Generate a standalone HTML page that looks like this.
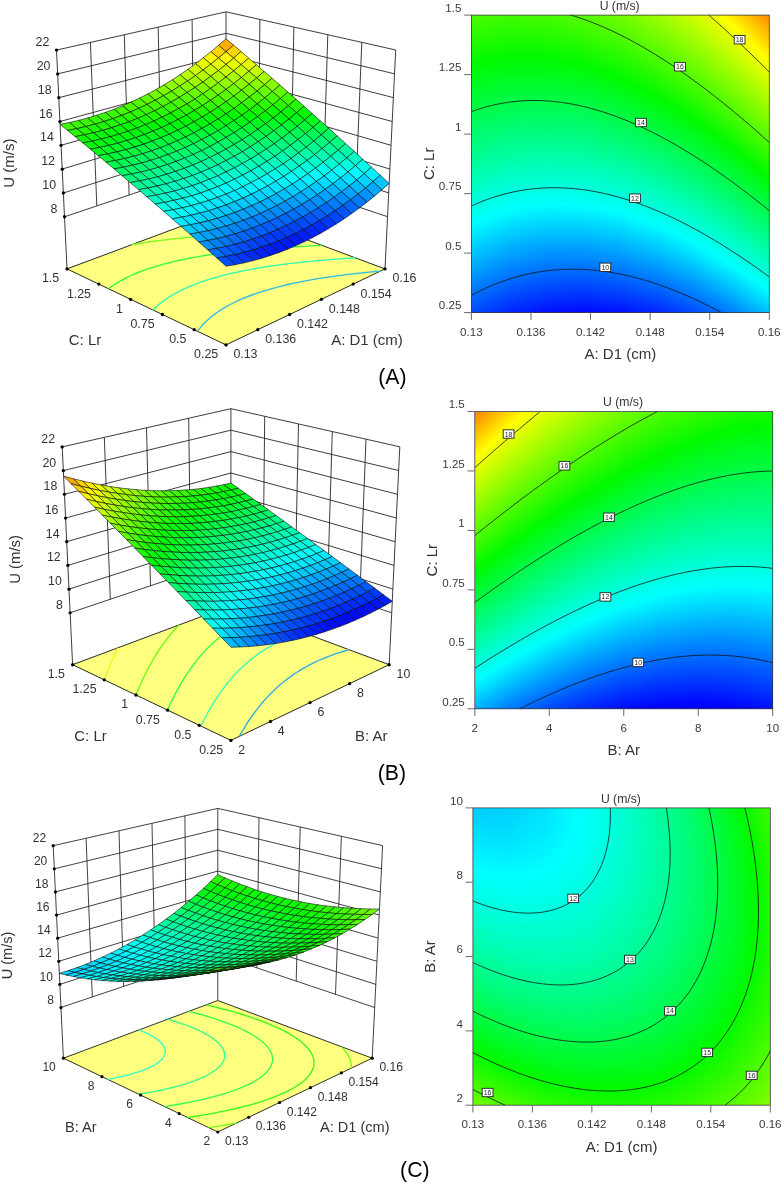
<!DOCTYPE html>
<html><head><meta charset="utf-8"><title>Figure</title>
<style>html,body{margin:0;padding:0;background:#fff}svg{display:block;will-change:transform}text{font-family:"Liberation Sans",Arial,sans-serif}</style>
</head><body>
<svg width="783" height="1183" viewBox="0 0 783 1183">
<defs><linearGradient id="a0"><stop offset="0" stop-color="#48fb00"/><stop offset="0.125" stop-color="#40fb00"/><stop offset="0.25" stop-color="#44fb00"/><stop offset="0.375" stop-color="#54fc00"/><stop offset="0.5" stop-color="#71fc00"/><stop offset="0.625" stop-color="#99fd00"/><stop offset="0.75" stop-color="#cefe00"/><stop offset="0.846" stop-color="#ffff00"/><stop offset="0.875" stop-color="#ffeb00"/><stop offset="1" stop-color="#ff8b00"/></linearGradient>
<linearGradient id="a1"><stop offset="0" stop-color="#44fb00"/><stop offset="0.125" stop-color="#3bfb00"/><stop offset="0.25" stop-color="#3ffb00"/><stop offset="0.375" stop-color="#4ffc00"/><stop offset="0.5" stop-color="#6bfc00"/><stop offset="0.625" stop-color="#94fd00"/><stop offset="0.75" stop-color="#c8fe00"/><stop offset="0.857" stop-color="#ffff00"/><stop offset="0.875" stop-color="#fff200"/><stop offset="1" stop-color="#ff9300"/></linearGradient>
<linearGradient id="a2"><stop offset="0" stop-color="#3ffb00"/><stop offset="0.125" stop-color="#37fb00"/><stop offset="0.25" stop-color="#3afb00"/><stop offset="0.375" stop-color="#4afb00"/><stop offset="0.5" stop-color="#66fc00"/><stop offset="0.625" stop-color="#8efd00"/><stop offset="0.75" stop-color="#c3fe00"/><stop offset="0.867" stop-color="#ffff00"/><stop offset="0.875" stop-color="#fffa00"/><stop offset="1" stop-color="#ff9a00"/></linearGradient>
<linearGradient id="a3"><stop offset="0" stop-color="#3bfb00"/><stop offset="0.125" stop-color="#32fb00"/><stop offset="0.25" stop-color="#35fb00"/><stop offset="0.375" stop-color="#45fb00"/><stop offset="0.5" stop-color="#61fc00"/><stop offset="0.625" stop-color="#89fd00"/><stop offset="0.75" stop-color="#bdfe00"/><stop offset="0.875" stop-color="#fdff00"/><stop offset="0.878" stop-color="#ffff00"/><stop offset="1" stop-color="#ffa200"/></linearGradient>
<linearGradient id="a4"><stop offset="0" stop-color="#36fb00"/><stop offset="0.125" stop-color="#2dfb00"/><stop offset="0.25" stop-color="#30fb00"/><stop offset="0.375" stop-color="#40fb00"/><stop offset="0.5" stop-color="#5bfc00"/><stop offset="0.625" stop-color="#83fd00"/><stop offset="0.75" stop-color="#b7fe00"/><stop offset="0.875" stop-color="#f7ff00"/><stop offset="0.889" stop-color="#ffff00"/><stop offset="1" stop-color="#ffaa00"/></linearGradient>
<linearGradient id="a5"><stop offset="0" stop-color="#32fb00"/><stop offset="0.125" stop-color="#29fb00"/><stop offset="0.25" stop-color="#2bfb00"/><stop offset="0.375" stop-color="#3bfb00"/><stop offset="0.5" stop-color="#56fc00"/><stop offset="0.625" stop-color="#7dfc00"/><stop offset="0.75" stop-color="#b1fd00"/><stop offset="0.875" stop-color="#f1ff00"/><stop offset="0.899" stop-color="#ffff00"/><stop offset="1" stop-color="#ffb200"/></linearGradient>
<linearGradient id="a6"><stop offset="0" stop-color="#2dfb00"/><stop offset="0.125" stop-color="#24fb00"/><stop offset="0.25" stop-color="#26fb00"/><stop offset="0.375" stop-color="#35fb00"/><stop offset="0.5" stop-color="#50fc00"/><stop offset="0.625" stop-color="#78fc00"/><stop offset="0.75" stop-color="#abfd00"/><stop offset="0.875" stop-color="#ebff00"/><stop offset="0.91" stop-color="#ffff00"/><stop offset="1" stop-color="#ffb900"/></linearGradient>
<linearGradient id="a7"><stop offset="0" stop-color="#29fb00"/><stop offset="0.125" stop-color="#1ffb00"/><stop offset="0.25" stop-color="#22fb00"/><stop offset="0.375" stop-color="#30fb00"/><stop offset="0.5" stop-color="#4bfb00"/><stop offset="0.625" stop-color="#72fc00"/><stop offset="0.75" stop-color="#a5fd00"/><stop offset="0.875" stop-color="#e5fe00"/><stop offset="0.92" stop-color="#ffff00"/><stop offset="1" stop-color="#ffc100"/></linearGradient>
<linearGradient id="a8"><stop offset="0" stop-color="#24fb00"/><stop offset="0.125" stop-color="#1afb00"/><stop offset="0.25" stop-color="#1dfb00"/><stop offset="0.375" stop-color="#2bfb00"/><stop offset="0.5" stop-color="#46fb00"/><stop offset="0.625" stop-color="#6dfc00"/><stop offset="0.75" stop-color="#a0fd00"/><stop offset="0.875" stop-color="#dffe00"/><stop offset="0.931" stop-color="#ffff00"/><stop offset="1" stop-color="#ffc900"/></linearGradient>
<linearGradient id="a9"><stop offset="0" stop-color="#20fb00"/><stop offset="0.125" stop-color="#16fa00"/><stop offset="0.25" stop-color="#18fa00"/><stop offset="0.375" stop-color="#26fb00"/><stop offset="0.5" stop-color="#40fb00"/><stop offset="0.625" stop-color="#67fc00"/><stop offset="0.75" stop-color="#9afd00"/><stop offset="0.875" stop-color="#d9fe00"/><stop offset="0.941" stop-color="#ffff00"/><stop offset="1" stop-color="#ffd100"/></linearGradient>
<linearGradient id="a10"><stop offset="0" stop-color="#1bfb00"/><stop offset="0.125" stop-color="#11fa00"/><stop offset="0.25" stop-color="#13fa00"/><stop offset="0.375" stop-color="#21fb00"/><stop offset="0.5" stop-color="#3bfb00"/><stop offset="0.625" stop-color="#61fc00"/><stop offset="0.75" stop-color="#94fd00"/><stop offset="0.875" stop-color="#d3fe00"/><stop offset="0.951" stop-color="#ffff00"/><stop offset="1" stop-color="#ffd900"/></linearGradient>
<linearGradient id="a11"><stop offset="0" stop-color="#17fa00"/><stop offset="0.125" stop-color="#0cfa00"/><stop offset="0.25" stop-color="#0efa00"/><stop offset="0.375" stop-color="#1bfb00"/><stop offset="0.5" stop-color="#35fb00"/><stop offset="0.625" stop-color="#5cfc00"/><stop offset="0.75" stop-color="#8efd00"/><stop offset="0.875" stop-color="#cdfe00"/><stop offset="0.961" stop-color="#ffff00"/><stop offset="1" stop-color="#ffe100"/></linearGradient>
<linearGradient id="a12"><stop offset="0" stop-color="#12fa00"/><stop offset="0.125" stop-color="#07fa00"/><stop offset="0.25" stop-color="#09fa00"/><stop offset="0.375" stop-color="#16fa00"/><stop offset="0.5" stop-color="#30fb00"/><stop offset="0.625" stop-color="#56fc00"/><stop offset="0.75" stop-color="#88fd00"/><stop offset="0.875" stop-color="#c7fe00"/><stop offset="0.971" stop-color="#ffff00"/><stop offset="1" stop-color="#ffe800"/></linearGradient>
<linearGradient id="a13"><stop offset="0" stop-color="#0efa00"/><stop offset="0.125" stop-color="#03fa00"/><stop offset="0.25" stop-color="#04fa00"/><stop offset="0.375" stop-color="#11fa00"/><stop offset="0.5" stop-color="#2bfb00"/><stop offset="0.625" stop-color="#50fc00"/><stop offset="0.75" stop-color="#82fd00"/><stop offset="0.875" stop-color="#c0fe00"/><stop offset="0.981" stop-color="#ffff00"/><stop offset="1" stop-color="#fff000"/></linearGradient>
<linearGradient id="a14"><stop offset="0" stop-color="#09fa00"/><stop offset="0.088" stop-color="#00fa00"/><stop offset="0.125" stop-color="#00fa02"/><stop offset="0.25" stop-color="#00fa01"/><stop offset="0.27" stop-color="#00fa00"/><stop offset="0.375" stop-color="#0cfa00"/><stop offset="0.5" stop-color="#25fb00"/><stop offset="0.625" stop-color="#4bfb00"/><stop offset="0.75" stop-color="#7cfc00"/><stop offset="0.875" stop-color="#bafe00"/><stop offset="0.991" stop-color="#ffff00"/><stop offset="1" stop-color="#fff800"/></linearGradient>
<linearGradient id="a15"><stop offset="0" stop-color="#05fa00"/><stop offset="0.037" stop-color="#00fa00"/><stop offset="0.125" stop-color="#00fa07"/><stop offset="0.25" stop-color="#00fa06"/><stop offset="0.325" stop-color="#00fa00"/><stop offset="0.375" stop-color="#07fa00"/><stop offset="0.5" stop-color="#20fb00"/><stop offset="0.625" stop-color="#45fb00"/><stop offset="0.75" stop-color="#76fc00"/><stop offset="0.875" stop-color="#b4fe00"/><stop offset="1" stop-color="#feff00"/></linearGradient>
<linearGradient id="a16"><stop offset="0" stop-color="#00fa00"/><stop offset="0.001" stop-color="#00fa00"/><stop offset="0.125" stop-color="#00fa0c"/><stop offset="0.25" stop-color="#00fa0b"/><stop offset="0.366" stop-color="#00fa00"/><stop offset="0.375" stop-color="#01fa00"/><stop offset="0.5" stop-color="#1afb00"/><stop offset="0.625" stop-color="#3ffb00"/><stop offset="0.75" stop-color="#71fc00"/><stop offset="0.875" stop-color="#aefd00"/><stop offset="1" stop-color="#f8ff00"/></linearGradient>
<linearGradient id="a17"><stop offset="0" stop-color="#00fa04"/><stop offset="0.125" stop-color="#00fa10"/><stop offset="0.25" stop-color="#00fa10"/><stop offset="0.375" stop-color="#00fa04"/><stop offset="0.4" stop-color="#00fa00"/><stop offset="0.5" stop-color="#15fa00"/><stop offset="0.625" stop-color="#3afb00"/><stop offset="0.75" stop-color="#6bfc00"/><stop offset="0.875" stop-color="#a8fd00"/><stop offset="1" stop-color="#f1ff00"/></linearGradient>
<linearGradient id="a18"><stop offset="0" stop-color="#00fa09"/><stop offset="0.125" stop-color="#00fa15"/><stop offset="0.25" stop-color="#00fa15"/><stop offset="0.375" stop-color="#00fa09"/><stop offset="0.429" stop-color="#00fa00"/><stop offset="0.5" stop-color="#0ffa00"/><stop offset="0.625" stop-color="#34fb00"/><stop offset="0.75" stop-color="#65fc00"/><stop offset="0.875" stop-color="#a2fd00"/><stop offset="1" stop-color="#ebff00"/></linearGradient>
<linearGradient id="a19"><stop offset="0" stop-color="#00fa0e"/><stop offset="0.125" stop-color="#00fb1a"/><stop offset="0.25" stop-color="#00fb1a"/><stop offset="0.375" stop-color="#00fa0e"/><stop offset="0.457" stop-color="#00fa00"/><stop offset="0.5" stop-color="#0afa00"/><stop offset="0.625" stop-color="#2efb00"/><stop offset="0.75" stop-color="#5ffc00"/><stop offset="0.875" stop-color="#9cfd00"/><stop offset="1" stop-color="#e5fe00"/></linearGradient>
<linearGradient id="a20"><stop offset="0" stop-color="#00fa12"/><stop offset="0.125" stop-color="#00fb1f"/><stop offset="0.25" stop-color="#00fb1f"/><stop offset="0.375" stop-color="#00fa14"/><stop offset="0.482" stop-color="#00fa00"/><stop offset="0.5" stop-color="#04fa00"/><stop offset="0.625" stop-color="#28fb00"/><stop offset="0.75" stop-color="#59fc00"/><stop offset="0.875" stop-color="#95fd00"/><stop offset="1" stop-color="#defe00"/></linearGradient>
<linearGradient id="a21"><stop offset="0" stop-color="#00fa17"/><stop offset="0.125" stop-color="#00fb24"/><stop offset="0.25" stop-color="#00fb24"/><stop offset="0.375" stop-color="#00fa19"/><stop offset="0.5" stop-color="#00fa01"/><stop offset="0.505" stop-color="#00fa00"/><stop offset="0.625" stop-color="#23fb00"/><stop offset="0.75" stop-color="#53fc00"/><stop offset="0.875" stop-color="#8ffd00"/><stop offset="1" stop-color="#d8fe00"/></linearGradient>
<linearGradient id="a22"><stop offset="0" stop-color="#00fb1b"/><stop offset="0.125" stop-color="#00fb29"/><stop offset="0.25" stop-color="#00fb2a"/><stop offset="0.375" stop-color="#00fb1e"/><stop offset="0.5" stop-color="#00fa07"/><stop offset="0.527" stop-color="#00fa00"/><stop offset="0.625" stop-color="#1dfb00"/><stop offset="0.75" stop-color="#4dfc00"/><stop offset="0.875" stop-color="#89fd00"/><stop offset="1" stop-color="#d1fe00"/></linearGradient>
<linearGradient id="a23"><stop offset="0" stop-color="#00fb20"/><stop offset="0.125" stop-color="#00fb2d"/><stop offset="0.25" stop-color="#00fb2f"/><stop offset="0.375" stop-color="#00fb24"/><stop offset="0.5" stop-color="#00fa0c"/><stop offset="0.548" stop-color="#00fa00"/><stop offset="0.625" stop-color="#17fa00"/><stop offset="0.75" stop-color="#47fb00"/><stop offset="0.875" stop-color="#83fd00"/><stop offset="1" stop-color="#cbfe00"/></linearGradient>
<linearGradient id="a24"><stop offset="0" stop-color="#00fb25"/><stop offset="0.125" stop-color="#00fb32"/><stop offset="0.25" stop-color="#00fb34"/><stop offset="0.375" stop-color="#00fb29"/><stop offset="0.5" stop-color="#00fa12"/><stop offset="0.569" stop-color="#00fa00"/><stop offset="0.625" stop-color="#11fa00"/><stop offset="0.75" stop-color="#41fb00"/><stop offset="0.875" stop-color="#7dfc00"/><stop offset="1" stop-color="#c5fe00"/></linearGradient>
<linearGradient id="a25"><stop offset="0" stop-color="#00fb29"/><stop offset="0.125" stop-color="#00fb37"/><stop offset="0.25" stop-color="#00fb39"/><stop offset="0.375" stop-color="#00fb2e"/><stop offset="0.5" stop-color="#00fa17"/><stop offset="0.588" stop-color="#00fa00"/><stop offset="0.625" stop-color="#0cfa00"/><stop offset="0.75" stop-color="#3bfb00"/><stop offset="0.875" stop-color="#76fc00"/><stop offset="1" stop-color="#befe00"/></linearGradient>
<linearGradient id="a26"><stop offset="0" stop-color="#00fb2e"/><stop offset="0.125" stop-color="#00fb3c"/><stop offset="0.25" stop-color="#00fb3e"/><stop offset="0.375" stop-color="#00fb34"/><stop offset="0.5" stop-color="#00fb1d"/><stop offset="0.607" stop-color="#00fa00"/><stop offset="0.625" stop-color="#06fa00"/><stop offset="0.75" stop-color="#35fb00"/><stop offset="0.875" stop-color="#70fc00"/><stop offset="1" stop-color="#b8fe00"/></linearGradient>
<linearGradient id="a27"><stop offset="0" stop-color="#00fb33"/><stop offset="0.125" stop-color="#00fb41"/><stop offset="0.25" stop-color="#00fb43"/><stop offset="0.375" stop-color="#00fb39"/><stop offset="0.5" stop-color="#00fb22"/><stop offset="0.625" stop-color="#00fa00"/><stop offset="0.625" stop-color="#00fa00"/><stop offset="0.75" stop-color="#2ffb00"/><stop offset="0.875" stop-color="#6afc00"/><stop offset="1" stop-color="#b1fd00"/></linearGradient>
<linearGradient id="a28"><stop offset="0" stop-color="#00fb37"/><stop offset="0.125" stop-color="#00fb46"/><stop offset="0.25" stop-color="#00fb48"/><stop offset="0.375" stop-color="#00fb3e"/><stop offset="0.5" stop-color="#00fb28"/><stop offset="0.625" stop-color="#00fa06"/><stop offset="0.642" stop-color="#00fa00"/><stop offset="0.75" stop-color="#29fb00"/><stop offset="0.875" stop-color="#64fc00"/><stop offset="1" stop-color="#abfd00"/></linearGradient>
<linearGradient id="a29"><stop offset="0" stop-color="#00fb3c"/><stop offset="0.125" stop-color="#00fb4b"/><stop offset="0.25" stop-color="#00fc4d"/><stop offset="0.375" stop-color="#00fb44"/><stop offset="0.5" stop-color="#00fb2e"/><stop offset="0.625" stop-color="#00fa0b"/><stop offset="0.659" stop-color="#00fa00"/><stop offset="0.75" stop-color="#23fb00"/><stop offset="0.875" stop-color="#5dfc00"/><stop offset="1" stop-color="#a4fd00"/></linearGradient>
<linearGradient id="a30"><stop offset="0" stop-color="#00fb41"/><stop offset="0.125" stop-color="#00fc50"/><stop offset="0.25" stop-color="#00fc52"/><stop offset="0.375" stop-color="#00fb49"/><stop offset="0.5" stop-color="#00fb33"/><stop offset="0.625" stop-color="#00fa11"/><stop offset="0.676" stop-color="#00fa00"/><stop offset="0.75" stop-color="#1dfb00"/><stop offset="0.875" stop-color="#57fc00"/><stop offset="1" stop-color="#9efd00"/></linearGradient>
<linearGradient id="a31"><stop offset="0" stop-color="#00fb45"/><stop offset="0.125" stop-color="#00fc55"/><stop offset="0.25" stop-color="#00fc58"/><stop offset="0.375" stop-color="#00fc4e"/><stop offset="0.5" stop-color="#00fb39"/><stop offset="0.625" stop-color="#00fa17"/><stop offset="0.692" stop-color="#00fa00"/><stop offset="0.75" stop-color="#17fa00"/><stop offset="0.875" stop-color="#51fc00"/><stop offset="1" stop-color="#97fd00"/></linearGradient>
<linearGradient id="a32"><stop offset="0" stop-color="#00fb4a"/><stop offset="0.125" stop-color="#00fc5a"/><stop offset="0.25" stop-color="#00fc5d"/><stop offset="0.375" stop-color="#00fc54"/><stop offset="0.5" stop-color="#00fb3e"/><stop offset="0.625" stop-color="#00fb1d"/><stop offset="0.708" stop-color="#00fa00"/><stop offset="0.75" stop-color="#11fa00"/><stop offset="0.875" stop-color="#4bfb00"/><stop offset="1" stop-color="#91fd00"/></linearGradient>
<linearGradient id="a33"><stop offset="0" stop-color="#00fc4f"/><stop offset="0.125" stop-color="#00fc5e"/><stop offset="0.25" stop-color="#00fc62"/><stop offset="0.375" stop-color="#00fc59"/><stop offset="0.5" stop-color="#00fb44"/><stop offset="0.625" stop-color="#00fb23"/><stop offset="0.724" stop-color="#00fa00"/><stop offset="0.75" stop-color="#0bfa00"/><stop offset="0.875" stop-color="#44fb00"/><stop offset="1" stop-color="#8afd00"/></linearGradient>
<linearGradient id="a34"><stop offset="0" stop-color="#00fc54"/><stop offset="0.125" stop-color="#00fc63"/><stop offset="0.25" stop-color="#00fc67"/><stop offset="0.375" stop-color="#00fc5e"/><stop offset="0.5" stop-color="#00fb4a"/><stop offset="0.625" stop-color="#00fb29"/><stop offset="0.739" stop-color="#00fa00"/><stop offset="0.75" stop-color="#05fa00"/><stop offset="0.875" stop-color="#3efb00"/><stop offset="1" stop-color="#84fd00"/></linearGradient>
<linearGradient id="a35"><stop offset="0" stop-color="#00fc58"/><stop offset="0.125" stop-color="#00fc68"/><stop offset="0.25" stop-color="#00fc6c"/><stop offset="0.375" stop-color="#00fc64"/><stop offset="0.5" stop-color="#00fc4f"/><stop offset="0.625" stop-color="#00fb2f"/><stop offset="0.75" stop-color="#00fa02"/><stop offset="0.754" stop-color="#00fa00"/><stop offset="0.875" stop-color="#38fb00"/><stop offset="1" stop-color="#7dfc00"/></linearGradient>
<linearGradient id="a36"><stop offset="0" stop-color="#00fc5d"/><stop offset="0.125" stop-color="#00fc6d"/><stop offset="0.25" stop-color="#00fc71"/><stop offset="0.375" stop-color="#00fc69"/><stop offset="0.5" stop-color="#00fc55"/><stop offset="0.625" stop-color="#00fb34"/><stop offset="0.75" stop-color="#00fa08"/><stop offset="0.768" stop-color="#00fa00"/><stop offset="0.875" stop-color="#31fb00"/><stop offset="1" stop-color="#77fc00"/></linearGradient>
<linearGradient id="a37"><stop offset="0" stop-color="#00fc62"/><stop offset="0.125" stop-color="#00fc72"/><stop offset="0.25" stop-color="#00fc77"/><stop offset="0.375" stop-color="#00fc6f"/><stop offset="0.5" stop-color="#00fc5b"/><stop offset="0.625" stop-color="#00fb3a"/><stop offset="0.75" stop-color="#00fa0e"/><stop offset="0.783" stop-color="#00fa00"/><stop offset="0.875" stop-color="#2bfb00"/><stop offset="1" stop-color="#70fc00"/></linearGradient>
<linearGradient id="a38"><stop offset="0" stop-color="#00fc67"/><stop offset="0.125" stop-color="#00fc77"/><stop offset="0.25" stop-color="#00fc7c"/><stop offset="0.375" stop-color="#00fc74"/><stop offset="0.5" stop-color="#00fc60"/><stop offset="0.625" stop-color="#00fb40"/><stop offset="0.75" stop-color="#00fa14"/><stop offset="0.797" stop-color="#00fa00"/><stop offset="0.875" stop-color="#25fb00"/><stop offset="1" stop-color="#69fc00"/></linearGradient>
<linearGradient id="a39"><stop offset="0" stop-color="#00fc6b"/><stop offset="0.125" stop-color="#00fc7c"/><stop offset="0.25" stop-color="#00fd81"/><stop offset="0.375" stop-color="#00fc7a"/><stop offset="0.5" stop-color="#00fc66"/><stop offset="0.625" stop-color="#00fb46"/><stop offset="0.75" stop-color="#00fb1a"/><stop offset="0.811" stop-color="#00fa00"/><stop offset="0.875" stop-color="#1efb00"/><stop offset="1" stop-color="#63fc00"/></linearGradient>
<linearGradient id="a40"><stop offset="0" stop-color="#00fc70"/><stop offset="0.125" stop-color="#00fd81"/><stop offset="0.25" stop-color="#00fd86"/><stop offset="0.375" stop-color="#00fc7f"/><stop offset="0.5" stop-color="#00fc6c"/><stop offset="0.625" stop-color="#00fb4c"/><stop offset="0.75" stop-color="#00fb20"/><stop offset="0.825" stop-color="#00fa00"/><stop offset="0.875" stop-color="#18fa00"/><stop offset="1" stop-color="#5cfc00"/></linearGradient>
<linearGradient id="a41"><stop offset="0" stop-color="#00fc75"/><stop offset="0.125" stop-color="#00fd86"/><stop offset="0.25" stop-color="#00fd8c"/><stop offset="0.375" stop-color="#00fd85"/><stop offset="0.5" stop-color="#00fc71"/><stop offset="0.625" stop-color="#00fc52"/><stop offset="0.75" stop-color="#00fb26"/><stop offset="0.838" stop-color="#00fa00"/><stop offset="0.875" stop-color="#12fa00"/><stop offset="1" stop-color="#56fc00"/></linearGradient>
<linearGradient id="a42"><stop offset="0" stop-color="#00fc7a"/><stop offset="0.125" stop-color="#00fd8b"/><stop offset="0.25" stop-color="#00fd91"/><stop offset="0.375" stop-color="#00fd8a"/><stop offset="0.5" stop-color="#00fc77"/><stop offset="0.625" stop-color="#00fc58"/><stop offset="0.75" stop-color="#00fb2c"/><stop offset="0.852" stop-color="#00fa00"/><stop offset="0.875" stop-color="#0bfa00"/><stop offset="1" stop-color="#4ffc00"/></linearGradient>
<linearGradient id="a43"><stop offset="0" stop-color="#00fc7e"/><stop offset="0.125" stop-color="#00fd90"/><stop offset="0.25" stop-color="#00fd96"/><stop offset="0.375" stop-color="#00fd8f"/><stop offset="0.5" stop-color="#00fc7d"/><stop offset="0.625" stop-color="#00fc5e"/><stop offset="0.75" stop-color="#00fb33"/><stop offset="0.865" stop-color="#00fa00"/><stop offset="0.875" stop-color="#05fa00"/><stop offset="1" stop-color="#48fb00"/></linearGradient>
<linearGradient id="a44"><stop offset="0" stop-color="#00fd83"/><stop offset="0.125" stop-color="#00fd95"/><stop offset="0.25" stop-color="#00fd9b"/><stop offset="0.375" stop-color="#00fd95"/><stop offset="0.5" stop-color="#00fd82"/><stop offset="0.625" stop-color="#00fc64"/><stop offset="0.75" stop-color="#00fb39"/><stop offset="0.875" stop-color="#00fa02"/><stop offset="0.878" stop-color="#00fa00"/><stop offset="1" stop-color="#42fb00"/></linearGradient>
<linearGradient id="a45"><stop offset="0" stop-color="#00fd88"/><stop offset="0.125" stop-color="#00fd9a"/><stop offset="0.25" stop-color="#00fda1"/><stop offset="0.375" stop-color="#00fd9a"/><stop offset="0.5" stop-color="#00fd88"/><stop offset="0.625" stop-color="#00fc6a"/><stop offset="0.75" stop-color="#00fb3f"/><stop offset="0.875" stop-color="#00fa08"/><stop offset="0.891" stop-color="#00fa00"/><stop offset="1" stop-color="#3bfb00"/></linearGradient>
<linearGradient id="a46"><stop offset="0" stop-color="#00fd8d"/><stop offset="0.125" stop-color="#00fda0"/><stop offset="0.25" stop-color="#00fda6"/><stop offset="0.375" stop-color="#00fda0"/><stop offset="0.5" stop-color="#00fd8e"/><stop offset="0.625" stop-color="#00fc70"/><stop offset="0.75" stop-color="#00fb45"/><stop offset="0.875" stop-color="#00fa0e"/><stop offset="0.904" stop-color="#00fa00"/><stop offset="1" stop-color="#35fb00"/></linearGradient>
<linearGradient id="a47"><stop offset="0" stop-color="#00fd92"/><stop offset="0.125" stop-color="#00fda5"/><stop offset="0.25" stop-color="#00fdab"/><stop offset="0.375" stop-color="#00fda6"/><stop offset="0.5" stop-color="#00fd94"/><stop offset="0.625" stop-color="#00fc76"/><stop offset="0.75" stop-color="#00fb4b"/><stop offset="0.875" stop-color="#00fa15"/><stop offset="0.916" stop-color="#00fa00"/><stop offset="1" stop-color="#2efb00"/></linearGradient>
<linearGradient id="a48"><stop offset="0" stop-color="#00fd97"/><stop offset="0.125" stop-color="#00fdaa"/><stop offset="0.25" stop-color="#00fdb0"/><stop offset="0.375" stop-color="#00fdab"/><stop offset="0.5" stop-color="#00fd99"/><stop offset="0.625" stop-color="#00fc7c"/><stop offset="0.75" stop-color="#00fc51"/><stop offset="0.875" stop-color="#00fb1b"/><stop offset="0.929" stop-color="#00fa00"/><stop offset="1" stop-color="#27fb00"/></linearGradient>
<linearGradient id="a49"><stop offset="0" stop-color="#00fd9c"/><stop offset="0.125" stop-color="#00fdaf"/><stop offset="0.25" stop-color="#00feb6"/><stop offset="0.375" stop-color="#00fdb1"/><stop offset="0.5" stop-color="#00fd9f"/><stop offset="0.625" stop-color="#00fd82"/><stop offset="0.75" stop-color="#00fc58"/><stop offset="0.875" stop-color="#00fb22"/><stop offset="0.941" stop-color="#00fa00"/><stop offset="1" stop-color="#21fb00"/></linearGradient>
<linearGradient id="a50"><stop offset="0" stop-color="#00fda0"/><stop offset="0.125" stop-color="#00feb4"/><stop offset="0.25" stop-color="#00febb"/><stop offset="0.375" stop-color="#00feb6"/><stop offset="0.5" stop-color="#00fda5"/><stop offset="0.625" stop-color="#00fd88"/><stop offset="0.75" stop-color="#00fc5e"/><stop offset="0.875" stop-color="#00fb28"/><stop offset="0.954" stop-color="#00fa00"/><stop offset="1" stop-color="#1afb00"/></linearGradient>
<linearGradient id="a51"><stop offset="0" stop-color="#00fda5"/><stop offset="0.125" stop-color="#00feb9"/><stop offset="0.25" stop-color="#00fec0"/><stop offset="0.375" stop-color="#00febc"/><stop offset="0.5" stop-color="#00fdab"/><stop offset="0.625" stop-color="#00fd8e"/><stop offset="0.75" stop-color="#00fc64"/><stop offset="0.875" stop-color="#00fb2f"/><stop offset="0.966" stop-color="#00fa00"/><stop offset="1" stop-color="#13fa00"/></linearGradient>
<linearGradient id="a52"><stop offset="0" stop-color="#00fdaa"/><stop offset="0.125" stop-color="#00febe"/><stop offset="0.25" stop-color="#00fec6"/><stop offset="0.375" stop-color="#00fec1"/><stop offset="0.5" stop-color="#00fdb0"/><stop offset="0.625" stop-color="#00fd94"/><stop offset="0.75" stop-color="#00fc6a"/><stop offset="0.875" stop-color="#00fb35"/><stop offset="0.978" stop-color="#00fa00"/><stop offset="1" stop-color="#0dfa00"/></linearGradient>
<linearGradient id="a53"><stop offset="0" stop-color="#00fdaf"/><stop offset="0.125" stop-color="#00fec3"/><stop offset="0.25" stop-color="#00fecb"/><stop offset="0.375" stop-color="#00fec7"/><stop offset="0.5" stop-color="#00feb6"/><stop offset="0.625" stop-color="#00fd9a"/><stop offset="0.75" stop-color="#00fc71"/><stop offset="0.875" stop-color="#00fb3b"/><stop offset="0.99" stop-color="#00fa00"/><stop offset="1" stop-color="#06fa00"/></linearGradient>
<linearGradient id="a54"><stop offset="0" stop-color="#00feb4"/><stop offset="0.125" stop-color="#00fec8"/><stop offset="0.25" stop-color="#00fed0"/><stop offset="0.375" stop-color="#00fecc"/><stop offset="0.5" stop-color="#00febc"/><stop offset="0.625" stop-color="#00fda0"/><stop offset="0.75" stop-color="#00fc77"/><stop offset="0.875" stop-color="#00fb42"/><stop offset="1" stop-color="#00fa01"/></linearGradient>
<linearGradient id="a55"><stop offset="0" stop-color="#00feb9"/><stop offset="0.125" stop-color="#00fecd"/><stop offset="0.25" stop-color="#00fed6"/><stop offset="0.375" stop-color="#00fed2"/><stop offset="0.5" stop-color="#00fec2"/><stop offset="0.625" stop-color="#00fda6"/><stop offset="0.75" stop-color="#00fc7d"/><stop offset="0.875" stop-color="#00fb48"/><stop offset="1" stop-color="#00fa08"/></linearGradient>
<linearGradient id="a56"><stop offset="0" stop-color="#00febe"/><stop offset="0.125" stop-color="#00fed3"/><stop offset="0.25" stop-color="#00fedb"/><stop offset="0.375" stop-color="#00fed8"/><stop offset="0.5" stop-color="#00fec8"/><stop offset="0.625" stop-color="#00fdac"/><stop offset="0.75" stop-color="#00fd83"/><stop offset="0.875" stop-color="#00fc4f"/><stop offset="1" stop-color="#00fa0e"/></linearGradient>
<linearGradient id="a57"><stop offset="0" stop-color="#00fec3"/><stop offset="0.125" stop-color="#00fed8"/><stop offset="0.25" stop-color="#00fee1"/><stop offset="0.375" stop-color="#00fedd"/><stop offset="0.5" stop-color="#00fece"/><stop offset="0.625" stop-color="#00fdb2"/><stop offset="0.75" stop-color="#00fd8a"/><stop offset="0.875" stop-color="#00fc55"/><stop offset="1" stop-color="#00fa15"/></linearGradient>
<linearGradient id="a58"><stop offset="0" stop-color="#00fec8"/><stop offset="0.125" stop-color="#00fedd"/><stop offset="0.25" stop-color="#00ffe6"/><stop offset="0.375" stop-color="#00fee3"/><stop offset="0.5" stop-color="#00fed3"/><stop offset="0.625" stop-color="#00feb8"/><stop offset="0.75" stop-color="#00fd90"/><stop offset="0.875" stop-color="#00fc5c"/><stop offset="1" stop-color="#00fb1c"/></linearGradient>
<linearGradient id="a59"><stop offset="0" stop-color="#00fecd"/><stop offset="0.125" stop-color="#00fee2"/><stop offset="0.25" stop-color="#00ffeb"/><stop offset="0.375" stop-color="#00ffe8"/><stop offset="0.5" stop-color="#00fed9"/><stop offset="0.625" stop-color="#00febe"/><stop offset="0.75" stop-color="#00fd96"/><stop offset="0.875" stop-color="#00fc62"/><stop offset="1" stop-color="#00fb22"/></linearGradient>
<linearGradient id="a60"><stop offset="0" stop-color="#00fed2"/><stop offset="0.125" stop-color="#00ffe7"/><stop offset="0.25" stop-color="#00fff1"/><stop offset="0.375" stop-color="#00ffee"/><stop offset="0.5" stop-color="#00fedf"/><stop offset="0.625" stop-color="#00fec4"/><stop offset="0.75" stop-color="#00fd9d"/><stop offset="0.875" stop-color="#00fc69"/><stop offset="1" stop-color="#00fb29"/></linearGradient>
<linearGradient id="a61"><stop offset="0" stop-color="#00fed7"/><stop offset="0.125" stop-color="#00ffec"/><stop offset="0.25" stop-color="#00fff6"/><stop offset="0.375" stop-color="#00fff4"/><stop offset="0.5" stop-color="#00fee5"/><stop offset="0.625" stop-color="#00feca"/><stop offset="0.75" stop-color="#00fda3"/><stop offset="0.875" stop-color="#00fc70"/><stop offset="1" stop-color="#00fb30"/></linearGradient>
<linearGradient id="a62"><stop offset="0" stop-color="#00fedb"/><stop offset="0.125" stop-color="#00fff2"/><stop offset="0.25" stop-color="#00fffc"/><stop offset="0.375" stop-color="#00fff9"/><stop offset="0.5" stop-color="#00ffeb"/><stop offset="0.625" stop-color="#00fed0"/><stop offset="0.75" stop-color="#00fda9"/><stop offset="0.875" stop-color="#00fc76"/><stop offset="1" stop-color="#00fb37"/></linearGradient>
<linearGradient id="a63"><stop offset="0" stop-color="#00fee0"/><stop offset="0.125" stop-color="#00fff7"/><stop offset="0.208" stop-color="#00ffff"/><stop offset="0.25" stop-color="#00fdff"/><stop offset="0.375" stop-color="#00ffff"/><stop offset="0.5" stop-color="#00fff1"/><stop offset="0.625" stop-color="#00fed6"/><stop offset="0.75" stop-color="#00fdb0"/><stop offset="0.875" stop-color="#00fc7d"/><stop offset="1" stop-color="#00fb3e"/></linearGradient>
<linearGradient id="a64"><stop offset="0" stop-color="#00fee5"/><stop offset="0.125" stop-color="#00fffc"/><stop offset="0.149" stop-color="#00ffff"/><stop offset="0.25" stop-color="#00f6ff"/><stop offset="0.375" stop-color="#00f8ff"/><stop offset="0.439" stop-color="#00ffff"/><stop offset="0.5" stop-color="#00fff7"/><stop offset="0.625" stop-color="#00fedc"/><stop offset="0.75" stop-color="#00feb6"/><stop offset="0.875" stop-color="#00fd83"/><stop offset="1" stop-color="#00fb44"/></linearGradient>
<linearGradient id="a65"><stop offset="0" stop-color="#00ffea"/><stop offset="0.108" stop-color="#00ffff"/><stop offset="0.125" stop-color="#00fcff"/><stop offset="0.25" stop-color="#00f0ff"/><stop offset="0.375" stop-color="#00f1ff"/><stop offset="0.484" stop-color="#00ffff"/><stop offset="0.5" stop-color="#00fffd"/><stop offset="0.625" stop-color="#00fee3"/><stop offset="0.75" stop-color="#00febc"/><stop offset="0.875" stop-color="#00fd8a"/><stop offset="1" stop-color="#00fb4b"/></linearGradient>
<linearGradient id="a66"><stop offset="0" stop-color="#00ffef"/><stop offset="0.076" stop-color="#00ffff"/><stop offset="0.125" stop-color="#00f6ff"/><stop offset="0.25" stop-color="#00e9ff"/><stop offset="0.375" stop-color="#00ebff"/><stop offset="0.5" stop-color="#00fbff"/><stop offset="0.521" stop-color="#00ffff"/><stop offset="0.625" stop-color="#00ffe9"/><stop offset="0.75" stop-color="#00fec3"/><stop offset="0.875" stop-color="#00fd90"/><stop offset="1" stop-color="#00fc52"/></linearGradient>
<linearGradient id="a67"><stop offset="0" stop-color="#00fff5"/><stop offset="0.049" stop-color="#00ffff"/><stop offset="0.125" stop-color="#00f0ff"/><stop offset="0.25" stop-color="#00e2ff"/><stop offset="0.375" stop-color="#00e4ff"/><stop offset="0.5" stop-color="#00f4ff"/><stop offset="0.553" stop-color="#00ffff"/><stop offset="0.625" stop-color="#00ffef"/><stop offset="0.75" stop-color="#00fec9"/><stop offset="0.875" stop-color="#00fd97"/><stop offset="1" stop-color="#00fc59"/></linearGradient>
<linearGradient id="a68"><stop offset="0" stop-color="#00fffa"/><stop offset="0.024" stop-color="#00ffff"/><stop offset="0.125" stop-color="#00e9ff"/><stop offset="0.25" stop-color="#00dcff"/><stop offset="0.375" stop-color="#00ddff"/><stop offset="0.5" stop-color="#00edff"/><stop offset="0.582" stop-color="#00ffff"/><stop offset="0.625" stop-color="#00fff5"/><stop offset="0.75" stop-color="#00fecf"/><stop offset="0.875" stop-color="#00fd9e"/><stop offset="1" stop-color="#00fc60"/></linearGradient>
<linearGradient id="a69"><stop offset="0" stop-color="#00ffff"/><stop offset="0.002" stop-color="#00ffff"/><stop offset="0.125" stop-color="#00e3ff"/><stop offset="0.25" stop-color="#00d5ff"/><stop offset="0.375" stop-color="#00d6ff"/><stop offset="0.5" stop-color="#00e6ff"/><stop offset="0.609" stop-color="#00ffff"/><stop offset="0.625" stop-color="#00fffb"/><stop offset="0.75" stop-color="#00fed6"/><stop offset="0.875" stop-color="#00fda4"/><stop offset="1" stop-color="#00fc66"/></linearGradient>
<linearGradient id="a70"><stop offset="0" stop-color="#00f9ff"/><stop offset="0.125" stop-color="#00ddff"/><stop offset="0.25" stop-color="#00cfff"/><stop offset="0.375" stop-color="#00cfff"/><stop offset="0.5" stop-color="#00deff"/><stop offset="0.625" stop-color="#00fcff"/><stop offset="0.634" stop-color="#00ffff"/><stop offset="0.75" stop-color="#00fedc"/><stop offset="0.875" stop-color="#00fdab"/><stop offset="1" stop-color="#00fc6d"/></linearGradient>
<linearGradient id="a71"><stop offset="0" stop-color="#00f3ff"/><stop offset="0.125" stop-color="#00d6ff"/><stop offset="0.25" stop-color="#00c8ff"/><stop offset="0.375" stop-color="#00c8ff"/><stop offset="0.5" stop-color="#00d7ff"/><stop offset="0.625" stop-color="#00f5ff"/><stop offset="0.658" stop-color="#00ffff"/><stop offset="0.75" stop-color="#00fee3"/><stop offset="0.875" stop-color="#00fdb1"/><stop offset="1" stop-color="#00fc74"/></linearGradient>
<linearGradient id="a72"><stop offset="0" stop-color="#00edff"/><stop offset="0.125" stop-color="#00d0ff"/><stop offset="0.25" stop-color="#00c2ff"/><stop offset="0.375" stop-color="#00c2ff"/><stop offset="0.5" stop-color="#00d0ff"/><stop offset="0.625" stop-color="#00edff"/><stop offset="0.68" stop-color="#00ffff"/><stop offset="0.75" stop-color="#00ffe9"/><stop offset="0.875" stop-color="#00feb8"/><stop offset="1" stop-color="#00fc7b"/></linearGradient>
<linearGradient id="a73"><stop offset="0" stop-color="#00e7ff"/><stop offset="0.125" stop-color="#00caff"/><stop offset="0.25" stop-color="#00bbff"/><stop offset="0.375" stop-color="#00bbff"/><stop offset="0.5" stop-color="#00c9ff"/><stop offset="0.625" stop-color="#00e6ff"/><stop offset="0.702" stop-color="#00ffff"/><stop offset="0.75" stop-color="#00ffef"/><stop offset="0.875" stop-color="#00febf"/><stop offset="1" stop-color="#00fd82"/></linearGradient>
<linearGradient id="a74"><stop offset="0" stop-color="#00e1ff"/><stop offset="0.125" stop-color="#00c3ff"/><stop offset="0.25" stop-color="#00b4ff"/><stop offset="0.375" stop-color="#00b4ff"/><stop offset="0.5" stop-color="#00c2ff"/><stop offset="0.625" stop-color="#00dfff"/><stop offset="0.722" stop-color="#00ffff"/><stop offset="0.75" stop-color="#00fff6"/><stop offset="0.875" stop-color="#00fec5"/><stop offset="1" stop-color="#00fd89"/></linearGradient>
<linearGradient id="a75"><stop offset="0" stop-color="#00dbff"/><stop offset="0.125" stop-color="#00bdff"/><stop offset="0.25" stop-color="#00aeff"/><stop offset="0.375" stop-color="#00adff"/><stop offset="0.5" stop-color="#00bbff"/><stop offset="0.625" stop-color="#00d7ff"/><stop offset="0.742" stop-color="#00ffff"/><stop offset="0.75" stop-color="#00fffc"/><stop offset="0.875" stop-color="#00fecc"/><stop offset="1" stop-color="#00fd90"/></linearGradient>
<linearGradient id="a76"><stop offset="0" stop-color="#00d5ff"/><stop offset="0.125" stop-color="#00b7ff"/><stop offset="0.25" stop-color="#00a7ff"/><stop offset="0.375" stop-color="#00a6ff"/><stop offset="0.5" stop-color="#00b4ff"/><stop offset="0.625" stop-color="#00d0ff"/><stop offset="0.75" stop-color="#00faff"/><stop offset="0.761" stop-color="#00ffff"/><stop offset="0.875" stop-color="#00fed3"/><stop offset="1" stop-color="#00fd97"/></linearGradient>
<linearGradient id="a77"><stop offset="0" stop-color="#00cfff"/><stop offset="0.125" stop-color="#00b0ff"/><stop offset="0.25" stop-color="#00a0ff"/><stop offset="0.375" stop-color="#009fff"/><stop offset="0.5" stop-color="#00acff"/><stop offset="0.625" stop-color="#00c8ff"/><stop offset="0.75" stop-color="#00f3ff"/><stop offset="0.78" stop-color="#00ffff"/><stop offset="0.875" stop-color="#00fed9"/><stop offset="1" stop-color="#00fd9e"/></linearGradient>
<linearGradient id="a78"><stop offset="0" stop-color="#00c9ff"/><stop offset="0.125" stop-color="#00aaff"/><stop offset="0.25" stop-color="#009aff"/><stop offset="0.375" stop-color="#0098ff"/><stop offset="0.5" stop-color="#00a5ff"/><stop offset="0.625" stop-color="#00c1ff"/><stop offset="0.75" stop-color="#00ebff"/><stop offset="0.798" stop-color="#00ffff"/><stop offset="0.875" stop-color="#00fee0"/><stop offset="1" stop-color="#00fda4"/></linearGradient>
<linearGradient id="a79"><stop offset="0" stop-color="#00c3ff"/><stop offset="0.125" stop-color="#00a4ff"/><stop offset="0.25" stop-color="#0093ff"/><stop offset="0.375" stop-color="#0091ff"/><stop offset="0.5" stop-color="#009eff"/><stop offset="0.625" stop-color="#00b9ff"/><stop offset="0.75" stop-color="#00e3ff"/><stop offset="0.815" stop-color="#00ffff"/><stop offset="0.875" stop-color="#00ffe7"/><stop offset="1" stop-color="#00fdab"/></linearGradient>
<linearGradient id="a80"><stop offset="0" stop-color="#00bcff"/><stop offset="0.125" stop-color="#009dff"/><stop offset="0.25" stop-color="#008cff"/><stop offset="0.375" stop-color="#008aff"/><stop offset="0.5" stop-color="#0097ff"/><stop offset="0.625" stop-color="#00b2ff"/><stop offset="0.75" stop-color="#00dbff"/><stop offset="0.832" stop-color="#00ffff"/><stop offset="0.875" stop-color="#00ffee"/><stop offset="1" stop-color="#00fdb2"/></linearGradient>
<linearGradient id="a81"><stop offset="0" stop-color="#00b6ff"/><stop offset="0.125" stop-color="#0097ff"/><stop offset="0.25" stop-color="#0086ff"/><stop offset="0.375" stop-color="#0083ff"/><stop offset="0.5" stop-color="#008fff"/><stop offset="0.625" stop-color="#00aaff"/><stop offset="0.75" stop-color="#00d4ff"/><stop offset="0.849" stop-color="#00ffff"/><stop offset="0.875" stop-color="#00fff4"/><stop offset="1" stop-color="#00feb9"/></linearGradient>
<linearGradient id="a82"><stop offset="0" stop-color="#00b0ff"/><stop offset="0.125" stop-color="#0090ff"/><stop offset="0.25" stop-color="#007fff"/><stop offset="0.375" stop-color="#007cff"/><stop offset="0.5" stop-color="#0088ff"/><stop offset="0.625" stop-color="#00a3ff"/><stop offset="0.75" stop-color="#00ccff"/><stop offset="0.866" stop-color="#00ffff"/><stop offset="0.875" stop-color="#00fffb"/><stop offset="1" stop-color="#00fec0"/></linearGradient>
<linearGradient id="a83"><stop offset="0" stop-color="#00aaff"/><stop offset="0.125" stop-color="#008aff"/><stop offset="0.25" stop-color="#0078ff"/><stop offset="0.375" stop-color="#0075ff"/><stop offset="0.5" stop-color="#0081ff"/><stop offset="0.625" stop-color="#009bff"/><stop offset="0.75" stop-color="#00c4ff"/><stop offset="0.875" stop-color="#00fcff"/><stop offset="0.882" stop-color="#00ffff"/><stop offset="1" stop-color="#00fec7"/></linearGradient>
<linearGradient id="a84"><stop offset="0" stop-color="#00a4ff"/><stop offset="0.125" stop-color="#0083ff"/><stop offset="0.25" stop-color="#0072ff"/><stop offset="0.375" stop-color="#006eff"/><stop offset="0.5" stop-color="#007aff"/><stop offset="0.625" stop-color="#0094ff"/><stop offset="0.75" stop-color="#00bcff"/><stop offset="0.875" stop-color="#00f4ff"/><stop offset="0.897" stop-color="#00ffff"/><stop offset="1" stop-color="#00fece"/></linearGradient>
<linearGradient id="a85"><stop offset="0" stop-color="#009eff"/><stop offset="0.125" stop-color="#007dff"/><stop offset="0.25" stop-color="#006bff"/><stop offset="0.375" stop-color="#0067ff"/><stop offset="0.5" stop-color="#0072ff"/><stop offset="0.625" stop-color="#008cff"/><stop offset="0.75" stop-color="#00b5ff"/><stop offset="0.875" stop-color="#00ebff"/><stop offset="0.913" stop-color="#00ffff"/><stop offset="1" stop-color="#00fed5"/></linearGradient>
<linearGradient id="a86"><stop offset="0" stop-color="#0097ff"/><stop offset="0.125" stop-color="#0076ff"/><stop offset="0.25" stop-color="#0064ff"/><stop offset="0.375" stop-color="#0060ff"/><stop offset="0.5" stop-color="#006bff"/><stop offset="0.625" stop-color="#0085ff"/><stop offset="0.75" stop-color="#00adff"/><stop offset="0.875" stop-color="#00e3ff"/><stop offset="0.928" stop-color="#00ffff"/><stop offset="1" stop-color="#00fedc"/></linearGradient>
<linearGradient id="a87"><stop offset="0" stop-color="#0091ff"/><stop offset="0.125" stop-color="#0070ff"/><stop offset="0.25" stop-color="#005dff"/><stop offset="0.375" stop-color="#0059ff"/><stop offset="0.5" stop-color="#0064ff"/><stop offset="0.625" stop-color="#007dff"/><stop offset="0.75" stop-color="#00a5ff"/><stop offset="0.875" stop-color="#00dbff"/><stop offset="0.943" stop-color="#00ffff"/><stop offset="1" stop-color="#00fee3"/></linearGradient>
<linearGradient id="a88"><stop offset="0" stop-color="#008bff"/><stop offset="0.125" stop-color="#0069ff"/><stop offset="0.25" stop-color="#0057ff"/><stop offset="0.375" stop-color="#0052ff"/><stop offset="0.5" stop-color="#005dff"/><stop offset="0.625" stop-color="#0075ff"/><stop offset="0.75" stop-color="#009dff"/><stop offset="0.875" stop-color="#00d3ff"/><stop offset="0.958" stop-color="#00ffff"/><stop offset="1" stop-color="#00ffea"/></linearGradient>
<linearGradient id="a89"><stop offset="0" stop-color="#0085ff"/><stop offset="0.125" stop-color="#0063ff"/><stop offset="0.25" stop-color="#0050ff"/><stop offset="0.375" stop-color="#004bff"/><stop offset="0.5" stop-color="#0055ff"/><stop offset="0.625" stop-color="#006eff"/><stop offset="0.75" stop-color="#0095ff"/><stop offset="0.875" stop-color="#00cbff"/><stop offset="0.972" stop-color="#00ffff"/><stop offset="1" stop-color="#00fff1"/></linearGradient>
<linearGradient id="a90"><stop offset="0" stop-color="#007eff"/><stop offset="0.125" stop-color="#005cff"/><stop offset="0.25" stop-color="#0049ff"/><stop offset="0.375" stop-color="#0044ff"/><stop offset="0.5" stop-color="#004eff"/><stop offset="0.625" stop-color="#0066ff"/><stop offset="0.75" stop-color="#008dff"/><stop offset="0.875" stop-color="#00c3ff"/><stop offset="0.986" stop-color="#00ffff"/><stop offset="1" stop-color="#00fff8"/></linearGradient>
<linearGradient id="a91"><stop offset="0" stop-color="#0078ff"/><stop offset="0.125" stop-color="#0056ff"/><stop offset="0.25" stop-color="#0042ff"/><stop offset="0.375" stop-color="#003dff"/><stop offset="0.5" stop-color="#0047ff"/><stop offset="0.625" stop-color="#005fff"/><stop offset="0.75" stop-color="#0085ff"/><stop offset="0.875" stop-color="#00bbff"/><stop offset="1" stop-color="#00ffff"/></linearGradient>
<linearGradient id="a92"><stop offset="0" stop-color="#0072ff"/><stop offset="0.125" stop-color="#004fff"/><stop offset="0.25" stop-color="#003bff"/><stop offset="0.375" stop-color="#0036ff"/><stop offset="0.5" stop-color="#003fff"/><stop offset="0.625" stop-color="#0057ff"/><stop offset="0.75" stop-color="#007dff"/><stop offset="0.875" stop-color="#00b3ff"/><stop offset="1" stop-color="#00f6ff"/></linearGradient>
<linearGradient id="a93"><stop offset="0" stop-color="#006cff"/><stop offset="0.125" stop-color="#0049ff"/><stop offset="0.25" stop-color="#0034ff"/><stop offset="0.375" stop-color="#002fff"/><stop offset="0.5" stop-color="#0038ff"/><stop offset="0.625" stop-color="#004fff"/><stop offset="0.75" stop-color="#0076ff"/><stop offset="0.875" stop-color="#00aaff"/><stop offset="1" stop-color="#00eeff"/></linearGradient>
<linearGradient id="a94"><stop offset="0" stop-color="#0065ff"/><stop offset="0.125" stop-color="#0042ff"/><stop offset="0.25" stop-color="#002eff"/><stop offset="0.375" stop-color="#0028ff"/><stop offset="0.5" stop-color="#0030ff"/><stop offset="0.625" stop-color="#0048ff"/><stop offset="0.75" stop-color="#006eff"/><stop offset="0.875" stop-color="#00a2ff"/><stop offset="1" stop-color="#00e5ff"/></linearGradient>
<linearGradient id="a95"><stop offset="0" stop-color="#005fff"/><stop offset="0.125" stop-color="#003cff"/><stop offset="0.25" stop-color="#0027ff"/><stop offset="0.375" stop-color="#0021ff"/><stop offset="0.5" stop-color="#0029ff"/><stop offset="0.625" stop-color="#0040ff"/><stop offset="0.75" stop-color="#0066ff"/><stop offset="0.875" stop-color="#009aff"/><stop offset="1" stop-color="#00ddff"/></linearGradient>
<linearGradient id="a96"><stop offset="0" stop-color="#0059ff"/><stop offset="0.125" stop-color="#0035ff"/><stop offset="0.25" stop-color="#0020ff"/><stop offset="0.375" stop-color="#0019ff"/><stop offset="0.5" stop-color="#0022ff"/><stop offset="0.625" stop-color="#0038ff"/><stop offset="0.75" stop-color="#005eff"/><stop offset="0.875" stop-color="#0092ff"/><stop offset="1" stop-color="#00d4ff"/></linearGradient>
<linearGradient id="a97"><stop offset="0" stop-color="#0052ff"/><stop offset="0.125" stop-color="#002eff"/><stop offset="0.25" stop-color="#0019ff"/><stop offset="0.375" stop-color="#0012ff"/><stop offset="0.5" stop-color="#001aff"/><stop offset="0.625" stop-color="#0031ff"/><stop offset="0.75" stop-color="#0056ff"/><stop offset="0.875" stop-color="#008aff"/><stop offset="1" stop-color="#00ccff"/></linearGradient>
<linearGradient id="a98"><stop offset="0" stop-color="#004cff"/><stop offset="0.125" stop-color="#0028ff"/><stop offset="0.25" stop-color="#0012ff"/><stop offset="0.375" stop-color="#000bff"/><stop offset="0.5" stop-color="#0013ff"/><stop offset="0.625" stop-color="#0029ff"/><stop offset="0.75" stop-color="#004eff"/><stop offset="0.875" stop-color="#0081ff"/><stop offset="1" stop-color="#00c3ff"/></linearGradient>
<linearGradient id="b0"><stop offset="0" stop-color="#ff8500"/><stop offset="0.125" stop-color="#ffe100"/><stop offset="0.169" stop-color="#ffff00"/><stop offset="0.25" stop-color="#d6fe00"/><stop offset="0.375" stop-color="#9efd00"/><stop offset="0.5" stop-color="#70fc00"/><stop offset="0.625" stop-color="#4afb00"/><stop offset="0.75" stop-color="#2efb00"/><stop offset="0.875" stop-color="#1afb00"/><stop offset="1" stop-color="#10fa00"/></linearGradient>
<linearGradient id="b1"><stop offset="0" stop-color="#ff8d00"/><stop offset="0.125" stop-color="#ffe900"/><stop offset="0.158" stop-color="#ffff00"/><stop offset="0.25" stop-color="#d0fe00"/><stop offset="0.375" stop-color="#99fd00"/><stop offset="0.5" stop-color="#6afc00"/><stop offset="0.625" stop-color="#45fb00"/><stop offset="0.75" stop-color="#29fb00"/><stop offset="0.875" stop-color="#16fa00"/><stop offset="1" stop-color="#0cfa00"/></linearGradient>
<linearGradient id="b2"><stop offset="0" stop-color="#ff9600"/><stop offset="0.125" stop-color="#fff100"/><stop offset="0.146" stop-color="#ffff00"/><stop offset="0.25" stop-color="#cafe00"/><stop offset="0.375" stop-color="#93fd00"/><stop offset="0.5" stop-color="#65fc00"/><stop offset="0.625" stop-color="#40fb00"/><stop offset="0.75" stop-color="#24fb00"/><stop offset="0.875" stop-color="#11fa00"/><stop offset="1" stop-color="#07fa00"/></linearGradient>
<linearGradient id="b3"><stop offset="0" stop-color="#ff9e00"/><stop offset="0.125" stop-color="#fff900"/><stop offset="0.134" stop-color="#ffff00"/><stop offset="0.25" stop-color="#c4fe00"/><stop offset="0.375" stop-color="#8dfd00"/><stop offset="0.5" stop-color="#5ffc00"/><stop offset="0.625" stop-color="#3afb00"/><stop offset="0.75" stop-color="#1ffb00"/><stop offset="0.875" stop-color="#0cfa00"/><stop offset="1" stop-color="#03fa00"/></linearGradient>
<linearGradient id="b4"><stop offset="0" stop-color="#ffa600"/><stop offset="0.123" stop-color="#ffff00"/><stop offset="0.125" stop-color="#feff00"/><stop offset="0.25" stop-color="#befe00"/><stop offset="0.375" stop-color="#87fd00"/><stop offset="0.5" stop-color="#59fc00"/><stop offset="0.625" stop-color="#35fb00"/><stop offset="0.75" stop-color="#1afb00"/><stop offset="0.875" stop-color="#07fa00"/><stop offset="0.959" stop-color="#00fa00"/><stop offset="1" stop-color="#00fa02"/></linearGradient>
<linearGradient id="b5"><stop offset="0" stop-color="#ffae00"/><stop offset="0.111" stop-color="#ffff00"/><stop offset="0.125" stop-color="#f7ff00"/><stop offset="0.25" stop-color="#b8fe00"/><stop offset="0.375" stop-color="#81fd00"/><stop offset="0.5" stop-color="#54fc00"/><stop offset="0.625" stop-color="#30fb00"/><stop offset="0.75" stop-color="#14fa00"/><stop offset="0.875" stop-color="#02fa00"/><stop offset="0.899" stop-color="#00fa00"/><stop offset="1" stop-color="#00fa07"/></linearGradient>
<linearGradient id="b6"><stop offset="0" stop-color="#ffb700"/><stop offset="0.099" stop-color="#ffff00"/><stop offset="0.125" stop-color="#f1ff00"/><stop offset="0.25" stop-color="#b2fd00"/><stop offset="0.375" stop-color="#7bfc00"/><stop offset="0.5" stop-color="#4efc00"/><stop offset="0.625" stop-color="#2afb00"/><stop offset="0.75" stop-color="#0ffa00"/><stop offset="0.853" stop-color="#00fa00"/><stop offset="0.875" stop-color="#00fa02"/><stop offset="1" stop-color="#00fa0b"/></linearGradient>
<linearGradient id="b7"><stop offset="0" stop-color="#ffbf00"/><stop offset="0.088" stop-color="#ffff00"/><stop offset="0.125" stop-color="#ebff00"/><stop offset="0.25" stop-color="#acfd00"/><stop offset="0.375" stop-color="#76fc00"/><stop offset="0.5" stop-color="#49fb00"/><stop offset="0.625" stop-color="#25fb00"/><stop offset="0.75" stop-color="#0afa00"/><stop offset="0.815" stop-color="#00fa00"/><stop offset="0.875" stop-color="#00fa07"/><stop offset="1" stop-color="#00fa10"/></linearGradient>
<linearGradient id="b8"><stop offset="0" stop-color="#ffc700"/><stop offset="0.077" stop-color="#ffff00"/><stop offset="0.125" stop-color="#e4fe00"/><stop offset="0.25" stop-color="#a5fd00"/><stop offset="0.375" stop-color="#70fc00"/><stop offset="0.5" stop-color="#43fb00"/><stop offset="0.625" stop-color="#20fb00"/><stop offset="0.75" stop-color="#05fa00"/><stop offset="0.781" stop-color="#00fa00"/><stop offset="0.875" stop-color="#00fa0c"/><stop offset="1" stop-color="#00fa14"/></linearGradient>
<linearGradient id="b9"><stop offset="0" stop-color="#ffcf00"/><stop offset="0.065" stop-color="#ffff00"/><stop offset="0.125" stop-color="#defe00"/><stop offset="0.25" stop-color="#9ffd00"/><stop offset="0.375" stop-color="#6afc00"/><stop offset="0.5" stop-color="#3dfb00"/><stop offset="0.625" stop-color="#1afb00"/><stop offset="0.75" stop-color="#00fa00"/><stop offset="0.751" stop-color="#00fa00"/><stop offset="0.875" stop-color="#00fa11"/><stop offset="1" stop-color="#00fa19"/></linearGradient>
<linearGradient id="b10"><stop offset="0" stop-color="#ffd700"/><stop offset="0.054" stop-color="#ffff00"/><stop offset="0.125" stop-color="#d7fe00"/><stop offset="0.25" stop-color="#99fd00"/><stop offset="0.375" stop-color="#64fc00"/><stop offset="0.5" stop-color="#38fb00"/><stop offset="0.625" stop-color="#15fa00"/><stop offset="0.722" stop-color="#00fa00"/><stop offset="0.75" stop-color="#00fa05"/><stop offset="0.875" stop-color="#00fa16"/><stop offset="1" stop-color="#00fb1d"/></linearGradient>
<linearGradient id="b11"><stop offset="0" stop-color="#ffe000"/><stop offset="0.042" stop-color="#ffff00"/><stop offset="0.125" stop-color="#d1fe00"/><stop offset="0.25" stop-color="#93fd00"/><stop offset="0.375" stop-color="#5efc00"/><stop offset="0.5" stop-color="#32fb00"/><stop offset="0.625" stop-color="#10fa00"/><stop offset="0.695" stop-color="#00fa00"/><stop offset="0.75" stop-color="#00fa0a"/><stop offset="0.875" stop-color="#00fb1b"/><stop offset="1" stop-color="#00fb22"/></linearGradient>
<linearGradient id="b12"><stop offset="0" stop-color="#ffe800"/><stop offset="0.031" stop-color="#ffff00"/><stop offset="0.125" stop-color="#cbfe00"/><stop offset="0.25" stop-color="#8dfd00"/><stop offset="0.375" stop-color="#58fc00"/><stop offset="0.5" stop-color="#2dfb00"/><stop offset="0.625" stop-color="#0afa00"/><stop offset="0.67" stop-color="#00fa00"/><stop offset="0.75" stop-color="#00fa0f"/><stop offset="0.875" stop-color="#00fb1f"/><stop offset="1" stop-color="#00fb27"/></linearGradient>
<linearGradient id="b13"><stop offset="0" stop-color="#fff000"/><stop offset="0.02" stop-color="#ffff00"/><stop offset="0.125" stop-color="#c4fe00"/><stop offset="0.25" stop-color="#87fd00"/><stop offset="0.375" stop-color="#52fc00"/><stop offset="0.5" stop-color="#27fb00"/><stop offset="0.625" stop-color="#05fa00"/><stop offset="0.646" stop-color="#00fa00"/><stop offset="0.75" stop-color="#00fa14"/><stop offset="0.875" stop-color="#00fb24"/><stop offset="1" stop-color="#00fb2b"/></linearGradient>
<linearGradient id="b14"><stop offset="0" stop-color="#fff900"/><stop offset="0.009" stop-color="#ffff00"/><stop offset="0.125" stop-color="#befe00"/><stop offset="0.25" stop-color="#81fd00"/><stop offset="0.375" stop-color="#4cfb00"/><stop offset="0.5" stop-color="#21fb00"/><stop offset="0.623" stop-color="#00fa00"/><stop offset="0.625" stop-color="#00fa01"/><stop offset="0.75" stop-color="#00fa19"/><stop offset="0.875" stop-color="#00fb29"/><stop offset="1" stop-color="#00fb30"/></linearGradient>
<linearGradient id="b15"><stop offset="0" stop-color="#feff00"/><stop offset="0.125" stop-color="#b7fe00"/><stop offset="0.25" stop-color="#7afc00"/><stop offset="0.375" stop-color="#47fb00"/><stop offset="0.5" stop-color="#1cfb00"/><stop offset="0.6" stop-color="#00fa00"/><stop offset="0.625" stop-color="#00fa06"/><stop offset="0.75" stop-color="#00fb1f"/><stop offset="0.875" stop-color="#00fb2e"/><stop offset="1" stop-color="#00fb34"/></linearGradient>
<linearGradient id="b16"><stop offset="0" stop-color="#f7ff00"/><stop offset="0.125" stop-color="#b1fd00"/><stop offset="0.25" stop-color="#74fc00"/><stop offset="0.375" stop-color="#41fb00"/><stop offset="0.5" stop-color="#16fa00"/><stop offset="0.579" stop-color="#00fa00"/><stop offset="0.625" stop-color="#00fa0b"/><stop offset="0.75" stop-color="#00fb24"/><stop offset="0.875" stop-color="#00fb33"/><stop offset="1" stop-color="#00fb39"/></linearGradient>
<linearGradient id="b17"><stop offset="0" stop-color="#f0ff00"/><stop offset="0.125" stop-color="#abfd00"/><stop offset="0.25" stop-color="#6efc00"/><stop offset="0.375" stop-color="#3bfb00"/><stop offset="0.5" stop-color="#10fa00"/><stop offset="0.558" stop-color="#00fa00"/><stop offset="0.625" stop-color="#00fa11"/><stop offset="0.75" stop-color="#00fb29"/><stop offset="0.875" stop-color="#00fb38"/><stop offset="1" stop-color="#00fb3e"/></linearGradient>
<linearGradient id="b18"><stop offset="0" stop-color="#eaff00"/><stop offset="0.125" stop-color="#a4fd00"/><stop offset="0.25" stop-color="#68fc00"/><stop offset="0.375" stop-color="#35fb00"/><stop offset="0.5" stop-color="#0bfa00"/><stop offset="0.537" stop-color="#00fa00"/><stop offset="0.625" stop-color="#00fa16"/><stop offset="0.75" stop-color="#00fb2e"/><stop offset="0.875" stop-color="#00fb3d"/><stop offset="1" stop-color="#00fb42"/></linearGradient>
<linearGradient id="b19"><stop offset="0" stop-color="#e3fe00"/><stop offset="0.125" stop-color="#9efd00"/><stop offset="0.25" stop-color="#62fc00"/><stop offset="0.375" stop-color="#2ffb00"/><stop offset="0.5" stop-color="#05fa00"/><stop offset="0.518" stop-color="#00fa00"/><stop offset="0.625" stop-color="#00fb1b"/><stop offset="0.75" stop-color="#00fb33"/><stop offset="0.875" stop-color="#00fb41"/><stop offset="1" stop-color="#00fb47"/></linearGradient>
<linearGradient id="b20"><stop offset="0" stop-color="#dcfe00"/><stop offset="0.125" stop-color="#97fd00"/><stop offset="0.25" stop-color="#5cfc00"/><stop offset="0.375" stop-color="#29fb00"/><stop offset="0.498" stop-color="#00fa00"/><stop offset="0.5" stop-color="#00fa00"/><stop offset="0.625" stop-color="#00fb21"/><stop offset="0.75" stop-color="#00fb38"/><stop offset="0.875" stop-color="#00fb46"/><stop offset="1" stop-color="#00fb4b"/></linearGradient>
<linearGradient id="b21"><stop offset="0" stop-color="#d5fe00"/><stop offset="0.125" stop-color="#91fd00"/><stop offset="0.25" stop-color="#55fc00"/><stop offset="0.375" stop-color="#23fb00"/><stop offset="0.479" stop-color="#00fa00"/><stop offset="0.5" stop-color="#00fa06"/><stop offset="0.625" stop-color="#00fb26"/><stop offset="0.75" stop-color="#00fb3d"/><stop offset="0.875" stop-color="#00fb4b"/><stop offset="1" stop-color="#00fc50"/></linearGradient>
<linearGradient id="b22"><stop offset="0" stop-color="#cffe00"/><stop offset="0.125" stop-color="#8afd00"/><stop offset="0.25" stop-color="#4ffc00"/><stop offset="0.375" stop-color="#1dfb00"/><stop offset="0.461" stop-color="#00fa00"/><stop offset="0.5" stop-color="#00fa0c"/><stop offset="0.625" stop-color="#00fb2c"/><stop offset="0.75" stop-color="#00fb42"/><stop offset="0.875" stop-color="#00fc50"/><stop offset="1" stop-color="#00fc55"/></linearGradient>
<linearGradient id="b23"><stop offset="0" stop-color="#c8fe00"/><stop offset="0.125" stop-color="#84fd00"/><stop offset="0.25" stop-color="#49fb00"/><stop offset="0.375" stop-color="#17fa00"/><stop offset="0.443" stop-color="#00fa00"/><stop offset="0.5" stop-color="#00fa11"/><stop offset="0.625" stop-color="#00fb31"/><stop offset="0.75" stop-color="#00fb48"/><stop offset="0.875" stop-color="#00fc55"/><stop offset="1" stop-color="#00fc59"/></linearGradient>
<linearGradient id="b24"><stop offset="0" stop-color="#c1fe00"/><stop offset="0.125" stop-color="#7efc00"/><stop offset="0.25" stop-color="#43fb00"/><stop offset="0.375" stop-color="#11fa00"/><stop offset="0.425" stop-color="#00fa00"/><stop offset="0.5" stop-color="#00fa17"/><stop offset="0.625" stop-color="#00fb37"/><stop offset="0.75" stop-color="#00fc4d"/><stop offset="0.875" stop-color="#00fc5a"/><stop offset="1" stop-color="#00fc5e"/></linearGradient>
<linearGradient id="b25"><stop offset="0" stop-color="#bbfe00"/><stop offset="0.125" stop-color="#77fc00"/><stop offset="0.25" stop-color="#3dfb00"/><stop offset="0.375" stop-color="#0bfa00"/><stop offset="0.408" stop-color="#00fa00"/><stop offset="0.5" stop-color="#00fb1d"/><stop offset="0.625" stop-color="#00fb3c"/><stop offset="0.75" stop-color="#00fc52"/><stop offset="0.875" stop-color="#00fc5f"/><stop offset="1" stop-color="#00fc63"/></linearGradient>
<linearGradient id="b26"><stop offset="0" stop-color="#b4fe00"/><stop offset="0.125" stop-color="#71fc00"/><stop offset="0.25" stop-color="#36fb00"/><stop offset="0.375" stop-color="#05fa00"/><stop offset="0.39" stop-color="#00fa00"/><stop offset="0.5" stop-color="#00fb23"/><stop offset="0.625" stop-color="#00fb41"/><stop offset="0.75" stop-color="#00fc57"/><stop offset="0.875" stop-color="#00fc64"/><stop offset="1" stop-color="#00fc67"/></linearGradient>
<linearGradient id="b27"><stop offset="0" stop-color="#adfd00"/><stop offset="0.125" stop-color="#6afc00"/><stop offset="0.25" stop-color="#30fb00"/><stop offset="0.373" stop-color="#00fa00"/><stop offset="0.375" stop-color="#00fa01"/><stop offset="0.5" stop-color="#00fb28"/><stop offset="0.625" stop-color="#00fb47"/><stop offset="0.75" stop-color="#00fc5c"/><stop offset="0.875" stop-color="#00fc69"/><stop offset="1" stop-color="#00fc6c"/></linearGradient>
<linearGradient id="b28"><stop offset="0" stop-color="#a6fd00"/><stop offset="0.125" stop-color="#64fc00"/><stop offset="0.25" stop-color="#2afb00"/><stop offset="0.357" stop-color="#00fa00"/><stop offset="0.375" stop-color="#00fa06"/><stop offset="0.5" stop-color="#00fb2e"/><stop offset="0.625" stop-color="#00fb4c"/><stop offset="0.75" stop-color="#00fc61"/><stop offset="0.875" stop-color="#00fc6e"/><stop offset="1" stop-color="#00fc71"/></linearGradient>
<linearGradient id="b29"><stop offset="0" stop-color="#a0fd00"/><stop offset="0.125" stop-color="#5dfc00"/><stop offset="0.25" stop-color="#24fb00"/><stop offset="0.34" stop-color="#00fa00"/><stop offset="0.375" stop-color="#00fa0c"/><stop offset="0.5" stop-color="#00fb34"/><stop offset="0.625" stop-color="#00fc52"/><stop offset="0.75" stop-color="#00fc67"/><stop offset="0.875" stop-color="#00fc73"/><stop offset="1" stop-color="#00fc75"/></linearGradient>
<linearGradient id="b30"><stop offset="0" stop-color="#99fd00"/><stop offset="0.125" stop-color="#57fc00"/><stop offset="0.25" stop-color="#1efb00"/><stop offset="0.324" stop-color="#00fa00"/><stop offset="0.375" stop-color="#00fa12"/><stop offset="0.5" stop-color="#00fb39"/><stop offset="0.625" stop-color="#00fc57"/><stop offset="0.75" stop-color="#00fc6c"/><stop offset="0.875" stop-color="#00fc77"/><stop offset="1" stop-color="#00fc7a"/></linearGradient>
<linearGradient id="b31"><stop offset="0" stop-color="#92fd00"/><stop offset="0.125" stop-color="#50fc00"/><stop offset="0.25" stop-color="#17fa00"/><stop offset="0.308" stop-color="#00fa00"/><stop offset="0.375" stop-color="#00fa18"/><stop offset="0.5" stop-color="#00fb3f"/><stop offset="0.625" stop-color="#00fc5d"/><stop offset="0.75" stop-color="#00fc71"/><stop offset="0.875" stop-color="#00fc7c"/><stop offset="1" stop-color="#00fc7f"/></linearGradient>
<linearGradient id="b32"><stop offset="0" stop-color="#8cfd00"/><stop offset="0.125" stop-color="#4afb00"/><stop offset="0.25" stop-color="#11fa00"/><stop offset="0.292" stop-color="#00fa00"/><stop offset="0.375" stop-color="#00fb1e"/><stop offset="0.5" stop-color="#00fb45"/><stop offset="0.625" stop-color="#00fc62"/><stop offset="0.75" stop-color="#00fc76"/><stop offset="0.875" stop-color="#00fd81"/><stop offset="1" stop-color="#00fd83"/></linearGradient>
<linearGradient id="b33"><stop offset="0" stop-color="#85fd00"/><stop offset="0.125" stop-color="#43fb00"/><stop offset="0.25" stop-color="#0bfa00"/><stop offset="0.277" stop-color="#00fa00"/><stop offset="0.375" stop-color="#00fb24"/><stop offset="0.5" stop-color="#00fb4a"/><stop offset="0.625" stop-color="#00fc67"/><stop offset="0.75" stop-color="#00fc7b"/><stop offset="0.875" stop-color="#00fd86"/><stop offset="1" stop-color="#00fd88"/></linearGradient>
<linearGradient id="b34"><stop offset="0" stop-color="#7efc00"/><stop offset="0.125" stop-color="#3dfb00"/><stop offset="0.25" stop-color="#05fa00"/><stop offset="0.262" stop-color="#00fa00"/><stop offset="0.375" stop-color="#00fb2a"/><stop offset="0.5" stop-color="#00fc50"/><stop offset="0.625" stop-color="#00fc6d"/><stop offset="0.75" stop-color="#00fd81"/><stop offset="0.875" stop-color="#00fd8b"/><stop offset="1" stop-color="#00fd8d"/></linearGradient>
<linearGradient id="b35"><stop offset="0" stop-color="#77fc00"/><stop offset="0.125" stop-color="#36fb00"/><stop offset="0.246" stop-color="#00fa00"/><stop offset="0.25" stop-color="#00fa02"/><stop offset="0.375" stop-color="#00fb30"/><stop offset="0.5" stop-color="#00fc56"/><stop offset="0.625" stop-color="#00fc72"/><stop offset="0.75" stop-color="#00fd86"/><stop offset="0.875" stop-color="#00fd90"/><stop offset="1" stop-color="#00fd91"/></linearGradient>
<linearGradient id="b36"><stop offset="0" stop-color="#70fc00"/><stop offset="0.125" stop-color="#30fb00"/><stop offset="0.231" stop-color="#00fa00"/><stop offset="0.25" stop-color="#00fa08"/><stop offset="0.375" stop-color="#00fb36"/><stop offset="0.5" stop-color="#00fc5c"/><stop offset="0.625" stop-color="#00fc78"/><stop offset="0.75" stop-color="#00fd8b"/><stop offset="0.875" stop-color="#00fd95"/><stop offset="1" stop-color="#00fd96"/></linearGradient>
<linearGradient id="b37"><stop offset="0" stop-color="#6afc00"/><stop offset="0.125" stop-color="#29fb00"/><stop offset="0.216" stop-color="#00fa00"/><stop offset="0.25" stop-color="#00fa0e"/><stop offset="0.375" stop-color="#00fb3c"/><stop offset="0.5" stop-color="#00fc61"/><stop offset="0.625" stop-color="#00fc7d"/><stop offset="0.75" stop-color="#00fd90"/><stop offset="0.875" stop-color="#00fd9a"/><stop offset="1" stop-color="#00fd9b"/></linearGradient>
<linearGradient id="b38"><stop offset="0" stop-color="#63fc00"/><stop offset="0.125" stop-color="#23fb00"/><stop offset="0.201" stop-color="#00fa00"/><stop offset="0.25" stop-color="#00fa14"/><stop offset="0.375" stop-color="#00fb42"/><stop offset="0.5" stop-color="#00fc67"/><stop offset="0.625" stop-color="#00fd83"/><stop offset="0.75" stop-color="#00fd95"/><stop offset="0.875" stop-color="#00fd9f"/><stop offset="1" stop-color="#00fd9f"/></linearGradient>
<linearGradient id="b39"><stop offset="0" stop-color="#5cfc00"/><stop offset="0.125" stop-color="#1cfb00"/><stop offset="0.187" stop-color="#00fa00"/><stop offset="0.25" stop-color="#00fb1b"/><stop offset="0.375" stop-color="#00fb48"/><stop offset="0.5" stop-color="#00fc6d"/><stop offset="0.625" stop-color="#00fd88"/><stop offset="0.75" stop-color="#00fd9b"/><stop offset="0.875" stop-color="#00fda4"/><stop offset="1" stop-color="#00fda4"/></linearGradient>
<linearGradient id="b40"><stop offset="0" stop-color="#55fc00"/><stop offset="0.125" stop-color="#16fa00"/><stop offset="0.172" stop-color="#00fa00"/><stop offset="0.25" stop-color="#00fb21"/><stop offset="0.375" stop-color="#00fc4e"/><stop offset="0.5" stop-color="#00fc73"/><stop offset="0.625" stop-color="#00fd8e"/><stop offset="0.75" stop-color="#00fda0"/><stop offset="0.875" stop-color="#00fda9"/><stop offset="1" stop-color="#00fda9"/></linearGradient>
<linearGradient id="b41"><stop offset="0" stop-color="#4ffc00"/><stop offset="0.125" stop-color="#0ffa00"/><stop offset="0.158" stop-color="#00fa00"/><stop offset="0.25" stop-color="#00fb27"/><stop offset="0.375" stop-color="#00fc54"/><stop offset="0.5" stop-color="#00fc78"/><stop offset="0.625" stop-color="#00fd93"/><stop offset="0.75" stop-color="#00fda5"/><stop offset="0.875" stop-color="#00fdae"/><stop offset="1" stop-color="#00fdae"/></linearGradient>
<linearGradient id="b42"><stop offset="0" stop-color="#48fb00"/><stop offset="0.125" stop-color="#09fa00"/><stop offset="0.144" stop-color="#00fa00"/><stop offset="0.25" stop-color="#00fb2d"/><stop offset="0.375" stop-color="#00fc5a"/><stop offset="0.5" stop-color="#00fc7e"/><stop offset="0.625" stop-color="#00fd99"/><stop offset="0.75" stop-color="#00fdaa"/><stop offset="0.875" stop-color="#00feb3"/><stop offset="1" stop-color="#00fdb2"/></linearGradient>
<linearGradient id="b43"><stop offset="0" stop-color="#41fb00"/><stop offset="0.125" stop-color="#02fa00"/><stop offset="0.13" stop-color="#00fa00"/><stop offset="0.25" stop-color="#00fb34"/><stop offset="0.375" stop-color="#00fc60"/><stop offset="0.5" stop-color="#00fd84"/><stop offset="0.625" stop-color="#00fd9e"/><stop offset="0.75" stop-color="#00fdb0"/><stop offset="0.875" stop-color="#00feb8"/><stop offset="1" stop-color="#00feb7"/></linearGradient>
<linearGradient id="b44"><stop offset="0" stop-color="#3afb00"/><stop offset="0.116" stop-color="#00fa00"/><stop offset="0.125" stop-color="#00fa04"/><stop offset="0.25" stop-color="#00fb3a"/><stop offset="0.375" stop-color="#00fc66"/><stop offset="0.5" stop-color="#00fd8a"/><stop offset="0.625" stop-color="#00fda4"/><stop offset="0.75" stop-color="#00feb5"/><stop offset="0.875" stop-color="#00febd"/><stop offset="1" stop-color="#00febc"/></linearGradient>
<linearGradient id="b45"><stop offset="0" stop-color="#33fb00"/><stop offset="0.102" stop-color="#00fa00"/><stop offset="0.125" stop-color="#00fa0b"/><stop offset="0.25" stop-color="#00fb40"/><stop offset="0.375" stop-color="#00fc6c"/><stop offset="0.5" stop-color="#00fd8f"/><stop offset="0.625" stop-color="#00fda9"/><stop offset="0.75" stop-color="#00feba"/><stop offset="0.875" stop-color="#00fec2"/><stop offset="1" stop-color="#00fec1"/></linearGradient>
<linearGradient id="b46"><stop offset="0" stop-color="#2dfb00"/><stop offset="0.088" stop-color="#00fa00"/><stop offset="0.125" stop-color="#00fa12"/><stop offset="0.25" stop-color="#00fb47"/><stop offset="0.375" stop-color="#00fc72"/><stop offset="0.5" stop-color="#00fd95"/><stop offset="0.625" stop-color="#00fdaf"/><stop offset="0.75" stop-color="#00febf"/><stop offset="0.875" stop-color="#00fec7"/><stop offset="1" stop-color="#00fec5"/></linearGradient>
<linearGradient id="b47"><stop offset="0" stop-color="#26fb00"/><stop offset="0.074" stop-color="#00fa00"/><stop offset="0.125" stop-color="#00fa18"/><stop offset="0.25" stop-color="#00fc4d"/><stop offset="0.375" stop-color="#00fc78"/><stop offset="0.5" stop-color="#00fd9b"/><stop offset="0.625" stop-color="#00feb4"/><stop offset="0.75" stop-color="#00fec5"/><stop offset="0.875" stop-color="#00fecc"/><stop offset="1" stop-color="#00feca"/></linearGradient>
<linearGradient id="b48"><stop offset="0" stop-color="#1ffb00"/><stop offset="0.061" stop-color="#00fa00"/><stop offset="0.125" stop-color="#00fb1f"/><stop offset="0.25" stop-color="#00fc53"/><stop offset="0.375" stop-color="#00fc7e"/><stop offset="0.5" stop-color="#00fda1"/><stop offset="0.625" stop-color="#00feba"/><stop offset="0.75" stop-color="#00feca"/><stop offset="0.875" stop-color="#00fed1"/><stop offset="1" stop-color="#00fecf"/></linearGradient>
<linearGradient id="b49"><stop offset="0" stop-color="#18fa00"/><stop offset="0.047" stop-color="#00fa00"/><stop offset="0.125" stop-color="#00fb25"/><stop offset="0.25" stop-color="#00fc59"/><stop offset="0.375" stop-color="#00fd85"/><stop offset="0.5" stop-color="#00fda7"/><stop offset="0.625" stop-color="#00febf"/><stop offset="0.75" stop-color="#00fecf"/><stop offset="0.875" stop-color="#00fed6"/><stop offset="1" stop-color="#00fed4"/></linearGradient>
<linearGradient id="b50"><stop offset="0" stop-color="#11fa00"/><stop offset="0.034" stop-color="#00fa00"/><stop offset="0.125" stop-color="#00fb2c"/><stop offset="0.25" stop-color="#00fc60"/><stop offset="0.375" stop-color="#00fd8b"/><stop offset="0.5" stop-color="#00fdac"/><stop offset="0.625" stop-color="#00fec5"/><stop offset="0.75" stop-color="#00fed5"/><stop offset="0.875" stop-color="#00fedb"/><stop offset="1" stop-color="#00fed8"/></linearGradient>
<linearGradient id="b51"><stop offset="0" stop-color="#0afa00"/><stop offset="0.02" stop-color="#00fa00"/><stop offset="0.125" stop-color="#00fb32"/><stop offset="0.25" stop-color="#00fc66"/><stop offset="0.375" stop-color="#00fd91"/><stop offset="0.5" stop-color="#00fdb2"/><stop offset="0.625" stop-color="#00fecb"/><stop offset="0.75" stop-color="#00feda"/><stop offset="0.875" stop-color="#00fee0"/><stop offset="1" stop-color="#00fedd"/></linearGradient>
<linearGradient id="b52"><stop offset="0" stop-color="#04fa00"/><stop offset="0.007" stop-color="#00fa00"/><stop offset="0.125" stop-color="#00fb39"/><stop offset="0.25" stop-color="#00fc6c"/><stop offset="0.375" stop-color="#00fd97"/><stop offset="0.5" stop-color="#00feb8"/><stop offset="0.625" stop-color="#00fed0"/><stop offset="0.75" stop-color="#00fedf"/><stop offset="0.875" stop-color="#00fee5"/><stop offset="1" stop-color="#00fee2"/></linearGradient>
<linearGradient id="b53"><stop offset="0" stop-color="#00fa03"/><stop offset="0.125" stop-color="#00fb40"/><stop offset="0.25" stop-color="#00fc73"/><stop offset="0.375" stop-color="#00fd9d"/><stop offset="0.5" stop-color="#00febe"/><stop offset="0.625" stop-color="#00fed6"/><stop offset="0.75" stop-color="#00fee4"/><stop offset="0.875" stop-color="#00ffea"/><stop offset="1" stop-color="#00ffe7"/></linearGradient>
<linearGradient id="b54"><stop offset="0" stop-color="#00fa0a"/><stop offset="0.125" stop-color="#00fb46"/><stop offset="0.25" stop-color="#00fc79"/><stop offset="0.375" stop-color="#00fda3"/><stop offset="0.5" stop-color="#00fec4"/><stop offset="0.625" stop-color="#00fedb"/><stop offset="0.75" stop-color="#00ffea"/><stop offset="0.875" stop-color="#00ffef"/><stop offset="1" stop-color="#00ffeb"/></linearGradient>
<linearGradient id="b55"><stop offset="0" stop-color="#00fa11"/><stop offset="0.125" stop-color="#00fc4d"/><stop offset="0.25" stop-color="#00fc7f"/><stop offset="0.375" stop-color="#00fda9"/><stop offset="0.5" stop-color="#00fec9"/><stop offset="0.625" stop-color="#00fee1"/><stop offset="0.75" stop-color="#00ffef"/><stop offset="0.875" stop-color="#00fff4"/><stop offset="1" stop-color="#00fff0"/></linearGradient>
<linearGradient id="b56"><stop offset="0" stop-color="#00fa18"/><stop offset="0.125" stop-color="#00fc53"/><stop offset="0.25" stop-color="#00fd86"/><stop offset="0.375" stop-color="#00fdaf"/><stop offset="0.5" stop-color="#00fecf"/><stop offset="0.625" stop-color="#00ffe6"/><stop offset="0.75" stop-color="#00fff4"/><stop offset="0.875" stop-color="#00fff9"/><stop offset="1" stop-color="#00fff5"/></linearGradient>
<linearGradient id="b57"><stop offset="0" stop-color="#00fb1f"/><stop offset="0.125" stop-color="#00fc5a"/><stop offset="0.25" stop-color="#00fd8c"/><stop offset="0.375" stop-color="#00feb5"/><stop offset="0.5" stop-color="#00fed5"/><stop offset="0.625" stop-color="#00ffec"/><stop offset="0.75" stop-color="#00fffa"/><stop offset="0.875" stop-color="#00fffe"/><stop offset="1" stop-color="#00fffa"/></linearGradient>
<linearGradient id="b58"><stop offset="0" stop-color="#00fb25"/><stop offset="0.125" stop-color="#00fc60"/><stop offset="0.25" stop-color="#00fd92"/><stop offset="0.375" stop-color="#00febb"/><stop offset="0.5" stop-color="#00fedb"/><stop offset="0.625" stop-color="#00fff1"/><stop offset="0.75" stop-color="#00ffff"/><stop offset="0.751" stop-color="#00ffff"/><stop offset="0.875" stop-color="#00faff"/><stop offset="0.994" stop-color="#00ffff"/><stop offset="1" stop-color="#00ffff"/></linearGradient>
<linearGradient id="b59"><stop offset="0" stop-color="#00fb2c"/><stop offset="0.125" stop-color="#00fc67"/><stop offset="0.25" stop-color="#00fd99"/><stop offset="0.375" stop-color="#00fec1"/><stop offset="0.5" stop-color="#00fee1"/><stop offset="0.625" stop-color="#00fff7"/><stop offset="0.69" stop-color="#00ffff"/><stop offset="0.75" stop-color="#00f9ff"/><stop offset="0.875" stop-color="#00f4ff"/><stop offset="1" stop-color="#00faff"/></linearGradient>
<linearGradient id="b60"><stop offset="0" stop-color="#00fb33"/><stop offset="0.125" stop-color="#00fc6e"/><stop offset="0.25" stop-color="#00fd9f"/><stop offset="0.375" stop-color="#00fec7"/><stop offset="0.5" stop-color="#00ffe7"/><stop offset="0.625" stop-color="#00fffd"/><stop offset="0.643" stop-color="#00ffff"/><stop offset="0.75" stop-color="#00f2ff"/><stop offset="0.875" stop-color="#00eeff"/><stop offset="1" stop-color="#00f4ff"/></linearGradient>
<linearGradient id="b61"><stop offset="0" stop-color="#00fb3a"/><stop offset="0.125" stop-color="#00fc74"/><stop offset="0.25" stop-color="#00fda5"/><stop offset="0.375" stop-color="#00fecd"/><stop offset="0.5" stop-color="#00ffec"/><stop offset="0.603" stop-color="#00ffff"/><stop offset="0.625" stop-color="#00fbff"/><stop offset="0.75" stop-color="#00ecff"/><stop offset="0.875" stop-color="#00e8ff"/><stop offset="1" stop-color="#00eeff"/></linearGradient>
<linearGradient id="b62"><stop offset="0" stop-color="#00fb41"/><stop offset="0.125" stop-color="#00fc7b"/><stop offset="0.25" stop-color="#00fdac"/><stop offset="0.375" stop-color="#00fed4"/><stop offset="0.5" stop-color="#00fff2"/><stop offset="0.568" stop-color="#00ffff"/><stop offset="0.625" stop-color="#00f4ff"/><stop offset="0.75" stop-color="#00e6ff"/><stop offset="0.875" stop-color="#00e2ff"/><stop offset="1" stop-color="#00e9ff"/></linearGradient>
<linearGradient id="b63"><stop offset="0" stop-color="#00fb48"/><stop offset="0.125" stop-color="#00fd82"/><stop offset="0.25" stop-color="#00fdb2"/><stop offset="0.375" stop-color="#00feda"/><stop offset="0.5" stop-color="#00fff8"/><stop offset="0.535" stop-color="#00ffff"/><stop offset="0.625" stop-color="#00eeff"/><stop offset="0.75" stop-color="#00dfff"/><stop offset="0.875" stop-color="#00dcff"/><stop offset="1" stop-color="#00e3ff"/></linearGradient>
<linearGradient id="b64"><stop offset="0" stop-color="#00fc4f"/><stop offset="0.125" stop-color="#00fd88"/><stop offset="0.25" stop-color="#00feb9"/><stop offset="0.375" stop-color="#00fee0"/><stop offset="0.5" stop-color="#00fffe"/><stop offset="0.505" stop-color="#00ffff"/><stop offset="0.625" stop-color="#00e7ff"/><stop offset="0.75" stop-color="#00d9ff"/><stop offset="0.875" stop-color="#00d5ff"/><stop offset="1" stop-color="#00ddff"/></linearGradient>
<linearGradient id="b65"><stop offset="0" stop-color="#00fc56"/><stop offset="0.125" stop-color="#00fd8f"/><stop offset="0.25" stop-color="#00febf"/><stop offset="0.375" stop-color="#00ffe6"/><stop offset="0.477" stop-color="#00ffff"/><stop offset="0.5" stop-color="#00f9ff"/><stop offset="0.625" stop-color="#00e0ff"/><stop offset="0.75" stop-color="#00d2ff"/><stop offset="0.875" stop-color="#00cfff"/><stop offset="1" stop-color="#00d7ff"/></linearGradient>
<linearGradient id="b66"><stop offset="0" stop-color="#00fc5d"/><stop offset="0.125" stop-color="#00fd96"/><stop offset="0.25" stop-color="#00fec5"/><stop offset="0.375" stop-color="#00ffec"/><stop offset="0.45" stop-color="#00ffff"/><stop offset="0.5" stop-color="#00f2ff"/><stop offset="0.625" stop-color="#00daff"/><stop offset="0.75" stop-color="#00ccff"/><stop offset="0.875" stop-color="#00c9ff"/><stop offset="1" stop-color="#00d1ff"/></linearGradient>
<linearGradient id="b67"><stop offset="0" stop-color="#00fc63"/><stop offset="0.125" stop-color="#00fd9c"/><stop offset="0.25" stop-color="#00fecc"/><stop offset="0.375" stop-color="#00fff2"/><stop offset="0.425" stop-color="#00ffff"/><stop offset="0.5" stop-color="#00ebff"/><stop offset="0.625" stop-color="#00d3ff"/><stop offset="0.75" stop-color="#00c6ff"/><stop offset="0.875" stop-color="#00c3ff"/><stop offset="1" stop-color="#00ccff"/></linearGradient>
<linearGradient id="b68"><stop offset="0" stop-color="#00fc6a"/><stop offset="0.125" stop-color="#00fda3"/><stop offset="0.25" stop-color="#00fed2"/><stop offset="0.375" stop-color="#00fff8"/><stop offset="0.4" stop-color="#00ffff"/><stop offset="0.5" stop-color="#00e4ff"/><stop offset="0.625" stop-color="#00ccff"/><stop offset="0.75" stop-color="#00bfff"/><stop offset="0.875" stop-color="#00bdff"/><stop offset="1" stop-color="#00c6ff"/></linearGradient>
<linearGradient id="b69"><stop offset="0" stop-color="#00fc71"/><stop offset="0.125" stop-color="#00fda9"/><stop offset="0.25" stop-color="#00fed9"/><stop offset="0.375" stop-color="#00fffe"/><stop offset="0.377" stop-color="#00ffff"/><stop offset="0.5" stop-color="#00ddff"/><stop offset="0.625" stop-color="#00c6ff"/><stop offset="0.75" stop-color="#00b9ff"/><stop offset="0.875" stop-color="#00b7ff"/><stop offset="1" stop-color="#00c0ff"/></linearGradient>
<linearGradient id="b70"><stop offset="0" stop-color="#00fc78"/><stop offset="0.125" stop-color="#00fdb0"/><stop offset="0.25" stop-color="#00fedf"/><stop offset="0.354" stop-color="#00ffff"/><stop offset="0.375" stop-color="#00f8ff"/><stop offset="0.5" stop-color="#00d6ff"/><stop offset="0.625" stop-color="#00bfff"/><stop offset="0.75" stop-color="#00b2ff"/><stop offset="0.875" stop-color="#00b1ff"/><stop offset="1" stop-color="#00baff"/></linearGradient>
<linearGradient id="b71"><stop offset="0" stop-color="#00fc7f"/><stop offset="0.125" stop-color="#00feb7"/><stop offset="0.25" stop-color="#00fee5"/><stop offset="0.332" stop-color="#00ffff"/><stop offset="0.375" stop-color="#00f1ff"/><stop offset="0.5" stop-color="#00cfff"/><stop offset="0.625" stop-color="#00b8ff"/><stop offset="0.75" stop-color="#00acff"/><stop offset="0.875" stop-color="#00abff"/><stop offset="1" stop-color="#00b4ff"/></linearGradient>
<linearGradient id="b72"><stop offset="0" stop-color="#00fd86"/><stop offset="0.125" stop-color="#00febd"/><stop offset="0.25" stop-color="#00ffec"/><stop offset="0.311" stop-color="#00ffff"/><stop offset="0.375" stop-color="#00eaff"/><stop offset="0.5" stop-color="#00c8ff"/><stop offset="0.625" stop-color="#00b1ff"/><stop offset="0.75" stop-color="#00a6ff"/><stop offset="0.875" stop-color="#00a5ff"/><stop offset="1" stop-color="#00afff"/></linearGradient>
<linearGradient id="b73"><stop offset="0" stop-color="#00fd8d"/><stop offset="0.125" stop-color="#00fec4"/><stop offset="0.25" stop-color="#00fff2"/><stop offset="0.29" stop-color="#00ffff"/><stop offset="0.375" stop-color="#00e2ff"/><stop offset="0.5" stop-color="#00c1ff"/><stop offset="0.625" stop-color="#00abff"/><stop offset="0.75" stop-color="#009fff"/><stop offset="0.875" stop-color="#009eff"/><stop offset="1" stop-color="#00a9ff"/></linearGradient>
<linearGradient id="b74"><stop offset="0" stop-color="#00fd94"/><stop offset="0.125" stop-color="#00fecb"/><stop offset="0.25" stop-color="#00fff9"/><stop offset="0.27" stop-color="#00ffff"/><stop offset="0.375" stop-color="#00dbff"/><stop offset="0.5" stop-color="#00baff"/><stop offset="0.625" stop-color="#00a4ff"/><stop offset="0.75" stop-color="#0099ff"/><stop offset="0.875" stop-color="#0098ff"/><stop offset="1" stop-color="#00a3ff"/></linearGradient>
<linearGradient id="b75"><stop offset="0" stop-color="#00fd9b"/><stop offset="0.125" stop-color="#00fed1"/><stop offset="0.25" stop-color="#00ffff"/><stop offset="0.375" stop-color="#00d3ff"/><stop offset="0.5" stop-color="#00b3ff"/><stop offset="0.625" stop-color="#009dff"/><stop offset="0.75" stop-color="#0092ff"/><stop offset="0.875" stop-color="#0092ff"/><stop offset="1" stop-color="#009dff"/></linearGradient>
<linearGradient id="b76"><stop offset="0" stop-color="#00fda2"/><stop offset="0.125" stop-color="#00fed8"/><stop offset="0.231" stop-color="#00ffff"/><stop offset="0.25" stop-color="#00f7ff"/><stop offset="0.375" stop-color="#00ccff"/><stop offset="0.5" stop-color="#00acff"/><stop offset="0.625" stop-color="#0096ff"/><stop offset="0.75" stop-color="#008cff"/><stop offset="0.875" stop-color="#008cff"/><stop offset="1" stop-color="#0097ff"/></linearGradient>
<linearGradient id="b77"><stop offset="0" stop-color="#00fda9"/><stop offset="0.125" stop-color="#00fedf"/><stop offset="0.212" stop-color="#00ffff"/><stop offset="0.25" stop-color="#00f0ff"/><stop offset="0.375" stop-color="#00c5ff"/><stop offset="0.5" stop-color="#00a5ff"/><stop offset="0.625" stop-color="#008fff"/><stop offset="0.75" stop-color="#0085ff"/><stop offset="0.875" stop-color="#0086ff"/><stop offset="1" stop-color="#0091ff"/></linearGradient>
<linearGradient id="b78"><stop offset="0" stop-color="#00fdb0"/><stop offset="0.125" stop-color="#00ffe6"/><stop offset="0.193" stop-color="#00ffff"/><stop offset="0.25" stop-color="#00e8ff"/><stop offset="0.375" stop-color="#00bdff"/><stop offset="0.5" stop-color="#009eff"/><stop offset="0.625" stop-color="#0089ff"/><stop offset="0.75" stop-color="#007fff"/><stop offset="0.875" stop-color="#0080ff"/><stop offset="1" stop-color="#008cff"/></linearGradient>
<linearGradient id="b79"><stop offset="0" stop-color="#00feb7"/><stop offset="0.125" stop-color="#00ffec"/><stop offset="0.175" stop-color="#00ffff"/><stop offset="0.25" stop-color="#00e0ff"/><stop offset="0.375" stop-color="#00b6ff"/><stop offset="0.5" stop-color="#0096ff"/><stop offset="0.625" stop-color="#0082ff"/><stop offset="0.75" stop-color="#0078ff"/><stop offset="0.875" stop-color="#007aff"/><stop offset="1" stop-color="#0086ff"/></linearGradient>
<linearGradient id="b80"><stop offset="0" stop-color="#00febe"/><stop offset="0.125" stop-color="#00fff3"/><stop offset="0.157" stop-color="#00ffff"/><stop offset="0.25" stop-color="#00d8ff"/><stop offset="0.375" stop-color="#00aeff"/><stop offset="0.5" stop-color="#008fff"/><stop offset="0.625" stop-color="#007bff"/><stop offset="0.75" stop-color="#0072ff"/><stop offset="0.875" stop-color="#0073ff"/><stop offset="1" stop-color="#0080ff"/></linearGradient>
<linearGradient id="b81"><stop offset="0" stop-color="#00fec5"/><stop offset="0.125" stop-color="#00fffa"/><stop offset="0.139" stop-color="#00ffff"/><stop offset="0.25" stop-color="#00d1ff"/><stop offset="0.375" stop-color="#00a7ff"/><stop offset="0.5" stop-color="#0088ff"/><stop offset="0.625" stop-color="#0074ff"/><stop offset="0.75" stop-color="#006bff"/><stop offset="0.875" stop-color="#006dff"/><stop offset="1" stop-color="#007aff"/></linearGradient>
<linearGradient id="b82"><stop offset="0" stop-color="#00fecc"/><stop offset="0.121" stop-color="#00ffff"/><stop offset="0.125" stop-color="#00fdff"/><stop offset="0.25" stop-color="#00c9ff"/><stop offset="0.375" stop-color="#00a0ff"/><stop offset="0.5" stop-color="#0081ff"/><stop offset="0.625" stop-color="#006eff"/><stop offset="0.75" stop-color="#0065ff"/><stop offset="0.875" stop-color="#0067ff"/><stop offset="1" stop-color="#0074ff"/></linearGradient>
<linearGradient id="b83"><stop offset="0" stop-color="#00fed3"/><stop offset="0.104" stop-color="#00ffff"/><stop offset="0.125" stop-color="#00f5ff"/><stop offset="0.25" stop-color="#00c1ff"/><stop offset="0.375" stop-color="#0098ff"/><stop offset="0.5" stop-color="#007aff"/><stop offset="0.625" stop-color="#0067ff"/><stop offset="0.75" stop-color="#005eff"/><stop offset="0.875" stop-color="#0061ff"/><stop offset="1" stop-color="#006eff"/></linearGradient>
<linearGradient id="b84"><stop offset="0" stop-color="#00feda"/><stop offset="0.087" stop-color="#00ffff"/><stop offset="0.125" stop-color="#00edff"/><stop offset="0.25" stop-color="#00baff"/><stop offset="0.375" stop-color="#0091ff"/><stop offset="0.5" stop-color="#0073ff"/><stop offset="0.625" stop-color="#0060ff"/><stop offset="0.75" stop-color="#0058ff"/><stop offset="0.875" stop-color="#005bff"/><stop offset="1" stop-color="#0068ff"/></linearGradient>
<linearGradient id="b85"><stop offset="0" stop-color="#00fee1"/><stop offset="0.07" stop-color="#00ffff"/><stop offset="0.125" stop-color="#00e5ff"/><stop offset="0.25" stop-color="#00b2ff"/><stop offset="0.375" stop-color="#0089ff"/><stop offset="0.5" stop-color="#006cff"/><stop offset="0.625" stop-color="#0059ff"/><stop offset="0.75" stop-color="#0051ff"/><stop offset="0.875" stop-color="#0054ff"/><stop offset="1" stop-color="#0062ff"/></linearGradient>
<linearGradient id="b86"><stop offset="0" stop-color="#00ffe8"/><stop offset="0.054" stop-color="#00ffff"/><stop offset="0.125" stop-color="#00ddff"/><stop offset="0.25" stop-color="#00aaff"/><stop offset="0.375" stop-color="#0082ff"/><stop offset="0.5" stop-color="#0065ff"/><stop offset="0.625" stop-color="#0052ff"/><stop offset="0.75" stop-color="#004bff"/><stop offset="0.875" stop-color="#004eff"/><stop offset="1" stop-color="#005dff"/></linearGradient>
<linearGradient id="b87"><stop offset="0" stop-color="#00ffef"/><stop offset="0.038" stop-color="#00ffff"/><stop offset="0.125" stop-color="#00d5ff"/><stop offset="0.25" stop-color="#00a2ff"/><stop offset="0.375" stop-color="#007aff"/><stop offset="0.5" stop-color="#005eff"/><stop offset="0.625" stop-color="#004bff"/><stop offset="0.75" stop-color="#0044ff"/><stop offset="0.875" stop-color="#0048ff"/><stop offset="1" stop-color="#0057ff"/></linearGradient>
<linearGradient id="b88"><stop offset="0" stop-color="#00fff6"/><stop offset="0.021" stop-color="#00ffff"/><stop offset="0.125" stop-color="#00cdff"/><stop offset="0.25" stop-color="#009bff"/><stop offset="0.375" stop-color="#0073ff"/><stop offset="0.5" stop-color="#0056ff"/><stop offset="0.625" stop-color="#0045ff"/><stop offset="0.75" stop-color="#003eff"/><stop offset="0.875" stop-color="#0042ff"/><stop offset="1" stop-color="#0051ff"/></linearGradient>
<linearGradient id="b89"><stop offset="0" stop-color="#00fffd"/><stop offset="0.006" stop-color="#00ffff"/><stop offset="0.125" stop-color="#00c5ff"/><stop offset="0.25" stop-color="#0093ff"/><stop offset="0.375" stop-color="#006cff"/><stop offset="0.5" stop-color="#004fff"/><stop offset="0.625" stop-color="#003eff"/><stop offset="0.75" stop-color="#0037ff"/><stop offset="0.875" stop-color="#003cff"/><stop offset="1" stop-color="#004bff"/></linearGradient>
<linearGradient id="b90"><stop offset="0" stop-color="#00faff"/><stop offset="0.125" stop-color="#00bdff"/><stop offset="0.25" stop-color="#008bff"/><stop offset="0.375" stop-color="#0064ff"/><stop offset="0.5" stop-color="#0048ff"/><stop offset="0.625" stop-color="#0037ff"/><stop offset="0.75" stop-color="#0031ff"/><stop offset="0.875" stop-color="#0035ff"/><stop offset="1" stop-color="#0045ff"/></linearGradient>
<linearGradient id="b91"><stop offset="0" stop-color="#00f1ff"/><stop offset="0.125" stop-color="#00b5ff"/><stop offset="0.25" stop-color="#0083ff"/><stop offset="0.375" stop-color="#005dff"/><stop offset="0.5" stop-color="#0041ff"/><stop offset="0.625" stop-color="#0030ff"/><stop offset="0.75" stop-color="#002aff"/><stop offset="0.875" stop-color="#002fff"/><stop offset="1" stop-color="#003fff"/></linearGradient>
<linearGradient id="b92"><stop offset="0" stop-color="#00e9ff"/><stop offset="0.125" stop-color="#00adff"/><stop offset="0.25" stop-color="#007bff"/><stop offset="0.375" stop-color="#0055ff"/><stop offset="0.5" stop-color="#003aff"/><stop offset="0.625" stop-color="#0029ff"/><stop offset="0.75" stop-color="#0024ff"/><stop offset="0.875" stop-color="#0029ff"/><stop offset="1" stop-color="#0039ff"/></linearGradient>
<linearGradient id="b93"><stop offset="0" stop-color="#00e0ff"/><stop offset="0.125" stop-color="#00a5ff"/><stop offset="0.25" stop-color="#0074ff"/><stop offset="0.375" stop-color="#004eff"/><stop offset="0.5" stop-color="#0033ff"/><stop offset="0.625" stop-color="#0022ff"/><stop offset="0.75" stop-color="#001dff"/><stop offset="0.875" stop-color="#0023ff"/><stop offset="1" stop-color="#0033ff"/></linearGradient>
<linearGradient id="b94"><stop offset="0" stop-color="#00d8ff"/><stop offset="0.125" stop-color="#009cff"/><stop offset="0.25" stop-color="#006cff"/><stop offset="0.375" stop-color="#0046ff"/><stop offset="0.5" stop-color="#002bff"/><stop offset="0.625" stop-color="#001cff"/><stop offset="0.75" stop-color="#0017ff"/><stop offset="0.875" stop-color="#001cff"/><stop offset="1" stop-color="#002dff"/></linearGradient>
<linearGradient id="b95"><stop offset="0" stop-color="#00d0ff"/><stop offset="0.125" stop-color="#0094ff"/><stop offset="0.25" stop-color="#0064ff"/><stop offset="0.375" stop-color="#003fff"/><stop offset="0.5" stop-color="#0024ff"/><stop offset="0.625" stop-color="#0015ff"/><stop offset="0.75" stop-color="#0010ff"/><stop offset="0.875" stop-color="#0016ff"/><stop offset="1" stop-color="#0027ff"/></linearGradient>
<linearGradient id="b96"><stop offset="0" stop-color="#00c7ff"/><stop offset="0.125" stop-color="#008cff"/><stop offset="0.25" stop-color="#005cff"/><stop offset="0.375" stop-color="#0037ff"/><stop offset="0.5" stop-color="#001dff"/><stop offset="0.625" stop-color="#000eff"/><stop offset="0.75" stop-color="#0009ff"/><stop offset="0.875" stop-color="#0010ff"/><stop offset="1" stop-color="#0021ff"/></linearGradient>
<linearGradient id="b97"><stop offset="0" stop-color="#00bfff"/><stop offset="0.125" stop-color="#0084ff"/><stop offset="0.25" stop-color="#0054ff"/><stop offset="0.375" stop-color="#0030ff"/><stop offset="0.5" stop-color="#0016ff"/><stop offset="0.625" stop-color="#0007ff"/><stop offset="0.75" stop-color="#0003ff"/><stop offset="0.875" stop-color="#000aff"/><stop offset="1" stop-color="#001bff"/></linearGradient>
<linearGradient id="b98"><stop offset="0" stop-color="#00b6ff"/><stop offset="0.125" stop-color="#007cff"/><stop offset="0.25" stop-color="#004dff"/><stop offset="0.375" stop-color="#0028ff"/><stop offset="0.5" stop-color="#000fff"/><stop offset="0.625" stop-color="#0000ff"/><stop offset="0.625" stop-color="#0000ff"/><stop offset="0.75" stop-color="#0000ff"/><stop offset="0.836" stop-color="#0000ff"/><stop offset="0.875" stop-color="#0003ff"/><stop offset="1" stop-color="#0015ff"/></linearGradient>
<linearGradient id="c0"><stop offset="0" stop-color="#00ceff"/><stop offset="0.125" stop-color="#00d2ff"/><stop offset="0.25" stop-color="#00e4ff"/><stop offset="0.357" stop-color="#00ffff"/><stop offset="0.375" stop-color="#00fffa"/><stop offset="0.5" stop-color="#00fed3"/><stop offset="0.625" stop-color="#00fda1"/><stop offset="0.75" stop-color="#00fc62"/><stop offset="0.875" stop-color="#00fa17"/><stop offset="0.91" stop-color="#00fa00"/><stop offset="1" stop-color="#40fb00"/></linearGradient>
<linearGradient id="c1"><stop offset="0" stop-color="#00d0ff"/><stop offset="0.125" stop-color="#00d3ff"/><stop offset="0.25" stop-color="#00e5ff"/><stop offset="0.356" stop-color="#00ffff"/><stop offset="0.375" stop-color="#00fffa"/><stop offset="0.5" stop-color="#00fed4"/><stop offset="0.625" stop-color="#00fda1"/><stop offset="0.75" stop-color="#00fc63"/><stop offset="0.875" stop-color="#00fa19"/><stop offset="0.912" stop-color="#00fa00"/><stop offset="1" stop-color="#3efb00"/></linearGradient>
<linearGradient id="c2"><stop offset="0" stop-color="#00d2ff"/><stop offset="0.125" stop-color="#00d5ff"/><stop offset="0.25" stop-color="#00e6ff"/><stop offset="0.355" stop-color="#00ffff"/><stop offset="0.375" stop-color="#00fffa"/><stop offset="0.5" stop-color="#00fed4"/><stop offset="0.625" stop-color="#00fda2"/><stop offset="0.75" stop-color="#00fc64"/><stop offset="0.875" stop-color="#00fb1a"/><stop offset="0.915" stop-color="#00fa00"/><stop offset="1" stop-color="#3cfb00"/></linearGradient>
<linearGradient id="c3"><stop offset="0" stop-color="#00d4ff"/><stop offset="0.125" stop-color="#00d6ff"/><stop offset="0.25" stop-color="#00e7ff"/><stop offset="0.353" stop-color="#00ffff"/><stop offset="0.375" stop-color="#00fffa"/><stop offset="0.5" stop-color="#00fed4"/><stop offset="0.625" stop-color="#00fda2"/><stop offset="0.75" stop-color="#00fc65"/><stop offset="0.875" stop-color="#00fb1b"/><stop offset="0.917" stop-color="#00fa00"/><stop offset="1" stop-color="#3afb00"/></linearGradient>
<linearGradient id="c4"><stop offset="0" stop-color="#00d6ff"/><stop offset="0.125" stop-color="#00d8ff"/><stop offset="0.25" stop-color="#00e8ff"/><stop offset="0.351" stop-color="#00ffff"/><stop offset="0.375" stop-color="#00fff9"/><stop offset="0.5" stop-color="#00fed4"/><stop offset="0.625" stop-color="#00fda3"/><stop offset="0.75" stop-color="#00fc66"/><stop offset="0.875" stop-color="#00fb1d"/><stop offset="0.919" stop-color="#00fa00"/><stop offset="1" stop-color="#38fb00"/></linearGradient>
<linearGradient id="c5"><stop offset="0" stop-color="#00d8ff"/><stop offset="0.125" stop-color="#00d9ff"/><stop offset="0.25" stop-color="#00e9ff"/><stop offset="0.348" stop-color="#00ffff"/><stop offset="0.375" stop-color="#00fff9"/><stop offset="0.5" stop-color="#00fed4"/><stop offset="0.625" stop-color="#00fda3"/><stop offset="0.75" stop-color="#00fc67"/><stop offset="0.875" stop-color="#00fb1e"/><stop offset="0.921" stop-color="#00fa00"/><stop offset="1" stop-color="#36fb00"/></linearGradient>
<linearGradient id="c6"><stop offset="0" stop-color="#00daff"/><stop offset="0.125" stop-color="#00dbff"/><stop offset="0.25" stop-color="#00eaff"/><stop offset="0.346" stop-color="#00ffff"/><stop offset="0.375" stop-color="#00fff8"/><stop offset="0.5" stop-color="#00fed4"/><stop offset="0.625" stop-color="#00fda4"/><stop offset="0.75" stop-color="#00fc67"/><stop offset="0.875" stop-color="#00fb1f"/><stop offset="0.924" stop-color="#00fa00"/><stop offset="1" stop-color="#35fb00"/></linearGradient>
<linearGradient id="c7"><stop offset="0" stop-color="#00ddff"/><stop offset="0.125" stop-color="#00ddff"/><stop offset="0.25" stop-color="#00ebff"/><stop offset="0.343" stop-color="#00ffff"/><stop offset="0.375" stop-color="#00fff8"/><stop offset="0.5" stop-color="#00fed4"/><stop offset="0.625" stop-color="#00fda4"/><stop offset="0.75" stop-color="#00fc68"/><stop offset="0.875" stop-color="#00fb20"/><stop offset="0.926" stop-color="#00fa00"/><stop offset="1" stop-color="#33fb00"/></linearGradient>
<linearGradient id="c8"><stop offset="0" stop-color="#00dfff"/><stop offset="0.125" stop-color="#00deff"/><stop offset="0.25" stop-color="#00ecff"/><stop offset="0.339" stop-color="#00ffff"/><stop offset="0.375" stop-color="#00fff7"/><stop offset="0.5" stop-color="#00fed4"/><stop offset="0.625" stop-color="#00fda4"/><stop offset="0.75" stop-color="#00fc69"/><stop offset="0.875" stop-color="#00fb22"/><stop offset="0.928" stop-color="#00fa00"/><stop offset="1" stop-color="#32fb00"/></linearGradient>
<linearGradient id="c9"><stop offset="0" stop-color="#00e1ff"/><stop offset="0.125" stop-color="#00e0ff"/><stop offset="0.25" stop-color="#00eeff"/><stop offset="0.335" stop-color="#00ffff"/><stop offset="0.375" stop-color="#00fff6"/><stop offset="0.5" stop-color="#00fed3"/><stop offset="0.625" stop-color="#00fda4"/><stop offset="0.75" stop-color="#00fc69"/><stop offset="0.875" stop-color="#00fb23"/><stop offset="0.93" stop-color="#00fa00"/><stop offset="1" stop-color="#30fb00"/></linearGradient>
<linearGradient id="c10"><stop offset="0" stop-color="#00e4ff"/><stop offset="0.125" stop-color="#00e2ff"/><stop offset="0.25" stop-color="#00efff"/><stop offset="0.331" stop-color="#00ffff"/><stop offset="0.375" stop-color="#00fff6"/><stop offset="0.5" stop-color="#00fed3"/><stop offset="0.625" stop-color="#00fda5"/><stop offset="0.75" stop-color="#00fc6a"/><stop offset="0.875" stop-color="#00fb24"/><stop offset="0.931" stop-color="#00fa00"/><stop offset="1" stop-color="#2ffb00"/></linearGradient>
<linearGradient id="c11"><stop offset="0" stop-color="#00e6ff"/><stop offset="0.125" stop-color="#00e4ff"/><stop offset="0.25" stop-color="#00f1ff"/><stop offset="0.326" stop-color="#00ffff"/><stop offset="0.375" stop-color="#00fff5"/><stop offset="0.5" stop-color="#00fed3"/><stop offset="0.625" stop-color="#00fda5"/><stop offset="0.75" stop-color="#00fc6b"/><stop offset="0.875" stop-color="#00fb25"/><stop offset="0.933" stop-color="#00fa00"/><stop offset="1" stop-color="#2dfb00"/></linearGradient>
<linearGradient id="c12"><stop offset="0" stop-color="#00e9ff"/><stop offset="0.125" stop-color="#00e6ff"/><stop offset="0.25" stop-color="#00f2ff"/><stop offset="0.321" stop-color="#00ffff"/><stop offset="0.375" stop-color="#00fff4"/><stop offset="0.5" stop-color="#00fed2"/><stop offset="0.625" stop-color="#00fda5"/><stop offset="0.75" stop-color="#00fc6b"/><stop offset="0.875" stop-color="#00fb26"/><stop offset="0.935" stop-color="#00fa00"/><stop offset="1" stop-color="#2cfb00"/></linearGradient>
<linearGradient id="c13"><stop offset="0" stop-color="#00ebff"/><stop offset="0.125" stop-color="#00e8ff"/><stop offset="0.25" stop-color="#00f4ff"/><stop offset="0.314" stop-color="#00ffff"/><stop offset="0.375" stop-color="#00fff3"/><stop offset="0.5" stop-color="#00fed2"/><stop offset="0.625" stop-color="#00fda5"/><stop offset="0.75" stop-color="#00fc6b"/><stop offset="0.875" stop-color="#00fb26"/><stop offset="0.936" stop-color="#00fa00"/><stop offset="1" stop-color="#2bfb00"/></linearGradient>
<linearGradient id="c14"><stop offset="0" stop-color="#00eeff"/><stop offset="0.125" stop-color="#00eaff"/><stop offset="0.25" stop-color="#00f5ff"/><stop offset="0.307" stop-color="#00ffff"/><stop offset="0.375" stop-color="#00fff2"/><stop offset="0.5" stop-color="#00fed1"/><stop offset="0.625" stop-color="#00fda5"/><stop offset="0.75" stop-color="#00fc6c"/><stop offset="0.875" stop-color="#00fb27"/><stop offset="0.938" stop-color="#00fa00"/><stop offset="1" stop-color="#29fb00"/></linearGradient>
<linearGradient id="c15"><stop offset="0" stop-color="#00f1ff"/><stop offset="0.125" stop-color="#00edff"/><stop offset="0.25" stop-color="#00f7ff"/><stop offset="0.3" stop-color="#00ffff"/><stop offset="0.375" stop-color="#00fff1"/><stop offset="0.5" stop-color="#00fed1"/><stop offset="0.625" stop-color="#00fda4"/><stop offset="0.75" stop-color="#00fc6c"/><stop offset="0.875" stop-color="#00fb28"/><stop offset="0.94" stop-color="#00fa00"/><stop offset="1" stop-color="#28fb00"/></linearGradient>
<linearGradient id="c16"><stop offset="0" stop-color="#00f4ff"/><stop offset="0.125" stop-color="#00efff"/><stop offset="0.25" stop-color="#00f9ff"/><stop offset="0.291" stop-color="#00ffff"/><stop offset="0.375" stop-color="#00fff0"/><stop offset="0.5" stop-color="#00fed0"/><stop offset="0.625" stop-color="#00fda4"/><stop offset="0.75" stop-color="#00fc6c"/><stop offset="0.875" stop-color="#00fb29"/><stop offset="0.941" stop-color="#00fa00"/><stop offset="1" stop-color="#27fb00"/></linearGradient>
<linearGradient id="c17"><stop offset="0" stop-color="#00f6ff"/><stop offset="0.125" stop-color="#00f1ff"/><stop offset="0.25" stop-color="#00fbff"/><stop offset="0.281" stop-color="#00ffff"/><stop offset="0.375" stop-color="#00ffef"/><stop offset="0.5" stop-color="#00fed0"/><stop offset="0.625" stop-color="#00fda4"/><stop offset="0.75" stop-color="#00fc6d"/><stop offset="0.875" stop-color="#00fb29"/><stop offset="0.942" stop-color="#00fa00"/><stop offset="1" stop-color="#26fb00"/></linearGradient>
<linearGradient id="c18"><stop offset="0" stop-color="#00f9ff"/><stop offset="0.125" stop-color="#00f4ff"/><stop offset="0.25" stop-color="#00fcff"/><stop offset="0.269" stop-color="#00ffff"/><stop offset="0.375" stop-color="#00ffee"/><stop offset="0.5" stop-color="#00fecf"/><stop offset="0.625" stop-color="#00fda4"/><stop offset="0.75" stop-color="#00fc6d"/><stop offset="0.875" stop-color="#00fb2a"/><stop offset="0.944" stop-color="#00fa00"/><stop offset="1" stop-color="#25fb00"/></linearGradient>
<linearGradient id="c19"><stop offset="0" stop-color="#00fcff"/><stop offset="0.125" stop-color="#00f6ff"/><stop offset="0.25" stop-color="#00feff"/><stop offset="0.255" stop-color="#00ffff"/><stop offset="0.375" stop-color="#00ffed"/><stop offset="0.5" stop-color="#00fece"/><stop offset="0.625" stop-color="#00fda3"/><stop offset="0.75" stop-color="#00fc6d"/><stop offset="0.875" stop-color="#00fb2a"/><stop offset="0.945" stop-color="#00fa00"/><stop offset="1" stop-color="#24fb00"/></linearGradient>
<linearGradient id="c20"><stop offset="0" stop-color="#00ffff"/><stop offset="0.004" stop-color="#00ffff"/><stop offset="0.125" stop-color="#00f9ff"/><stop offset="0.237" stop-color="#00ffff"/><stop offset="0.25" stop-color="#00fffe"/><stop offset="0.375" stop-color="#00ffeb"/><stop offset="0.5" stop-color="#00fecd"/><stop offset="0.625" stop-color="#00fda3"/><stop offset="0.75" stop-color="#00fc6d"/><stop offset="0.875" stop-color="#00fb2b"/><stop offset="0.946" stop-color="#00fa00"/><stop offset="1" stop-color="#23fb00"/></linearGradient>
<linearGradient id="c21"><stop offset="0" stop-color="#00fffc"/><stop offset="0.036" stop-color="#00ffff"/><stop offset="0.125" stop-color="#00fbff"/><stop offset="0.214" stop-color="#00ffff"/><stop offset="0.25" stop-color="#00fffc"/><stop offset="0.375" stop-color="#00ffea"/><stop offset="0.5" stop-color="#00fecc"/><stop offset="0.625" stop-color="#00fda3"/><stop offset="0.75" stop-color="#00fc6d"/><stop offset="0.875" stop-color="#00fb2b"/><stop offset="0.947" stop-color="#00fa00"/><stop offset="1" stop-color="#22fb00"/></linearGradient>
<linearGradient id="c22"><stop offset="0" stop-color="#00fff9"/><stop offset="0.085" stop-color="#00ffff"/><stop offset="0.125" stop-color="#00feff"/><stop offset="0.175" stop-color="#00ffff"/><stop offset="0.25" stop-color="#00fffa"/><stop offset="0.375" stop-color="#00ffe9"/><stop offset="0.5" stop-color="#00fecb"/><stop offset="0.625" stop-color="#00fda2"/><stop offset="0.75" stop-color="#00fc6d"/><stop offset="0.875" stop-color="#00fb2c"/><stop offset="0.948" stop-color="#00fa00"/><stop offset="1" stop-color="#21fb00"/></linearGradient>
<linearGradient id="c23"><stop offset="0" stop-color="#00fff7"/><stop offset="0.125" stop-color="#00fffd"/><stop offset="0.25" stop-color="#00fff8"/><stop offset="0.375" stop-color="#00ffe7"/><stop offset="0.5" stop-color="#00feca"/><stop offset="0.625" stop-color="#00fda2"/><stop offset="0.75" stop-color="#00fc6d"/><stop offset="0.875" stop-color="#00fb2c"/><stop offset="0.949" stop-color="#00fa00"/><stop offset="1" stop-color="#21fb00"/></linearGradient>
<linearGradient id="c24"><stop offset="0" stop-color="#00fff4"/><stop offset="0.125" stop-color="#00fffb"/><stop offset="0.25" stop-color="#00fff6"/><stop offset="0.375" stop-color="#00ffe6"/><stop offset="0.5" stop-color="#00fec9"/><stop offset="0.625" stop-color="#00fda1"/><stop offset="0.75" stop-color="#00fc6d"/><stop offset="0.875" stop-color="#00fb2c"/><stop offset="0.95" stop-color="#00fa00"/><stop offset="1" stop-color="#20fb00"/></linearGradient>
<linearGradient id="c25"><stop offset="0" stop-color="#00fff1"/><stop offset="0.125" stop-color="#00fff9"/><stop offset="0.25" stop-color="#00fff5"/><stop offset="0.375" stop-color="#00fee4"/><stop offset="0.5" stop-color="#00fec8"/><stop offset="0.625" stop-color="#00fda0"/><stop offset="0.75" stop-color="#00fc6c"/><stop offset="0.875" stop-color="#00fb2c"/><stop offset="0.951" stop-color="#00fa00"/><stop offset="1" stop-color="#1ffb00"/></linearGradient>
<linearGradient id="c26"><stop offset="0" stop-color="#00ffee"/><stop offset="0.125" stop-color="#00fff6"/><stop offset="0.25" stop-color="#00fff2"/><stop offset="0.375" stop-color="#00fee3"/><stop offset="0.5" stop-color="#00fec7"/><stop offset="0.625" stop-color="#00fda0"/><stop offset="0.75" stop-color="#00fc6c"/><stop offset="0.875" stop-color="#00fb2d"/><stop offset="0.951" stop-color="#00fa00"/><stop offset="1" stop-color="#1ffb00"/></linearGradient>
<linearGradient id="c27"><stop offset="0" stop-color="#00ffeb"/><stop offset="0.125" stop-color="#00fff4"/><stop offset="0.25" stop-color="#00fff0"/><stop offset="0.375" stop-color="#00fee1"/><stop offset="0.5" stop-color="#00fec6"/><stop offset="0.625" stop-color="#00fd9f"/><stop offset="0.75" stop-color="#00fc6c"/><stop offset="0.875" stop-color="#00fb2d"/><stop offset="0.952" stop-color="#00fa00"/><stop offset="1" stop-color="#1efb00"/></linearGradient>
<linearGradient id="c28"><stop offset="0" stop-color="#00ffe8"/><stop offset="0.125" stop-color="#00fff1"/><stop offset="0.25" stop-color="#00ffee"/><stop offset="0.375" stop-color="#00fedf"/><stop offset="0.5" stop-color="#00fec5"/><stop offset="0.625" stop-color="#00fd9e"/><stop offset="0.75" stop-color="#00fc6b"/><stop offset="0.875" stop-color="#00fb2d"/><stop offset="0.952" stop-color="#00fa00"/><stop offset="1" stop-color="#1efb00"/></linearGradient>
<linearGradient id="c29"><stop offset="0" stop-color="#00fee5"/><stop offset="0.125" stop-color="#00ffef"/><stop offset="0.25" stop-color="#00ffec"/><stop offset="0.375" stop-color="#00fede"/><stop offset="0.5" stop-color="#00fec3"/><stop offset="0.625" stop-color="#00fd9d"/><stop offset="0.75" stop-color="#00fc6b"/><stop offset="0.875" stop-color="#00fb2d"/><stop offset="0.953" stop-color="#00fa00"/><stop offset="1" stop-color="#1dfb00"/></linearGradient>
<linearGradient id="c30"><stop offset="0" stop-color="#00fee2"/><stop offset="0.125" stop-color="#00ffec"/><stop offset="0.25" stop-color="#00ffea"/><stop offset="0.375" stop-color="#00fedc"/><stop offset="0.5" stop-color="#00fec2"/><stop offset="0.625" stop-color="#00fd9c"/><stop offset="0.75" stop-color="#00fc6a"/><stop offset="0.875" stop-color="#00fb2d"/><stop offset="0.953" stop-color="#00fa00"/><stop offset="1" stop-color="#1dfb00"/></linearGradient>
<linearGradient id="c31"><stop offset="0" stop-color="#00fedf"/><stop offset="0.125" stop-color="#00ffe9"/><stop offset="0.25" stop-color="#00ffe8"/><stop offset="0.375" stop-color="#00feda"/><stop offset="0.5" stop-color="#00fec1"/><stop offset="0.625" stop-color="#00fd9b"/><stop offset="0.75" stop-color="#00fc6a"/><stop offset="0.875" stop-color="#00fb2d"/><stop offset="0.954" stop-color="#00fa00"/><stop offset="1" stop-color="#1dfb00"/></linearGradient>
<linearGradient id="c32"><stop offset="0" stop-color="#00fedc"/><stop offset="0.125" stop-color="#00ffe6"/><stop offset="0.25" stop-color="#00fee5"/><stop offset="0.375" stop-color="#00fed8"/><stop offset="0.5" stop-color="#00febf"/><stop offset="0.625" stop-color="#00fd9a"/><stop offset="0.75" stop-color="#00fc69"/><stop offset="0.875" stop-color="#00fb2c"/><stop offset="0.954" stop-color="#00fa00"/><stop offset="1" stop-color="#1cfb00"/></linearGradient>
<linearGradient id="c33"><stop offset="0" stop-color="#00fed8"/><stop offset="0.125" stop-color="#00fee4"/><stop offset="0.25" stop-color="#00fee3"/><stop offset="0.375" stop-color="#00fed6"/><stop offset="0.5" stop-color="#00febe"/><stop offset="0.625" stop-color="#00fd99"/><stop offset="0.75" stop-color="#00fc69"/><stop offset="0.875" stop-color="#00fb2c"/><stop offset="0.954" stop-color="#00fa00"/><stop offset="1" stop-color="#1cfb00"/></linearGradient>
<linearGradient id="c34"><stop offset="0" stop-color="#00fed5"/><stop offset="0.125" stop-color="#00fee1"/><stop offset="0.25" stop-color="#00fee0"/><stop offset="0.375" stop-color="#00fed4"/><stop offset="0.5" stop-color="#00febc"/><stop offset="0.625" stop-color="#00fd98"/><stop offset="0.75" stop-color="#00fc68"/><stop offset="0.875" stop-color="#00fb2c"/><stop offset="0.954" stop-color="#00fa00"/><stop offset="1" stop-color="#1cfb00"/></linearGradient>
<linearGradient id="c35"><stop offset="0" stop-color="#00fed2"/><stop offset="0.125" stop-color="#00fede"/><stop offset="0.25" stop-color="#00fede"/><stop offset="0.375" stop-color="#00fed2"/><stop offset="0.5" stop-color="#00feba"/><stop offset="0.625" stop-color="#00fd97"/><stop offset="0.75" stop-color="#00fc67"/><stop offset="0.875" stop-color="#00fb2c"/><stop offset="0.954" stop-color="#00fa00"/><stop offset="1" stop-color="#1cfb00"/></linearGradient>
<linearGradient id="c36"><stop offset="0" stop-color="#00fece"/><stop offset="0.125" stop-color="#00fedb"/><stop offset="0.25" stop-color="#00fedb"/><stop offset="0.375" stop-color="#00fed0"/><stop offset="0.5" stop-color="#00feb9"/><stop offset="0.625" stop-color="#00fd95"/><stop offset="0.75" stop-color="#00fc66"/><stop offset="0.875" stop-color="#00fb2b"/><stop offset="0.953" stop-color="#00fa00"/><stop offset="1" stop-color="#1cfb00"/></linearGradient>
<linearGradient id="c37"><stop offset="0" stop-color="#00fecb"/><stop offset="0.125" stop-color="#00fed8"/><stop offset="0.25" stop-color="#00fed9"/><stop offset="0.375" stop-color="#00fece"/><stop offset="0.5" stop-color="#00feb7"/><stop offset="0.625" stop-color="#00fd94"/><stop offset="0.75" stop-color="#00fc65"/><stop offset="0.875" stop-color="#00fb2b"/><stop offset="0.953" stop-color="#00fa00"/><stop offset="1" stop-color="#1cfb00"/></linearGradient>
<linearGradient id="c38"><stop offset="0" stop-color="#00fec7"/><stop offset="0.125" stop-color="#00fed5"/><stop offset="0.25" stop-color="#00fed6"/><stop offset="0.375" stop-color="#00fecc"/><stop offset="0.5" stop-color="#00feb5"/><stop offset="0.625" stop-color="#00fd93"/><stop offset="0.75" stop-color="#00fc64"/><stop offset="0.875" stop-color="#00fb2a"/><stop offset="0.953" stop-color="#00fa00"/><stop offset="1" stop-color="#1cfb00"/></linearGradient>
<linearGradient id="c39"><stop offset="0" stop-color="#00fec4"/><stop offset="0.125" stop-color="#00fed1"/><stop offset="0.25" stop-color="#00fed3"/><stop offset="0.375" stop-color="#00fec9"/><stop offset="0.5" stop-color="#00feb3"/><stop offset="0.625" stop-color="#00fd91"/><stop offset="0.75" stop-color="#00fc63"/><stop offset="0.875" stop-color="#00fb2a"/><stop offset="0.952" stop-color="#00fa00"/><stop offset="1" stop-color="#1cfb00"/></linearGradient>
<linearGradient id="c40"><stop offset="0" stop-color="#00fec0"/><stop offset="0.125" stop-color="#00fece"/><stop offset="0.25" stop-color="#00fed1"/><stop offset="0.375" stop-color="#00fec7"/><stop offset="0.5" stop-color="#00fdb1"/><stop offset="0.625" stop-color="#00fd90"/><stop offset="0.75" stop-color="#00fc62"/><stop offset="0.875" stop-color="#00fb29"/><stop offset="0.952" stop-color="#00fa00"/><stop offset="1" stop-color="#1cfb00"/></linearGradient>
<linearGradient id="c41"><stop offset="0" stop-color="#00febc"/><stop offset="0.125" stop-color="#00fecb"/><stop offset="0.25" stop-color="#00fece"/><stop offset="0.375" stop-color="#00fec5"/><stop offset="0.5" stop-color="#00fdaf"/><stop offset="0.625" stop-color="#00fd8e"/><stop offset="0.75" stop-color="#00fc61"/><stop offset="0.875" stop-color="#00fb28"/><stop offset="0.951" stop-color="#00fa00"/><stop offset="1" stop-color="#1cfb00"/></linearGradient>
<linearGradient id="c42"><stop offset="0" stop-color="#00feb9"/><stop offset="0.125" stop-color="#00fec8"/><stop offset="0.25" stop-color="#00fecb"/><stop offset="0.375" stop-color="#00fec2"/><stop offset="0.5" stop-color="#00fdad"/><stop offset="0.625" stop-color="#00fd8d"/><stop offset="0.75" stop-color="#00fc60"/><stop offset="0.875" stop-color="#00fb28"/><stop offset="0.95" stop-color="#00fa00"/><stop offset="1" stop-color="#1dfb00"/></linearGradient>
<linearGradient id="c43"><stop offset="0" stop-color="#00feb5"/><stop offset="0.125" stop-color="#00fec4"/><stop offset="0.25" stop-color="#00fec8"/><stop offset="0.375" stop-color="#00fec0"/><stop offset="0.5" stop-color="#00fdab"/><stop offset="0.625" stop-color="#00fd8b"/><stop offset="0.75" stop-color="#00fc5f"/><stop offset="0.875" stop-color="#00fb27"/><stop offset="0.949" stop-color="#00fa00"/><stop offset="1" stop-color="#1dfb00"/></linearGradient>
<linearGradient id="c44"><stop offset="0" stop-color="#00fdb1"/><stop offset="0.125" stop-color="#00fec1"/><stop offset="0.25" stop-color="#00fec5"/><stop offset="0.375" stop-color="#00febd"/><stop offset="0.5" stop-color="#00fda9"/><stop offset="0.625" stop-color="#00fd89"/><stop offset="0.75" stop-color="#00fc5e"/><stop offset="0.875" stop-color="#00fb26"/><stop offset="0.948" stop-color="#00fa00"/><stop offset="1" stop-color="#1dfb00"/></linearGradient>
<linearGradient id="c45"><stop offset="0" stop-color="#00fdad"/><stop offset="0.125" stop-color="#00febd"/><stop offset="0.25" stop-color="#00fec2"/><stop offset="0.375" stop-color="#00feba"/><stop offset="0.5" stop-color="#00fda7"/><stop offset="0.625" stop-color="#00fd88"/><stop offset="0.75" stop-color="#00fc5c"/><stop offset="0.875" stop-color="#00fb25"/><stop offset="0.947" stop-color="#00fa00"/><stop offset="1" stop-color="#1efb00"/></linearGradient>
<linearGradient id="c46"><stop offset="0" stop-color="#00fda9"/><stop offset="0.125" stop-color="#00feba"/><stop offset="0.25" stop-color="#00febf"/><stop offset="0.375" stop-color="#00feb8"/><stop offset="0.5" stop-color="#00fda5"/><stop offset="0.625" stop-color="#00fd86"/><stop offset="0.75" stop-color="#00fc5b"/><stop offset="0.875" stop-color="#00fb24"/><stop offset="0.946" stop-color="#00fa00"/><stop offset="1" stop-color="#1efb00"/></linearGradient>
<linearGradient id="c47"><stop offset="0" stop-color="#00fda5"/><stop offset="0.125" stop-color="#00feb6"/><stop offset="0.25" stop-color="#00febc"/><stop offset="0.375" stop-color="#00feb5"/><stop offset="0.5" stop-color="#00fda3"/><stop offset="0.625" stop-color="#00fd84"/><stop offset="0.75" stop-color="#00fc5a"/><stop offset="0.875" stop-color="#00fb23"/><stop offset="0.945" stop-color="#00fa00"/><stop offset="1" stop-color="#1ffb00"/></linearGradient>
<linearGradient id="c48"><stop offset="0" stop-color="#00fda1"/><stop offset="0.125" stop-color="#00feb3"/><stop offset="0.25" stop-color="#00feb8"/><stop offset="0.375" stop-color="#00fdb2"/><stop offset="0.5" stop-color="#00fda0"/><stop offset="0.625" stop-color="#00fd82"/><stop offset="0.75" stop-color="#00fc58"/><stop offset="0.875" stop-color="#00fb22"/><stop offset="0.943" stop-color="#00fa00"/><stop offset="1" stop-color="#1ffb00"/></linearGradient>
<linearGradient id="c49"><stop offset="0" stop-color="#00fd9d"/><stop offset="0.125" stop-color="#00fdaf"/><stop offset="0.25" stop-color="#00feb5"/><stop offset="0.375" stop-color="#00fdaf"/><stop offset="0.5" stop-color="#00fd9e"/><stop offset="0.625" stop-color="#00fd80"/><stop offset="0.75" stop-color="#00fc57"/><stop offset="0.875" stop-color="#00fb21"/><stop offset="0.942" stop-color="#00fa00"/><stop offset="1" stop-color="#20fb00"/></linearGradient>
<linearGradient id="c50"><stop offset="0" stop-color="#00fd99"/><stop offset="0.125" stop-color="#00fdab"/><stop offset="0.25" stop-color="#00fdb2"/><stop offset="0.375" stop-color="#00fdad"/><stop offset="0.5" stop-color="#00fd9b"/><stop offset="0.625" stop-color="#00fc7e"/><stop offset="0.75" stop-color="#00fc55"/><stop offset="0.875" stop-color="#00fb20"/><stop offset="0.94" stop-color="#00fa00"/><stop offset="1" stop-color="#21fb00"/></linearGradient>
<linearGradient id="c51"><stop offset="0" stop-color="#00fd94"/><stop offset="0.125" stop-color="#00fda7"/><stop offset="0.25" stop-color="#00fdae"/><stop offset="0.375" stop-color="#00fdaa"/><stop offset="0.5" stop-color="#00fd99"/><stop offset="0.625" stop-color="#00fc7c"/><stop offset="0.75" stop-color="#00fc54"/><stop offset="0.875" stop-color="#00fb1f"/><stop offset="0.938" stop-color="#00fa00"/><stop offset="1" stop-color="#22fb00"/></linearGradient>
<linearGradient id="c52"><stop offset="0" stop-color="#00fd90"/><stop offset="0.125" stop-color="#00fda4"/><stop offset="0.25" stop-color="#00fdab"/><stop offset="0.375" stop-color="#00fda7"/><stop offset="0.5" stop-color="#00fd96"/><stop offset="0.625" stop-color="#00fc7a"/><stop offset="0.75" stop-color="#00fc52"/><stop offset="0.875" stop-color="#00fb1e"/><stop offset="0.936" stop-color="#00fa00"/><stop offset="1" stop-color="#22fb00"/></linearGradient>
<linearGradient id="c53"><stop offset="0" stop-color="#00fd8c"/><stop offset="0.125" stop-color="#00fda0"/><stop offset="0.25" stop-color="#00fda8"/><stop offset="0.375" stop-color="#00fda4"/><stop offset="0.5" stop-color="#00fd94"/><stop offset="0.625" stop-color="#00fc78"/><stop offset="0.75" stop-color="#00fc50"/><stop offset="0.875" stop-color="#00fb1c"/><stop offset="0.934" stop-color="#00fa00"/><stop offset="1" stop-color="#23fb00"/></linearGradient>
<linearGradient id="c54"><stop offset="0" stop-color="#00fd87"/><stop offset="0.125" stop-color="#00fd9c"/><stop offset="0.25" stop-color="#00fda4"/><stop offset="0.375" stop-color="#00fda1"/><stop offset="0.5" stop-color="#00fd91"/><stop offset="0.625" stop-color="#00fc76"/><stop offset="0.75" stop-color="#00fc4e"/><stop offset="0.875" stop-color="#00fb1b"/><stop offset="0.931" stop-color="#00fa00"/><stop offset="1" stop-color="#24fb00"/></linearGradient>
<linearGradient id="c55"><stop offset="0" stop-color="#00fd83"/><stop offset="0.125" stop-color="#00fd98"/><stop offset="0.25" stop-color="#00fda0"/><stop offset="0.375" stop-color="#00fd9d"/><stop offset="0.5" stop-color="#00fd8e"/><stop offset="0.625" stop-color="#00fc73"/><stop offset="0.75" stop-color="#00fb4c"/><stop offset="0.875" stop-color="#00fb1a"/><stop offset="0.929" stop-color="#00fa00"/><stop offset="1" stop-color="#25fb00"/></linearGradient>
<linearGradient id="c56"><stop offset="0" stop-color="#00fc7e"/><stop offset="0.125" stop-color="#00fd94"/><stop offset="0.25" stop-color="#00fd9d"/><stop offset="0.375" stop-color="#00fd9a"/><stop offset="0.5" stop-color="#00fd8c"/><stop offset="0.625" stop-color="#00fc71"/><stop offset="0.75" stop-color="#00fb4b"/><stop offset="0.875" stop-color="#00fa18"/><stop offset="0.926" stop-color="#00fa00"/><stop offset="1" stop-color="#26fb00"/></linearGradient>
<linearGradient id="c57"><stop offset="0" stop-color="#00fc7a"/><stop offset="0.125" stop-color="#00fd8f"/><stop offset="0.25" stop-color="#00fd99"/><stop offset="0.375" stop-color="#00fd97"/><stop offset="0.5" stop-color="#00fd89"/><stop offset="0.625" stop-color="#00fc6f"/><stop offset="0.75" stop-color="#00fb49"/><stop offset="0.875" stop-color="#00fa17"/><stop offset="0.924" stop-color="#00fa00"/><stop offset="1" stop-color="#27fb00"/></linearGradient>
<linearGradient id="c58"><stop offset="0" stop-color="#00fc75"/><stop offset="0.125" stop-color="#00fd8b"/><stop offset="0.25" stop-color="#00fd95"/><stop offset="0.375" stop-color="#00fd94"/><stop offset="0.5" stop-color="#00fd86"/><stop offset="0.625" stop-color="#00fc6c"/><stop offset="0.75" stop-color="#00fb47"/><stop offset="0.875" stop-color="#00fa15"/><stop offset="0.921" stop-color="#00fa00"/><stop offset="1" stop-color="#28fb00"/></linearGradient>
<linearGradient id="c59"><stop offset="0" stop-color="#00fc71"/><stop offset="0.125" stop-color="#00fd87"/><stop offset="0.25" stop-color="#00fd92"/><stop offset="0.375" stop-color="#00fd90"/><stop offset="0.5" stop-color="#00fd83"/><stop offset="0.625" stop-color="#00fc6a"/><stop offset="0.75" stop-color="#00fb45"/><stop offset="0.875" stop-color="#00fa13"/><stop offset="0.918" stop-color="#00fa00"/><stop offset="1" stop-color="#2afb00"/></linearGradient>
<linearGradient id="c60"><stop offset="0" stop-color="#00fc6c"/><stop offset="0.125" stop-color="#00fd83"/><stop offset="0.25" stop-color="#00fd8e"/><stop offset="0.375" stop-color="#00fd8d"/><stop offset="0.5" stop-color="#00fd80"/><stop offset="0.625" stop-color="#00fc67"/><stop offset="0.75" stop-color="#00fb42"/><stop offset="0.875" stop-color="#00fa12"/><stop offset="0.914" stop-color="#00fa00"/><stop offset="1" stop-color="#2bfb00"/></linearGradient>
<linearGradient id="c61"><stop offset="0" stop-color="#00fc67"/><stop offset="0.125" stop-color="#00fc7e"/><stop offset="0.25" stop-color="#00fd8a"/><stop offset="0.375" stop-color="#00fd89"/><stop offset="0.5" stop-color="#00fc7d"/><stop offset="0.625" stop-color="#00fc65"/><stop offset="0.75" stop-color="#00fb40"/><stop offset="0.875" stop-color="#00fa10"/><stop offset="0.911" stop-color="#00fa00"/><stop offset="1" stop-color="#2cfb00"/></linearGradient>
<linearGradient id="c62"><stop offset="0" stop-color="#00fc62"/><stop offset="0.125" stop-color="#00fc7a"/><stop offset="0.25" stop-color="#00fd86"/><stop offset="0.375" stop-color="#00fd86"/><stop offset="0.5" stop-color="#00fc7a"/><stop offset="0.625" stop-color="#00fc62"/><stop offset="0.75" stop-color="#00fb3e"/><stop offset="0.875" stop-color="#00fa0e"/><stop offset="0.907" stop-color="#00fa00"/><stop offset="1" stop-color="#2dfb00"/></linearGradient>
<linearGradient id="c63"><stop offset="0" stop-color="#00fc5d"/><stop offset="0.125" stop-color="#00fc76"/><stop offset="0.25" stop-color="#00fd82"/><stop offset="0.375" stop-color="#00fd82"/><stop offset="0.5" stop-color="#00fc77"/><stop offset="0.625" stop-color="#00fc5f"/><stop offset="0.75" stop-color="#00fb3c"/><stop offset="0.875" stop-color="#00fa0c"/><stop offset="0.903" stop-color="#00fa00"/><stop offset="1" stop-color="#2ffb00"/></linearGradient>
<linearGradient id="c64"><stop offset="0" stop-color="#00fc58"/><stop offset="0.125" stop-color="#00fc71"/><stop offset="0.25" stop-color="#00fc7e"/><stop offset="0.375" stop-color="#00fc7f"/><stop offset="0.5" stop-color="#00fc73"/><stop offset="0.625" stop-color="#00fc5c"/><stop offset="0.75" stop-color="#00fb39"/><stop offset="0.875" stop-color="#00fa0b"/><stop offset="0.899" stop-color="#00fa00"/><stop offset="1" stop-color="#30fb00"/></linearGradient>
<linearGradient id="c65"><stop offset="0" stop-color="#00fc53"/><stop offset="0.125" stop-color="#00fc6d"/><stop offset="0.25" stop-color="#00fc7a"/><stop offset="0.375" stop-color="#00fc7b"/><stop offset="0.5" stop-color="#00fc70"/><stop offset="0.625" stop-color="#00fc5a"/><stop offset="0.75" stop-color="#00fb37"/><stop offset="0.875" stop-color="#00fa09"/><stop offset="0.895" stop-color="#00fa00"/><stop offset="1" stop-color="#32fb00"/></linearGradient>
<linearGradient id="c66"><stop offset="0" stop-color="#00fc4e"/><stop offset="0.125" stop-color="#00fc68"/><stop offset="0.25" stop-color="#00fc75"/><stop offset="0.375" stop-color="#00fc77"/><stop offset="0.5" stop-color="#00fc6d"/><stop offset="0.625" stop-color="#00fc57"/><stop offset="0.75" stop-color="#00fb35"/><stop offset="0.875" stop-color="#00fa07"/><stop offset="0.891" stop-color="#00fa00"/><stop offset="1" stop-color="#33fb00"/></linearGradient>
<linearGradient id="c67"><stop offset="0" stop-color="#00fb49"/><stop offset="0.125" stop-color="#00fc63"/><stop offset="0.25" stop-color="#00fc71"/><stop offset="0.375" stop-color="#00fc73"/><stop offset="0.5" stop-color="#00fc6a"/><stop offset="0.625" stop-color="#00fc54"/><stop offset="0.75" stop-color="#00fb32"/><stop offset="0.875" stop-color="#00fa05"/><stop offset="0.886" stop-color="#00fa00"/><stop offset="1" stop-color="#35fb00"/></linearGradient>
<linearGradient id="c68"><stop offset="0" stop-color="#00fb44"/><stop offset="0.125" stop-color="#00fc5f"/><stop offset="0.25" stop-color="#00fc6d"/><stop offset="0.375" stop-color="#00fc70"/><stop offset="0.5" stop-color="#00fc66"/><stop offset="0.625" stop-color="#00fc51"/><stop offset="0.75" stop-color="#00fb30"/><stop offset="0.875" stop-color="#00fa02"/><stop offset="0.881" stop-color="#00fa00"/><stop offset="1" stop-color="#37fb00"/></linearGradient>
<linearGradient id="c69"><stop offset="0" stop-color="#00fb3f"/><stop offset="0.125" stop-color="#00fc5a"/><stop offset="0.25" stop-color="#00fc69"/><stop offset="0.375" stop-color="#00fc6c"/><stop offset="0.5" stop-color="#00fc63"/><stop offset="0.625" stop-color="#00fc4e"/><stop offset="0.75" stop-color="#00fb2d"/><stop offset="0.875" stop-color="#00fa00"/><stop offset="0.876" stop-color="#00fa00"/><stop offset="1" stop-color="#38fb00"/></linearGradient>
<linearGradient id="c70"><stop offset="0" stop-color="#00fb3a"/><stop offset="0.125" stop-color="#00fc55"/><stop offset="0.25" stop-color="#00fc64"/><stop offset="0.375" stop-color="#00fc68"/><stop offset="0.5" stop-color="#00fc5f"/><stop offset="0.625" stop-color="#00fb4b"/><stop offset="0.75" stop-color="#00fb2a"/><stop offset="0.87" stop-color="#00fa00"/><stop offset="0.875" stop-color="#02fa00"/><stop offset="1" stop-color="#3afb00"/></linearGradient>
<linearGradient id="c71"><stop offset="0" stop-color="#00fb34"/><stop offset="0.125" stop-color="#00fc50"/><stop offset="0.25" stop-color="#00fc60"/><stop offset="0.375" stop-color="#00fc64"/><stop offset="0.5" stop-color="#00fc5c"/><stop offset="0.625" stop-color="#00fb48"/><stop offset="0.75" stop-color="#00fb28"/><stop offset="0.864" stop-color="#00fa00"/><stop offset="0.875" stop-color="#04fa00"/><stop offset="1" stop-color="#3cfb00"/></linearGradient>
<linearGradient id="c72"><stop offset="0" stop-color="#00fb2f"/><stop offset="0.125" stop-color="#00fb4b"/><stop offset="0.25" stop-color="#00fc5b"/><stop offset="0.375" stop-color="#00fc60"/><stop offset="0.5" stop-color="#00fc58"/><stop offset="0.625" stop-color="#00fb44"/><stop offset="0.75" stop-color="#00fb25"/><stop offset="0.858" stop-color="#00fa00"/><stop offset="0.875" stop-color="#07fa00"/><stop offset="1" stop-color="#3efb00"/></linearGradient>
<linearGradient id="c73"><stop offset="0" stop-color="#00fb2a"/><stop offset="0.125" stop-color="#00fb46"/><stop offset="0.25" stop-color="#00fc57"/><stop offset="0.375" stop-color="#00fc5b"/><stop offset="0.5" stop-color="#00fc54"/><stop offset="0.625" stop-color="#00fb41"/><stop offset="0.75" stop-color="#00fb22"/><stop offset="0.852" stop-color="#00fa00"/><stop offset="0.875" stop-color="#09fa00"/><stop offset="1" stop-color="#40fb00"/></linearGradient>
<linearGradient id="c74"><stop offset="0" stop-color="#00fb24"/><stop offset="0.125" stop-color="#00fb41"/><stop offset="0.25" stop-color="#00fc52"/><stop offset="0.375" stop-color="#00fc57"/><stop offset="0.5" stop-color="#00fc51"/><stop offset="0.625" stop-color="#00fb3e"/><stop offset="0.75" stop-color="#00fb1f"/><stop offset="0.845" stop-color="#00fa00"/><stop offset="0.875" stop-color="#0bfa00"/><stop offset="1" stop-color="#42fb00"/></linearGradient>
<linearGradient id="c75"><stop offset="0" stop-color="#00fb1f"/><stop offset="0.125" stop-color="#00fb3c"/><stop offset="0.25" stop-color="#00fc4d"/><stop offset="0.375" stop-color="#00fc53"/><stop offset="0.5" stop-color="#00fc4d"/><stop offset="0.625" stop-color="#00fb3a"/><stop offset="0.75" stop-color="#00fb1c"/><stop offset="0.838" stop-color="#00fa00"/><stop offset="0.875" stop-color="#0efa00"/><stop offset="1" stop-color="#44fb00"/></linearGradient>
<linearGradient id="c76"><stop offset="0" stop-color="#00fa19"/><stop offset="0.125" stop-color="#00fb37"/><stop offset="0.25" stop-color="#00fb49"/><stop offset="0.375" stop-color="#00fc4f"/><stop offset="0.5" stop-color="#00fb49"/><stop offset="0.625" stop-color="#00fb37"/><stop offset="0.75" stop-color="#00fa19"/><stop offset="0.83" stop-color="#00fa00"/><stop offset="0.875" stop-color="#10fa00"/><stop offset="1" stop-color="#46fb00"/></linearGradient>
<linearGradient id="c77"><stop offset="0" stop-color="#00fa13"/><stop offset="0.125" stop-color="#00fb32"/><stop offset="0.25" stop-color="#00fb44"/><stop offset="0.375" stop-color="#00fb4a"/><stop offset="0.5" stop-color="#00fb45"/><stop offset="0.625" stop-color="#00fb34"/><stop offset="0.75" stop-color="#00fa16"/><stop offset="0.822" stop-color="#00fa00"/><stop offset="0.875" stop-color="#13fa00"/><stop offset="1" stop-color="#48fb00"/></linearGradient>
<linearGradient id="c78"><stop offset="0" stop-color="#00fa0e"/><stop offset="0.125" stop-color="#00fb2c"/><stop offset="0.25" stop-color="#00fb3f"/><stop offset="0.375" stop-color="#00fb46"/><stop offset="0.5" stop-color="#00fb41"/><stop offset="0.625" stop-color="#00fb30"/><stop offset="0.75" stop-color="#00fa13"/><stop offset="0.813" stop-color="#00fa00"/><stop offset="0.875" stop-color="#16fa00"/><stop offset="1" stop-color="#4afb00"/></linearGradient>
<linearGradient id="c79"><stop offset="0" stop-color="#00fa08"/><stop offset="0.125" stop-color="#00fb27"/><stop offset="0.25" stop-color="#00fb3a"/><stop offset="0.375" stop-color="#00fb42"/><stop offset="0.5" stop-color="#00fb3d"/><stop offset="0.625" stop-color="#00fb2c"/><stop offset="0.75" stop-color="#00fa10"/><stop offset="0.804" stop-color="#00fa00"/><stop offset="0.875" stop-color="#18fa00"/><stop offset="1" stop-color="#4dfc00"/></linearGradient>
<linearGradient id="c80"><stop offset="0" stop-color="#00fa02"/><stop offset="0.125" stop-color="#00fb22"/><stop offset="0.25" stop-color="#00fb35"/><stop offset="0.375" stop-color="#00fb3d"/><stop offset="0.5" stop-color="#00fb39"/><stop offset="0.625" stop-color="#00fb29"/><stop offset="0.75" stop-color="#00fa0d"/><stop offset="0.794" stop-color="#00fa00"/><stop offset="0.875" stop-color="#1bfb00"/><stop offset="1" stop-color="#4ffc00"/></linearGradient>
<linearGradient id="c81"><stop offset="0" stop-color="#04fa00"/><stop offset="0.013" stop-color="#00fa00"/><stop offset="0.125" stop-color="#00fb1c"/><stop offset="0.25" stop-color="#00fb30"/><stop offset="0.375" stop-color="#00fb39"/><stop offset="0.5" stop-color="#00fb35"/><stop offset="0.625" stop-color="#00fb25"/><stop offset="0.75" stop-color="#00fa0a"/><stop offset="0.784" stop-color="#00fa00"/><stop offset="0.875" stop-color="#1efb00"/><stop offset="1" stop-color="#51fc00"/></linearGradient>
<linearGradient id="c82"><stop offset="0" stop-color="#0afa00"/><stop offset="0.033" stop-color="#00fa00"/><stop offset="0.125" stop-color="#00fa17"/><stop offset="0.25" stop-color="#00fb2b"/><stop offset="0.375" stop-color="#00fb34"/><stop offset="0.5" stop-color="#00fb31"/><stop offset="0.625" stop-color="#00fb21"/><stop offset="0.75" stop-color="#00fa06"/><stop offset="0.773" stop-color="#00fa00"/><stop offset="0.875" stop-color="#21fb00"/><stop offset="1" stop-color="#54fc00"/></linearGradient>
<linearGradient id="c83"><stop offset="0" stop-color="#10fa00"/><stop offset="0.054" stop-color="#00fa00"/><stop offset="0.125" stop-color="#00fa11"/><stop offset="0.25" stop-color="#00fb26"/><stop offset="0.375" stop-color="#00fb2f"/><stop offset="0.5" stop-color="#00fb2c"/><stop offset="0.625" stop-color="#00fb1e"/><stop offset="0.75" stop-color="#00fa03"/><stop offset="0.761" stop-color="#00fa00"/><stop offset="0.875" stop-color="#24fb00"/><stop offset="1" stop-color="#56fc00"/></linearGradient>
<linearGradient id="c84"><stop offset="0" stop-color="#16fa00"/><stop offset="0.076" stop-color="#00fa00"/><stop offset="0.125" stop-color="#00fa0c"/><stop offset="0.25" stop-color="#00fb21"/><stop offset="0.375" stop-color="#00fb2b"/><stop offset="0.5" stop-color="#00fb28"/><stop offset="0.625" stop-color="#00fb1a"/><stop offset="0.748" stop-color="#00fa00"/><stop offset="0.75" stop-color="#00fa00"/><stop offset="0.875" stop-color="#27fb00"/><stop offset="1" stop-color="#59fc00"/></linearGradient>
<linearGradient id="c85"><stop offset="0" stop-color="#1cfb00"/><stop offset="0.099" stop-color="#00fa00"/><stop offset="0.125" stop-color="#00fa06"/><stop offset="0.25" stop-color="#00fb1c"/><stop offset="0.375" stop-color="#00fb26"/><stop offset="0.5" stop-color="#00fb24"/><stop offset="0.625" stop-color="#00fa16"/><stop offset="0.734" stop-color="#00fa00"/><stop offset="0.75" stop-color="#04fa00"/><stop offset="0.875" stop-color="#2afb00"/><stop offset="1" stop-color="#5bfc00"/></linearGradient>
<linearGradient id="c86"><stop offset="0" stop-color="#22fb00"/><stop offset="0.123" stop-color="#00fa00"/><stop offset="0.125" stop-color="#00fa00"/><stop offset="0.25" stop-color="#00fa17"/><stop offset="0.375" stop-color="#00fb21"/><stop offset="0.5" stop-color="#00fb1f"/><stop offset="0.625" stop-color="#00fa12"/><stop offset="0.719" stop-color="#00fa00"/><stop offset="0.75" stop-color="#07fa00"/><stop offset="0.875" stop-color="#2dfb00"/><stop offset="1" stop-color="#5efc00"/></linearGradient>
<linearGradient id="c87"><stop offset="0" stop-color="#28fb00"/><stop offset="0.125" stop-color="#05fa00"/><stop offset="0.15" stop-color="#00fa00"/><stop offset="0.25" stop-color="#00fa11"/><stop offset="0.375" stop-color="#00fb1c"/><stop offset="0.5" stop-color="#00fb1b"/><stop offset="0.625" stop-color="#00fa0e"/><stop offset="0.702" stop-color="#00fa00"/><stop offset="0.75" stop-color="#0bfa00"/><stop offset="0.875" stop-color="#30fb00"/><stop offset="1" stop-color="#61fc00"/></linearGradient>
<linearGradient id="c88"><stop offset="0" stop-color="#2efb00"/><stop offset="0.125" stop-color="#0bfa00"/><stop offset="0.178" stop-color="#00fa00"/><stop offset="0.25" stop-color="#00fa0c"/><stop offset="0.375" stop-color="#00fa17"/><stop offset="0.5" stop-color="#00fa17"/><stop offset="0.625" stop-color="#00fa0a"/><stop offset="0.683" stop-color="#00fa00"/><stop offset="0.75" stop-color="#0ffa00"/><stop offset="0.875" stop-color="#33fb00"/><stop offset="1" stop-color="#64fc00"/></linearGradient>
<linearGradient id="c89"><stop offset="0" stop-color="#35fb00"/><stop offset="0.125" stop-color="#11fa00"/><stop offset="0.208" stop-color="#00fa00"/><stop offset="0.25" stop-color="#00fa07"/><stop offset="0.375" stop-color="#00fa12"/><stop offset="0.5" stop-color="#00fa12"/><stop offset="0.625" stop-color="#00fa06"/><stop offset="0.661" stop-color="#00fa00"/><stop offset="0.75" stop-color="#12fa00"/><stop offset="0.875" stop-color="#36fb00"/><stop offset="1" stop-color="#66fc00"/></linearGradient>
<linearGradient id="c90"><stop offset="0" stop-color="#3bfb00"/><stop offset="0.125" stop-color="#17fa00"/><stop offset="0.243" stop-color="#00fa00"/><stop offset="0.25" stop-color="#00fa01"/><stop offset="0.375" stop-color="#00fa0d"/><stop offset="0.5" stop-color="#00fa0d"/><stop offset="0.625" stop-color="#00fa02"/><stop offset="0.636" stop-color="#00fa00"/><stop offset="0.75" stop-color="#16fa00"/><stop offset="0.875" stop-color="#3afb00"/><stop offset="1" stop-color="#69fc00"/></linearGradient>
<linearGradient id="c91"><stop offset="0" stop-color="#41fb00"/><stop offset="0.125" stop-color="#1dfb00"/><stop offset="0.25" stop-color="#04fa00"/><stop offset="0.283" stop-color="#00fa00"/><stop offset="0.375" stop-color="#00fa08"/><stop offset="0.5" stop-color="#00fa09"/><stop offset="0.605" stop-color="#00fa00"/><stop offset="0.625" stop-color="#03fa00"/><stop offset="0.75" stop-color="#1afb00"/><stop offset="0.875" stop-color="#3dfb00"/><stop offset="1" stop-color="#6cfc00"/></linearGradient>
<linearGradient id="c92"><stop offset="0" stop-color="#48fb00"/><stop offset="0.125" stop-color="#23fb00"/><stop offset="0.25" stop-color="#0afa00"/><stop offset="0.334" stop-color="#00fa00"/><stop offset="0.375" stop-color="#00fa03"/><stop offset="0.5" stop-color="#00fa04"/><stop offset="0.563" stop-color="#00fa00"/><stop offset="0.625" stop-color="#07fa00"/><stop offset="0.75" stop-color="#1efb00"/><stop offset="0.875" stop-color="#40fb00"/><stop offset="1" stop-color="#6ffc00"/></linearGradient>
<linearGradient id="c93"><stop offset="0" stop-color="#4efc00"/><stop offset="0.125" stop-color="#29fb00"/><stop offset="0.25" stop-color="#10fa00"/><stop offset="0.375" stop-color="#02fa00"/><stop offset="0.439" stop-color="#00fa00"/><stop offset="0.467" stop-color="#00fa00"/><stop offset="0.5" stop-color="#01fa00"/><stop offset="0.625" stop-color="#0bfa00"/><stop offset="0.75" stop-color="#22fb00"/><stop offset="0.875" stop-color="#44fb00"/><stop offset="1" stop-color="#72fc00"/></linearGradient>
<linearGradient id="c94"><stop offset="0" stop-color="#55fc00"/><stop offset="0.125" stop-color="#2ffb00"/><stop offset="0.25" stop-color="#15fa00"/><stop offset="0.375" stop-color="#08fa00"/><stop offset="0.5" stop-color="#06fa00"/><stop offset="0.625" stop-color="#10fa00"/><stop offset="0.75" stop-color="#26fb00"/><stop offset="0.875" stop-color="#47fb00"/><stop offset="1" stop-color="#75fc00"/></linearGradient>
<linearGradient id="c95"><stop offset="0" stop-color="#5bfc00"/><stop offset="0.125" stop-color="#35fb00"/><stop offset="0.25" stop-color="#1bfb00"/><stop offset="0.375" stop-color="#0dfa00"/><stop offset="0.5" stop-color="#0afa00"/><stop offset="0.625" stop-color="#14fa00"/><stop offset="0.75" stop-color="#2afb00"/><stop offset="0.875" stop-color="#4bfb00"/><stop offset="1" stop-color="#78fc00"/></linearGradient>
<linearGradient id="c96"><stop offset="0" stop-color="#62fc00"/><stop offset="0.125" stop-color="#3cfb00"/><stop offset="0.25" stop-color="#21fb00"/><stop offset="0.375" stop-color="#12fa00"/><stop offset="0.5" stop-color="#0ffa00"/><stop offset="0.625" stop-color="#19fa00"/><stop offset="0.75" stop-color="#2efb00"/><stop offset="0.875" stop-color="#4ffc00"/><stop offset="1" stop-color="#7cfc00"/></linearGradient>
<linearGradient id="c97"><stop offset="0" stop-color="#69fc00"/><stop offset="0.125" stop-color="#42fb00"/><stop offset="0.25" stop-color="#27fb00"/><stop offset="0.375" stop-color="#18fa00"/><stop offset="0.5" stop-color="#14fa00"/><stop offset="0.625" stop-color="#1dfb00"/><stop offset="0.75" stop-color="#32fb00"/><stop offset="0.875" stop-color="#52fc00"/><stop offset="1" stop-color="#7ffc00"/></linearGradient>
<linearGradient id="c98"><stop offset="0" stop-color="#70fc00"/><stop offset="0.125" stop-color="#48fb00"/><stop offset="0.25" stop-color="#2dfb00"/><stop offset="0.375" stop-color="#1dfb00"/><stop offset="0.5" stop-color="#19fa00"/><stop offset="0.625" stop-color="#22fb00"/><stop offset="0.75" stop-color="#36fb00"/><stop offset="0.875" stop-color="#56fc00"/><stop offset="1" stop-color="#82fd00"/></linearGradient></defs>
<rect width="783" height="1183" fill="#fff"/>
<path d="M56.5,50.1 L226,11.8 L395.7,50 L385,268.9 L226,209.5 L67,268.9 Z" fill="#fff" stroke="none"/>
<path d="M64.5,216.8 L226,162.4 L387.5,216.7 M63.4,193 L226,140.9 L388.7,192.9 M62.2,169.1 L226,119.3 L389.9,169.1 M61.1,145.3 L226,97.8 L391,145.3 M59.9,121.5 L226,76.3 L392.2,121.5 M58.8,97.7 L226,54.8 L393.4,97.6 M57.6,73.9 L226,33.3 L394.5,73.8 M56.5,50.1 L226,11.8 L395.7,50 M56.5,50.1 L67,268.9 M90.4,42.4 L96.8,205.9 M124.3,34.8 L129.1,195 M158.2,27.1 L161.4,184.1 M192.1,19.4 L193.7,173.3 M226,11.8 L226,209.5 M395.7,50 L385,268.9 M361.8,42.4 L355.2,205.9 M327.8,34.7 L322.9,195 M293.9,27 L290.6,184.1 M259.9,19.4 L258.3,173.2" fill="none" stroke="#1a1a1a" stroke-width="0.85"/>
<path d="M67,268.9 L226,344.9 L385,268.9 L226,209.5 Z" fill="#ffff80" stroke="#111" stroke-width="0.9" stroke-linejoin="round"/>
<path d="M197.5,331.2 L198.6,329.7 L200.1,327.9 L202.4,325.2 L203.7,323.8 L206.5,321 L208,319.7 L211,317.1 L212.6,315.8 L215.8,313.4 L217.7,312 L221,309.9 L224.6,307.7 L228.3,305.5 L230.2,304.5 L234.2,302.5 L238.2,300.6 L242.4,298.7 L246.7,297 L249.1,296 L253.4,294.5 L258,292.9 L262.7,291.3 L266.1,290.3 L269.9,289.2 L274.9,287.8 L277.4,287.1 L282.5,285.8 L286.1,285 L290.3,284 L294.1,283.2 L298.4,282.3 L301.5,281.7 L306.6,280.7 L309.4,280.2 L315,279.2 L317.9,278.7 L321.3,278.2 L326.6,277.3 L329.5,276.9 L333.3,276.4 L338.4,275.7 L341.5,275.3 L344.5,274.9 L349.9,274.2 L353.7,273.8 L356.8,273.5 L360.5,273.1 L365.6,272.5 L369.4,272.1 L372.6,271.8 L375.8,271.5 L380.5,271.1 L380.5,271.1" fill="none" stroke="#2ebce8" stroke-width="1.35"/>
<path d="M152.9,310 L155.4,307.6 L157.2,305.9 L159.4,304 L161.8,302.1 L164.7,300 L166.8,298.6 L170.2,296.3 L172.8,294.8 L175.7,293.2 L179.6,291.1 L183.5,289.2 L187.6,287.3 L191.8,285.6 L196.1,283.9 L200.6,282.2 L205.1,280.7 L209.8,279.2 L212.2,278.5 L217,277.1 L221.9,275.7 L224.4,275.1 L229.5,273.8 L232.1,273.2 L237.3,272.1 L240,271.5 L245.3,270.4 L248,269.9 L253.5,268.9 L256.3,268.4 L261.1,267.6 L264.8,267 L267.6,266.5 L273.3,265.7 L276.4,265.3 L279.3,264.9 L284.8,264.2 L288.3,263.7 L291.3,263.4 L295.6,262.9 L300.5,262.3 L303.5,262 L306.7,261.7 L311,261.3 L316,260.8 L319.3,260.5 L322.5,260.2 L325.7,260 L330.4,259.6 L335.1,259.2 L338.8,259 L342.1,258.7 L345.4,258.5 L348.9,258.3 L353.4,258 L355.4,257.9" fill="none" stroke="#2efeb3" stroke-width="1.35"/>
<path d="M108.6,288.8 L111.8,286.4 L113.4,285.3 L116.9,283.1 L120.5,280.9 L122.3,279.9 L126.1,277.9 L130.1,276 L134.1,274.2 L138.3,272.5 L142.6,270.8 L147,269.2 L151.6,267.7 L156.2,266.3 L160.2,265.1 L163.4,264.2 L168.3,262.9 L171.7,262.1 L175.9,261.1 L180.8,260 L183.7,259.4 L188.8,258.4 L191.7,257.9 L196,257.1 L199.9,256.4 L202.7,255.9 L208.3,255 L211.1,254.6 L215.2,254 L219.8,253.4 L222.7,253 L226.6,252.5 L231.6,251.9 L234.6,251.6 L237.6,251.2 L242.6,250.7 L246.8,250.3 L249.9,250 L253,249.7 L257.5,249.3 L262.3,248.9 L265.6,248.6 L268.8,248.4 L272,248.2 L276.3,247.8 L280.9,247.5 L285,247.3 L288.3,247.1 L291.6,246.9 L295,246.7 L298.6,246.5 L303,246.3 L307.3,246.1 L311.5,245.9 L315.2,245.7 L318.7,245.6 L322.1,245.4 L322.1,245.4" fill="none" stroke="#2efc44" stroke-width="1.35"/>
<path d="M131.6,244.7 L136,244 L138.8,243.5 L144.3,242.6 L147.1,242.2 L151.4,241.6 L155.6,241 L158.4,240.6 L163,240.1 L167.2,239.6 L170.1,239.2 L173.7,238.8 L178.9,238.3 L182.1,238 L185.2,237.7 L188.8,237.4 L193.7,236.9 L197.6,236.6 L200.7,236.4 L203.9,236.1 L207.6,235.9 L212.2,235.6 L216.6,235.3 L219.9,235.1 L223.1,234.9 L226.4,234.7 L229.7,234.5 L234,234.3 L238.2,234.1 L242.4,233.9 L246.4,233.8 L249.7,233.6 L253.1,233.5 L256.5,233.4 L260,233.3 L263.4,233.2 L266.9,233.1 L270.9,233 L274.9,232.9 L278.8,232.8 L282.7,232.7 L286.6,232.6 L287.8,232.6" fill="none" stroke="#76fc17" stroke-width="1.35"/>
<path d="M194.3,221.3 L198.2,221.2 L202.1,221.1 L205.9,221 L209.5,220.9 L212.9,220.8 L216.4,220.8 L219.9,220.7 L223.4,220.7 L226.9,220.6 L230.4,220.6 L234,220.5 L237.5,220.5 L241.1,220.5 L244.7,220.5 L248.3,220.5 L251.9,220.5 L255.5,220.5 L255.5,220.5" fill="none" stroke="#e6ff17" stroke-width="1.35"/>
<g stroke="#0a0a0a" stroke-width="0.6" stroke-linejoin="round"><path d="M226,51.7 L233.5,45.1 L226,38.8 L218.5,45.3Z" fill="#ffae00"/><path d="M218.5,58 L226,51.7 L218.5,45.3 L211,51.7Z" fill="#ffd500"/><path d="M233.6,58.1 L241.1,51.5 L233.5,45.1 L226,51.7Z" fill="#ffd500"/><path d="M210.8,64.1 L218.5,58 L211,51.7 L203.3,57.8Z" fill="#fffa00"/><path d="M241.2,64.6 L248.7,58.1 L241.1,51.5 L233.6,58.1Z" fill="#fffb00"/><path d="M226,64.4 L233.6,58.1 L226,51.7 L218.5,58Z" fill="#fffb00"/><path d="M203.1,70 L210.8,64.1 L203.3,57.8 L195.6,63.7Z" fill="#e8ff00"/><path d="M218.4,70.5 L226,64.4 L218.5,58 L210.8,64.1Z" fill="#e5fe00"/><path d="M233.6,70.9 L241.2,64.6 L233.6,58.1 L226,64.4Z" fill="#e4fe00"/><path d="M248.9,71.2 L256.4,64.7 L248.7,58.1 L241.2,64.6Z" fill="#e3fe00"/><path d="M226,77 L233.6,70.9 L226,64.4 L218.4,70.5Z" fill="#c7fe00"/><path d="M195.4,75.6 L203.1,70 L195.6,63.7 L187.9,69.3Z" fill="#cffe00"/><path d="M210.7,76.3 L218.4,70.5 L210.8,64.1 L203.1,70Z" fill="#cbfe00"/><path d="M241.3,77.5 L248.9,71.2 L241.2,64.6 L233.6,70.9Z" fill="#c5fe00"/><path d="M256.7,77.9 L264.1,71.4 L256.4,64.7 L248.9,71.2Z" fill="#c3fe00"/><path d="M187.5,81 L195.4,75.6 L187.9,69.3 L180,74.7Z" fill="#b7fe00"/><path d="M218.3,82.8 L226,77 L218.4,70.5 L210.7,76.3Z" fill="#adfd00"/><path d="M233.7,83.6 L241.3,77.5 L233.6,70.9 L226,77Z" fill="#a9fd00"/><path d="M264.5,84.7 L272,78.2 L264.1,71.4 L256.7,77.9Z" fill="#a4fd00"/><path d="M202.9,82 L210.7,76.3 L203.1,70 L195.4,75.6Z" fill="#b2fd00"/><path d="M249.1,84.2 L256.7,77.9 L248.9,71.2 L241.3,77.5Z" fill="#a6fd00"/><path d="M179.6,86.1 L187.5,81 L180,74.7 L172.1,79.9Z" fill="#a2fd00"/><path d="M195.1,87.4 L202.9,82 L195.4,75.6 L187.5,81Z" fill="#9bfd00"/><path d="M210.5,88.4 L218.3,82.8 L210.7,76.3 L202.9,82Z" fill="#94fd00"/><path d="M226,89.4 L233.7,83.6 L226,77 L218.3,82.8Z" fill="#8ffd00"/><path d="M241.5,90.2 L249.1,84.2 L241.3,77.5 L233.7,83.6Z" fill="#8afd00"/><path d="M256.9,91 L264.5,84.7 L256.7,77.9 L249.1,84.2Z" fill="#87fd00"/><path d="M272.4,91.5 L279.9,85 L272,78.2 L264.5,84.7Z" fill="#84fd00"/><path d="M171.6,91.1 L179.6,86.1 L172.1,79.9 L164.1,84.8Z" fill="#8efd00"/><path d="M202.7,93.8 L210.5,88.4 L202.9,82 L195.1,87.4Z" fill="#7efc00"/><path d="M249.3,97 L256.9,91 L249.1,84.2 L241.5,90.2Z" fill="#6cfc00"/><path d="M280.4,98.5 L287.8,92 L279.9,85 L272.4,91.5Z" fill="#64fc00"/><path d="M187.1,92.5 L195.1,87.4 L187.5,81 L179.6,86.1Z" fill="#86fd00"/><path d="M218.2,95 L226,89.4 L218.3,82.8 L210.5,88.4Z" fill="#77fc00"/><path d="M233.8,96.1 L241.5,90.2 L233.7,83.6 L226,89.4Z" fill="#71fc00"/><path d="M264.8,97.8 L272.4,91.5 L264.5,84.7 L256.9,91Z" fill="#67fc00"/><path d="M163.5,95.7 L171.6,91.1 L164.1,84.8 L156,89.5Z" fill="#7dfc00"/><path d="M179.1,97.4 L187.1,92.5 L179.6,86.1 L171.6,91.1Z" fill="#73fc00"/><path d="M194.8,99 L202.7,93.8 L195.1,87.4 L187.1,92.5Z" fill="#69fc00"/><path d="M210.4,100.4 L218.2,95 L210.5,88.4 L202.7,93.8Z" fill="#61fc00"/><path d="M241.6,102.8 L249.3,97 L241.5,90.2 L233.8,96.1Z" fill="#53fc00"/><path d="M257.2,103.9 L264.8,97.8 L256.9,91 L249.3,97Z" fill="#4dfc00"/><path d="M272.8,104.8 L280.4,98.5 L272.4,91.5 L264.8,97.8Z" fill="#48fb00"/><path d="M288.4,105.6 L295.9,99.1 L287.8,92 L280.4,98.5Z" fill="#43fb00"/><path d="M226,101.7 L233.8,96.1 L226,89.4 L218.2,95Z" fill="#59fc00"/><path d="M186.8,103.9 L194.8,99 L187.1,92.5 L179.1,97.4Z" fill="#57fc00"/><path d="M265.2,110.8 L272.8,104.8 L264.8,97.8 L257.2,103.9Z" fill="#2dfb00"/><path d="M155.3,100.2 L163.5,95.7 L156,89.5 L147.8,93.9Z" fill="#6dfc00"/><path d="M171,102.1 L179.1,97.4 L171.6,91.1 L163.5,95.7Z" fill="#61fc00"/><path d="M202.5,105.5 L210.4,100.4 L202.7,93.8 L194.8,99Z" fill="#4dfc00"/><path d="M218.2,107 L226,101.7 L218.2,95 L210.4,100.4Z" fill="#44fb00"/><path d="M233.9,108.4 L241.6,102.8 L233.8,96.1 L226,101.7Z" fill="#3bfb00"/><path d="M249.5,109.7 L257.2,103.9 L249.3,97 L241.6,102.8Z" fill="#34fb00"/><path d="M280.9,111.9 L288.4,105.6 L280.4,98.5 L272.8,104.8Z" fill="#28fb00"/><path d="M296.5,112.7 L304,106.2 L295.9,99.1 L288.4,105.6Z" fill="#23fb00"/><path d="M178.7,108.5 L186.8,103.9 L179.1,97.4 L171,102.1Z" fill="#46fb00"/><path d="M194.5,110.4 L202.5,105.5 L194.8,99 L186.8,103.9Z" fill="#3bfb00"/><path d="M226,113.8 L233.9,108.4 L226,101.7 L218.2,107Z" fill="#26fb00"/><path d="M257.5,116.6 L265.2,110.8 L257.2,103.9 L249.5,109.7Z" fill="#15fa00"/><path d="M273.3,117.9 L280.9,111.9 L272.8,104.8 L265.2,110.8Z" fill="#0efa00"/><path d="M147,104.4 L155.3,100.2 L147.8,93.9 L139.5,98.1Z" fill="#5ffc00"/><path d="M304.7,120 L312.2,113.5 L304,106.2 L296.5,112.7Z" fill="#02fa00"/><path d="M162.8,106.5 L171,102.1 L163.5,95.7 L155.3,100.2Z" fill="#52fc00"/><path d="M210.2,112.2 L218.2,107 L210.4,100.4 L202.5,105.5Z" fill="#30fb00"/><path d="M241.8,115.3 L249.5,109.7 L241.6,102.8 L233.9,108.4Z" fill="#1dfb00"/><path d="M289,119 L296.5,112.7 L288.4,105.6 L280.9,111.9Z" fill="#08fa00"/><path d="M138.6,108.3 L147,104.4 L139.5,98.1 L131.1,102.1Z" fill="#54fc00"/><path d="M170.5,112.9 L178.7,108.5 L171,102.1 L162.8,106.5Z" fill="#37fb00"/><path d="M186.4,115 L194.5,110.4 L186.8,103.9 L178.7,108.5Z" fill="#2afb00"/><path d="M202.2,117 L210.2,112.2 L202.5,105.5 L194.5,110.4Z" fill="#1efb00"/><path d="M218.1,118.9 L226,113.8 L218.2,107 L210.2,112.2Z" fill="#13fa00"/><path d="M233.9,120.6 L241.8,115.3 L233.9,108.4 L226,113.8Z" fill="#09fa00"/><path d="M249.8,122.2 L257.5,116.6 L249.5,109.7 L241.8,115.3Z" fill="#00fa01"/><path d="M265.6,123.7 L273.3,117.9 L265.2,110.8 L257.5,116.6Z" fill="#00fa0a"/><path d="M281.4,125 L289,119 L280.9,111.9 L273.3,117.9Z" fill="#00fa12"/><path d="M313,127.4 L320.4,120.9 L312.2,113.5 L304.7,120Z" fill="#00fb1f"/><path d="M154.5,110.7 L162.8,106.5 L155.3,100.2 L147,104.4Z" fill="#45fb00"/><path d="M297.2,126.3 L304.7,120 L296.5,112.7 L289,119Z" fill="#00fa19"/><path d="M210.1,123.8 L218.1,118.9 L210.2,112.2 L202.2,117Z" fill="#02fa00"/><path d="M241.9,127.6 L249.8,122.2 L241.8,115.3 L233.9,120.6Z" fill="#00fa15"/><path d="M130.1,112 L138.6,108.3 L131.1,102.1 L122.6,105.8Z" fill="#4afb00"/><path d="M162.2,117.1 L170.5,112.9 L162.8,106.5 L154.5,110.7Z" fill="#2bfb00"/><path d="M289.6,132.3 L297.2,126.3 L289,119 L281.4,125Z" fill="#00fb32"/><path d="M321.3,134.8 L328.8,128.3 L320.4,120.9 L313,127.4Z" fill="#00fb40"/><path d="M146.2,114.6 L154.5,110.7 L147,104.4 L138.6,108.3Z" fill="#3afb00"/><path d="M178.2,119.4 L186.4,115 L178.7,108.5 L170.5,112.9Z" fill="#1cfb00"/><path d="M194.1,121.7 L202.2,117 L194.5,110.4 L186.4,115Z" fill="#0efa00"/><path d="M226,125.7 L233.9,120.6 L226,113.8 L218.1,118.9Z" fill="#00fa0a"/><path d="M257.8,129.3 L265.6,123.7 L257.5,116.6 L249.8,122.2Z" fill="#00fb20"/><path d="M273.7,130.8 L281.4,125 L273.3,117.9 L265.6,123.7Z" fill="#00fb29"/><path d="M305.5,133.6 L313,127.4 L304.7,120 L297.2,126.3Z" fill="#00fb39"/><path d="M121.5,115.4 L130.1,112 L122.6,105.8 L114,109.2Z" fill="#42fb00"/><path d="M153.8,121 L162.2,117.1 L154.5,110.7 L146.2,114.6Z" fill="#20fb00"/><path d="M202,128.4 L210.1,123.8 L202.2,117 L194.1,121.7Z" fill="#00fa0e"/><path d="M218,130.6 L226,125.7 L218.1,118.9 L210.1,123.8Z" fill="#00fb1b"/><path d="M234,132.7 L241.9,127.6 L233.9,120.6 L226,125.7Z" fill="#00fb28"/><path d="M250,134.6 L257.8,129.3 L249.8,122.2 L241.9,127.6Z" fill="#00fb33"/><path d="M297.9,139.6 L305.5,133.6 L297.2,126.3 L289.6,132.3Z" fill="#00fc52"/><path d="M329.7,142.4 L337.2,135.9 L328.8,128.3 L321.3,134.8Z" fill="#00fc62"/><path d="M137.7,118.3 L146.2,114.6 L138.6,108.3 L130.1,112Z" fill="#31fb00"/><path d="M169.9,123.6 L178.2,119.4 L170.5,112.9 L162.2,117.1Z" fill="#10fa00"/><path d="M281.9,138.1 L289.6,132.3 L281.4,125 L273.7,130.8Z" fill="#00fb48"/><path d="M313.8,141.1 L321.3,134.8 L313,127.4 L305.5,133.6Z" fill="#00fc5a"/><path d="M186,126.1 L194.1,121.7 L186.4,115 L178.2,119.4Z" fill="#01fa00"/><path d="M266,136.4 L273.7,130.8 L265.6,123.7 L257.8,129.3Z" fill="#00fb3e"/><path d="M226,137.5 L234,132.7 L226,125.7 L218,130.6Z" fill="#00fb38"/><path d="M145.3,124.7 L153.8,121 L146.2,114.6 L137.7,118.3Z" fill="#17fa00"/><path d="M306.2,147.1 L313.8,141.1 L305.5,133.6 L297.9,139.6Z" fill="#00fc72"/><path d="M112.8,118.6 L121.5,115.4 L114,109.2 L105.3,112.4Z" fill="#3cfb00"/><path d="M129.1,121.7 L137.7,118.3 L130.1,112 L121.5,115.4Z" fill="#29fb00"/><path d="M161.5,127.5 L169.9,123.6 L162.2,117.1 L153.8,121Z" fill="#05fa00"/><path d="M193.8,132.8 L202,128.4 L194.1,121.7 L186,126.1Z" fill="#00fb1b"/><path d="M209.9,135.2 L218,130.6 L210.1,123.8 L202,128.4Z" fill="#00fb2a"/><path d="M242.1,139.7 L250,134.6 L241.9,127.6 L234,132.7Z" fill="#00fb45"/><path d="M258.2,141.7 L266,136.4 L257.8,129.3 L250,134.6Z" fill="#00fc52"/><path d="M290.2,145.4 L297.9,139.6 L289.6,132.3 L281.9,138.1Z" fill="#00fc68"/><path d="M322.2,148.6 L329.7,142.4 L321.3,134.8 L313.8,141.1Z" fill="#00fc7b"/><path d="M338.2,150 L345.6,143.5 L337.2,135.9 L329.7,142.4Z" fill="#00fd83"/><path d="M177.7,130.2 L186,126.1 L178.2,119.4 L169.9,123.6Z" fill="#00fa0b"/><path d="M274.2,143.7 L281.9,138.1 L273.7,130.8 L266,136.4Z" fill="#00fc5d"/><path d="M136.7,128.1 L145.3,124.7 L137.7,118.3 L129.1,121.7Z" fill="#10fa00"/><path d="M217.9,142.1 L226,137.5 L218,130.6 L209.9,135.2Z" fill="#00fb47"/><path d="M234.1,144.5 L242.1,139.7 L234,132.7 L226,137.5Z" fill="#00fc55"/><path d="M314.7,154.7 L322.2,148.6 L313.8,141.1 L306.2,147.1Z" fill="#00fd93"/><path d="M104,121.5 L112.8,118.6 L105.3,112.4 L96.5,115.3Z" fill="#39fb00"/><path d="M153,131.1 L161.5,127.5 L153.8,121 L145.3,124.7Z" fill="#00fa03"/><path d="M185.5,136.9 L193.8,132.8 L186,126.1 L177.7,130.2Z" fill="#00fb26"/><path d="M266.4,149 L274.2,143.7 L266,136.4 L258.2,141.7Z" fill="#00fc70"/><path d="M298.6,152.9 L306.2,147.1 L297.9,139.6 L290.2,145.4Z" fill="#00fd88"/><path d="M346.8,157.8 L354.2,151.3 L345.6,143.5 L338.2,150Z" fill="#00fda5"/><path d="M120.4,124.8 L129.1,121.7 L121.5,115.4 L112.8,118.6Z" fill="#24fb00"/><path d="M169.3,134.1 L177.7,130.2 L169.9,123.6 L161.5,127.5Z" fill="#00fa15"/><path d="M201.7,139.6 L209.9,135.2 L202,128.4 L193.8,132.8Z" fill="#00fb37"/><path d="M250.3,146.8 L258.2,141.7 L250,134.6 L242.1,139.7Z" fill="#00fc63"/><path d="M282.5,151 L290.2,145.4 L281.9,138.1 L274.2,143.7Z" fill="#00fc7d"/><path d="M330.7,156.3 L338.2,150 L329.7,142.4 L322.2,148.6Z" fill="#00fd9c"/><path d="M95.1,124.1 L104,121.5 L96.5,115.3 L87.6,118Z" fill="#37fb00"/><path d="M128,131.2 L136.7,128.1 L129.1,121.7 L120.4,124.8Z" fill="#0bfa00"/><path d="M144.4,134.5 L153,131.1 L145.3,124.7 L136.7,128.1Z" fill="#00fa09"/><path d="M177.2,140.8 L185.5,136.9 L177.7,130.2 L169.3,134.1Z" fill="#00fb30"/><path d="M209.8,146.5 L217.9,142.1 L209.9,135.2 L201.7,139.6Z" fill="#00fc53"/><path d="M226,149.1 L234.1,144.5 L226,137.5 L217.9,142.1Z" fill="#00fc63"/><path d="M242.3,151.7 L250.3,146.8 L242.1,139.7 L234.1,144.5Z" fill="#00fc73"/><path d="M274.7,156.3 L282.5,151 L274.2,143.7 L266.4,149Z" fill="#00fd8f"/><path d="M307,160.5 L314.7,154.7 L306.2,147.1 L298.6,152.9Z" fill="#00fda8"/><path d="M323.2,162.3 L330.7,156.3 L322.2,148.6 L314.7,154.7Z" fill="#00feb3"/><path d="M355.4,165.7 L362.8,159.2 L354.2,151.3 L346.8,157.8Z" fill="#00fec7"/><path d="M111.6,127.7 L120.4,124.8 L112.8,118.6 L104,121.5Z" fill="#20fb00"/><path d="M160.8,137.7 L169.3,134.1 L161.5,127.5 L153,131.1Z" fill="#00fb1d"/><path d="M193.5,143.7 L201.7,139.6 L193.8,132.8 L185.5,136.9Z" fill="#00fb42"/><path d="M258.5,154.1 L266.4,149 L258.2,141.7 L250.3,146.8Z" fill="#00fd81"/><path d="M290.9,158.5 L298.6,152.9 L290.2,145.4 L282.5,151Z" fill="#00fd9c"/><path d="M339.3,164.1 L346.8,157.8 L338.2,150 L330.7,156.3Z" fill="#00febe"/><path d="M119.2,134.1 L128,131.2 L120.4,124.8 L111.6,127.7Z" fill="#08fa00"/><path d="M168.7,144.4 L177.2,140.8 L169.3,134.1 L160.8,137.7Z" fill="#00fb37"/><path d="M201.5,150.6 L209.8,146.5 L201.7,139.6 L193.5,143.7Z" fill="#00fc5e"/><path d="M250.5,158.9 L258.5,154.1 L250.3,146.8 L242.3,151.7Z" fill="#00fd90"/><path d="M283.1,163.8 L290.9,158.5 L282.5,151 L274.7,156.3Z" fill="#00fdae"/><path d="M331.7,170.1 L339.3,164.1 L330.7,156.3 L323.2,162.3Z" fill="#00fed4"/><path d="M86,126.5 L95.1,124.1 L87.6,118 L78.5,120.4Z" fill="#37fb00"/><path d="M102.6,130.4 L111.6,127.7 L104,121.5 L95.1,124.1Z" fill="#1ffb00"/><path d="M135.7,137.7 L144.4,134.5 L136.7,128.1 L128,131.2Z" fill="#00fa0e"/><path d="M152.2,141.1 L160.8,137.7 L153,131.1 L144.4,134.5Z" fill="#00fb23"/><path d="M185.1,147.6 L193.5,143.7 L185.5,136.9 L177.2,140.8Z" fill="#00fb4b"/><path d="M217.9,153.5 L226,149.1 L217.9,142.1 L209.8,146.5Z" fill="#00fc6f"/><path d="M234.2,156.3 L242.3,151.7 L234.1,144.5 L226,149.1Z" fill="#00fd80"/><path d="M266.8,161.4 L274.7,156.3 L266.4,149 L258.5,154.1Z" fill="#00fda0"/><path d="M299.3,166 L307,160.5 L298.6,152.9 L290.9,158.5Z" fill="#00febc"/><path d="M315.5,168.1 L323.2,162.3 L314.7,154.7 L307,160.5Z" fill="#00fec8"/><path d="M347.9,171.9 L355.4,165.7 L346.8,157.8 L339.3,164.1Z" fill="#00fedf"/><path d="M364.1,173.6 L371.5,167.2 L362.8,159.2 L355.4,165.7Z" fill="#00ffea"/><path d="M110.3,136.7 L119.2,134.1 L111.6,127.7 L102.6,130.4Z" fill="#07fa00"/><path d="M160.1,147.8 L168.7,144.4 L160.8,137.7 L152.2,141.1Z" fill="#00fb3d"/><path d="M193.1,154.5 L201.5,150.6 L193.5,143.7 L185.1,147.6Z" fill="#00fc66"/><path d="M258.8,166.2 L266.8,161.4 L258.5,154.1 L250.5,158.9Z" fill="#00fdae"/><path d="M291.5,171.3 L299.3,166 L290.9,158.5 L283.1,163.8Z" fill="#00fecd"/><path d="M340.4,178 L347.9,171.9 L339.3,164.1 L331.7,170.1Z" fill="#00fff6"/><path d="M76.8,128.6 L86,126.5 L78.5,120.4 L69.4,122.5Z" fill="#39fb00"/><path d="M126.9,140.5 L135.7,137.7 L128,131.2 L119.2,134.1Z" fill="#00fa10"/><path d="M176.6,151.2 L185.1,147.6 L177.2,140.8 L168.7,144.4Z" fill="#00fc52"/><path d="M209.6,157.6 L217.9,153.5 L209.8,146.5 L201.5,150.6Z" fill="#00fc79"/><path d="M242.4,163.5 L250.5,158.9 L242.3,151.7 L234.2,156.3Z" fill="#00fd9d"/><path d="M275.2,168.8 L283.1,163.8 L274.7,156.3 L266.8,161.4Z" fill="#00febe"/><path d="M324.1,175.9 L331.7,170.1 L323.2,162.3 L315.5,168.1Z" fill="#00ffe9"/><path d="M372.9,181.7 L380.3,175.2 L371.5,167.2 L364.1,173.6Z" fill="#00efff"/><path d="M93.6,132.7 L102.6,130.4 L95.1,124.1 L86,126.5Z" fill="#1ffb00"/><path d="M143.5,144.2 L152.2,141.1 L144.4,134.5 L135.7,137.7Z" fill="#00fb27"/><path d="M226,160.6 L234.2,156.3 L226,149.1 L217.9,153.5Z" fill="#00fd8c"/><path d="M307.8,173.7 L315.5,168.1 L307,160.5 L299.3,166Z" fill="#00fedc"/><path d="M356.7,179.9 L364.1,173.6 L355.4,165.7 L347.9,171.9Z" fill="#00fcff"/><path d="M184.6,158.1 L193.1,154.5 L185.1,147.6 L176.6,151.2Z" fill="#00fc6d"/><path d="M267.2,173.7 L275.2,168.8 L266.8,161.4 L258.8,166.2Z" fill="#00fecc"/><path d="M67.5,130.4 L76.8,128.6 L69.4,122.5 L60,124.3Z" fill="#3dfb00"/><path d="M101.2,139 L110.3,136.7 L102.6,130.4 L93.6,132.7Z" fill="#08fa00"/><path d="M118,143.1 L126.9,140.5 L119.2,134.1 L110.3,136.7Z" fill="#00fa11"/><path d="M151.4,150.9 L160.1,147.8 L152.2,141.1 L143.5,144.2Z" fill="#00fb41"/><path d="M168,154.5 L176.6,151.2 L168.7,144.4 L160.1,147.8Z" fill="#00fc57"/><path d="M201.2,161.5 L209.6,157.6 L201.5,150.6 L193.1,154.5Z" fill="#00fd82"/><path d="M250.8,170.8 L258.8,166.2 L250.5,158.9 L242.4,163.5Z" fill="#00febb"/><path d="M283.7,176.4 L291.5,171.3 L283.1,163.8 L275.2,168.8Z" fill="#00fedd"/><path d="M300.1,179 L307.8,173.7 L299.3,166 L291.5,171.3Z" fill="#00ffed"/><path d="M332.8,183.7 L340.4,178 L331.7,170.1 L324.1,175.9Z" fill="#00f2ff"/><path d="M349.2,185.9 L356.7,179.9 L347.9,171.9 L340.4,178Z" fill="#00e2ff"/><path d="M381.8,189.9 L389.2,183.4 L380.3,175.2 L372.9,181.7Z" fill="#00c6ff"/><path d="M84.4,134.8 L93.6,132.7 L86,126.5 L76.8,128.6Z" fill="#22fb00"/><path d="M134.7,147 L143.5,144.2 L135.7,137.7 L126.9,140.5Z" fill="#00fb29"/><path d="M217.8,164.7 L226,160.6 L217.9,153.5 L209.6,157.6Z" fill="#00fd95"/><path d="M234.3,167.8 L242.4,163.5 L234.2,156.3 L226,160.6Z" fill="#00fda9"/><path d="M316.4,181.4 L324.1,175.9 L315.5,168.1 L307.8,173.7Z" fill="#00fffc"/><path d="M365.5,188 L372.9,181.7 L364.1,173.6 L356.7,179.9Z" fill="#00d4ff"/><path d="M176.1,161.4 L184.6,158.1 L176.6,151.2 L168,154.5Z" fill="#00fc71"/><path d="M275.7,181.2 L283.7,176.4 L275.2,168.8 L267.2,173.7Z" fill="#00ffeb"/><path d="M92,141.1 L101.2,139 L93.6,132.7 L84.4,134.8Z" fill="#0bfa00"/><path d="M142.6,153.7 L151.4,150.9 L143.5,144.2 L134.7,147Z" fill="#00fb42"/><path d="M192.8,165 L201.2,161.5 L193.1,154.5 L184.6,158.1Z" fill="#00fd88"/><path d="M259.2,178.3 L267.2,173.7 L258.8,166.2 L250.8,170.8Z" fill="#00fed9"/><path d="M308.7,186.7 L316.4,181.4 L307.8,173.7 L300.1,179Z" fill="#00efff"/><path d="M358,194 L365.5,188 L356.7,179.9 L349.2,185.9Z" fill="#00baff"/><path d="M75.1,136.6 L84.4,134.8 L76.8,128.6 L67.5,130.4Z" fill="#26fb00"/><path d="M108.9,145.4 L118,143.1 L110.3,136.7 L101.2,139Z" fill="#00fa10"/><path d="M125.8,149.6 L134.7,147 L126.9,140.5 L118,143.1Z" fill="#00fb29"/><path d="M159.3,157.6 L168,154.5 L160.1,147.8 L151.4,150.9Z" fill="#00fc5a"/><path d="M209.4,168.6 L217.8,164.7 L209.6,157.6 L201.2,161.5Z" fill="#00fd9d"/><path d="M226,171.9 L234.3,167.8 L226,160.6 L217.8,164.7Z" fill="#00fdb2"/><path d="M242.6,175.2 L250.8,170.8 L242.4,163.5 L234.3,167.8Z" fill="#00fec6"/><path d="M292.2,184.1 L300.1,179 L291.5,171.3 L283.7,176.4Z" fill="#00fffc"/><path d="M325.1,189.3 L332.8,183.7 L324.1,175.9 L316.4,181.4Z" fill="#00dcff"/><path d="M341.6,191.7 L349.2,185.9 L340.4,178 L332.8,183.7Z" fill="#00cbff"/><path d="M374.4,196.2 L381.8,189.9 L372.9,181.7 L365.5,188Z" fill="#00abff"/><path d="M82.7,142.8 L92,141.1 L84.4,134.8 L75.1,136.6Z" fill="#10fa00"/><path d="M133.6,156.2 L142.6,153.7 L134.7,147 L125.8,149.6Z" fill="#00fb42"/><path d="M167.4,164.5 L176.1,161.4 L168,154.5 L159.3,157.6Z" fill="#00fc74"/><path d="M184.2,168.4 L192.8,165 L184.6,158.1 L176.1,161.4Z" fill="#00fd8c"/><path d="M267.7,185.8 L275.7,181.2 L267.2,173.7 L259.2,178.3Z" fill="#00fff6"/><path d="M284.3,188.9 L292.2,184.1 L283.7,176.4 L275.7,181.2Z" fill="#00f3ff"/><path d="M317.4,194.6 L325.1,189.3 L316.4,181.4 L308.7,186.7Z" fill="#00c9ff"/><path d="M366.9,202.2 L374.4,196.2 L365.5,188 L358,194Z" fill="#0092ff"/><path d="M99.7,147.4 L108.9,145.4 L101.2,139 L92,141.1Z" fill="#00fa0c"/><path d="M150.5,160.4 L159.3,157.6 L151.4,150.9 L142.6,153.7Z" fill="#00fc5b"/><path d="M201,172.1 L209.4,168.6 L201.2,161.5 L192.8,165Z" fill="#00fda3"/><path d="M217.7,175.8 L226,171.9 L217.8,164.7 L209.4,168.6Z" fill="#00feb9"/><path d="M234.4,179.2 L242.6,175.2 L234.3,167.8 L226,171.9Z" fill="#00fece"/><path d="M251,182.6 L259.2,178.3 L250.8,170.8 L242.6,175.2Z" fill="#00fee3"/><path d="M300.8,191.8 L308.7,186.7 L300.1,179 L292.2,184.1Z" fill="#00ddff"/><path d="M350.4,199.8 L358,194 L349.2,185.9 L341.6,191.7Z" fill="#00a3ff"/><path d="M116.7,151.9 L125.8,149.6 L118,143.1 L108.9,145.4Z" fill="#00fb28"/><path d="M333.9,197.3 L341.6,191.7 L332.8,183.7 L325.1,189.3Z" fill="#00b5ff"/><path d="M158.6,167.3 L167.4,164.5 L159.3,157.6 L150.5,160.4Z" fill="#00fc75"/><path d="M292.9,196.6 L300.8,191.8 L292.2,184.1 L284.3,188.9Z" fill="#00ceff"/><path d="M90.4,149.2 L99.7,147.4 L92,141.1 L82.7,142.8Z" fill="#00fa07"/><path d="M124.6,158.5 L133.6,156.2 L125.8,149.6 L116.7,151.9Z" fill="#00fb40"/><path d="M141.6,163 L150.5,160.4 L142.6,153.7 L133.6,156.2Z" fill="#00fc5b"/><path d="M175.5,171.4 L184.2,168.4 L176.1,161.4 L167.4,164.5Z" fill="#00fd8e"/><path d="M192.4,175.5 L201,172.1 L192.8,165 L184.2,168.4Z" fill="#00fda7"/><path d="M209.2,179.3 L217.7,175.8 L209.4,168.6 L201,172.1Z" fill="#00febe"/><path d="M226,183.1 L234.4,179.2 L226,171.9 L217.7,175.8Z" fill="#00fed5"/><path d="M242.8,186.7 L251,182.6 L242.6,175.2 L234.4,179.2Z" fill="#00ffeb"/><path d="M259.5,190.1 L267.7,185.8 L259.2,178.3 L251,182.6Z" fill="#00feff"/><path d="M276.2,193.5 L284.3,188.9 L275.7,181.2 L267.7,185.8Z" fill="#00e5ff"/><path d="M309.6,199.7 L317.4,194.6 L308.7,186.7 L300.8,191.8Z" fill="#00b8ff"/><path d="M326.2,202.6 L333.9,197.3 L325.1,189.3 L317.4,194.6Z" fill="#00a3ff"/><path d="M359.3,208 L366.9,202.2 L358,194 L350.4,199.8Z" fill="#007bff"/><path d="M107.5,153.9 L116.7,151.9 L108.9,145.4 L99.7,147.4Z" fill="#00fb24"/><path d="M342.8,205.4 L350.4,199.8 L341.6,191.7 L333.9,197.3Z" fill="#008eff"/><path d="M149.7,169.8 L158.6,167.3 L150.5,160.4 L141.6,163Z" fill="#00fc74"/><path d="M301.6,204.5 L309.6,199.7 L300.8,191.8 L292.9,196.6Z" fill="#00a9ff"/><path d="M115.4,160.5 L124.6,158.5 L116.7,151.9 L107.5,153.9Z" fill="#00fb3b"/><path d="M166.7,174.2 L175.5,171.4 L167.4,164.5 L158.6,167.3Z" fill="#00fd8e"/><path d="M200.7,182.7 L209.2,179.3 L201,172.1 L192.4,175.5Z" fill="#00fec2"/><path d="M217.6,186.6 L226,183.1 L217.7,175.8 L209.2,179.3Z" fill="#00feda"/><path d="M234.5,190.5 L242.8,186.7 L234.4,179.2 L226,183.1Z" fill="#00fff1"/><path d="M251.3,194.2 L259.5,190.1 L251,182.6 L242.8,186.7Z" fill="#00f4ff"/><path d="M284.9,201.2 L292.9,196.6 L284.3,188.9 L276.2,193.5Z" fill="#00c1ff"/><path d="M335,210.7 L342.8,205.4 L333.9,197.3 L326.2,202.6Z" fill="#007cff"/><path d="M98.2,155.7 L107.5,153.9 L99.7,147.4 L90.4,149.2Z" fill="#00fb1e"/><path d="M132.6,165.2 L141.6,163 L133.6,156.2 L124.6,158.5Z" fill="#00fc58"/><path d="M183.7,178.5 L192.4,175.5 L184.2,168.4 L175.5,171.4Z" fill="#00fda8"/><path d="M268.1,197.8 L276.2,193.5 L267.7,185.8 L259.5,190.1Z" fill="#00daff"/><path d="M318.4,207.7 L326.2,202.6 L317.4,194.6 L309.6,199.7Z" fill="#0092ff"/><path d="M351.7,213.6 L359.3,208 L350.4,199.8 L342.8,205.4Z" fill="#0067ff"/><path d="M106.1,162.2 L115.4,160.5 L107.5,153.9 L98.2,155.7Z" fill="#00fb35"/><path d="M140.6,172.1 L149.7,169.8 L141.6,163 L132.6,165.2Z" fill="#00fc70"/><path d="M157.8,176.8 L166.7,174.2 L158.6,167.3 L149.7,169.8Z" fill="#00fd8d"/><path d="M209,190 L217.6,186.6 L209.2,179.3 L200.7,182.7Z" fill="#00fedd"/><path d="M226,194.1 L234.5,190.5 L226,183.1 L217.6,186.6Z" fill="#00fff6"/><path d="M243,198 L251.3,194.2 L242.8,186.7 L234.5,190.5Z" fill="#00edff"/><path d="M293.6,209.1 L301.6,204.5 L292.9,196.6 L284.9,201.2Z" fill="#009dff"/><path d="M310.5,212.5 L318.4,207.7 L309.6,199.7 L301.6,204.5Z" fill="#0084ff"/><path d="M344,218.9 L351.7,213.6 L342.8,205.4 L335,210.7Z" fill="#0055ff"/><path d="M123.4,167.2 L132.6,165.2 L124.6,158.5 L115.4,160.5Z" fill="#00fc53"/><path d="M174.9,181.3 L183.7,178.5 L175.5,171.4 L166.7,174.2Z" fill="#00fda8"/><path d="M192,185.7 L200.7,182.7 L192.4,175.5 L183.7,178.5Z" fill="#00fec3"/><path d="M259.9,201.9 L268.1,197.8 L259.5,190.1 L251.3,194.2Z" fill="#00d1ff"/><path d="M276.8,205.5 L284.9,201.2 L276.2,193.5 L268.1,197.8Z" fill="#00b6ff"/><path d="M327.2,215.8 L335,210.7 L326.2,202.6 L318.4,207.7Z" fill="#006cff"/><path d="M131.4,174 L140.6,172.1 L132.6,165.2 L123.4,167.2Z" fill="#00fc6b"/><path d="M217.5,197.4 L226,194.1 L217.6,186.6 L209,190Z" fill="#00fff8"/><path d="M234.6,201.6 L243,198 L234.5,190.5 L226,194.1Z" fill="#00e8ff"/><path d="M319.4,220.6 L327.2,215.8 L318.4,207.7 L310.5,212.5Z" fill="#005eff"/><path d="M114.1,168.9 L123.4,167.2 L115.4,160.5 L106.1,162.2Z" fill="#00fc4d"/><path d="M148.7,179 L157.8,176.8 L149.7,169.8 L140.6,172.1Z" fill="#00fd89"/><path d="M166,183.8 L174.9,181.3 L166.7,174.2 L157.8,176.8Z" fill="#00fda6"/><path d="M183.2,188.5 L192,185.7 L183.7,178.5 L174.9,181.3Z" fill="#00fec2"/><path d="M200.4,193 L209,190 L200.7,182.7 L192,185.7Z" fill="#00fede"/><path d="M251.6,205.7 L259.9,201.9 L251.3,194.2 L243,198Z" fill="#00cbff"/><path d="M268.6,209.6 L276.8,205.5 L268.1,197.8 L259.9,201.9Z" fill="#00aeff"/><path d="M285.5,213.4 L293.6,209.1 L284.9,201.2 L276.8,205.5Z" fill="#0092ff"/><path d="M302.5,217.1 L310.5,212.5 L301.6,204.5 L293.6,209.1Z" fill="#0078ff"/><path d="M336.2,224 L344,218.9 L335,210.7 L327.2,215.8Z" fill="#0045ff"/><path d="M122.1,175.7 L131.4,174 L123.4,167.2 L114.1,168.9Z" fill="#00fc64"/><path d="M226,204.9 L234.6,201.6 L226,194.1 L217.5,197.4Z" fill="#00e6ff"/><path d="M328.3,228.8 L336.2,224 L327.2,215.8 L319.4,220.6Z" fill="#0038ff"/><path d="M139.6,180.9 L148.7,179 L140.6,172.1 L131.4,174Z" fill="#00fd84"/><path d="M174.3,191 L183.2,188.5 L174.9,181.3 L166,183.8Z" fill="#00fec0"/><path d="M191.6,195.8 L200.4,193 L192,185.7 L183.2,188.5Z" fill="#00fedd"/><path d="M208.8,200.4 L217.5,197.4 L209,190 L200.4,193Z" fill="#00fff9"/><path d="M243.2,209.2 L251.6,205.7 L243,198 L234.6,201.6Z" fill="#00c7ff"/><path d="M260.3,213.4 L268.6,209.6 L259.9,201.9 L251.6,205.7Z" fill="#00a8ff"/><path d="M277.4,217.5 L285.5,213.4 L276.8,205.5 L268.6,209.6Z" fill="#008bff"/><path d="M311.4,225.2 L319.4,220.6 L310.5,212.5 L302.5,217.1Z" fill="#0053ff"/><path d="M157,186 L166,183.8 L157.8,176.8 L148.7,179Z" fill="#00fda2"/><path d="M294.4,221.4 L302.5,217.1 L293.6,209.1 L285.5,213.4Z" fill="#006eff"/><path d="M130.3,182.6 L139.6,180.9 L131.4,174 L122.1,175.7Z" fill="#00fc7c"/><path d="M182.7,198.2 L191.6,195.8 L183.2,188.5 L174.3,191Z" fill="#00feda"/><path d="M200.1,203.1 L208.8,200.4 L200.4,193 L191.6,195.8Z" fill="#00fff7"/><path d="M217.4,207.9 L226,204.9 L217.5,197.4 L208.8,200.4Z" fill="#00e6ff"/><path d="M234.7,212.5 L243.2,209.2 L234.6,201.6 L226,204.9Z" fill="#00c5ff"/><path d="M251.9,217 L260.3,213.4 L251.6,205.7 L243.2,209.2Z" fill="#00a4ff"/><path d="M269.1,221.3 L277.4,217.5 L268.6,209.6 L260.3,213.4Z" fill="#0085ff"/><path d="M320.4,233.4 L328.3,228.8 L319.4,220.6 L311.4,225.2Z" fill="#002dff"/><path d="M147.8,188 L157,186 L148.7,179 L139.6,180.9Z" fill="#00fd9c"/><path d="M165.3,193.2 L174.3,191 L166,183.8 L157,186Z" fill="#00febb"/><path d="M286.2,225.5 L294.4,221.4 L285.5,213.4 L277.4,217.5Z" fill="#0067ff"/><path d="M303.3,229.5 L311.4,225.2 L302.5,217.1 L294.4,221.4Z" fill="#004aff"/><path d="M191.2,205.6 L200.1,203.1 L191.6,195.8 L182.7,198.2Z" fill="#00fff4"/><path d="M208.6,210.7 L217.4,207.9 L208.8,200.4 L200.1,203.1Z" fill="#00e8ff"/><path d="M243.4,220.3 L251.9,217 L243.2,209.2 L234.7,212.5Z" fill="#00a3ff"/><path d="M260.7,224.8 L269.1,221.3 L260.3,213.4 L251.9,217Z" fill="#0082ff"/><path d="M138.5,189.6 L147.8,188 L139.6,180.9 L130.3,182.6Z" fill="#00fd94"/><path d="M156.1,195.1 L165.3,193.2 L157,186 L147.8,188Z" fill="#00feb5"/><path d="M173.7,200.4 L182.7,198.2 L174.3,191 L165.3,193.2Z" fill="#00fed5"/><path d="M226,215.5 L234.7,212.5 L226,204.9 L217.4,207.9Z" fill="#00c5ff"/><path d="M278,229.3 L286.2,225.5 L277.4,217.5 L269.1,221.3Z" fill="#0062ff"/><path d="M295.2,233.6 L303.3,229.5 L294.4,221.4 L286.2,225.5Z" fill="#0043ff"/><path d="M312.4,237.7 L320.4,233.4 L311.4,225.2 L303.3,229.5Z" fill="#0025ff"/><path d="M199.8,213.1 L208.6,210.7 L200.1,203.1 L191.2,205.6Z" fill="#00edff"/><path d="M252.2,228.1 L260.7,224.8 L251.9,217 L243.4,220.3Z" fill="#0081ff"/><path d="M146.8,196.7 L156.1,195.1 L147.8,188 L138.5,189.6Z" fill="#00fdad"/><path d="M164.5,202.4 L173.7,200.4 L165.3,193.2 L156.1,195.1Z" fill="#00fece"/><path d="M182.2,207.8 L191.2,205.6 L182.7,198.2 L173.7,200.4Z" fill="#00ffee"/><path d="M217.3,218.3 L226,215.5 L217.4,207.9 L208.6,210.7Z" fill="#00c8ff"/><path d="M234.8,223.3 L243.4,220.3 L234.7,212.5 L226,215.5Z" fill="#00a4ff"/><path d="M269.6,232.8 L278,229.3 L269.1,221.3 L260.7,224.8Z" fill="#005fff"/><path d="M286.9,237.4 L295.2,233.6 L286.2,225.5 L278,229.3Z" fill="#003fff"/><path d="M304.2,241.8 L312.4,237.7 L303.3,229.5 L295.2,233.6Z" fill="#001fff"/><path d="M155.2,204 L164.5,202.4 L156.1,195.1 L146.8,196.7Z" fill="#00fec5"/><path d="M173,209.7 L182.2,207.8 L173.7,200.4 L164.5,202.4Z" fill="#00ffe7"/><path d="M190.8,215.3 L199.8,213.1 L191.2,205.6 L182.2,207.8Z" fill="#00f4ff"/><path d="M208.4,220.7 L217.3,218.3 L208.6,210.7 L199.8,213.1Z" fill="#00cdff"/><path d="M226,226 L234.8,223.3 L226,215.5 L217.3,218.3Z" fill="#00a8ff"/><path d="M243.6,231.1 L252.2,228.1 L243.4,220.3 L234.8,223.3Z" fill="#0083ff"/><path d="M261.1,236.1 L269.6,232.8 L260.7,224.8 L252.2,228.1Z" fill="#005fff"/><path d="M278.6,240.9 L286.9,237.4 L278,229.3 L269.6,232.8Z" fill="#003cff"/><path d="M296,245.6 L304.2,241.8 L295.2,233.6 L286.9,237.4Z" fill="#001bff"/><path d="M163.7,211.3 L173,209.7 L164.5,202.4 L155.2,204Z" fill="#00fede"/><path d="M181.6,217.2 L190.8,215.3 L182.2,207.8 L173,209.7Z" fill="#00fdff"/><path d="M217.2,228.5 L226,226 L217.3,218.3 L208.4,220.7Z" fill="#00adff"/><path d="M234.9,233.9 L243.6,231.1 L234.8,223.3 L226,226Z" fill="#0087ff"/><path d="M270.1,244.2 L278.6,240.9 L269.6,232.8 L261.1,236.1Z" fill="#003dff"/><path d="M287.6,249.2 L296,245.6 L286.9,237.4 L278.6,240.9Z" fill="#0019ff"/><path d="M199.4,222.9 L208.4,220.7 L199.8,213.1 L190.8,215.3Z" fill="#00d5ff"/><path d="M252.5,239.1 L261.1,236.1 L252.2,228.1 L243.6,231.1Z" fill="#0061ff"/><path d="M172.3,218.8 L181.6,217.2 L173,209.7 L163.7,211.3Z" fill="#00fff7"/><path d="M190.3,224.8 L199.4,222.9 L190.8,215.3 L181.6,217.2Z" fill="#00dfff"/><path d="M208.2,230.6 L217.2,228.5 L208.4,220.7 L199.4,222.9Z" fill="#00b5ff"/><path d="M226,236.3 L234.9,233.9 L226,226 L217.2,228.5Z" fill="#008dff"/><path d="M243.8,241.9 L252.5,239.1 L243.6,231.1 L234.9,233.9Z" fill="#0066ff"/><path d="M261.5,247.2 L270.1,244.2 L261.1,236.1 L252.5,239.1Z" fill="#003fff"/><path d="M279.2,252.4 L287.6,249.2 L278.6,240.9 L270.1,244.2Z" fill="#001aff"/><path d="M181.1,226.4 L190.3,224.8 L181.6,217.2 L172.3,218.8Z" fill="#00ebff"/><path d="M199.1,232.5 L208.2,230.6 L199.4,222.9 L190.3,224.8Z" fill="#00c0ff"/><path d="M217.1,238.5 L226,236.3 L217.2,228.5 L208.2,230.6Z" fill="#0096ff"/><path d="M235,244.3 L243.8,241.9 L234.9,233.9 L226,236.3Z" fill="#006cff"/><path d="M252.9,250 L261.5,247.2 L252.5,239.1 L243.8,241.9Z" fill="#0044ff"/><path d="M270.7,255.4 L279.2,252.4 L270.1,244.2 L261.5,247.2Z" fill="#001dff"/><path d="M189.9,234.1 L199.1,232.5 L190.3,224.8 L181.1,226.4Z" fill="#00ccff"/><path d="M208,240.4 L217.1,238.5 L208.2,230.6 L199.1,232.5Z" fill="#00a0ff"/><path d="M226.1,246.5 L235,244.3 L226,236.3 L217.1,238.5Z" fill="#0076ff"/><path d="M244.1,252.4 L252.9,250 L243.8,241.9 L235,244.3Z" fill="#004cff"/><path d="M262,258.2 L270.7,255.4 L261.5,247.2 L252.9,250Z" fill="#0023ff"/><path d="M198.8,242 L208,240.4 L199.1,232.5 L189.9,234.1Z" fill="#00aeff"/><path d="M253.2,260.6 L262,258.2 L252.9,250 L244.1,252.4Z" fill="#002bff"/><path d="M217,248.3 L226.1,246.5 L217.1,238.5 L208,240.4Z" fill="#0081ff"/><path d="M235.1,254.6 L244.1,252.4 L235,244.3 L226.1,246.5Z" fill="#0055ff"/><path d="M207.8,249.9 L217,248.3 L208,240.4 L198.8,242Z" fill="#008fff"/><path d="M226.1,256.4 L235.1,254.6 L226.1,246.5 L217,248.3Z" fill="#0061ff"/><path d="M244.3,262.8 L253.2,260.6 L244.1,252.4 L235.1,254.6Z" fill="#0035ff"/><path d="M216.9,258 L226.1,256.4 L217,248.3 L207.8,249.9Z" fill="#0070ff"/><path d="M235.2,264.7 L244.3,262.8 L235.1,254.6 L226.1,256.4Z" fill="#0041ff"/><path d="M226.1,266.2 L235.2,264.7 L226.1,256.4 L216.9,258Z" fill="#0050ff"/></g>
<text x="57.3" y="212.76" text-anchor="end" font-size="12.4" fill="#333">8</text>
<text x="56.16" y="188.95" text-anchor="end" font-size="12.4" fill="#333">10</text>
<text x="55.01" y="165.14" text-anchor="end" font-size="12.4" fill="#333">12</text>
<text x="53.87" y="141.33" text-anchor="end" font-size="12.4" fill="#333">14</text>
<text x="52.73" y="117.53" text-anchor="end" font-size="12.4" fill="#333">16</text>
<text x="51.59" y="93.72" text-anchor="end" font-size="12.4" fill="#333">18</text>
<text x="50.44" y="69.91" text-anchor="end" font-size="12.4" fill="#333">20</text>
<text x="49.3" y="46.1" text-anchor="end" font-size="12.4" fill="#333">22</text>
<text x="218.2" y="358.4" text-anchor="end" font-size="12.4" fill="#333">0.25</text>
<text x="186.4" y="343.2" text-anchor="end" font-size="12.4" fill="#333">0.5</text>
<text x="154.6" y="328" text-anchor="end" font-size="12.4" fill="#333">0.75</text>
<text x="122.8" y="312.8" text-anchor="end" font-size="12.4" fill="#333">1</text>
<text x="91" y="297.6" text-anchor="end" font-size="12.4" fill="#333">1.25</text>
<text x="59.2" y="282.4" text-anchor="end" font-size="12.4" fill="#333">1.5</text>
<text x="233.4" y="358.4" text-anchor="start" font-size="12.4" fill="#333">0.13</text>
<text x="265.2" y="343.2" text-anchor="start" font-size="12.4" fill="#333">0.136</text>
<text x="297" y="328" text-anchor="start" font-size="12.4" fill="#333">0.142</text>
<text x="328.8" y="312.8" text-anchor="start" font-size="12.4" fill="#333">0.148</text>
<text x="360.6" y="297.6" text-anchor="start" font-size="12.4" fill="#333">0.154</text>
<text x="392.4" y="282.4" text-anchor="start" font-size="12.4" fill="#333">0.16</text>
<g fill="#000"><circle cx="64.5" cy="216.76" r="1.65"/><circle cx="63.36" cy="192.95" r="1.65"/><circle cx="62.21" cy="169.14" r="1.65"/><circle cx="61.07" cy="145.33" r="1.65"/><circle cx="59.93" cy="121.53" r="1.65"/><circle cx="58.79" cy="97.72" r="1.65"/><circle cx="57.64" cy="73.91" r="1.65"/><circle cx="56.5" cy="50.1" r="1.65"/><circle cx="226" cy="344.9" r="1.65"/><circle cx="194.2" cy="329.7" r="1.65"/><circle cx="162.4" cy="314.5" r="1.65"/><circle cx="130.6" cy="299.3" r="1.65"/><circle cx="98.8" cy="284.1" r="1.65"/><circle cx="67" cy="268.9" r="1.65"/><circle cx="257.8" cy="329.7" r="1.65"/><circle cx="289.6" cy="314.5" r="1.65"/><circle cx="321.4" cy="299.3" r="1.65"/><circle cx="353.2" cy="284.1" r="1.65"/><circle cx="385" cy="268.9" r="1.65"/></g>
<text x="85" y="345" text-anchor="middle" font-size="15" fill="#333">C: Lr</text>
<text x="367" y="345" text-anchor="middle" font-size="15" fill="#333">A: D1 (cm)</text>
<text transform="translate(13.9,163.1) rotate(-90)" text-anchor="middle" font-size="15" fill="#333">U (m/s)</text>
<path d="M62.2,446.9 L230.9,408.7 L399.8,446.8 L389.2,664.7 L230.9,605.6 L72.6,664.7 Z" fill="#fff" stroke="none"/>
<path d="M70.1,612.8 L230.9,558.7 L391.7,612.8 M69,589.1 L230.9,537.3 L392.9,589.1 M67.8,565.4 L230.9,515.9 L394,565.4 M66.7,541.7 L230.9,494.4 L395.2,541.7 M65.6,518 L230.9,473 L396.4,518 M64.4,494.3 L230.9,451.6 L397.5,494.3 M63.3,470.6 L230.9,430.2 L398.7,470.5 M62.2,446.9 L230.9,408.7 L399.8,446.8 M62.2,446.9 L72.6,664.7 M104.3,437.4 L110.3,599.3 M146.5,427.8 L150.5,585.8 M188.7,418.3 L190.7,572.2 M230.9,408.7 L230.9,605.6 M399.8,446.8 L389.2,664.7 M366,439.2 L359.6,602 M332.3,431.6 L327.4,591.2 M298.5,424 L295.2,580.3 M264.7,416.4 L263.1,569.5" fill="none" stroke="#1a1a1a" stroke-width="0.85"/>
<path d="M72.6,664.7 L230.9,740.4 L389.2,664.7 L230.9,605.6 Z" fill="#ffff80" stroke="#111" stroke-width="0.9" stroke-linejoin="round"/>
<path d="M239.4,736.3 L240.5,734.3 L241.4,732.6 L242.7,730.5 L244.3,727.8 L245.3,726.2 L246.3,724.7 L248.1,721.7 L249.3,720 L250.3,718.5 L252.2,715.8 L253.4,714.1 L254.5,712.6 L256.6,709.8 L257.7,708.3 L259.1,706.6 L261.1,704.2 L262.2,702.8 L264.5,700.2 L265.7,698.9 L267.5,696.9 L269.4,695 L270.8,693.5 L273.1,691.3 L274.4,690 L277,687.6 L278.5,686.3 L281,684.1 L283.2,682.3 L285.1,680.8 L287.9,678.6 L289.4,677.5 L292.3,675.4 L295.4,673.3 L296.9,672.3 L300,670.4 L303.2,668.4 L306.5,666.6 L308.3,665.6 L311.6,663.9 L315.1,662.2 L318.7,660.5 L322.4,658.9 L326.2,657.3 L330.1,655.8 L332,655.1 L336.1,653.7 L340.2,652.3 L344.5,651 L346.7,650.4 L348.9,649.7" fill="none" stroke="#2eade8" stroke-width="1.34"/>
<path d="M201,726 L201.8,724.3 L202.7,722.6 L203.9,720 L205.1,717.7 L206,716.1 L206.8,714.5 L208,712.3 L209.4,709.8 L210.4,708.2 L211.3,706.6 L212.5,704.6 L214,702.1 L215,700.6 L215.9,699.1 L217.4,696.9 L218.8,694.8 L219.8,693.4 L221,691.6 L222.8,689.2 L223.8,687.8 L224.9,686.3 L226.9,683.8 L228,682.5 L229.3,680.9 L231.2,678.6 L232.3,677.3 L234.2,675.3 L235.7,673.6 L236.9,672.4 L239.2,670 L240.4,668.8 L242.9,666.5 L244.1,665.4 L246.5,663.3 L247.9,662 L250.4,659.9 L251.8,658.8 L254.5,656.7 L255.8,655.7 L258.6,653.7 L260.5,652.4 L262.9,650.8 L265.9,648.9 L267.7,647.8 L270.5,646.1 L273.6,644.4 L276.8,642.7 L280.2,641 L281.8,640.2 L285.3,638.6 L288.8,637.1 L292.5,635.6 L296.2,634.2 L298.1,633.5 L302,632.2 L302,632.2" fill="none" stroke="#2efebc" stroke-width="1.34"/>
<path d="M167.5,710.1 L168.3,708.4 L169,706.8 L170,704.6 L171.1,702.4 L172.1,700.2 L172.9,698.6 L173.7,697.1 L174.5,695.5 L175.6,693.3 L176.8,691 L177.7,689.3 L178.6,687.8 L179.4,686.3 L180.6,684.2 L181.9,682 L182.8,680.5 L183.7,679.1 L184.7,677.4 L186.2,675.1 L187.2,673.5 L188.2,672.1 L189.2,670.6 L190.8,668.3 L191.9,666.8 L192.9,665.5 L194.3,663.6 L195.8,661.6 L196.8,660.4 L198,658.9 L199.8,656.7 L200.9,655.5 L202.1,654.1 L204,651.9 L205.1,650.8 L206.6,649.2 L208.4,647.4 L209.6,646.2 L211.8,644 L213,643 L214.8,641.3 L216.6,639.8 L218,638.6 L220.3,636.7 L221.6,635.7 L224.1,633.8 L225.8,632.5 L228.1,630.9 L230.7,629.2 L232.2,628.2 L235,626.4 L236.9,625.3 L239.4,623.8 L242.5,622.2 L245.6,620.6 L247.1,619.8 L250.4,618.2 L253.7,616.8 L257.1,615.3 L257.1,615.3" fill="none" stroke="#2efc4b" stroke-width="1.34"/>
<path d="M135.9,695 L136.6,693.4 L137.3,691.7 L138,689.9 L138.9,687.9 L139.8,685.8 L140.7,683.8 L141.5,682.1 L142.2,680.5 L142.9,679 L143.6,677.5 L144.5,675.7 L145.5,673.7 L146.5,671.7 L147.4,670 L148.1,668.5 L148.9,667.1 L149.7,665.7 L150.8,663.7 L151.9,661.7 L152.8,660 L153.6,658.7 L154.4,657.3 L155.4,655.7 L156.6,653.7 L157.7,652 L158.6,650.7 L159.4,649.4 L160.6,647.7 L162,645.6 L162.9,644.3 L163.8,643 L164.9,641.6 L166.4,639.6 L167.5,638.2 L168.4,637 L169.7,635.5 L171.3,633.5 L172.3,632.4 L173.2,631.3 L175.1,629.2 L176.3,627.9 L177.3,626.9 L179.3,624.8 L179.3,624.8" fill="none" stroke="#68fc17" stroke-width="1.34"/>
<path d="M104.3,679.9 L104.9,678.3 L105.5,676.6 L106.1,674.9 L106.9,673.1 L107.6,671.2 L108.3,669.4 L109.1,667.6 L109.8,665.7 L110.5,664 L111.2,662.5 L111.8,661 L112.5,659.5 L113.1,658 L113.8,656.6 L114.5,654.9 L115.3,653.2 L116.2,651.4 L117,649.6 L117.8,648 L117.9,647.9" fill="none" stroke="#dbfe17" stroke-width="1.34"/>
<g stroke="#0a0a0a" stroke-width="0.6" stroke-linejoin="round"><path d="M230.9,490 L238.3,488.3 L230.9,483 L223.5,484.7Z" fill="#08fa00"/><path d="M223.5,491.6 L230.9,490 L223.5,484.7 L216.1,486.1Z" fill="#0cfa00"/><path d="M238.3,495.5 L245.7,493.6 L238.3,488.3 L230.9,490Z" fill="#00fa0e"/><path d="M215.9,493 L223.5,491.6 L216.1,486.1 L208.5,487.4Z" fill="#11fa00"/><path d="M245.8,501 L253.2,499 L245.7,493.6 L238.3,495.5Z" fill="#00fb25"/><path d="M230.9,497.1 L238.3,495.5 L230.9,490 L223.5,491.6Z" fill="#00fa0b"/><path d="M208.3,494.2 L215.9,493 L208.5,487.4 L200.9,488.5Z" fill="#17fa00"/><path d="M223.4,498.6 L230.9,497.1 L223.5,491.6 L215.9,493Z" fill="#00fa07"/><path d="M238.4,502.7 L245.8,501 L238.3,495.5 L230.9,497.1Z" fill="#00fb23"/><path d="M253.4,506.5 L260.8,504.4 L253.2,499 L245.8,501Z" fill="#00fb3c"/><path d="M230.9,504.4 L238.4,502.7 L230.9,497.1 L223.4,498.6Z" fill="#00fb1f"/><path d="M200.6,495.2 L208.3,494.2 L200.9,488.5 L193.2,489.4Z" fill="#1ffb00"/><path d="M215.8,499.9 L223.4,498.6 L215.9,493 L208.3,494.2Z" fill="#00fa01"/><path d="M246,508.4 L253.4,506.5 L245.8,501 L238.4,502.7Z" fill="#00fb3a"/><path d="M261.1,512.1 L268.4,509.9 L260.8,504.4 L253.4,506.5Z" fill="#00fc53"/><path d="M192.8,496 L200.6,495.2 L193.2,489.4 L185.4,490Z" fill="#29fb00"/><path d="M223.3,505.8 L230.9,504.4 L223.4,498.6 L215.8,499.9Z" fill="#00fa19"/><path d="M238.5,510.1 L246,508.4 L238.4,502.7 L230.9,504.4Z" fill="#00fb37"/><path d="M268.8,517.8 L276.1,515.5 L268.4,509.9 L261.1,512.1Z" fill="#00fc6b"/><path d="M208.1,501 L215.8,499.9 L208.3,494.2 L200.6,495.2Z" fill="#06fa00"/><path d="M253.7,514.2 L261.1,512.1 L253.4,506.5 L246,508.4Z" fill="#00fc52"/><path d="M184.9,496.6 L192.8,496 L185.4,490 L177.4,490.5Z" fill="#33fb00"/><path d="M200.3,502 L208.1,501 L200.6,495.2 L192.8,496Z" fill="#0ffa00"/><path d="M215.6,507 L223.3,505.8 L215.8,499.9 L208.1,501Z" fill="#00fa13"/><path d="M230.9,511.7 L238.5,510.1 L230.9,504.4 L223.3,505.8Z" fill="#00fb32"/><path d="M246.2,516 L253.7,514.2 L246,508.4 L238.5,510.1Z" fill="#00fc4f"/><path d="M261.4,520 L268.8,517.8 L261.1,512.1 L253.7,514.2Z" fill="#00fc6a"/><path d="M276.6,523.6 L283.9,521.1 L276.1,515.5 L268.8,517.8Z" fill="#00fd82"/><path d="M176.8,496.9 L184.9,496.6 L177.4,490.5 L169.4,490.8Z" fill="#40fb00"/><path d="M207.8,508 L215.6,507 L208.1,501 L200.3,502Z" fill="#00fa0a"/><path d="M253.9,521.9 L261.4,520 L253.7,514.2 L246.2,516Z" fill="#00fc67"/><path d="M284.5,529.4 L291.8,526.9 L283.9,521.1 L276.6,523.6Z" fill="#00fd9a"/><path d="M192.4,502.7 L200.3,502 L192.8,496 L184.9,496.6Z" fill="#1afb00"/><path d="M223.2,513 L230.9,511.7 L223.3,505.8 L215.6,507Z" fill="#00fb2c"/><path d="M238.6,517.6 L246.2,516 L238.5,510.1 L230.9,511.7Z" fill="#00fb4b"/><path d="M269.2,525.9 L276.6,523.6 L268.8,517.8 L261.4,520Z" fill="#00fd82"/><path d="M168.7,497.1 L176.8,496.9 L169.4,490.8 L161.3,490.8Z" fill="#4dfc00"/><path d="M184.4,503.2 L192.4,502.7 L184.9,496.6 L176.8,496.9Z" fill="#25fb00"/><path d="M199.9,508.8 L207.8,508 L200.3,502 L192.4,502.7Z" fill="#00fa00"/><path d="M215.4,514.1 L223.2,513 L215.6,507 L207.8,508Z" fill="#00fb24"/><path d="M246.3,523.7 L253.9,521.9 L246.2,516 L238.6,517.6Z" fill="#00fc63"/><path d="M261.7,527.9 L269.2,525.9 L261.4,520 L253.9,521.9Z" fill="#00fd80"/><path d="M277.1,531.8 L284.5,529.4 L276.6,523.6 L269.2,525.9Z" fill="#00fd9a"/><path d="M292.4,535.3 L299.7,532.7 L291.8,526.9 L284.5,529.4Z" fill="#00fdb1"/><path d="M230.9,519.1 L238.6,517.6 L230.9,511.7 L223.2,513Z" fill="#00fb45"/><path d="M191.9,509.4 L199.9,508.8 L192.4,502.7 L184.4,503.2Z" fill="#0bfa00"/><path d="M269.6,534 L277.1,531.8 L269.2,525.9 L261.7,527.9Z" fill="#00fd98"/><path d="M160.5,497.1 L168.7,497.1 L161.3,490.8 L153,490.7Z" fill="#5dfc00"/><path d="M176.2,503.4 L184.4,503.2 L176.8,496.9 L168.7,497.1Z" fill="#33fb00"/><path d="M207.6,515.1 L215.4,514.1 L207.8,508 L199.9,508.8Z" fill="#00fb1b"/><path d="M223.1,520.4 L230.9,519.1 L223.2,513 L215.4,514.1Z" fill="#00fb3d"/><path d="M238.7,525.3 L246.3,523.7 L238.6,517.6 L230.9,519.1Z" fill="#00fc5e"/><path d="M254.2,529.8 L261.7,527.9 L253.9,521.9 L246.3,523.7Z" fill="#00fc7c"/><path d="M285,537.8 L292.4,535.3 L284.5,529.4 L277.1,531.8Z" fill="#00fdb2"/><path d="M300.4,541.3 L307.7,538.5 L299.7,532.7 L292.4,535.3Z" fill="#00fec9"/><path d="M183.8,509.9 L191.9,509.4 L184.4,503.2 L176.2,503.4Z" fill="#18fa00"/><path d="M199.6,515.8 L207.6,515.1 L199.9,508.8 L191.9,509.4Z" fill="#00fa10"/><path d="M230.9,526.6 L238.7,525.3 L230.9,519.1 L223.1,520.4Z" fill="#00fc57"/><path d="M262.1,536 L269.6,534 L261.7,527.9 L254.2,529.8Z" fill="#00fd95"/><path d="M277.6,540.2 L285,537.8 L277.1,531.8 L269.6,534Z" fill="#00fdb1"/><path d="M152.1,496.8 L160.5,497.1 L153,490.7 L144.7,490.3Z" fill="#6dfc00"/><path d="M308.5,547.4 L315.8,544.5 L307.7,538.5 L300.4,541.3Z" fill="#00fee1"/><path d="M168,503.5 L176.2,503.4 L168.7,497.1 L160.5,497.1Z" fill="#41fb00"/><path d="M215.3,521.4 L223.1,520.4 L215.4,514.1 L207.6,515.1Z" fill="#00fb35"/><path d="M246.5,531.5 L254.2,529.8 L246.3,523.7 L238.7,525.3Z" fill="#00fc78"/><path d="M293.1,543.9 L300.4,541.3 L292.4,535.3 L285,537.8Z" fill="#00feca"/><path d="M143.7,496.3 L152.1,496.8 L144.7,490.3 L136.2,489.7Z" fill="#7ffc00"/><path d="M175.6,510 L183.8,509.9 L176.2,503.4 L168,503.5Z" fill="#26fb00"/><path d="M191.5,516.3 L199.6,515.8 L191.9,509.4 L183.8,509.9Z" fill="#00fa04"/><path d="M207.3,522.3 L215.3,521.4 L207.6,515.1 L199.6,515.8Z" fill="#00fb2a"/><path d="M223.1,527.8 L230.9,526.6 L223.1,520.4 L215.3,521.4Z" fill="#00fc4f"/><path d="M238.8,533 L246.5,531.5 L238.7,525.3 L230.9,526.6Z" fill="#00fc71"/><path d="M254.4,537.8 L262.1,536 L254.2,529.8 L246.5,531.5Z" fill="#00fd91"/><path d="M270,542.3 L277.6,540.2 L269.6,534 L262.1,536Z" fill="#00fdae"/><path d="M285.6,546.4 L293.1,543.9 L285,537.8 L277.6,540.2Z" fill="#00feca"/><path d="M316.7,553.5 L324,550.5 L315.8,544.5 L308.5,547.4Z" fill="#00fff9"/><path d="M159.7,503.4 L168,503.5 L160.5,497.1 L152.1,496.8Z" fill="#51fc00"/><path d="M301.2,550.1 L308.5,547.4 L300.4,541.3 L293.1,543.9Z" fill="#00fee2"/><path d="M215.1,528.8 L223.1,527.8 L215.3,521.4 L207.3,522.3Z" fill="#00fb45"/><path d="M246.7,539.5 L254.4,537.8 L246.5,531.5 L238.8,533Z" fill="#00fd8b"/><path d="M135.1,495.6 L143.7,496.3 L136.2,489.7 L127.6,488.8Z" fill="#93fd00"/><path d="M167.3,510 L175.6,510 L168,503.5 L159.7,503.4Z" fill="#35fb00"/><path d="M293.8,552.7 L301.2,550.1 L293.1,543.9 L285.6,546.4Z" fill="#00fee2"/><path d="M325,559.7 L332.2,556.5 L324,550.5 L316.7,553.5Z" fill="#00eaff"/><path d="M151.2,503 L159.7,503.4 L152.1,496.8 L143.7,496.3Z" fill="#63fc00"/><path d="M183.3,516.7 L191.5,516.3 L183.8,509.9 L175.6,510Z" fill="#0afa00"/><path d="M199.2,522.9 L207.3,522.3 L199.6,515.8 L191.5,516.3Z" fill="#00fb1f"/><path d="M230.9,534.3 L238.8,533 L230.9,526.6 L223.1,527.8Z" fill="#00fc69"/><path d="M262.4,544.2 L270,542.3 L262.1,536 L254.4,537.8Z" fill="#00fdab"/><path d="M278.1,548.6 L285.6,546.4 L277.6,540.2 L270,542.3Z" fill="#00fec8"/><path d="M309.4,556.4 L316.7,553.5 L308.5,547.4 L301.2,550.1Z" fill="#00fffb"/><path d="M126.4,494.6 L135.1,495.6 L127.6,488.8 L118.9,487.8Z" fill="#a8fd00"/><path d="M158.9,509.8 L167.3,510 L159.7,503.4 L151.2,503Z" fill="#46fb00"/><path d="M207,529.6 L215.1,528.8 L207.3,522.3 L199.2,522.9Z" fill="#00fb3a"/><path d="M223,535.4 L230.9,534.3 L223.1,527.8 L215.1,528.8Z" fill="#00fc60"/><path d="M238.9,540.9 L246.7,539.5 L238.8,533 L230.9,534.3Z" fill="#00fd84"/><path d="M254.7,546 L262.4,544.2 L254.4,537.8 L246.7,539.5Z" fill="#00fda5"/><path d="M302,559.1 L309.4,556.4 L301.2,550.1 L293.8,552.7Z" fill="#00fffb"/><path d="M333.3,566 L340.6,562.7 L332.2,556.5 L325,559.7Z" fill="#00cdff"/><path d="M142.6,502.4 L151.2,503 L143.7,496.3 L135.1,495.6Z" fill="#76fc00"/><path d="M175,516.8 L183.3,516.7 L175.6,510 L167.3,510Z" fill="#19fa00"/><path d="M286.2,555.1 L293.8,552.7 L285.6,546.4 L278.1,548.6Z" fill="#00fee1"/><path d="M317.6,562.7 L325,559.7 L316.7,553.5 L309.4,556.4Z" fill="#00e7ff"/><path d="M191,523.4 L199.2,522.9 L191.5,516.3 L183.3,516.7Z" fill="#00fa12"/><path d="M270.5,550.7 L278.1,548.6 L270,542.3 L262.4,544.2Z" fill="#00fec4"/><path d="M230.9,542.1 L238.9,540.9 L230.9,534.3 L223,535.4Z" fill="#00fc7b"/><path d="M150.3,509.3 L158.9,509.8 L151.2,503 L142.6,502.4Z" fill="#59fc00"/><path d="M310.2,565.5 L317.6,562.7 L309.4,556.4 L302,559.1Z" fill="#00e5ff"/><path d="M117.5,493.4 L126.4,494.6 L118.9,487.8 L110,486.5Z" fill="#befe00"/><path d="M133.9,501.6 L142.6,502.4 L135.1,495.6 L126.4,494.6Z" fill="#8afd00"/><path d="M166.6,516.6 L175,516.8 L167.3,510 L158.9,509.8Z" fill="#2afb00"/><path d="M198.9,530.1 L207,529.6 L199.2,522.9 L191,523.4Z" fill="#00fb2e"/><path d="M214.9,536.3 L223,535.4 L215.1,528.8 L207,529.6Z" fill="#00fc56"/><path d="M246.9,547.5 L254.7,546 L246.7,539.5 L238.9,540.9Z" fill="#00fd9f"/><path d="M262.8,552.6 L270.5,550.7 L262.4,544.2 L254.7,546Z" fill="#00fec0"/><path d="M294.4,561.6 L302,559.1 L293.8,552.7 L286.2,555.1Z" fill="#00fffb"/><path d="M326,569.1 L333.3,566 L325,559.7 L317.6,562.7Z" fill="#00c9ff"/><path d="M341.7,572.4 L349,568.9 L340.6,562.7 L333.3,566Z" fill="#00b0ff"/><path d="M182.7,523.6 L191,523.4 L183.3,516.7 L175,516.8Z" fill="#00fa03"/><path d="M278.6,557.3 L286.2,555.1 L278.1,548.6 L270.5,550.7Z" fill="#00fede"/><path d="M141.6,508.6 L150.3,509.3 L142.6,502.4 L133.9,501.6Z" fill="#6dfc00"/><path d="M222.9,543.1 L230.9,542.1 L223,535.4 L214.9,536.3Z" fill="#00fc71"/><path d="M238.9,548.9 L246.9,547.5 L238.9,540.9 L230.9,542.1Z" fill="#00fd96"/><path d="M318.6,572.1 L326,569.1 L317.6,562.7 L310.2,565.5Z" fill="#00c7ff"/><path d="M108.5,492 L117.5,493.4 L110,486.5 L101,484.9Z" fill="#d6fe00"/><path d="M158,516.3 L166.6,516.6 L158.9,509.8 L150.3,509.3Z" fill="#3cfb00"/><path d="M190.6,530.5 L198.9,530.1 L191,523.4 L182.7,523.6Z" fill="#00fb1f"/><path d="M270.9,559.3 L278.6,557.3 L270.5,550.7 L262.8,552.6Z" fill="#00feda"/><path d="M302.7,568.2 L310.2,565.5 L302,559.1 L294.4,561.6Z" fill="#00e6ff"/><path d="M350.2,578.8 L357.5,575.3 L349,568.9 L341.7,572.4Z" fill="#0093ff"/><path d="M125.1,500.5 L133.9,501.6 L126.4,494.6 L117.5,493.4Z" fill="#a0fd00"/><path d="M174.3,523.6 L182.7,523.6 L175,516.8 L166.6,516.6Z" fill="#0dfa00"/><path d="M206.8,537 L214.9,536.3 L207,529.6 L198.9,530.1Z" fill="#00fb49"/><path d="M255,554.3 L262.8,552.6 L254.7,546 L246.9,547.5Z" fill="#00feb9"/><path d="M286.9,563.9 L294.4,561.6 L286.2,555.1 L278.6,557.3Z" fill="#00fff8"/><path d="M334.4,575.6 L341.7,572.4 L333.3,566 L326,569.1Z" fill="#00acff"/><path d="M99.4,490.3 L108.5,492 L101,484.9 L91.9,483.1Z" fill="#f0ff00"/><path d="M132.8,507.7 L141.6,508.6 L133.9,501.6 L125.1,500.5Z" fill="#82fd00"/><path d="M149.3,515.7 L158,516.3 L150.3,509.3 L141.6,508.6Z" fill="#4ffc00"/><path d="M182.2,530.6 L190.6,530.5 L182.7,523.6 L174.3,523.6Z" fill="#00fa10"/><path d="M214.7,543.9 L222.9,543.1 L214.9,536.3 L206.8,537Z" fill="#00fc66"/><path d="M230.9,550 L238.9,548.9 L230.9,542.1 L222.9,543.1Z" fill="#00fd8d"/><path d="M247.1,555.7 L255,554.3 L246.9,547.5 L238.9,548.9Z" fill="#00fdb2"/><path d="M279.2,566 L286.9,563.9 L278.6,557.3 L270.9,559.3Z" fill="#00fff5"/><path d="M311.1,574.8 L318.6,572.1 L310.2,565.5 L302.7,568.2Z" fill="#00c7ff"/><path d="M327,578.7 L334.4,575.6 L326,569.1 L318.6,572.1Z" fill="#00a9ff"/><path d="M358.8,585.3 L366,581.7 L357.5,575.3 L350.2,578.8Z" fill="#0076ff"/><path d="M116.1,499.2 L125.1,500.5 L117.5,493.4 L108.5,492Z" fill="#b8fe00"/><path d="M165.8,523.4 L174.3,523.6 L166.6,516.6 L158,516.3Z" fill="#1efb00"/><path d="M198.5,537.5 L206.8,537 L198.9,530.1 L190.6,530.5Z" fill="#00fb3c"/><path d="M263.1,561.1 L270.9,559.3 L262.8,552.6 L255,554.3Z" fill="#00fed4"/><path d="M295.2,570.6 L302.7,568.2 L294.4,561.6 L286.9,563.9Z" fill="#00e8ff"/><path d="M342.9,582.2 L350.2,578.8 L341.7,572.4 L334.4,575.6Z" fill="#008eff"/><path d="M123.8,506.5 L132.8,507.7 L125.1,500.5 L116.1,499.2Z" fill="#99fd00"/><path d="M173.7,530.5 L182.2,530.6 L174.3,523.6 L165.8,523.4Z" fill="#01fa00"/><path d="M206.5,544.5 L214.7,543.9 L206.8,537 L198.5,537.5Z" fill="#00fc59"/><path d="M255.2,562.7 L263.1,561.1 L255,554.3 L247.1,555.7Z" fill="#00fecd"/><path d="M287.5,572.9 L295.2,570.6 L286.9,563.9 L279.2,566Z" fill="#00ecff"/><path d="M335.6,585.4 L342.9,582.2 L334.4,575.6 L327,578.7Z" fill="#008bff"/><path d="M90.1,488.4 L99.4,490.3 L91.9,483.1 L82.6,481Z" fill="#fff100"/><path d="M107,497.6 L116.1,499.2 L108.5,492 L99.4,490.3Z" fill="#d1fe00"/><path d="M140.5,514.9 L149.3,515.7 L141.6,508.6 L132.8,507.7Z" fill="#64fc00"/><path d="M157.1,522.9 L165.8,523.4 L158,516.3 L149.3,515.7Z" fill="#31fb00"/><path d="M190.1,537.7 L198.5,537.5 L190.6,530.5 L182.2,530.6Z" fill="#00fb2d"/><path d="M222.8,551 L230.9,550 L222.9,543.1 L214.7,543.9Z" fill="#00fd82"/><path d="M239,557 L247.1,555.7 L238.9,548.9 L230.9,550Z" fill="#00fda9"/><path d="M271.4,568 L279.2,566 L270.9,559.3 L263.1,561.1Z" fill="#00ffef"/><path d="M303.5,577.4 L311.1,574.8 L302.7,568.2 L295.2,570.6Z" fill="#00c9ff"/><path d="M319.6,581.6 L327,578.7 L318.6,572.1 L311.1,574.8Z" fill="#00a8ff"/><path d="M351.5,588.9 L358.8,585.3 L350.2,578.8 L342.9,582.2Z" fill="#0070ff"/><path d="M367.5,592 L374.7,588.1 L366,581.7 L358.8,585.3Z" fill="#0058ff"/><path d="M114.7,505 L123.8,506.5 L116.1,499.2 L107,497.6Z" fill="#b2fd00"/><path d="M165,530.2 L173.7,530.5 L165.8,523.4 L157.1,522.9Z" fill="#14fa00"/><path d="M198.1,544.9 L206.5,544.5 L198.5,537.5 L190.1,537.7Z" fill="#00fb4a"/><path d="M263.5,569.7 L271.4,568 L263.1,561.1 L255.2,562.7Z" fill="#00ffe9"/><path d="M295.9,579.8 L303.5,577.4 L295.2,570.6 L287.5,572.9Z" fill="#00ccff"/><path d="M344.2,592.2 L351.5,588.9 L342.9,582.2 L335.6,585.4Z" fill="#006cff"/><path d="M80.7,486.2 L90.1,488.4 L82.6,481 L73.1,478.7Z" fill="#ffce00"/><path d="M131.6,513.8 L140.5,514.9 L132.8,507.7 L123.8,506.5Z" fill="#7bfc00"/><path d="M181.6,537.8 L190.1,537.7 L182.2,530.6 L173.7,530.5Z" fill="#00fb1c"/><path d="M214.6,551.7 L222.8,551 L214.7,543.9 L206.5,544.5Z" fill="#00fc75"/><path d="M247.2,564.1 L255.2,562.7 L247.1,555.7 L239,557Z" fill="#00fec5"/><path d="M279.7,574.9 L287.5,572.9 L279.2,566 L271.4,568Z" fill="#00f1ff"/><path d="M328.1,588.4 L335.6,585.4 L327,578.7 L319.6,581.6Z" fill="#0089ff"/><path d="M376.3,598.6 L383.5,594.7 L374.7,588.1 L367.5,592Z" fill="#003bff"/><path d="M97.8,495.8 L107,497.6 L99.4,490.3 L90.1,488.4Z" fill="#ebff00"/><path d="M148.3,522.2 L157.1,522.9 L149.3,515.7 L140.5,514.9Z" fill="#46fb00"/><path d="M230.9,558.1 L239,557 L230.9,550 L222.8,551Z" fill="#00fd9e"/><path d="M312,584.3 L319.6,581.6 L311.1,574.8 L303.5,577.4Z" fill="#00a9ff"/><path d="M360.2,595.6 L367.5,592 L358.8,585.3 L351.5,588.9Z" fill="#0052ff"/><path d="M189.6,545.1 L198.1,544.9 L190.1,537.7 L181.6,537.8Z" fill="#00fb3a"/><path d="M271.8,576.8 L279.7,574.9 L271.4,568 L263.5,569.7Z" fill="#00f9ff"/><path d="M71.1,483.7 L80.7,486.2 L73.1,478.7 L63.5,476.1Z" fill="#ffa900"/><path d="M105.5,503.4 L114.7,505 L107,497.6 L97.8,495.8Z" fill="#cbfe00"/><path d="M122.5,512.5 L131.6,513.8 L123.8,506.5 L114.7,505Z" fill="#92fd00"/><path d="M156.2,529.6 L165,530.2 L157.1,522.9 L148.3,522.2Z" fill="#27fb00"/><path d="M173,537.6 L181.6,537.8 L173.7,530.5 L165,530.2Z" fill="#00fa0a"/><path d="M206.2,552.2 L214.6,551.7 L206.5,544.5 L198.1,544.9Z" fill="#00fc67"/><path d="M255.5,571.2 L263.5,569.7 L255.2,562.7 L247.2,564.1Z" fill="#00fee1"/><path d="M288.1,582 L295.9,579.8 L287.5,572.9 L279.7,574.9Z" fill="#00d1ff"/><path d="M304.4,586.8 L312,584.3 L303.5,577.4 L295.9,579.8Z" fill="#00acff"/><path d="M336.7,595.4 L344.2,592.2 L335.6,585.4 L328.1,588.4Z" fill="#006aff"/><path d="M352.9,599.1 L360.2,595.6 L351.5,588.9 L344.2,592.2Z" fill="#004dff"/><path d="M385.1,605.4 L392.3,601.3 L383.5,594.7 L376.3,598.6Z" fill="#001dff"/><path d="M88.4,493.7 L97.8,495.8 L90.1,488.4 L80.7,486.2Z" fill="#fff500"/><path d="M139.4,521.3 L148.3,522.2 L140.5,514.9 L131.6,513.8Z" fill="#5cfc00"/><path d="M222.7,558.9 L230.9,558.1 L222.8,551 L214.6,551.7Z" fill="#00fd92"/><path d="M239.1,565.3 L247.2,564.1 L239,557 L230.9,558.1Z" fill="#00feba"/><path d="M320.6,591.3 L328.1,588.4 L319.6,581.6 L312,584.3Z" fill="#0089ff"/><path d="M369,602.4 L376.3,598.6 L367.5,592 L360.2,595.6Z" fill="#0034ff"/><path d="M181,545 L189.6,545.1 L181.6,537.8 L173,537.6Z" fill="#00fb29"/><path d="M280.3,584 L288.1,582 L279.7,574.9 L271.8,576.8Z" fill="#00d7ff"/><path d="M96.1,501.4 L105.5,503.4 L97.8,495.8 L88.4,493.7Z" fill="#e7ff00"/><path d="M147.3,528.8 L156.2,529.6 L148.3,522.2 L139.4,521.3Z" fill="#3dfb00"/><path d="M197.7,552.5 L206.2,552.2 L198.1,544.9 L189.6,545.1Z" fill="#00fc58"/><path d="M263.9,578.5 L271.8,576.8 L263.5,569.7 L255.5,571.2Z" fill="#00fffd"/><path d="M312.9,593.9 L320.6,591.3 L312,584.3 L304.4,586.8Z" fill="#008bff"/><path d="M361.7,606 L369,602.4 L360.2,595.6 L352.9,599.1Z" fill="#002fff"/><path d="M78.8,491.4 L88.4,493.7 L80.7,486.2 L71.1,483.7Z" fill="#ffd100"/><path d="M113.3,511 L122.5,512.5 L114.7,505 L105.5,503.4Z" fill="#acfd00"/><path d="M130.4,520.1 L139.4,521.3 L131.6,513.8 L122.5,512.5Z" fill="#73fc00"/><path d="M164.2,537.1 L173,537.6 L165,530.2 L156.2,529.6Z" fill="#09fa00"/><path d="M214.4,559.6 L222.7,558.9 L214.6,551.7 L206.2,552.2Z" fill="#00fd85"/><path d="M230.9,566.3 L239.1,565.3 L230.9,558.1 L222.7,558.9Z" fill="#00fdaf"/><path d="M247.4,572.6 L255.5,571.2 L247.2,564.1 L239.1,565.3Z" fill="#00fed7"/><path d="M296.6,589.2 L304.4,586.8 L295.9,579.8 L288.1,582Z" fill="#00b0ff"/><path d="M329.2,598.3 L336.7,595.4 L328.1,588.4 L320.6,591.3Z" fill="#006aff"/><path d="M345.4,602.4 L352.9,599.1 L344.2,592.2 L336.7,595.4Z" fill="#004bff"/><path d="M377.9,609.3 L385.1,605.4 L376.3,598.6 L369,602.4Z" fill="#0015ff"/><path d="M86.6,499.2 L96.1,501.4 L88.4,493.7 L78.8,491.4Z" fill="#fff900"/><path d="M138.3,527.8 L147.3,528.8 L139.4,521.3 L130.4,520.1Z" fill="#54fc00"/><path d="M172.3,544.7 L181,545 L173,537.6 L164.2,537.1Z" fill="#00fa16"/><path d="M189.1,552.6 L197.7,552.5 L189.6,545.1 L181,545Z" fill="#00fb47"/><path d="M272.3,585.8 L280.3,584 L271.8,576.8 L263.9,578.5Z" fill="#00e0ff"/><path d="M288.8,591.3 L296.6,589.2 L288.1,582 L280.3,584Z" fill="#00b6ff"/><path d="M321.6,601.1 L329.2,598.3 L320.6,591.3 L312.9,593.9Z" fill="#006bff"/><path d="M370.5,613.1 L377.9,609.3 L369,602.4 L361.7,606Z" fill="#0010ff"/><path d="M103.9,509.2 L113.3,511 L105.5,503.4 L96.1,501.4Z" fill="#c7fe00"/><path d="M155.3,536.5 L164.2,537.1 L156.2,529.6 L147.3,528.8Z" fill="#1efb00"/><path d="M205.9,560 L214.4,559.6 L206.2,552.2 L197.7,552.5Z" fill="#00fc76"/><path d="M222.6,567.1 L230.9,566.3 L222.7,558.9 L214.4,559.6Z" fill="#00fda2"/><path d="M239.2,573.7 L247.4,572.6 L239.1,565.3 L230.9,566.3Z" fill="#00fecc"/><path d="M255.8,580 L263.9,578.5 L255.5,571.2 L247.4,572.6Z" fill="#00fff4"/><path d="M305.2,596.4 L312.9,593.9 L304.4,586.8 L296.6,589.2Z" fill="#008fff"/><path d="M354.2,609.5 L361.7,606 L352.9,599.1 L345.4,602.4Z" fill="#002bff"/><path d="M121.2,518.7 L130.4,520.1 L122.5,512.5 L113.3,511Z" fill="#8cfd00"/><path d="M337.9,605.5 L345.4,602.4 L336.7,595.4 L329.2,598.3Z" fill="#004aff"/><path d="M163.4,544.2 L172.3,544.7 L164.2,537.1 L155.3,536.5Z" fill="#00fa01"/><path d="M297.4,598.7 L305.2,596.4 L296.6,589.2 L288.8,591.3Z" fill="#0095ff"/><path d="M94.4,507.1 L103.9,509.2 L96.1,501.4 L86.6,499.2Z" fill="#e3fe00"/><path d="M129.1,526.5 L138.3,527.8 L130.4,520.1 L121.2,518.7Z" fill="#6cfc00"/><path d="M146.3,535.6 L155.3,536.5 L147.3,528.8 L138.3,527.8Z" fill="#34fb00"/><path d="M180.4,552.4 L189.1,552.6 L181,545 L172.3,544.7Z" fill="#00fb34"/><path d="M197.3,560.2 L205.9,560 L197.7,552.5 L189.1,552.6Z" fill="#00fc65"/><path d="M214.2,567.6 L222.6,567.1 L214.4,559.6 L205.9,560Z" fill="#00fd94"/><path d="M230.9,574.6 L239.2,573.7 L230.9,566.3 L222.6,567.1Z" fill="#00fec0"/><path d="M247.6,581.2 L255.8,580 L247.4,572.6 L239.2,573.7Z" fill="#00ffe9"/><path d="M264.3,587.4 L272.3,585.8 L263.9,578.5 L255.8,580Z" fill="#00eaff"/><path d="M280.9,593.2 L288.8,591.3 L280.3,584 L272.3,585.8Z" fill="#00beff"/><path d="M313.9,603.7 L321.6,601.1 L312.9,593.9 L305.2,596.4Z" fill="#006eff"/><path d="M330.3,608.4 L337.9,605.5 L329.2,598.3 L321.6,601.1Z" fill="#004bff"/><path d="M363.1,616.7 L370.5,613.1 L361.7,606 L354.2,609.5Z" fill="#000cff"/><path d="M111.8,517 L121.2,518.7 L113.3,511 L103.9,509.2Z" fill="#a6fd00"/><path d="M346.7,612.7 L354.2,609.5 L345.4,602.4 L337.9,605.5Z" fill="#002aff"/><path d="M154.4,543.4 L163.4,544.2 L155.3,536.5 L146.3,535.6Z" fill="#14fa00"/><path d="M306.1,606.2 L313.9,603.7 L305.2,596.4 L297.4,598.7Z" fill="#0073ff"/><path d="M119.8,525 L129.1,526.5 L121.2,518.7 L111.8,517Z" fill="#86fd00"/><path d="M171.5,552 L180.4,552.4 L172.3,544.7 L163.4,544.2Z" fill="#00fb21"/><path d="M205.6,568 L214.2,567.6 L205.9,560 L197.3,560.2Z" fill="#00fd84"/><path d="M222.5,575.3 L230.9,574.6 L222.6,567.1 L214.2,567.6Z" fill="#00fdb2"/><path d="M239.3,582.3 L247.6,581.2 L239.2,573.7 L230.9,574.6Z" fill="#00fedd"/><path d="M256.1,588.8 L264.3,587.4 L255.8,580 L247.6,581.2Z" fill="#00f6ff"/><path d="M289.5,600.8 L297.4,598.7 L288.8,591.3 L280.9,593.2Z" fill="#009cff"/><path d="M339.2,615.8 L346.7,612.7 L337.9,605.5 L330.3,608.4Z" fill="#002aff"/><path d="M102.3,515.1 L111.8,517 L103.9,509.2 L94.4,507.1Z" fill="#c2fe00"/><path d="M137.1,534.4 L146.3,535.6 L138.3,527.8 L129.1,526.5Z" fill="#4cfb00"/><path d="M188.6,560.2 L197.3,560.2 L189.1,552.6 L180.4,552.4Z" fill="#00fc53"/><path d="M272.8,595 L280.9,593.2 L272.3,585.8 L264.3,587.4Z" fill="#00c8ff"/><path d="M322.6,611.2 L330.3,608.4 L321.6,601.1 L313.9,603.7Z" fill="#004dff"/><path d="M355.6,620 L363.1,616.7 L354.2,609.5 L346.7,612.7Z" fill="#000aff"/><path d="M110.3,523.2 L119.8,525 L111.8,517 L102.3,515.1Z" fill="#a1fd00"/><path d="M145.2,542.4 L154.4,543.4 L146.3,535.6 L137.1,534.4Z" fill="#2cfb00"/><path d="M162.6,551.4 L171.5,552 L163.4,544.2 L154.4,543.4Z" fill="#00fa0b"/><path d="M214,575.8 L222.5,575.3 L214.2,567.6 L205.6,568Z" fill="#00fda2"/><path d="M230.9,583.1 L239.3,582.3 L230.9,574.6 L222.5,575.3Z" fill="#00fed0"/><path d="M247.8,590 L256.1,588.8 L247.6,581.2 L239.3,582.3Z" fill="#00fffb"/><path d="M298.2,608.4 L306.1,606.2 L297.4,598.7 L289.5,600.8Z" fill="#007aff"/><path d="M314.8,613.7 L322.6,611.2 L313.9,603.7 L306.1,606.2Z" fill="#0051ff"/><path d="M348.1,623.3 L355.6,620 L346.7,612.7 L339.2,615.8Z" fill="#0009ff"/><path d="M127.8,533 L137.1,534.4 L129.1,526.5 L119.8,525Z" fill="#65fc00"/><path d="M179.8,559.9 L188.6,560.2 L180.4,552.4 L171.5,552Z" fill="#00fb40"/><path d="M196.9,568.1 L205.6,568 L197.3,560.2 L188.6,560.2Z" fill="#00fc72"/><path d="M264.7,596.5 L272.8,595 L264.3,587.4 L256.1,588.8Z" fill="#00d3ff"/><path d="M281.4,602.6 L289.5,600.8 L280.9,593.2 L272.8,595Z" fill="#00a5ff"/><path d="M331.5,618.7 L339.2,615.8 L330.3,608.4 L322.6,611.2Z" fill="#002cff"/><path d="M135.9,541.1 L145.2,542.4 L137.1,534.4 L127.8,533Z" fill="#44fb00"/><path d="M222.4,583.7 L230.9,583.1 L222.5,575.3 L214,575.8Z" fill="#00fec1"/><path d="M239.4,591 L247.8,590 L239.3,582.3 L230.9,583.1Z" fill="#00ffee"/><path d="M323.7,621.4 L331.5,618.7 L322.6,611.2 L314.8,613.7Z" fill="#0030ff"/><path d="M118.3,531.3 L127.8,533 L119.8,525 L110.3,523.2Z" fill="#80fd00"/><path d="M153.4,550.5 L162.6,551.4 L154.4,543.4 L145.2,542.4Z" fill="#0bfa00"/><path d="M170.8,559.4 L179.8,559.9 L171.5,552 L162.6,551.4Z" fill="#00fb2b"/><path d="M188.1,568 L196.9,568.1 L188.6,560.2 L179.8,559.9Z" fill="#00fc5f"/><path d="M205.3,576.1 L214,575.8 L205.6,568 L196.9,568.1Z" fill="#00fd91"/><path d="M256.4,597.9 L264.7,596.5 L256.1,588.8 L247.8,590Z" fill="#00e0ff"/><path d="M273.3,604.3 L281.4,602.6 L272.8,595 L264.7,596.5Z" fill="#00b0ff"/><path d="M290.2,610.4 L298.2,608.4 L289.5,600.8 L281.4,602.6Z" fill="#0082ff"/><path d="M307,616.1 L314.8,613.7 L306.1,606.2 L298.2,608.4Z" fill="#0057ff"/><path d="M340.4,626.3 L348.1,623.3 L339.2,615.8 L331.5,618.7Z" fill="#000bff"/><path d="M126.5,539.6 L135.9,541.1 L127.8,533 L118.3,531.3Z" fill="#5ffc00"/><path d="M230.9,591.8 L239.4,591 L230.9,583.1 L222.4,583.7Z" fill="#00fee0"/><path d="M332.7,629.1 L340.4,626.3 L331.5,618.7 L323.7,621.4Z" fill="#000eff"/><path d="M144.1,549.4 L153.4,550.5 L145.2,542.4 L135.9,541.1Z" fill="#24fb00"/><path d="M179.1,567.6 L188.1,568 L179.8,559.9 L170.8,559.4Z" fill="#00fb4b"/><path d="M196.5,576.1 L205.3,576.1 L196.9,568.1 L188.1,568Z" fill="#00fc7f"/><path d="M213.8,584.1 L222.4,583.7 L214,575.8 L205.3,576.1Z" fill="#00fdb1"/><path d="M248,599 L256.4,597.9 L247.8,590 L239.4,591Z" fill="#00efff"/><path d="M265.1,605.8 L273.3,604.3 L264.7,596.5 L256.4,597.9Z" fill="#00bcff"/><path d="M282.1,612.2 L290.2,610.4 L281.4,602.6 L273.3,604.3Z" fill="#008cff"/><path d="M315.8,623.9 L323.7,621.4 L314.8,613.7 L307,616.1Z" fill="#0035ff"/><path d="M161.7,558.7 L170.8,559.4 L162.6,551.4 L153.4,550.5Z" fill="#00fa15"/><path d="M299,618.2 L307,616.1 L298.2,608.4 L290.2,610.4Z" fill="#005fff"/><path d="M134.7,548 L144.1,549.4 L135.9,541.1 L126.5,539.6Z" fill="#3dfb00"/><path d="M187.6,575.9 L196.5,576.1 L188.1,568 L179.1,567.6Z" fill="#00fc6b"/><path d="M205,584.3 L213.8,584.1 L205.3,576.1 L196.5,576.1Z" fill="#00fd9f"/><path d="M222.3,592.3 L230.9,591.8 L222.4,583.7 L213.8,584.1Z" fill="#00fed0"/><path d="M239.6,599.9 L248,599 L239.4,591 L230.9,591.8Z" fill="#00ffff"/><path d="M256.7,607.1 L265.1,605.8 L256.4,597.9 L248,599Z" fill="#00caff"/><path d="M273.8,613.8 L282.1,612.2 L273.3,604.3 L265.1,605.8Z" fill="#0098ff"/><path d="M324.8,631.8 L332.7,629.1 L323.7,621.4 L315.8,623.9Z" fill="#0012ff"/><path d="M152.4,557.7 L161.7,558.7 L153.4,550.5 L144.1,549.4Z" fill="#03fa00"/><path d="M170,567 L179.1,567.6 L170.8,559.4 L161.7,558.7Z" fill="#00fb35"/><path d="M290.9,620.2 L299,618.2 L290.2,610.4 L282.1,612.2Z" fill="#0069ff"/><path d="M307.9,626.2 L315.8,623.9 L307,616.1 L299,618.2Z" fill="#003cff"/><path d="M196.1,584.2 L205,584.3 L196.5,576.1 L187.6,575.9Z" fill="#00fd8c"/><path d="M213.5,592.6 L222.3,592.3 L213.8,584.1 L205,584.3Z" fill="#00febf"/><path d="M248.3,608.1 L256.7,607.1 L248,599 L239.6,599.9Z" fill="#00daff"/><path d="M265.5,615.2 L273.8,613.8 L265.1,605.8 L256.7,607.1Z" fill="#00a6ff"/><path d="M143,556.5 L152.4,557.7 L144.1,549.4 L134.7,548Z" fill="#1cfb00"/><path d="M160.8,566.2 L170,567 L161.7,558.7 L152.4,557.7Z" fill="#00fb1e"/><path d="M178.5,575.4 L187.6,575.9 L179.1,567.6 L170,567Z" fill="#00fc56"/><path d="M230.9,600.6 L239.6,599.9 L230.9,591.8 L222.3,592.3Z" fill="#00ffef"/><path d="M282.7,622 L290.9,620.2 L282.1,612.2 L273.8,613.8Z" fill="#0074ff"/><path d="M299.8,628.3 L307.9,626.2 L299,618.2 L290.9,620.2Z" fill="#0045ff"/><path d="M316.8,634.2 L324.8,631.8 L315.8,623.9 L307.9,626.2Z" fill="#0019ff"/><path d="M204.7,592.7 L213.5,592.6 L205,584.3 L196.1,584.2Z" fill="#00fdac"/><path d="M257.1,616.4 L265.5,615.2 L256.7,607.1 L248.3,608.1Z" fill="#00b5ff"/><path d="M151.4,565.1 L160.8,566.2 L152.4,557.7 L143,556.5Z" fill="#00fa06"/><path d="M169.3,574.7 L178.5,575.4 L170,567 L160.8,566.2Z" fill="#00fb3f"/><path d="M187,583.9 L196.1,584.2 L187.6,575.9 L178.5,575.4Z" fill="#00fc77"/><path d="M222.2,601 L230.9,600.6 L222.3,592.3 L213.5,592.6Z" fill="#00fedf"/><path d="M239.7,608.9 L248.3,608.1 L239.6,599.9 L230.9,600.6Z" fill="#00ecff"/><path d="M274.4,623.5 L282.7,622 L273.8,613.8 L265.5,615.2Z" fill="#0081ff"/><path d="M291.6,630.2 L299.8,628.3 L290.9,620.2 L282.7,622Z" fill="#0050ff"/><path d="M308.8,636.5 L316.8,634.2 L307.9,626.2 L299.8,628.3Z" fill="#0021ff"/><path d="M159.9,573.8 L169.3,574.7 L160.8,566.2 L151.4,565.1Z" fill="#00fb27"/><path d="M177.8,583.4 L187,583.9 L178.5,575.4 L169.3,574.7Z" fill="#00fc61"/><path d="M195.6,592.5 L204.7,592.7 L196.1,584.2 L187,583.9Z" fill="#00fd98"/><path d="M213.3,601.3 L222.2,601 L213.5,592.6 L204.7,592.7Z" fill="#00fecc"/><path d="M230.9,609.5 L239.7,608.9 L230.9,600.6 L222.2,601Z" fill="#00ffff"/><path d="M248.5,617.4 L257.1,616.4 L248.3,608.1 L239.7,608.9Z" fill="#00c6ff"/><path d="M265.9,624.9 L274.4,623.5 L265.5,615.2 L257.1,616.4Z" fill="#0090ff"/><path d="M283.3,631.9 L291.6,630.2 L282.7,622 L274.4,623.5Z" fill="#005cff"/><path d="M300.6,638.6 L308.8,636.5 L299.8,628.3 L291.6,630.2Z" fill="#002bff"/><path d="M168.5,582.6 L177.8,583.4 L169.3,574.7 L159.9,573.8Z" fill="#00fb49"/><path d="M186.4,592.1 L195.6,592.5 L187,583.9 L177.8,583.4Z" fill="#00fd82"/><path d="M222.1,609.9 L230.9,609.5 L222.2,601 L213.3,601.3Z" fill="#00ffed"/><path d="M239.8,618.2 L248.5,617.4 L239.7,608.9 L230.9,609.5Z" fill="#00d9ff"/><path d="M274.9,633.4 L283.3,631.9 L274.4,623.5 L265.9,624.9Z" fill="#006aff"/><path d="M292.4,640.4 L300.6,638.6 L291.6,630.2 L283.3,631.9Z" fill="#0037ff"/><path d="M204.3,601.2 L213.3,601.3 L204.7,592.7 L195.6,592.5Z" fill="#00feb9"/><path d="M257.4,626 L265.9,624.9 L257.1,616.4 L248.5,617.4Z" fill="#00a0ff"/><path d="M177.1,591.5 L186.4,592.1 L177.8,583.4 L168.5,582.6Z" fill="#00fc6b"/><path d="M195.2,601 L204.3,601.2 L195.6,592.5 L186.4,592.1Z" fill="#00fda3"/><path d="M213.1,610.1 L222.1,609.9 L213.3,601.3 L204.3,601.2Z" fill="#00feda"/><path d="M231,618.7 L239.8,618.2 L230.9,609.5 L222.1,609.9Z" fill="#00eeff"/><path d="M248.7,626.9 L257.4,626 L248.5,617.4 L239.8,618.2Z" fill="#00b2ff"/><path d="M266.4,634.7 L274.9,633.4 L265.9,624.9 L257.4,626Z" fill="#007aff"/><path d="M284,642.1 L292.4,640.4 L283.3,631.9 L274.9,633.4Z" fill="#0045ff"/><path d="M185.9,600.5 L195.2,601 L186.4,592.1 L177.1,591.5Z" fill="#00fd8d"/><path d="M204,610 L213.1,610.1 L204.3,601.2 L195.2,601Z" fill="#00fec5"/><path d="M222,619 L231,618.7 L222.1,609.9 L213.1,610.1Z" fill="#00fffb"/><path d="M239.9,627.6 L248.7,626.9 L239.8,618.2 L231,618.7Z" fill="#00c6ff"/><path d="M257.7,635.8 L266.4,634.7 L257.4,626 L248.7,626.9Z" fill="#008cff"/><path d="M275.5,643.5 L284,642.1 L274.9,633.4 L266.4,634.7Z" fill="#0054ff"/><path d="M194.7,609.6 L204,610 L195.2,601 L185.9,600.5Z" fill="#00fdaf"/><path d="M212.9,619.1 L222,619 L213.1,610.1 L204,610Z" fill="#00ffe7"/><path d="M231,628 L239.9,627.6 L231,618.7 L222,619Z" fill="#00dcff"/><path d="M248.9,636.6 L257.7,635.8 L248.7,626.9 L239.9,627.6Z" fill="#009fff"/><path d="M266.8,644.7 L275.5,643.5 L266.4,634.7 L257.7,635.8Z" fill="#0065ff"/><path d="M203.6,618.9 L212.9,619.1 L204,610 L194.7,609.6Z" fill="#00fed1"/><path d="M258.1,645.7 L266.8,644.7 L257.7,635.8 L248.9,636.6Z" fill="#0078ff"/><path d="M221.9,628.3 L231,628 L222,619 L212.9,619.1Z" fill="#00f4ff"/><path d="M240,637.2 L248.9,636.6 L239.9,627.6 L231,628Z" fill="#00b4ff"/><path d="M212.6,628.2 L221.9,628.3 L212.9,619.1 L203.6,618.9Z" fill="#00fff3"/><path d="M231,637.6 L240,637.2 L231,628 L221.9,628.3Z" fill="#00cbff"/><path d="M249.2,646.5 L258.1,645.7 L248.9,636.6 L240,637.2Z" fill="#008cff"/><path d="M221.8,637.7 L231,637.6 L221.9,628.3 L212.6,628.2Z" fill="#00e4ff"/><path d="M240.1,647 L249.2,646.5 L240,637.2 L231,637.6Z" fill="#00a2ff"/><path d="M231,647.3 L240.1,647 L231,637.6 L221.8,637.7Z" fill="#00baff"/></g>
<text x="62.96" y="608.85" text-anchor="end" font-size="12.34" fill="#333">8</text>
<text x="61.82" y="585.15" text-anchor="end" font-size="12.34" fill="#333">10</text>
<text x="60.68" y="561.45" text-anchor="end" font-size="12.34" fill="#333">12</text>
<text x="59.54" y="537.75" text-anchor="end" font-size="12.34" fill="#333">14</text>
<text x="58.41" y="514.05" text-anchor="end" font-size="12.34" fill="#333">16</text>
<text x="57.27" y="490.35" text-anchor="end" font-size="12.34" fill="#333">18</text>
<text x="56.13" y="466.65" text-anchor="end" font-size="12.34" fill="#333">20</text>
<text x="55" y="442.94" text-anchor="end" font-size="12.34" fill="#333">22</text>
<text x="223.14" y="753.84" text-anchor="end" font-size="12.34" fill="#333">0.25</text>
<text x="191.48" y="738.71" text-anchor="end" font-size="12.34" fill="#333">0.5</text>
<text x="159.82" y="723.58" text-anchor="end" font-size="12.34" fill="#333">0.75</text>
<text x="128.16" y="708.44" text-anchor="end" font-size="12.34" fill="#333">1</text>
<text x="96.51" y="693.31" text-anchor="end" font-size="12.34" fill="#333">1.25</text>
<text x="64.85" y="678.18" text-anchor="end" font-size="12.34" fill="#333">1.5</text>
<text x="238.27" y="753.84" text-anchor="start" font-size="12.34" fill="#333">2</text>
<text x="277.84" y="734.92" text-anchor="start" font-size="12.34" fill="#333">4</text>
<text x="317.41" y="716.01" text-anchor="start" font-size="12.34" fill="#333">6</text>
<text x="356.98" y="697.1" text-anchor="start" font-size="12.34" fill="#333">8</text>
<text x="396.55" y="678.18" text-anchor="start" font-size="12.34" fill="#333">10</text>
<g fill="#000"><circle cx="70.12" cy="612.84" r="1.64"/><circle cx="68.99" cy="589.13" r="1.64"/><circle cx="67.85" cy="565.43" r="1.64"/><circle cx="66.71" cy="541.73" r="1.64"/><circle cx="65.57" cy="518.03" r="1.64"/><circle cx="64.44" cy="494.33" r="1.64"/><circle cx="63.3" cy="470.63" r="1.64"/><circle cx="62.16" cy="446.93" r="1.64"/><circle cx="230.9" cy="740.4" r="1.64"/><circle cx="199.24" cy="725.27" r="1.64"/><circle cx="167.59" cy="710.14" r="1.64"/><circle cx="135.93" cy="695.01" r="1.64"/><circle cx="104.27" cy="679.87" r="1.64"/><circle cx="72.62" cy="664.74" r="1.64"/><circle cx="270.47" cy="721.49" r="1.64"/><circle cx="310.04" cy="702.57" r="1.64"/><circle cx="349.61" cy="683.66" r="1.64"/><circle cx="389.18" cy="664.74" r="1.64"/></g>
<text x="90.53" y="740.5" text-anchor="middle" font-size="14.93" fill="#333">C: Lr</text>
<text x="371.27" y="740.5" text-anchor="middle" font-size="14.93" fill="#333">B: Ar</text>
<text transform="translate(19.75,559.42) rotate(-90)" text-anchor="middle" font-size="14.93" fill="#333">U (m/s)</text>
<path d="M53.2,845.7 L217.8,808.4 L382.6,845.6 L372.2,1058.2 L217.8,1000.5 L63.4,1058.2 Z" fill="#fff" stroke="none"/>
<path d="M60.9,1007.5 L217.8,954.7 L374.7,1007.5 M59.8,984.4 L217.8,933.8 L375.8,984.4 M58.7,961.3 L217.8,912.9 L377,961.3 M57.6,938.2 L217.8,892 L378.1,938.1 M56.5,915.1 L217.8,871.1 L379.2,915 M55.4,891.9 L217.8,850.2 L380.4,891.9 M54.3,868.8 L217.8,829.3 L381.5,868.7 M53.2,845.7 L217.8,808.4 L382.6,845.6 M53.2,845.7 L63.4,1058.2 M86.1,838.2 L92.3,997 M119,830.8 L123.7,986.4 M152,823.3 L155.1,975.9 M184.9,815.9 L186.4,965.3 M217.8,808.4 L217.8,1000.5 M382.6,845.6 L372.2,1058.2 M341.4,836.3 L335.5,994.3 M300.2,827 L296.2,981.1 M259,817.7 L257,967.9" fill="none" stroke="#1a1a1a" stroke-width="0.83"/>
<path d="M63.4,1058.2 L217.8,1132 L372.2,1058.2 L217.8,1000.5 Z" fill="#ffff80" stroke="#111" stroke-width="0.87" stroke-linejoin="round"/>
<path d="M139.1,1029.9 L142.6,1031.3 L145.9,1032.8 L149.1,1034.4 L152.2,1036.1 L155,1037.8 L156.4,1038.7 L158.9,1040.7 L160.4,1042 L162.1,1043.8 L162.9,1044.9 L164.1,1046.8 L164.9,1048.6 L165.2,1050 L165.3,1051.5 L165.2,1053.1 L164.7,1054.8 L163.8,1056.6 L163,1057.9 L162,1059.2 L159.5,1061.5 L158.1,1062.6 L155,1064.7 L153.2,1065.7 L149.6,1067.5 L145.6,1069.3 L141.3,1070.9 L136.7,1072.5 L134.3,1073.2 L129.4,1074.6 L124.3,1075.9 L121.6,1076.5 L116.1,1077.7 L113.3,1078.3 L107.6,1079.3 L107.6,1079.3" fill="none" stroke="#2effcf" stroke-width="1.31"/>
<path d="M167.7,1019.2 L171.7,1020.3 L175.6,1021.6 L179.5,1022.8 L183.3,1024.2 L185.7,1025 L188.8,1026.2 L192.4,1027.6 L195.9,1029.1 L197.6,1029.9 L200.9,1031.5 L204.1,1033.1 L207.2,1034.8 L209.2,1036 L211.5,1037.5 L214.2,1039.4 L215.5,1040.4 L217.9,1042.5 L219,1043.6 L220.4,1045.1 L221.8,1047 L222.6,1048.3 L223.3,1049.6 L224,1051.3 L224.5,1053.1 L224.7,1054.7 L224.7,1056.3 L224.5,1057.9 L224.1,1059.3 L223.6,1060.7 L222.5,1062.8 L221.2,1064.6 L220.2,1065.8 L217.8,1068.2 L216.5,1069.3 L213.6,1071.4 L212,1072.5 L208.6,1074.5 L205,1076.3 L201.1,1078.1 L196.9,1079.9 L192.6,1081.5 L188,1083.1 L184.2,1084.3 L180.8,1085.3 L175.7,1086.7 L172.7,1087.5 L167.8,1088.6 L163.6,1089.6 L159.5,1090.5 L155.6,1091.3 L150.9,1092.2 L147.9,1092.7 L141.9,1093.7 L138.8,1094.2 L138.8,1094.2" fill="none" stroke="#2efd91" stroke-width="1.31"/>
<path d="M188.7,1011.3 L192.9,1012.4 L195,1012.9 L199.1,1014 L203.2,1015.2 L206.1,1016 L209.2,1017 L213.2,1018.2 L217,1019.5 L220.9,1020.8 L224.7,1022.1 L228.4,1023.5 L232,1024.9 L235.6,1026.4 L239,1027.9 L242.4,1029.5 L245.7,1031.1 L248.4,1032.6 L250.5,1033.7 L253.5,1035.5 L255.6,1036.8 L257.9,1038.3 L260.3,1040.1 L261.8,1041.3 L263.6,1042.9 L265.4,1044.6 L266.5,1045.7 L268.1,1047.6 L269.4,1049.4 L270.2,1050.7 L270.9,1052 L271.5,1053.5 L272.1,1055.3 L272.4,1057 L272.6,1058.6 L272.6,1060.1 L272.4,1061.6 L272,1063.3 L271.3,1065.4 L270.4,1067.2 L269.6,1068.5 L268.4,1070.2 L266.7,1072.1 L265.5,1073.3 L263,1075.6 L261.2,1077 L258.6,1078.8 L255.4,1080.8 L251.9,1082.8 L248.3,1084.6 L246.2,1085.5 L242.5,1087.2 L240.1,1088.2 L235.8,1089.8 L231.3,1091.5 L226.6,1093 L223,1094.1 L219.2,1095.2 L214.1,1096.6 L211.5,1097.3 L206.1,1098.7 L202.9,1099.4 L197.8,1100.6 L194.7,1101.2 L189.2,1102.3 L186.2,1102.9 L180.2,1104 L177.2,1104.5 L173.1,1105.2 L167.8,1106.1 L164.6,1106.6 L164.6,1106.6" fill="none" stroke="#2efc52" stroke-width="1.31"/>
<path d="M205.8,1004.9 L210.1,1005.9 L213.6,1006.7 L216.5,1007.4 L220.7,1008.5 L224.1,1009.4 L227,1010.1 L231.1,1011.2 L235.2,1012.4 L237.5,1013.1 L241.2,1014.2 L245.2,1015.4 L249.1,1016.7 L252.9,1018 L256.8,1019.3 L260.5,1020.7 L264.3,1022.1 L267.9,1023.6 L271.5,1025.1 L275,1026.6 L278.5,1028.2 L281.9,1029.8 L283.5,1030.7 L286.8,1032.4 L289.9,1034.2 L291.5,1035.1 L294.5,1037 L296.3,1038.2 L298.7,1039.9 L300.3,1041.1 L302.7,1043.1 L303.9,1044.2 L306,1046.2 L307.4,1047.7 L308.4,1048.9 L309.7,1050.5 L311,1052.5 L311.9,1054.2 L312.5,1055.6 L313.1,1057.1 L313.5,1058.6 L313.9,1060.2 L314,1061.9 L314,1063.7 L313.8,1065.6 L313.5,1067.1 L313,1068.5 L312.5,1069.9 L311.3,1072.2 L310.3,1073.8 L309.4,1075 L307.4,1077.4 L306.3,1078.6 L303.8,1080.9 L302.4,1082 L299.6,1084.1 L296.5,1086.2 L293.2,1088.2 L291.4,1089.2 L287.8,1091.1 L283.9,1092.9 L279.9,1094.7 L275.8,1096.4 L273.5,1097.3 L269,1098.9 L264.4,1100.5 L259.6,1102.1 L257.1,1102.8 L252.1,1104.3 L248.4,1105.3 L244.2,1106.4 L239.1,1107.7 L236.1,1108.5 L230.6,1109.7 L227.6,1110.4 L222.7,1111.4 L218.8,1112.2 L215.3,1112.9 L209.8,1113.9 L206.7,1114.4 L201.4,1115.3 L197.3,1116 L194,1116.5 L188.4,1117.4 L187.5,1117.5" fill="none" stroke="#31fb17" stroke-width="1.31"/>
<path d="M236.6,1123 L231.3,1123.9 L228.2,1124.5 L223,1125.3 L218.5,1126.1 L215.2,1126.6 L210.1,1127.3 L208.6,1127.5 M341.2,1046.7 L343.1,1048.6 L344.2,1049.9 L345.3,1051.1 L346.7,1053 L347.9,1054.9 L348.8,1056.6 L349.5,1058.1 L350.1,1059.6 L350.6,1061.2 L351,1062.9 L351.2,1064.6 L351.3,1066.4 L351.2,1068.1 L351.2,1068.3" fill="none" stroke="#6ffc17" stroke-width="1.31"/>
<g stroke="#0a0a0a" stroke-width="0.58" stroke-linejoin="round"><path d="M217.8,884.8 L225,877.9 L217.8,874.6 L210.6,881.6Z" fill="#2afb00"/><path d="M210.5,891.5 L217.8,884.8 L210.6,881.6 L203.4,888.4Z" fill="#07fa00"/><path d="M225.1,887.8 L232.3,881 L225,877.9 L217.8,884.8Z" fill="#22fb00"/><path d="M203.2,898 L210.5,891.5 L203.4,888.4 L196,894.9Z" fill="#00fb1a"/><path d="M232.4,890.7 L239.6,883.9 L232.3,881 L225.1,887.8Z" fill="#1bfb00"/><path d="M217.8,894.5 L225.1,887.8 L217.8,884.8 L210.5,891.5Z" fill="#00fa00"/><path d="M195.8,904.3 L203.2,898 L196,894.9 L188.7,901.3Z" fill="#00fb39"/><path d="M210.5,900.9 L217.8,894.5 L210.5,891.5 L203.2,898Z" fill="#00fb20"/><path d="M225.1,897.3 L232.4,890.7 L225.1,887.8 L217.8,894.5Z" fill="#00fa06"/><path d="M239.8,893.5 L247.1,886.7 L239.6,883.9 L232.4,890.7Z" fill="#15fa00"/><path d="M217.8,903.6 L225.1,897.3 L217.8,894.5 L210.5,900.9Z" fill="#00fb25"/><path d="M188.4,910.4 L195.8,904.3 L188.7,901.3 L181.2,907.4Z" fill="#00fc56"/><path d="M203.1,907.1 L210.5,900.9 L203.2,898 L195.8,904.3Z" fill="#00fb3e"/><path d="M232.6,899.9 L239.8,893.5 L232.4,890.7 L225.1,897.3Z" fill="#00fa0b"/><path d="M247.4,896 L254.6,889.4 L247.1,886.7 L239.8,893.5Z" fill="#11fa00"/><path d="M180.9,916.2 L188.4,910.4 L181.2,907.4 L173.7,913.4Z" fill="#00fc71"/><path d="M210.4,909.8 L217.8,903.6 L210.5,900.9 L203.1,907.1Z" fill="#00fb43"/><path d="M225.2,906.2 L232.6,899.9 L225.1,897.3 L217.8,903.6Z" fill="#00fb29"/><path d="M255,898.5 L262.2,891.9 L254.6,889.4 L247.4,896Z" fill="#0efa00"/><path d="M195.6,913.1 L203.1,907.1 L195.8,904.3 L188.4,910.4Z" fill="#00fc5b"/><path d="M240.1,902.5 L247.4,896 L239.8,893.5 L232.6,899.9Z" fill="#00fa0e"/><path d="M173.3,921.9 L180.9,916.2 L173.7,913.4 L166.1,919.1Z" fill="#00fd8a"/><path d="M188.1,918.9 L195.6,913.1 L188.4,910.4 L180.9,916.2Z" fill="#00fc75"/><path d="M202.9,915.7 L210.4,909.8 L203.1,907.1 L195.6,913.1Z" fill="#00fc5e"/><path d="M217.8,912.3 L225.2,906.2 L217.8,903.6 L210.4,909.8Z" fill="#00fb46"/><path d="M232.7,908.7 L240.1,902.5 L232.6,899.9 L225.2,906.2Z" fill="#00fb2c"/><path d="M247.7,904.8 L255,898.5 L247.4,896 L240.1,902.5Z" fill="#00fa10"/><path d="M262.7,900.7 L269.9,894.3 L262.2,891.9 L255,898.5Z" fill="#0dfa00"/><path d="M165.6,927.3 L173.3,921.9 L166.1,919.1 L158.4,924.6Z" fill="#00fda2"/><path d="M195.4,921.4 L202.9,915.7 L195.6,913.1 L188.1,918.9Z" fill="#00fc77"/><path d="M240.3,910.9 L247.7,904.8 L240.1,902.5 L232.7,908.7Z" fill="#00fb2d"/><path d="M270.4,902.8 L277.7,896.4 L269.9,894.3 L262.7,900.7Z" fill="#0dfa00"/><path d="M180.5,924.5 L188.1,918.9 L180.9,916.2 L173.3,921.9Z" fill="#00fd8d"/><path d="M210.3,918.2 L217.8,912.3 L210.4,909.8 L202.9,915.7Z" fill="#00fc60"/><path d="M225.3,914.7 L232.7,908.7 L225.2,906.2 L217.8,912.3Z" fill="#00fb47"/><path d="M255.4,907 L262.7,900.7 L255,898.5 L247.7,904.8Z" fill="#00fa11"/><path d="M157.8,932.5 L165.6,927.3 L158.4,924.6 L150.7,929.9Z" fill="#00feb7"/><path d="M172.8,929.8 L180.5,924.5 L173.3,921.9 L165.6,927.3Z" fill="#00fda4"/><path d="M187.8,926.9 L195.4,921.4 L188.1,918.9 L180.5,924.5Z" fill="#00fd8f"/><path d="M202.8,923.8 L210.3,918.2 L202.9,915.7 L195.4,921.4Z" fill="#00fc79"/><path d="M232.9,916.9 L240.3,910.9 L232.7,908.7 L225.3,914.7Z" fill="#00fb47"/><path d="M248,913.1 L255.4,907 L247.7,904.8 L240.3,910.9Z" fill="#00fb2c"/><path d="M263.1,909 L270.4,902.8 L262.7,900.7 L255.4,907Z" fill="#00fa10"/><path d="M278.3,904.8 L285.6,898.4 L277.7,896.4 L270.4,902.8Z" fill="#0efa00"/><path d="M217.8,920.4 L225.3,914.7 L217.8,912.3 L210.3,918.2Z" fill="#00fc61"/><path d="M180.1,932.2 L187.8,926.9 L180.5,924.5 L172.8,929.8Z" fill="#00fda5"/><path d="M255.8,915 L263.1,909 L255.4,907 L248,913.1Z" fill="#00fb2b"/><path d="M150,937.5 L157.8,932.5 L150.7,929.9 L142.9,935Z" fill="#00fecb"/><path d="M165,935 L172.8,929.8 L165.6,927.3 L157.8,932.5Z" fill="#00feb8"/><path d="M195.1,929.2 L202.8,923.8 L195.4,921.4 L187.8,926.9Z" fill="#00fd8f"/><path d="M210.2,926 L217.8,920.4 L210.3,918.2 L202.8,923.8Z" fill="#00fc78"/><path d="M225.4,922.6 L232.9,916.9 L225.3,914.7 L217.8,920.4Z" fill="#00fc60"/><path d="M240.6,918.9 L248,913.1 L240.3,910.9 L232.9,916.9Z" fill="#00fb46"/><path d="M271,910.9 L278.3,904.8 L270.4,902.8 L263.1,909Z" fill="#00fa0e"/><path d="M286.3,906.6 L293.5,900.3 L285.6,898.4 L278.3,904.8Z" fill="#10fa00"/><path d="M172.3,937.3 L180.1,932.2 L172.8,929.8 L165,935Z" fill="#00feb8"/><path d="M187.4,934.4 L195.1,929.2 L187.8,926.9 L180.1,932.2Z" fill="#00fda4"/><path d="M217.8,928 L225.4,922.6 L217.8,920.4 L210.2,926Z" fill="#00fc77"/><path d="M248.3,920.8 L255.8,915 L248,913.1 L240.6,918.9Z" fill="#00fb44"/><path d="M263.6,916.8 L271,910.9 L263.1,909 L255.8,915Z" fill="#00fb28"/><path d="M142,942.3 L150,937.5 L142.9,935 L135,939.9Z" fill="#00fedc"/><path d="M294.4,908.2 L301.6,902 L293.5,900.3 L286.3,906.6Z" fill="#14fa00"/><path d="M157.2,939.9 L165,935 L157.8,932.5 L150,937.5Z" fill="#00fecb"/><path d="M202.6,931.3 L210.2,926 L202.8,923.8 L195.1,929.2Z" fill="#00fd8e"/><path d="M233,924.5 L240.6,918.9 L232.9,916.9 L225.4,922.6Z" fill="#00fc5e"/><path d="M279,912.6 L286.3,906.6 L278.3,904.8 L271,910.9Z" fill="#00fa0b"/><path d="M134,946.9 L142,942.3 L135,939.9 L127,944.5Z" fill="#00ffec"/><path d="M164.4,942.1 L172.3,937.3 L165,935 L157.2,939.9Z" fill="#00feca"/><path d="M179.6,939.4 L187.4,934.4 L180.1,932.2 L172.3,937.3Z" fill="#00feb7"/><path d="M194.9,936.5 L202.6,931.3 L195.1,929.2 L187.4,934.4Z" fill="#00fda2"/><path d="M210.2,933.3 L217.8,928 L210.2,926 L202.6,931.3Z" fill="#00fd8c"/><path d="M225.5,929.9 L233,924.5 L225.4,922.6 L217.8,928Z" fill="#00fc74"/><path d="M240.8,926.3 L248.3,920.8 L240.6,918.9 L233,924.5Z" fill="#00fc5b"/><path d="M256.2,922.5 L263.6,916.8 L255.8,915 L248.3,920.8Z" fill="#00fb40"/><path d="M271.6,918.4 L279,912.6 L271,910.9 L263.6,916.8Z" fill="#00fb24"/><path d="M302.6,909.6 L309.8,903.5 L301.6,902 L294.4,908.2Z" fill="#19fa00"/><path d="M149.2,944.6 L157.2,939.9 L150,937.5 L142,942.3Z" fill="#00fedc"/><path d="M287.1,914.1 L294.4,908.2 L286.3,906.6 L279,912.6Z" fill="#00fa06"/><path d="M202.4,938.3 L210.2,933.3 L202.6,931.3 L194.9,936.5Z" fill="#00fd9f"/><path d="M233.2,931.6 L240.8,926.3 L233,924.5 L225.5,929.9Z" fill="#00fc70"/><path d="M125.9,951.2 L134,946.9 L127,944.5 L118.9,949Z" fill="#00fffa"/><path d="M156.5,946.7 L164.4,942.1 L157.2,939.9 L149.2,944.6Z" fill="#00feda"/><path d="M279.7,919.8 L287.1,914.1 L279,912.6 L271.6,918.4Z" fill="#00fb1e"/><path d="M310.9,910.8 L318.1,904.8 L309.8,903.5 L302.6,909.6Z" fill="#20fb00"/><path d="M141.2,949.1 L149.2,944.6 L142,942.3 L134,946.9Z" fill="#00ffeb"/><path d="M171.8,944.2 L179.6,939.4 L172.3,937.3 L164.4,942.1Z" fill="#00fec8"/><path d="M187.1,941.4 L194.9,936.5 L187.4,934.4 L179.6,939.4Z" fill="#00feb4"/><path d="M217.8,935.1 L225.5,929.9 L217.8,928 L210.2,933.3Z" fill="#00fd88"/><path d="M248.7,927.9 L256.2,922.5 L248.3,920.8 L240.8,926.3Z" fill="#00fc56"/><path d="M264.1,924 L271.6,918.4 L263.6,916.8 L256.2,922.5Z" fill="#00fb3b"/><path d="M295.2,915.5 L302.6,909.6 L294.4,908.2 L287.1,914.1Z" fill="#00fa00"/><path d="M117.7,955.3 L125.9,951.2 L118.9,949 L110.7,953.2Z" fill="#00f7ff"/><path d="M148.4,951.1 L156.5,946.7 L149.2,944.6 L141.2,949.1Z" fill="#00ffe8"/><path d="M194.6,943.2 L202.4,938.3 L194.9,936.5 L187.1,941.4Z" fill="#00fdb0"/><path d="M210.1,940.1 L217.8,935.1 L210.2,933.3 L202.4,938.3Z" fill="#00fd9a"/><path d="M225.6,936.7 L233.2,931.6 L225.5,929.9 L217.8,935.1Z" fill="#00fd83"/><path d="M241.1,933.2 L248.7,927.9 L240.8,926.3 L233.2,931.6Z" fill="#00fc6b"/><path d="M287.8,921.1 L295.2,915.5 L287.1,914.1 L279.7,919.8Z" fill="#00fa18"/><path d="M319.3,911.9 L326.5,906 L318.1,904.8 L310.9,910.8Z" fill="#27fb00"/><path d="M133.1,953.3 L141.2,949.1 L134,946.9 L125.9,951.2Z" fill="#00fff8"/><path d="M163.8,948.7 L171.8,944.2 L164.4,942.1 L156.5,946.7Z" fill="#00fed7"/><path d="M272.2,925.4 L279.7,919.8 L271.6,918.4 L264.1,924Z" fill="#00fb35"/><path d="M303.5,916.6 L310.9,910.8 L302.6,909.6 L295.2,915.5Z" fill="#07fa00"/><path d="M179.2,946 L187.1,941.4 L179.6,939.4 L171.8,944.2Z" fill="#00fec4"/><path d="M256.6,929.4 L264.1,924 L256.2,922.5 L248.7,927.9Z" fill="#00fc50"/><path d="M217.8,941.6 L225.6,936.7 L217.8,935.1 L210.1,940.1Z" fill="#00fd95"/><path d="M140.3,955.3 L148.4,951.1 L141.2,949.1 L133.1,953.3Z" fill="#00fff4"/><path d="M296.1,922.2 L303.5,916.6 L295.2,915.5 L287.8,921.1Z" fill="#00fa0f"/><path d="M109.4,959.2 L117.7,955.3 L110.7,953.2 L102.4,957.1Z" fill="#00ebff"/><path d="M124.8,957.4 L133.1,953.3 L125.9,951.2 L117.7,955.3Z" fill="#00fbff"/><path d="M155.8,953 L163.8,948.7 L156.5,946.7 L148.4,951.1Z" fill="#00fee4"/><path d="M186.7,947.7 L194.6,943.2 L187.1,941.4 L179.2,946Z" fill="#00febf"/><path d="M202.3,944.8 L210.1,940.1 L202.4,938.3 L194.6,943.2Z" fill="#00fdab"/><path d="M233.4,938.2 L241.1,933.2 L233.2,931.6 L225.6,936.7Z" fill="#00fc7d"/><path d="M249,934.5 L256.6,929.4 L248.7,927.9 L241.1,933.2Z" fill="#00fc64"/><path d="M280.4,926.5 L287.8,921.1 L279.7,919.8 L272.2,925.4Z" fill="#00fb2d"/><path d="M311.9,917.6 L319.3,911.9 L310.9,910.8 L303.5,916.6Z" fill="#10fa00"/><path d="M327.8,912.8 L335,906.9 L326.5,906 L319.3,911.9Z" fill="#30fb00"/><path d="M171.2,950.5 L179.2,946 L171.8,944.2 L163.8,948.7Z" fill="#00fed2"/><path d="M264.7,930.6 L272.2,925.4 L264.1,924 L256.6,929.4Z" fill="#00fb49"/><path d="M132.1,959.2 L140.3,955.3 L133.1,953.3 L124.8,957.4Z" fill="#00fffe"/><path d="M210,946.2 L217.8,941.6 L210.1,940.1 L202.3,944.8Z" fill="#00fda4"/><path d="M225.7,943 L233.4,938.2 L225.6,936.7 L217.8,941.6Z" fill="#00fd8d"/><path d="M304.5,923.1 L311.9,917.6 L303.5,916.6 L296.1,922.2Z" fill="#00fa06"/><path d="M101,962.9 L109.4,959.2 L102.4,957.1 L94,960.9Z" fill="#00e1ff"/><path d="M147.6,957.1 L155.8,953 L148.4,951.1 L140.3,955.3Z" fill="#00ffef"/><path d="M178.8,952.1 L186.7,947.7 L179.2,946 L171.2,950.5Z" fill="#00fecd"/><path d="M257.1,935.7 L264.7,930.6 L256.6,929.4 L249,934.5Z" fill="#00fc5c"/><path d="M288.7,927.5 L296.1,922.2 L287.8,921.1 L280.4,926.5Z" fill="#00fb24"/><path d="M336.4,913.5 L343.7,907.7 L335,906.9 L327.8,912.8Z" fill="#3bfb00"/><path d="M116.5,961.2 L124.8,957.4 L117.7,955.3 L109.4,959.2Z" fill="#00f0ff"/><path d="M163.2,954.7 L171.2,950.5 L163.8,948.7 L155.8,953Z" fill="#00fedf"/><path d="M194.4,949.3 L202.3,944.8 L194.6,943.2 L186.7,947.7Z" fill="#00feb9"/><path d="M241.4,939.4 L249,934.5 L241.1,933.2 L233.4,938.2Z" fill="#00fc75"/><path d="M272.9,931.7 L280.4,926.5 L272.2,925.4 L264.7,930.6Z" fill="#00fb41"/><path d="M320.5,918.4 L327.8,912.8 L319.3,911.9 L311.9,917.6Z" fill="#1afb00"/><path d="M92.5,966.3 L101,962.9 L94,960.9 L85.5,964.4Z" fill="#00daff"/><path d="M123.7,962.9 L132.1,959.2 L124.8,957.4 L116.5,961.2Z" fill="#00f6ff"/><path d="M139.4,960.9 L147.6,957.1 L140.3,955.3 L132.1,959.2Z" fill="#00fff9"/><path d="M170.7,956.2 L178.8,952.1 L171.2,950.5 L163.2,954.7Z" fill="#00fed8"/><path d="M202.1,950.6 L210,946.2 L202.3,944.8 L194.4,949.3Z" fill="#00fdb2"/><path d="M217.8,947.5 L225.7,943 L217.8,941.6 L210,946.2Z" fill="#00fd9c"/><path d="M233.6,944.1 L241.4,939.4 L233.4,938.2 L225.7,943Z" fill="#00fd85"/><path d="M265.3,936.7 L272.9,931.7 L264.7,930.6 L257.1,935.7Z" fill="#00fc52"/><path d="M297.1,928.3 L304.5,923.1 L296.1,922.2 L288.7,927.5Z" fill="#00fb1a"/><path d="M313.1,923.8 L320.5,918.4 L311.9,917.6 L304.5,923.1Z" fill="#05fa00"/><path d="M345.2,914 L352.4,908.3 L343.7,907.7 L336.4,913.5Z" fill="#47fb00"/><path d="M108.1,964.7 L116.5,961.2 L109.4,959.2 L101,962.9Z" fill="#00e7ff"/><path d="M155,958.7 L163.2,954.7 L155.8,953 L147.6,957.1Z" fill="#00ffe9"/><path d="M186.4,953.6 L194.4,949.3 L186.7,947.7 L178.8,952.1Z" fill="#00fec6"/><path d="M249.4,940.5 L257.1,935.7 L249,934.5 L241.4,939.4Z" fill="#00fc6c"/><path d="M281.1,932.6 L288.7,927.5 L280.4,926.5 L272.9,931.7Z" fill="#00fb37"/><path d="M329.1,919 L336.4,913.5 L327.8,912.8 L320.5,918.4Z" fill="#25fb00"/><path d="M115.3,966.4 L123.7,962.9 L116.5,961.2 L108.1,964.7Z" fill="#00eeff"/><path d="M162.5,960.1 L170.7,956.2 L163.2,954.7 L155,958.7Z" fill="#00fee2"/><path d="M194.1,954.8 L202.1,950.6 L194.4,949.3 L186.4,953.6Z" fill="#00febd"/><path d="M241.6,945.1 L249.4,940.5 L241.4,939.4 L233.6,944.1Z" fill="#00fc7b"/><path d="M273.5,937.5 L281.1,932.6 L272.9,931.7 L265.3,936.7Z" fill="#00fb48"/><path d="M321.7,924.3 L329.1,919 L320.5,918.4 L313.1,923.8Z" fill="#11fa00"/><path d="M83.9,969.4 L92.5,966.3 L85.5,964.4 L76.9,967.6Z" fill="#00d5ff"/><path d="M99.6,968 L108.1,964.7 L101,962.9 L92.5,966.3Z" fill="#00e1ff"/><path d="M131,964.5 L139.4,960.9 L132.1,959.2 L123.7,962.9Z" fill="#00feff"/><path d="M146.7,962.4 L155,958.7 L147.6,957.1 L139.4,960.9Z" fill="#00fff2"/><path d="M178.3,957.6 L186.4,953.6 L178.8,952.1 L170.7,956.2Z" fill="#00fed0"/><path d="M209.9,951.8 L217.8,947.5 L210,946.2 L202.1,950.6Z" fill="#00fda9"/><path d="M225.8,948.6 L233.6,944.1 L225.7,943 L217.8,947.5Z" fill="#00fd93"/><path d="M257.6,941.5 L265.3,936.7 L257.1,935.7 L249.4,940.5Z" fill="#00fc62"/><path d="M289.5,933.4 L297.1,928.3 L288.7,927.5 L281.1,932.6Z" fill="#00fb2c"/><path d="M305.6,929 L313.1,923.8 L304.5,923.1 L297.1,928.3Z" fill="#00fa0e"/><path d="M337.9,919.5 L345.2,914 L336.4,913.5 L329.1,919Z" fill="#32fb00"/><path d="M354.1,914.3 L361.3,908.7 L352.4,908.3 L345.2,914Z" fill="#54fc00"/><path d="M106.7,969.6 L115.3,966.4 L108.1,964.7 L99.6,968Z" fill="#00e9ff"/><path d="M154.2,963.8 L162.5,960.1 L155,958.7 L146.7,962.4Z" fill="#00ffe9"/><path d="M186,958.8 L194.1,954.8 L186.4,953.6 L178.3,957.6Z" fill="#00fec7"/><path d="M249.8,946 L257.6,941.5 L249.4,940.5 L241.6,945.1Z" fill="#00fc70"/><path d="M281.9,938.2 L289.5,933.4 L281.1,932.6 L273.5,937.5Z" fill="#00fb3c"/><path d="M330.5,924.7 L337.9,919.5 L329.1,919 L321.7,924.3Z" fill="#1efb00"/><path d="M75.1,972.4 L83.9,969.4 L76.9,967.6 L68.2,970.6Z" fill="#00d2ff"/><path d="M122.5,967.9 L131,964.5 L123.7,962.9 L115.3,966.4Z" fill="#00f7ff"/><path d="M170.1,961.4 L178.3,957.6 L170.7,956.2 L162.5,960.1Z" fill="#00fed9"/><path d="M201.9,955.9 L209.9,951.8 L202.1,950.6 L194.1,954.8Z" fill="#00feb3"/><path d="M233.8,949.5 L241.6,945.1 L233.6,944.1 L225.8,948.6Z" fill="#00fd88"/><path d="M265.8,942.2 L273.5,937.5 L265.3,936.7 L257.6,941.5Z" fill="#00fc57"/><path d="M314.2,929.4 L321.7,924.3 L313.1,923.8 L305.6,929Z" fill="#00fa01"/><path d="M363.1,914.5 L370.4,909 L361.3,908.7 L354.1,914.3Z" fill="#62fc00"/><path d="M90.9,971.1 L99.6,968 L92.5,966.3 L83.9,969.4Z" fill="#00ddff"/><path d="M138.4,965.9 L146.7,962.4 L139.4,960.9 L131,964.5Z" fill="#00fff8"/><path d="M217.8,952.8 L225.8,948.6 L217.8,947.5 L209.9,951.8Z" fill="#00fd9e"/><path d="M298.1,933.9 L305.6,929 L297.1,928.3 L289.5,933.4Z" fill="#00fb1f"/><path d="M346.8,919.7 L354.1,914.3 L345.2,914 L337.9,919.5Z" fill="#3ffb00"/><path d="M177.8,962.5 L186,958.8 L178.3,957.6 L170.1,961.4Z" fill="#00fecf"/><path d="M258.1,946.6 L265.8,942.2 L257.6,941.5 L249.8,946Z" fill="#00fc64"/><path d="M66.2,975 L75.1,972.4 L68.2,970.6 L59.3,973.4Z" fill="#00d1ff"/><path d="M98.1,972.6 L106.7,969.6 L99.6,968 L90.9,971.1Z" fill="#00e6ff"/><path d="M114,971 L122.5,967.9 L115.3,966.4 L106.7,969.6Z" fill="#00f3ff"/><path d="M145.8,967.2 L154.2,963.8 L146.7,962.4 L138.4,965.9Z" fill="#00ffef"/><path d="M161.8,964.9 L170.1,961.4 L162.5,960.1 L154.2,963.8Z" fill="#00fedf"/><path d="M193.8,959.8 L201.9,955.9 L194.1,954.8 L186,958.8Z" fill="#00febc"/><path d="M241.9,950.2 L249.8,946 L241.6,945.1 L233.8,949.5Z" fill="#00fc7c"/><path d="M274.2,942.7 L281.9,938.2 L273.5,937.5 L265.8,942.2Z" fill="#00fb4a"/><path d="M290.4,938.6 L298.1,933.9 L289.5,933.4 L281.9,938.2Z" fill="#00fb2e"/><path d="M323,929.6 L330.5,924.7 L321.7,924.3 L314.2,929.4Z" fill="#0dfa00"/><path d="M339.4,924.8 L346.8,919.7 L337.9,919.5 L330.5,924.7Z" fill="#2dfb00"/><path d="M372.3,914.4 L379.5,909 L370.4,909 L363.1,914.5Z" fill="#72fc00"/><path d="M82.2,973.9 L90.9,971.1 L83.9,969.4 L75.1,972.4Z" fill="#00dbff"/><path d="M129.9,969.2 L138.4,965.9 L131,964.5 L122.5,967.9Z" fill="#00fffd"/><path d="M209.8,956.8 L217.8,952.8 L209.9,951.8 L201.9,955.9Z" fill="#00fda8"/><path d="M225.9,953.6 L233.8,949.5 L225.8,948.6 L217.8,952.8Z" fill="#00fd93"/><path d="M306.7,934.2 L314.2,929.4 L305.6,929 L298.1,933.9Z" fill="#00fa11"/><path d="M355.8,919.7 L363.1,914.5 L354.1,914.3 L346.8,919.7Z" fill="#4ffc00"/><path d="M169.5,965.9 L177.8,962.5 L170.1,961.4 L161.8,964.9Z" fill="#00fed4"/><path d="M266.5,947 L274.2,942.7 L265.8,942.2 L258.1,946.6Z" fill="#00fc56"/><path d="M89.3,975.3 L98.1,972.6 L90.9,971.1 L82.2,973.9Z" fill="#00e5ff"/><path d="M137.4,970.4 L145.8,967.2 L138.4,965.9 L129.9,969.2Z" fill="#00fff3"/><path d="M185.6,963.4 L193.8,959.8 L186,958.8 L177.8,962.5Z" fill="#00fec3"/><path d="M250.2,950.8 L258.1,946.6 L249.8,946 L241.9,950.2Z" fill="#00fc6f"/><path d="M299.1,938.8 L306.7,934.2 L298.1,933.9 L290.4,938.6Z" fill="#00fb1f"/><path d="M348.4,924.7 L355.8,919.7 L346.8,919.7 L339.4,924.8Z" fill="#3dfb00"/><path d="M73.3,976.5 L82.2,973.9 L75.1,972.4 L66.2,975Z" fill="#00dbff"/><path d="M105.3,973.9 L114,971 L106.7,969.6 L98.1,972.6Z" fill="#00f1ff"/><path d="M121.3,972.2 L129.9,969.2 L122.5,967.9 L114,971Z" fill="#00feff"/><path d="M153.4,968.3 L161.8,964.9 L154.2,963.8 L145.8,967.2Z" fill="#00fee4"/><path d="M201.7,960.6 L209.8,956.8 L201.9,955.9 L193.8,959.8Z" fill="#00fdb0"/><path d="M217.8,957.5 L225.9,953.6 L217.8,952.8 L209.8,956.8Z" fill="#00fd9c"/><path d="M234,954.3 L241.9,950.2 L233.8,949.5 L225.9,953.6Z" fill="#00fd86"/><path d="M282.8,943.1 L290.4,938.6 L281.9,938.2 L274.2,942.7Z" fill="#00fb3b"/><path d="M315.5,934.4 L323,929.6 L314.2,929.4 L306.7,934.2Z" fill="#00fa02"/><path d="M331.9,929.7 L339.4,924.8 L330.5,924.7 L323,929.6Z" fill="#1dfb00"/><path d="M365,919.5 L372.3,914.4 L363.1,914.5 L355.8,919.7Z" fill="#5ffc00"/><path d="M80.4,977.8 L89.3,975.3 L82.2,973.9 L73.3,976.5Z" fill="#00e7ff"/><path d="M128.8,973.3 L137.4,970.4 L129.9,969.2 L121.3,972.2Z" fill="#00fff5"/><path d="M161.1,969.1 L169.5,965.9 L161.8,964.9 L153.4,968.3Z" fill="#00fed8"/><path d="M177.3,966.7 L185.6,963.4 L177.8,962.5 L169.5,965.9Z" fill="#00fec8"/><path d="M258.6,951.1 L266.5,947 L258.1,946.6 L250.2,950.8Z" fill="#00fc60"/><path d="M275,947.3 L282.8,943.1 L274.2,942.7 L266.5,947Z" fill="#00fb47"/><path d="M307.9,938.9 L315.5,934.4 L306.7,934.2 L299.1,938.8Z" fill="#00fa0f"/><path d="M357.6,924.5 L365,919.5 L355.8,919.7 L348.4,924.7Z" fill="#4ffc00"/><path d="M96.5,976.5 L105.3,973.9 L98.1,972.6 L89.3,975.3Z" fill="#00f1ff"/><path d="M144.9,971.3 L153.4,968.3 L145.8,967.2 L137.4,970.4Z" fill="#00ffe7"/><path d="M193.5,964.1 L201.7,960.6 L193.8,959.8 L185.6,963.4Z" fill="#00feb6"/><path d="M209.7,961.2 L217.8,957.5 L209.8,956.8 L201.7,960.6Z" fill="#00fda3"/><path d="M226,958.1 L234,954.3 L225.9,953.6 L217.8,957.5Z" fill="#00fd8e"/><path d="M242.3,954.7 L250.2,950.8 L241.9,950.2 L234,954.3Z" fill="#00fc78"/><path d="M291.4,943.2 L299.1,938.8 L290.4,938.6 L282.8,943.1Z" fill="#00fb2c"/><path d="M340.9,929.5 L348.4,924.7 L339.4,924.8 L331.9,929.7Z" fill="#2efb00"/><path d="M112.6,975 L121.3,972.2 L114,971 L105.3,973.9Z" fill="#00fdff"/><path d="M324.4,934.3 L331.9,929.7 L323,929.6 L315.5,934.4Z" fill="#0efa00"/><path d="M152.6,972.1 L161.1,969.1 L153.4,968.3 L144.9,971.3Z" fill="#00feda"/><path d="M283.6,947.3 L291.4,943.2 L282.8,943.1 L275,947.3Z" fill="#00fb36"/><path d="M87.6,978.9 L96.5,976.5 L89.3,975.3 L80.4,977.8Z" fill="#00f4ff"/><path d="M120,975.9 L128.8,973.3 L121.3,972.2 L112.6,975Z" fill="#00fff4"/><path d="M136.3,974.1 L144.9,971.3 L137.4,970.4 L128.8,973.3Z" fill="#00ffe8"/><path d="M168.8,969.8 L177.3,966.7 L169.5,965.9 L161.1,969.1Z" fill="#00fecb"/><path d="M185.2,967.3 L193.5,964.1 L185.6,963.4 L177.3,966.7Z" fill="#00feba"/><path d="M201.5,964.6 L209.7,961.2 L201.7,960.6 L193.5,964.1Z" fill="#00fda8"/><path d="M217.8,961.6 L226,958.1 L217.8,957.5 L209.7,961.2Z" fill="#00fd94"/><path d="M234.2,958.4 L242.3,954.7 L234,954.3 L226,958.1Z" fill="#00fc7f"/><path d="M250.6,954.9 L258.6,951.1 L250.2,950.8 L242.3,954.7Z" fill="#00fc68"/><path d="M267.1,951.2 L275,947.3 L266.5,947 L258.6,951.1Z" fill="#00fc50"/><path d="M300.2,943.1 L307.9,938.9 L299.1,938.8 L291.4,943.2Z" fill="#00fb1b"/><path d="M316.8,938.7 L324.4,934.3 L315.5,934.4 L307.9,938.9Z" fill="#02fa00"/><path d="M350.1,929.1 L357.6,924.5 L348.4,924.7 L340.9,929.5Z" fill="#40fb00"/><path d="M103.8,977.5 L112.6,975 L105.3,973.9 L96.5,976.5Z" fill="#00ffff"/><path d="M333.4,934 L340.9,929.5 L331.9,929.7 L324.4,934.3Z" fill="#20fb00"/><path d="M143.9,974.8 L152.6,972.1 L144.9,971.3 L136.3,974.1Z" fill="#00fedb"/><path d="M292.4,947.1 L300.2,943.1 L291.4,943.2 L283.6,947.3Z" fill="#00fb25"/><path d="M111.2,978.4 L120,975.9 L112.6,975 L103.8,977.5Z" fill="#00fff3"/><path d="M160.3,972.7 L168.8,969.8 L161.1,969.1 L152.6,972.1Z" fill="#00fecc"/><path d="M193.1,967.7 L201.5,964.6 L193.5,964.1 L185.2,967.3Z" fill="#00fdac"/><path d="M209.6,964.9 L217.8,961.6 L209.7,961.2 L201.5,964.6Z" fill="#00fd99"/><path d="M226.1,961.8 L234.2,958.4 L226,958.1 L217.8,961.6Z" fill="#00fd85"/><path d="M242.6,958.5 L250.6,954.9 L242.3,954.7 L234.2,958.4Z" fill="#00fc6f"/><path d="M275.7,951.2 L283.6,947.3 L275,947.3 L267.1,951.2Z" fill="#00fb3f"/><path d="M325.8,938.3 L333.4,934 L324.4,934.3 L316.8,938.7Z" fill="#15fa00"/><path d="M94.9,979.8 L103.8,977.5 L96.5,976.5 L87.6,978.9Z" fill="#00fffc"/><path d="M127.6,976.7 L136.3,974.1 L128.8,973.3 L120,975.9Z" fill="#00ffe7"/><path d="M176.7,970.3 L185.2,967.3 L177.3,966.7 L168.8,969.8Z" fill="#00febd"/><path d="M259.1,955 L267.1,951.2 L258.6,951.1 L250.6,954.9Z" fill="#00fc58"/><path d="M309.1,942.9 L316.8,938.7 L307.9,938.9 L300.2,943.1Z" fill="#00fa09"/><path d="M342.6,933.6 L350.1,929.1 L340.9,929.5 L333.4,934Z" fill="#33fb00"/><path d="M102.2,980.5 L111.2,978.4 L103.8,977.5 L94.9,979.8Z" fill="#00ffef"/><path d="M135.2,977.3 L143.9,974.8 L136.3,974.1 L127.6,976.7Z" fill="#00fed9"/><path d="M151.7,975.3 L160.3,972.7 L152.6,972.1 L143.9,974.8Z" fill="#00fecc"/><path d="M201.3,967.9 L209.6,964.9 L201.5,964.6 L193.1,967.7Z" fill="#00fd9b"/><path d="M217.8,965 L226.1,961.8 L217.8,961.6 L209.6,964.9Z" fill="#00fd88"/><path d="M234.5,961.8 L242.6,958.5 L234.2,958.4 L226.1,961.8Z" fill="#00fc73"/><path d="M284.5,950.9 L292.4,947.1 L283.6,947.3 L275.7,951.2Z" fill="#00fb2c"/><path d="M301.3,946.8 L309.1,942.9 L300.2,943.1 L292.4,947.1Z" fill="#00fa11"/><path d="M335,937.8 L342.6,933.6 L333.4,934 L325.8,938.3Z" fill="#29fb00"/><path d="M118.7,979 L127.6,976.7 L120,975.9 L111.2,978.4Z" fill="#00fee5"/><path d="M168.2,973.1 L176.7,970.3 L168.8,969.8 L160.3,972.7Z" fill="#00febd"/><path d="M184.7,970.6 L193.1,967.7 L185.2,967.3 L176.7,970.3Z" fill="#00fdad"/><path d="M251.1,958.4 L259.1,955 L250.6,954.9 L242.6,958.5Z" fill="#00fc5d"/><path d="M267.8,954.8 L275.7,951.2 L267.1,951.2 L259.1,955Z" fill="#00fb45"/><path d="M318.1,942.4 L325.8,938.3 L316.8,938.7 L309.1,942.9Z" fill="#0bfa00"/><path d="M126.3,979.4 L135.2,977.3 L127.6,976.7 L118.7,979Z" fill="#00fed5"/><path d="M209.5,967.9 L217.8,965 L209.6,964.9 L201.3,967.9Z" fill="#00fd8a"/><path d="M226.2,964.9 L234.5,961.8 L226.1,961.8 L217.8,965Z" fill="#00fc76"/><path d="M310.3,946.2 L318.1,942.4 L309.1,942.9 L301.3,946.8Z" fill="#03fa00"/><path d="M109.7,981 L118.7,979 L111.2,978.4 L102.2,980.5Z" fill="#00fee0"/><path d="M142.9,977.6 L151.7,975.3 L143.9,974.8 L135.2,977.3Z" fill="#00fec9"/><path d="M159.5,975.5 L168.2,973.1 L160.3,972.7 L151.7,975.3Z" fill="#00febb"/><path d="M176.2,973.2 L184.7,970.6 L176.7,970.3 L168.2,973.1Z" fill="#00fdac"/><path d="M192.8,970.7 L201.3,967.9 L193.1,967.7 L184.7,970.6Z" fill="#00fd9c"/><path d="M242.9,961.7 L251.1,958.4 L242.6,958.5 L234.5,961.8Z" fill="#00fc61"/><path d="M259.7,958.2 L267.8,954.8 L259.1,955 L251.1,958.4Z" fill="#00fb4a"/><path d="M276.5,954.4 L284.5,950.9 L275.7,951.2 L267.8,954.8Z" fill="#00fb32"/><path d="M293.4,950.4 L301.3,946.8 L292.4,947.1 L284.5,950.9Z" fill="#00fa18"/><path d="M327.3,941.7 L335,937.8 L325.8,938.3 L318.1,942.4Z" fill="#20fb00"/><path d="M117.3,981.4 L126.3,979.4 L118.7,979 L109.7,981Z" fill="#00fed0"/><path d="M217.8,967.7 L226.2,964.9 L217.8,965 L209.5,967.9Z" fill="#00fc77"/><path d="M319.5,945.4 L327.3,941.7 L318.1,942.4 L310.3,946.2Z" fill="#19fa00"/><path d="M134,979.7 L142.9,977.6 L135.2,977.3 L126.3,979.4Z" fill="#00fec5"/><path d="M167.5,975.6 L176.2,973.2 L168.2,973.1 L159.5,975.5Z" fill="#00fdaa"/><path d="M184.3,973.2 L192.8,970.7 L184.7,970.6 L176.2,973.2Z" fill="#00fd9a"/><path d="M201,970.6 L209.5,967.9 L201.3,967.9 L192.8,970.7Z" fill="#00fd89"/><path d="M234.7,964.6 L242.9,961.7 L234.5,961.8 L226.2,964.9Z" fill="#00fc63"/><path d="M251.6,961.3 L259.7,958.2 L251.1,958.4 L242.9,961.7Z" fill="#00fc4d"/><path d="M268.5,957.7 L276.5,954.4 L267.8,954.8 L259.7,958.2Z" fill="#00fb36"/><path d="M302.4,949.7 L310.3,946.2 L301.3,946.8 L293.4,950.4Z" fill="#00fa03"/><path d="M150.8,977.8 L159.5,975.5 L151.7,975.3 L142.9,977.6Z" fill="#00feb8"/><path d="M285.4,953.8 L293.4,950.4 L284.5,950.9 L276.5,954.4Z" fill="#00fb1d"/><path d="M125,981.5 L134,979.7 L126.3,979.4 L117.3,981.4Z" fill="#00febe"/><path d="M175.6,975.5 L184.3,973.2 L176.2,973.2 L167.5,975.6Z" fill="#00fd97"/><path d="M192.5,973 L201,970.6 L192.8,970.7 L184.3,973.2Z" fill="#00fd87"/><path d="M209.4,970.3 L217.8,967.7 L209.5,967.9 L201,970.6Z" fill="#00fc75"/><path d="M226.3,967.3 L234.7,964.6 L226.2,964.9 L217.8,967.7Z" fill="#00fc62"/><path d="M243.3,964.1 L251.6,961.3 L242.9,961.7 L234.7,964.6Z" fill="#00fc4e"/><path d="M260.3,960.7 L268.5,957.7 L259.7,958.2 L251.6,961.3Z" fill="#00fb38"/><path d="M311.6,948.8 L319.5,945.4 L310.3,946.2 L302.4,949.7Z" fill="#14fa00"/><path d="M141.8,979.7 L150.8,977.8 L142.9,977.6 L134,979.7Z" fill="#00feb3"/><path d="M158.7,977.7 L167.5,975.6 L159.5,975.5 L150.8,977.8Z" fill="#00fda6"/><path d="M277.4,957 L285.4,953.8 L276.5,954.4 L268.5,957.7Z" fill="#00fb20"/><path d="M294.5,953 L302.4,949.7 L293.4,950.4 L285.4,953.8Z" fill="#00fa07"/><path d="M183.8,975.1 L192.5,973 L184.3,973.2 L175.6,975.5Z" fill="#00fd83"/><path d="M200.8,972.6 L209.4,970.3 L201,970.6 L192.5,973Z" fill="#00fc72"/><path d="M234.9,966.7 L243.3,964.1 L234.7,964.6 L226.3,967.3Z" fill="#00fc4d"/><path d="M252.1,963.4 L260.3,960.7 L251.6,961.3 L243.3,964.1Z" fill="#00fb38"/><path d="M132.8,981.4 L141.8,979.7 L134,979.7 L125,981.5Z" fill="#00fdab"/><path d="M149.8,979.6 L158.7,977.7 L150.8,977.8 L141.8,979.7Z" fill="#00fd9f"/><path d="M166.8,977.5 L175.6,975.5 L167.5,975.6 L158.7,977.7Z" fill="#00fd92"/><path d="M217.9,969.8 L226.3,967.3 L217.8,967.7 L209.4,970.3Z" fill="#00fc60"/><path d="M269.2,959.8 L277.4,957 L268.5,957.7 L260.3,960.7Z" fill="#00fb21"/><path d="M286.4,956 L294.5,953 L285.4,953.8 L277.4,957Z" fill="#00fa09"/><path d="M303.7,952 L311.6,948.8 L302.4,949.7 L294.5,953Z" fill="#10fa00"/><path d="M192.1,974.6 L200.8,972.6 L192.5,973 L183.8,975.1Z" fill="#00fc6d"/><path d="M243.7,965.8 L252.1,963.4 L243.3,964.1 L234.9,966.7Z" fill="#00fb36"/><path d="M140.7,981.1 L149.8,979.6 L141.8,979.7 L132.8,981.4Z" fill="#00fd97"/><path d="M157.8,979.2 L166.8,977.5 L158.7,977.7 L149.8,979.6Z" fill="#00fd8b"/><path d="M175,977 L183.8,975.1 L175.6,975.5 L166.8,977.5Z" fill="#00fc7d"/><path d="M209.3,971.9 L217.9,969.8 L209.4,970.3 L200.8,972.6Z" fill="#00fc5c"/><path d="M226.5,969 L234.9,966.7 L226.3,967.3 L217.9,969.8Z" fill="#00fb4a"/><path d="M261,962.4 L269.2,959.8 L260.3,960.7 L252.1,963.4Z" fill="#00fb20"/><path d="M278.3,958.8 L286.4,956 L277.4,957 L269.2,959.8Z" fill="#00fa09"/><path d="M295.6,954.9 L303.7,952 L294.5,953 L286.4,956Z" fill="#0ffa00"/><path d="M148.8,980.6 L157.8,979.2 L149.8,979.6 L140.7,981.1Z" fill="#00fd82"/><path d="M166,978.6 L175,977 L166.8,977.5 L157.8,979.2Z" fill="#00fc75"/><path d="M183.3,976.3 L192.1,974.6 L183.8,975.1 L175,977Z" fill="#00fc66"/><path d="M200.5,973.8 L209.3,971.9 L200.8,972.6 L192.1,974.6Z" fill="#00fc56"/><path d="M217.9,971 L226.5,969 L217.9,969.8 L209.3,971.9Z" fill="#00fb45"/><path d="M235.2,968 L243.7,965.8 L234.9,966.7 L226.5,969Z" fill="#00fb32"/><path d="M252.6,964.8 L261,962.4 L252.1,963.4 L243.7,965.8Z" fill="#00fb1e"/><path d="M270,961.2 L278.3,958.8 L269.2,959.8 L261,962.4Z" fill="#00fa08"/><path d="M287.4,957.5 L295.6,954.9 L286.4,956 L278.3,958.8Z" fill="#10fa00"/><path d="M156.9,979.9 L166,978.6 L157.8,979.2 L148.8,980.6Z" fill="#00fc6b"/><path d="M174.3,977.8 L183.3,976.3 L175,977 L166,978.6Z" fill="#00fc5e"/><path d="M209.1,972.8 L217.9,971 L209.3,971.9 L200.5,973.8Z" fill="#00fb3e"/><path d="M226.6,969.9 L235.2,968 L226.5,969 L217.9,971Z" fill="#00fb2c"/><path d="M261.6,963.4 L270,961.2 L261,962.4 L252.6,964.8Z" fill="#00fa04"/><path d="M279.2,959.8 L287.4,957.5 L278.3,958.8 L270,961.2Z" fill="#12fa00"/><path d="M191.7,975.4 L200.5,973.8 L192.1,974.6 L183.3,976.3Z" fill="#00fc4f"/><path d="M244.1,966.8 L252.6,964.8 L243.7,965.8 L235.2,968Z" fill="#00fa19"/><path d="M165.2,978.9 L174.3,977.8 L166,978.6 L156.9,979.9Z" fill="#00fc53"/><path d="M182.7,976.7 L191.7,975.4 L183.3,976.3 L174.3,977.8Z" fill="#00fb45"/><path d="M200.3,974.2 L209.1,972.8 L200.5,973.8 L191.7,975.4Z" fill="#00fb36"/><path d="M217.9,971.5 L226.6,969.9 L217.9,971 L209.1,972.8Z" fill="#00fb25"/><path d="M235.5,968.6 L244.1,966.8 L235.2,968 L226.6,969.9Z" fill="#00fa12"/><path d="M253.1,965.4 L261.6,963.4 L252.6,964.8 L244.1,966.8Z" fill="#01fa00"/><path d="M270.8,961.9 L279.2,959.8 L270,961.2 L261.6,963.4Z" fill="#17fa00"/><path d="M173.6,977.7 L182.7,976.7 L174.3,977.8 L165.2,978.9Z" fill="#00fb39"/><path d="M191.3,975.4 L200.3,974.2 L191.7,975.4 L182.7,976.7Z" fill="#00fb2b"/><path d="M209,972.9 L217.9,971.5 L209.1,972.8 L200.3,974.2Z" fill="#00fb1b"/><path d="M226.7,970 L235.5,968.6 L226.6,969.9 L217.9,971.5Z" fill="#00fa0a"/><path d="M244.5,967 L253.1,965.4 L244.1,966.8 L235.5,968.6Z" fill="#09fa00"/><path d="M262.3,963.7 L270.8,961.9 L261.6,963.4 L253.1,965.4Z" fill="#1dfb00"/><path d="M182.2,976.3 L191.3,975.4 L182.7,976.7 L173.6,977.7Z" fill="#00fb1f"/><path d="M200,973.9 L209,972.9 L200.3,974.2 L191.3,975.4Z" fill="#00fa10"/><path d="M217.9,971.2 L226.7,970 L217.9,971.5 L209,972.9Z" fill="#00fa00"/><path d="M235.8,968.3 L244.5,967 L235.5,968.6 L226.7,970Z" fill="#12fa00"/><path d="M253.7,965.2 L262.3,963.7 L253.1,965.4 L244.5,967Z" fill="#25fb00"/><path d="M190.9,974.6 L200,973.9 L191.3,975.4 L182.2,976.3Z" fill="#00fa03"/><path d="M244.9,966.3 L253.7,965.2 L244.5,967 L235.8,968.3Z" fill="#30fb00"/><path d="M208.9,972.1 L217.9,971.2 L209,972.9 L200,973.9Z" fill="#0dfa00"/><path d="M226.9,969.4 L235.8,968.3 L226.7,970 L217.9,971.2Z" fill="#1dfb00"/><path d="M199.7,972.7 L208.9,972.1 L200,973.9 L190.9,974.6Z" fill="#1bfb00"/><path d="M217.9,970.1 L226.9,969.4 L217.9,971.2 L208.9,972.1Z" fill="#2bfb00"/><path d="M236.1,967.2 L244.9,966.3 L235.8,968.3 L226.9,969.4Z" fill="#3cfb00"/><path d="M208.7,970.5 L217.9,970.1 L208.9,972.1 L199.7,972.7Z" fill="#3afb00"/><path d="M227,967.8 L236.1,967.2 L226.9,969.4 L217.9,970.1Z" fill="#4afb00"/><path d="M217.9,968 L227,967.8 L217.9,970.1 L208.7,970.5Z" fill="#5afc00"/></g>
<text x="53.96" y="1003.67" text-anchor="end" font-size="12.04" fill="#333">8</text>
<text x="52.85" y="980.54" text-anchor="end" font-size="12.04" fill="#333">10</text>
<text x="51.74" y="957.42" text-anchor="end" font-size="12.04" fill="#333">12</text>
<text x="50.63" y="934.3" text-anchor="end" font-size="12.04" fill="#333">14</text>
<text x="49.52" y="911.17" text-anchor="end" font-size="12.04" fill="#333">16</text>
<text x="48.41" y="888.05" text-anchor="end" font-size="12.04" fill="#333">18</text>
<text x="47.3" y="864.93" text-anchor="end" font-size="12.04" fill="#333">20</text>
<text x="46.19" y="841.81" text-anchor="end" font-size="12.04" fill="#333">22</text>
<text x="210.22" y="1145.11" text-anchor="end" font-size="12.04" fill="#333">2</text>
<text x="171.62" y="1126.66" text-anchor="end" font-size="12.04" fill="#333">4</text>
<text x="133.01" y="1108.21" text-anchor="end" font-size="12.04" fill="#333">6</text>
<text x="94.41" y="1089.75" text-anchor="end" font-size="12.04" fill="#333">8</text>
<text x="55.8" y="1071.3" text-anchor="end" font-size="12.04" fill="#333">10</text>
<text x="224.99" y="1145.11" text-anchor="start" font-size="12.04" fill="#333">0.13</text>
<text x="255.87" y="1130.35" text-anchor="start" font-size="12.04" fill="#333">0.136</text>
<text x="286.76" y="1115.59" text-anchor="start" font-size="12.04" fill="#333">0.142</text>
<text x="317.64" y="1100.82" text-anchor="start" font-size="12.04" fill="#333">0.148</text>
<text x="348.52" y="1086.06" text-anchor="start" font-size="12.04" fill="#333">0.154</text>
<text x="379.41" y="1071.3" text-anchor="start" font-size="12.04" fill="#333">0.16</text>
<g fill="#000"><circle cx="60.95" cy="1007.55" r="1.6"/><circle cx="59.84" cy="984.43" r="1.6"/><circle cx="58.73" cy="961.3" r="1.6"/><circle cx="57.62" cy="938.18" r="1.6"/><circle cx="56.51" cy="915.06" r="1.6"/><circle cx="55.4" cy="891.94" r="1.6"/><circle cx="54.29" cy="868.81" r="1.6"/><circle cx="53.18" cy="845.69" r="1.6"/><circle cx="217.8" cy="1132" r="1.6"/><circle cx="179.19" cy="1113.55" r="1.6"/><circle cx="140.59" cy="1095.09" r="1.6"/><circle cx="101.98" cy="1076.64" r="1.6"/><circle cx="63.38" cy="1058.19" r="1.6"/><circle cx="248.68" cy="1117.24" r="1.6"/><circle cx="279.57" cy="1102.48" r="1.6"/><circle cx="310.45" cy="1087.71" r="1.6"/><circle cx="341.34" cy="1072.95" r="1.6"/><circle cx="372.22" cy="1058.19" r="1.6"/></g>
<text x="80.86" y="1132.1" text-anchor="middle" font-size="14.57" fill="#333">B: Ar</text>
<text x="354.74" y="1132.1" text-anchor="middle" font-size="14.57" fill="#333">A: D1 (cm)</text>
<text transform="translate(11.81,955.44) rotate(-90)" text-anchor="middle" font-size="14.57" fill="#333">U (m/s)</text>
<g shape-rendering="crispEdges"><rect x="471.4" y="15.1" width="297.9" height="3.61" fill="url(#a0)"/><rect x="471.4" y="18.11" width="297.9" height="3.61" fill="url(#a1)"/><rect x="471.4" y="21.11" width="297.9" height="3.61" fill="url(#a2)"/><rect x="471.4" y="24.12" width="297.9" height="3.61" fill="url(#a3)"/><rect x="471.4" y="27.12" width="297.9" height="3.61" fill="url(#a4)"/><rect x="471.4" y="30.13" width="297.9" height="3.61" fill="url(#a5)"/><rect x="471.4" y="33.13" width="297.9" height="3.61" fill="url(#a6)"/><rect x="471.4" y="36.14" width="297.9" height="3.61" fill="url(#a7)"/><rect x="471.4" y="39.14" width="297.9" height="3.61" fill="url(#a8)"/><rect x="471.4" y="42.15" width="297.9" height="3.61" fill="url(#a9)"/><rect x="471.4" y="45.15" width="297.9" height="3.61" fill="url(#a10)"/><rect x="471.4" y="48.16" width="297.9" height="3.61" fill="url(#a11)"/><rect x="471.4" y="51.16" width="297.9" height="3.61" fill="url(#a12)"/><rect x="471.4" y="54.17" width="297.9" height="3.61" fill="url(#a13)"/><rect x="471.4" y="57.17" width="297.9" height="3.61" fill="url(#a14)"/><rect x="471.4" y="60.18" width="297.9" height="3.61" fill="url(#a15)"/><rect x="471.4" y="63.18" width="297.9" height="3.61" fill="url(#a16)"/><rect x="471.4" y="66.19" width="297.9" height="3.61" fill="url(#a17)"/><rect x="471.4" y="69.19" width="297.9" height="3.61" fill="url(#a18)"/><rect x="471.4" y="72.2" width="297.9" height="3.61" fill="url(#a19)"/><rect x="471.4" y="75.2" width="297.9" height="3.61" fill="url(#a20)"/><rect x="471.4" y="78.21" width="297.9" height="3.61" fill="url(#a21)"/><rect x="471.4" y="81.21" width="297.9" height="3.61" fill="url(#a22)"/><rect x="471.4" y="84.22" width="297.9" height="3.61" fill="url(#a23)"/><rect x="471.4" y="87.22" width="297.9" height="3.61" fill="url(#a24)"/><rect x="471.4" y="90.23" width="297.9" height="3.61" fill="url(#a25)"/><rect x="471.4" y="93.23" width="297.9" height="3.61" fill="url(#a26)"/><rect x="471.4" y="96.24" width="297.9" height="3.61" fill="url(#a27)"/><rect x="471.4" y="99.24" width="297.9" height="3.61" fill="url(#a28)"/><rect x="471.4" y="102.25" width="297.9" height="3.61" fill="url(#a29)"/><rect x="471.4" y="105.25" width="297.9" height="3.61" fill="url(#a30)"/><rect x="471.4" y="108.26" width="297.9" height="3.61" fill="url(#a31)"/><rect x="471.4" y="111.26" width="297.9" height="3.61" fill="url(#a32)"/><rect x="471.4" y="114.27" width="297.9" height="3.61" fill="url(#a33)"/><rect x="471.4" y="117.27" width="297.9" height="3.61" fill="url(#a34)"/><rect x="471.4" y="120.28" width="297.9" height="3.61" fill="url(#a35)"/><rect x="471.4" y="123.28" width="297.9" height="3.61" fill="url(#a36)"/><rect x="471.4" y="126.29" width="297.9" height="3.61" fill="url(#a37)"/><rect x="471.4" y="129.29" width="297.9" height="3.61" fill="url(#a38)"/><rect x="471.4" y="132.3" width="297.9" height="3.61" fill="url(#a39)"/><rect x="471.4" y="135.3" width="297.9" height="3.61" fill="url(#a40)"/><rect x="471.4" y="138.31" width="297.9" height="3.61" fill="url(#a41)"/><rect x="471.4" y="141.31" width="297.9" height="3.61" fill="url(#a42)"/><rect x="471.4" y="144.32" width="297.9" height="3.61" fill="url(#a43)"/><rect x="471.4" y="147.32" width="297.9" height="3.61" fill="url(#a44)"/><rect x="471.4" y="150.33" width="297.9" height="3.61" fill="url(#a45)"/><rect x="471.4" y="153.33" width="297.9" height="3.61" fill="url(#a46)"/><rect x="471.4" y="156.34" width="297.9" height="3.61" fill="url(#a47)"/><rect x="471.4" y="159.34" width="297.9" height="3.61" fill="url(#a48)"/><rect x="471.4" y="162.35" width="297.9" height="3.61" fill="url(#a49)"/><rect x="471.4" y="165.35" width="297.9" height="3.61" fill="url(#a50)"/><rect x="471.4" y="168.36" width="297.9" height="3.61" fill="url(#a51)"/><rect x="471.4" y="171.36" width="297.9" height="3.61" fill="url(#a52)"/><rect x="471.4" y="174.37" width="297.9" height="3.61" fill="url(#a53)"/><rect x="471.4" y="177.37" width="297.9" height="3.61" fill="url(#a54)"/><rect x="471.4" y="180.38" width="297.9" height="3.61" fill="url(#a55)"/><rect x="471.4" y="183.38" width="297.9" height="3.61" fill="url(#a56)"/><rect x="471.4" y="186.39" width="297.9" height="3.61" fill="url(#a57)"/><rect x="471.4" y="189.39" width="297.9" height="3.61" fill="url(#a58)"/><rect x="471.4" y="192.4" width="297.9" height="3.61" fill="url(#a59)"/><rect x="471.4" y="195.4" width="297.9" height="3.61" fill="url(#a60)"/><rect x="471.4" y="198.41" width="297.9" height="3.61" fill="url(#a61)"/><rect x="471.4" y="201.41" width="297.9" height="3.61" fill="url(#a62)"/><rect x="471.4" y="204.42" width="297.9" height="3.61" fill="url(#a63)"/><rect x="471.4" y="207.42" width="297.9" height="3.61" fill="url(#a64)"/><rect x="471.4" y="210.43" width="297.9" height="3.61" fill="url(#a65)"/><rect x="471.4" y="213.43" width="297.9" height="3.61" fill="url(#a66)"/><rect x="471.4" y="216.44" width="297.9" height="3.61" fill="url(#a67)"/><rect x="471.4" y="219.44" width="297.9" height="3.61" fill="url(#a68)"/><rect x="471.4" y="222.45" width="297.9" height="3.61" fill="url(#a69)"/><rect x="471.4" y="225.45" width="297.9" height="3.61" fill="url(#a70)"/><rect x="471.4" y="228.46" width="297.9" height="3.61" fill="url(#a71)"/><rect x="471.4" y="231.46" width="297.9" height="3.61" fill="url(#a72)"/><rect x="471.4" y="234.47" width="297.9" height="3.61" fill="url(#a73)"/><rect x="471.4" y="237.47" width="297.9" height="3.61" fill="url(#a74)"/><rect x="471.4" y="240.48" width="297.9" height="3.61" fill="url(#a75)"/><rect x="471.4" y="243.48" width="297.9" height="3.61" fill="url(#a76)"/><rect x="471.4" y="246.49" width="297.9" height="3.61" fill="url(#a77)"/><rect x="471.4" y="249.49" width="297.9" height="3.61" fill="url(#a78)"/><rect x="471.4" y="252.5" width="297.9" height="3.61" fill="url(#a79)"/><rect x="471.4" y="255.5" width="297.9" height="3.61" fill="url(#a80)"/><rect x="471.4" y="258.51" width="297.9" height="3.61" fill="url(#a81)"/><rect x="471.4" y="261.51" width="297.9" height="3.61" fill="url(#a82)"/><rect x="471.4" y="264.52" width="297.9" height="3.61" fill="url(#a83)"/><rect x="471.4" y="267.52" width="297.9" height="3.61" fill="url(#a84)"/><rect x="471.4" y="270.53" width="297.9" height="3.61" fill="url(#a85)"/><rect x="471.4" y="273.53" width="297.9" height="3.61" fill="url(#a86)"/><rect x="471.4" y="276.54" width="297.9" height="3.61" fill="url(#a87)"/><rect x="471.4" y="279.54" width="297.9" height="3.61" fill="url(#a88)"/><rect x="471.4" y="282.55" width="297.9" height="3.61" fill="url(#a89)"/><rect x="471.4" y="285.55" width="297.9" height="3.61" fill="url(#a90)"/><rect x="471.4" y="288.56" width="297.9" height="3.61" fill="url(#a91)"/><rect x="471.4" y="291.56" width="297.9" height="3.61" fill="url(#a92)"/><rect x="471.4" y="294.57" width="297.9" height="3.61" fill="url(#a93)"/><rect x="471.4" y="297.57" width="297.9" height="3.61" fill="url(#a94)"/><rect x="471.4" y="300.58" width="297.9" height="3.61" fill="url(#a95)"/><rect x="471.4" y="303.58" width="297.9" height="3.61" fill="url(#a96)"/><rect x="471.4" y="306.59" width="297.9" height="3.61" fill="url(#a97)"/><rect x="471.4" y="309.59" width="297.9" height="3.01" fill="url(#a98)"/></g>
<path d="M471.4,295.28 L473.88,293.96 L476.36,292.67 L481.17,290.29 L483.81,289.04 L486.5,287.81 L491.26,285.73 L493.74,284.7 L498.44,282.85 L501.19,281.82 L505.31,280.37 L508.64,279.26 L513.04,277.89 L516.09,277 L521.05,275.66 L523.53,275.04 L528.5,273.9 L533.26,272.93 L535.94,272.43 L540.91,271.61 L545.88,270.92 L549.81,270.45 L553.32,270.1 L558.29,269.7 L563.25,269.43 L568.22,269.27 L573.18,269.22 L578.15,269.29 L583.11,269.46 L588.08,269.75 L593.04,270.14 L596.24,270.45 L600.49,270.93 L605.45,271.58 L610.42,272.34 L613.91,272.93 L617.87,273.66 L622.83,274.66 L626.26,275.41 L630.28,276.34 L635.25,277.58 L637.73,278.24 L642.69,279.62 L645.28,280.37 L650.14,281.85 L653.27,282.85 L657.59,284.28 L660.63,285.33 L665.03,286.9 L667.52,287.82 L672.48,289.71 L674.96,290.69 L679.93,292.71 L682.41,293.74 L685.92,295.25 L689.86,296.98 L692.34,298.09 L696.93,300.2 L699.79,301.55 L702.27,302.74 L707.21,305.16 L709.72,306.42 L712.2,307.69 L716.89,310.12 L719.65,311.58 L721.54,312.6 M471.4,205.96 L476.36,203.75 L478.85,202.7 L483,201.04 L486.29,199.79 L489.73,198.56 L493.74,197.2 L497.33,196.08 L501.19,194.95 L506.15,193.62 L508.64,193.01 L513.6,191.9 L517.49,191.12 L521.05,190.48 L526.01,189.7 L530.98,189.05 L534.87,188.64 L538.43,188.33 L543.39,188 L548.36,187.8 L553.32,187.72 L558.29,187.76 L563.25,187.92 L568.22,188.19 L573.18,188.59 L575.66,188.82 L580.63,189.38 L585.59,190.05 L590.56,190.82 L593.04,191.25 L598.01,192.19 L602.97,193.22 L605.45,193.78 L610.42,194.97 L614.7,196.08 L617.87,196.94 L622.83,198.37 L625.31,199.13 L630.28,200.7 L632.76,201.52 L637.73,203.23 L640.21,204.12 L645.17,205.97 L647.66,206.93 L651.55,208.48 L655.11,209.93 L657.59,210.97 L662.55,213.11 L665.03,214.22 L668.75,215.91 L672.48,217.65 L674.96,218.83 L679.13,220.87 L682.41,222.5 L684.89,223.77 L688.87,225.83 L692.34,227.67 L694.82,229 L698.08,230.79 L702.27,233.12 L704.75,234.53 L707.24,235.96 L711.12,238.23 L714.68,240.34 L717.17,241.84 L719.65,243.35 L723.39,245.66 L727.1,247.99 L729.58,249.57 L732.06,251.16 L735.04,253.1 L738.81,255.58 L741.99,257.7 L744.47,259.37 L746.96,261.06 L749.8,263.02 L753.37,265.5 L756.89,267.97 L759.37,269.73 L761.85,271.51 L764.33,273.3 L767.23,275.41 L769.3,276.93 M471.4,111.61 L476.36,109.87 L478.85,109.05 L483.81,107.54 L486.36,106.83 L491.26,105.57 L496.22,104.44 L498.71,103.93 L503.67,103.02 L508.64,102.25 L511.57,101.87 L516.09,101.37 L521.05,100.95 L526.01,100.67 L530.98,100.52 L535.94,100.5 L540.91,100.61 L545.88,100.85 L550.84,101.21 L555.8,101.69 L558.29,101.98 L563.25,102.64 L568.22,103.41 L573.18,104.3 L575.66,104.79 L580.63,105.84 L584.84,106.83 L588.08,107.63 L593.04,108.96 L595.52,109.66 L600.49,111.14 L602.97,111.91 L607.94,113.54 L610.42,114.4 L615.38,116.17 L617.87,117.1 L622.83,119.02 L625.31,120.01 L629.41,121.7 L632.76,123.13 L635.25,124.21 L640.21,126.45 L642.69,127.6 L645.94,129.14 L650.14,131.18 L652.62,132.41 L655.94,134.1 L660.07,136.24 L662.55,137.56 L665.34,139.06 L669.84,141.54 L672.48,143.02 L674.96,144.43 L678.52,146.5 L682.41,148.79 L684.89,150.27 L687.38,151.78 L690.87,153.93 L694.82,156.41 L697.31,157.99 L699.79,159.58 L702.54,161.37 L706.3,163.85 L709.72,166.13 L712.2,167.81 L714.68,169.51 L717.26,171.29 L720.81,173.77 L724.32,176.25 L727.1,178.23 L729.58,180.02 L732.06,181.83 L734.59,183.68 L737.93,186.16 L741.24,188.64 L744.47,191.09 L746.96,192.98 L749.44,194.89 L751.92,196.82 L754.4,198.75 L757.3,201.04 L760.43,203.52 L763.52,206 L766.6,208.48 L769.3,210.67 L769.3,210.67 M570.79,15.1 L575.66,16.6 L578.69,17.58 L583.11,19.08 L585.85,20.06 L590.56,21.81 L593.04,22.77 L598.01,24.76 L600.49,25.8 L604.43,27.5 L607.94,29.05 L610.42,30.18 L615.26,32.45 L617.87,33.72 L620.35,34.94 L625.23,37.41 L627.8,38.75 L630.28,40.06 L634.54,42.37 L637.73,44.13 L640.21,45.53 L643.35,47.33 L647.59,49.81 L650.14,51.33 L652.62,52.83 L655.78,54.77 L659.75,57.25 L662.55,59.02 L665.03,60.62 L667.52,62.24 L671.22,64.68 L674.92,67.16 L677.45,68.88 L679.93,70.59 L682.41,72.31 L685.67,74.6 L689.15,77.08 L692.34,79.38 L694.82,81.19 L697.31,83.01 L699.79,84.85 L702.65,87 L705.92,89.48 L709.16,91.95 L712.2,94.3 L714.68,96.24 L717.17,98.19 L719.65,100.16 L722.13,102.14 L724.88,104.35 L727.93,106.83 L730.96,109.31 L733.96,111.79 L736.94,114.27 L739.51,116.42 L741.99,118.51 L744.47,120.62 L746.96,122.75 L749.44,124.88 L751.92,127.03 L754.4,129.2 L757.17,131.62 L759.98,134.1 L762.77,136.58 L765.54,139.06 L768.3,141.54 L769.3,142.44 M708.84,15.1 L711.65,17.58 L714.45,20.06 L717.17,22.49 L719.65,24.72 L722.13,26.96 L724.62,29.22 L727.1,31.5 L729.58,33.78 L732.06,36.08 L734.54,38.39 L737.03,40.72 L739.51,43.06 L741.99,45.41 L744.47,47.77 L746.96,50.14 L749.44,52.53 L751.92,54.93 L754.4,57.34 L756.89,59.76 L759.38,62.2 L761.9,64.68 L764.4,67.16 L766.9,69.64 L769.3,72.04" fill="none" stroke="#141414" stroke-width="0.8"/>
<rect x="471.4" y="15.1" width="297.9" height="297.5" fill="none" stroke="#3a3a3a" stroke-width="0.8"/>
<path d="M471.4,312.6 v7.3 M530.98,312.6 v7.3 M590.56,312.6 v7.3 M650.14,312.6 v7.3 M709.72,312.6 v7.3 M769.3,312.6 v7.3 M471.4,312.6 h-7.3 M471.4,253.1 h-7.3 M471.4,193.6 h-7.3 M471.4,134.1 h-7.3 M471.4,74.6 h-7.3 M471.4,15.1 h-7.3" stroke="#6a6a6a" stroke-width="1" fill="none"/>
<text x="471.4" y="335.6" text-anchor="middle" font-size="11.6" fill="#3a3a3a">0.13</text>
<text x="530.98" y="335.6" text-anchor="middle" font-size="11.6" fill="#3a3a3a">0.136</text>
<text x="590.56" y="335.6" text-anchor="middle" font-size="11.6" fill="#3a3a3a">0.142</text>
<text x="650.14" y="335.6" text-anchor="middle" font-size="11.6" fill="#3a3a3a">0.148</text>
<text x="709.72" y="335.6" text-anchor="middle" font-size="11.6" fill="#3a3a3a">0.154</text>
<text x="769.3" y="335.6" text-anchor="middle" font-size="11.6" fill="#3a3a3a">0.16</text>
<text x="461.4" y="309.4" text-anchor="end" font-size="11.6" fill="#3a3a3a">0.25</text>
<text x="461.4" y="249.9" text-anchor="end" font-size="11.6" fill="#3a3a3a">0.5</text>
<text x="461.4" y="190.4" text-anchor="end" font-size="11.6" fill="#3a3a3a">0.75</text>
<text x="461.4" y="130.9" text-anchor="end" font-size="11.6" fill="#3a3a3a">1</text>
<text x="461.4" y="71.4" text-anchor="end" font-size="11.6" fill="#3a3a3a">1.25</text>
<text x="461.4" y="11.9" text-anchor="end" font-size="11.6" fill="#3a3a3a">1.5</text>
<text x="620.35" y="359.2" text-anchor="middle" font-size="15" fill="#333">A: D1 (cm)</text>
<text transform="translate(433.9,163.85) rotate(-90)" text-anchor="middle" font-size="15" fill="#333">C: Lr</text>
<text x="619.65" y="9.9" text-anchor="middle" font-size="12.2" fill="#333">U (m/s)</text>
<rect x="734.2" y="35.5" width="10.8" height="8.4" fill="#fff" stroke="#222" stroke-width="0.9"/>
<text x="739.6" y="42.25" text-anchor="middle" font-size="7" fill="#2a2a2a">18</text>
<rect x="674.6" y="62.6" width="10.8" height="8.4" fill="#fff" stroke="#222" stroke-width="0.9"/>
<text x="680" y="69.35" text-anchor="middle" font-size="7" fill="#2a2a2a">16</text>
<rect x="635.55" y="118.3" width="10.8" height="8.4" fill="#fff" stroke="#222" stroke-width="0.9"/>
<text x="640.95" y="125.05" text-anchor="middle" font-size="7" fill="#2a2a2a">14</text>
<rect x="629.6" y="194" width="10.8" height="8.4" fill="#fff" stroke="#222" stroke-width="0.9"/>
<text x="635" y="200.75" text-anchor="middle" font-size="7" fill="#2a2a2a">12</text>
<rect x="599.9" y="263.1" width="10.8" height="8.4" fill="#fff" stroke="#222" stroke-width="0.9"/>
<text x="605.3" y="269.85" text-anchor="middle" font-size="7" fill="#2a2a2a">10</text>
<g shape-rendering="crispEdges"><rect x="474.8" y="411.5" width="297.9" height="3.6" fill="url(#b0)"/><rect x="474.8" y="414.5" width="297.9" height="3.6" fill="url(#b1)"/><rect x="474.8" y="417.51" width="297.9" height="3.6" fill="url(#b2)"/><rect x="474.8" y="420.51" width="297.9" height="3.6" fill="url(#b3)"/><rect x="474.8" y="423.51" width="297.9" height="3.6" fill="url(#b4)"/><rect x="474.8" y="426.52" width="297.9" height="3.6" fill="url(#b5)"/><rect x="474.8" y="429.52" width="297.9" height="3.6" fill="url(#b6)"/><rect x="474.8" y="432.52" width="297.9" height="3.6" fill="url(#b7)"/><rect x="474.8" y="435.52" width="297.9" height="3.6" fill="url(#b8)"/><rect x="474.8" y="438.53" width="297.9" height="3.6" fill="url(#b9)"/><rect x="474.8" y="441.53" width="297.9" height="3.6" fill="url(#b10)"/><rect x="474.8" y="444.53" width="297.9" height="3.6" fill="url(#b11)"/><rect x="474.8" y="447.54" width="297.9" height="3.6" fill="url(#b12)"/><rect x="474.8" y="450.54" width="297.9" height="3.6" fill="url(#b13)"/><rect x="474.8" y="453.54" width="297.9" height="3.6" fill="url(#b14)"/><rect x="474.8" y="456.55" width="297.9" height="3.6" fill="url(#b15)"/><rect x="474.8" y="459.55" width="297.9" height="3.6" fill="url(#b16)"/><rect x="474.8" y="462.55" width="297.9" height="3.6" fill="url(#b17)"/><rect x="474.8" y="465.55" width="297.9" height="3.6" fill="url(#b18)"/><rect x="474.8" y="468.56" width="297.9" height="3.6" fill="url(#b19)"/><rect x="474.8" y="471.56" width="297.9" height="3.6" fill="url(#b20)"/><rect x="474.8" y="474.56" width="297.9" height="3.6" fill="url(#b21)"/><rect x="474.8" y="477.57" width="297.9" height="3.6" fill="url(#b22)"/><rect x="474.8" y="480.57" width="297.9" height="3.6" fill="url(#b23)"/><rect x="474.8" y="483.57" width="297.9" height="3.6" fill="url(#b24)"/><rect x="474.8" y="486.58" width="297.9" height="3.6" fill="url(#b25)"/><rect x="474.8" y="489.58" width="297.9" height="3.6" fill="url(#b26)"/><rect x="474.8" y="492.58" width="297.9" height="3.6" fill="url(#b27)"/><rect x="474.8" y="495.58" width="297.9" height="3.6" fill="url(#b28)"/><rect x="474.8" y="498.59" width="297.9" height="3.6" fill="url(#b29)"/><rect x="474.8" y="501.59" width="297.9" height="3.6" fill="url(#b30)"/><rect x="474.8" y="504.59" width="297.9" height="3.6" fill="url(#b31)"/><rect x="474.8" y="507.6" width="297.9" height="3.6" fill="url(#b32)"/><rect x="474.8" y="510.6" width="297.9" height="3.6" fill="url(#b33)"/><rect x="474.8" y="513.6" width="297.9" height="3.6" fill="url(#b34)"/><rect x="474.8" y="516.61" width="297.9" height="3.6" fill="url(#b35)"/><rect x="474.8" y="519.61" width="297.9" height="3.6" fill="url(#b36)"/><rect x="474.8" y="522.61" width="297.9" height="3.6" fill="url(#b37)"/><rect x="474.8" y="525.62" width="297.9" height="3.6" fill="url(#b38)"/><rect x="474.8" y="528.62" width="297.9" height="3.6" fill="url(#b39)"/><rect x="474.8" y="531.62" width="297.9" height="3.6" fill="url(#b40)"/><rect x="474.8" y="534.62" width="297.9" height="3.6" fill="url(#b41)"/><rect x="474.8" y="537.63" width="297.9" height="3.6" fill="url(#b42)"/><rect x="474.8" y="540.63" width="297.9" height="3.6" fill="url(#b43)"/><rect x="474.8" y="543.63" width="297.9" height="3.6" fill="url(#b44)"/><rect x="474.8" y="546.64" width="297.9" height="3.6" fill="url(#b45)"/><rect x="474.8" y="549.64" width="297.9" height="3.6" fill="url(#b46)"/><rect x="474.8" y="552.64" width="297.9" height="3.6" fill="url(#b47)"/><rect x="474.8" y="555.65" width="297.9" height="3.6" fill="url(#b48)"/><rect x="474.8" y="558.65" width="297.9" height="3.6" fill="url(#b49)"/><rect x="474.8" y="561.65" width="297.9" height="3.6" fill="url(#b50)"/><rect x="474.8" y="564.65" width="297.9" height="3.6" fill="url(#b51)"/><rect x="474.8" y="567.66" width="297.9" height="3.6" fill="url(#b52)"/><rect x="474.8" y="570.66" width="297.9" height="3.6" fill="url(#b53)"/><rect x="474.8" y="573.66" width="297.9" height="3.6" fill="url(#b54)"/><rect x="474.8" y="576.67" width="297.9" height="3.6" fill="url(#b55)"/><rect x="474.8" y="579.67" width="297.9" height="3.6" fill="url(#b56)"/><rect x="474.8" y="582.67" width="297.9" height="3.6" fill="url(#b57)"/><rect x="474.8" y="585.68" width="297.9" height="3.6" fill="url(#b58)"/><rect x="474.8" y="588.68" width="297.9" height="3.6" fill="url(#b59)"/><rect x="474.8" y="591.68" width="297.9" height="3.6" fill="url(#b60)"/><rect x="474.8" y="594.68" width="297.9" height="3.6" fill="url(#b61)"/><rect x="474.8" y="597.69" width="297.9" height="3.6" fill="url(#b62)"/><rect x="474.8" y="600.69" width="297.9" height="3.6" fill="url(#b63)"/><rect x="474.8" y="603.69" width="297.9" height="3.6" fill="url(#b64)"/><rect x="474.8" y="606.7" width="297.9" height="3.6" fill="url(#b65)"/><rect x="474.8" y="609.7" width="297.9" height="3.6" fill="url(#b66)"/><rect x="474.8" y="612.7" width="297.9" height="3.6" fill="url(#b67)"/><rect x="474.8" y="615.71" width="297.9" height="3.6" fill="url(#b68)"/><rect x="474.8" y="618.71" width="297.9" height="3.6" fill="url(#b69)"/><rect x="474.8" y="621.71" width="297.9" height="3.6" fill="url(#b70)"/><rect x="474.8" y="624.72" width="297.9" height="3.6" fill="url(#b71)"/><rect x="474.8" y="627.72" width="297.9" height="3.6" fill="url(#b72)"/><rect x="474.8" y="630.72" width="297.9" height="3.6" fill="url(#b73)"/><rect x="474.8" y="633.72" width="297.9" height="3.6" fill="url(#b74)"/><rect x="474.8" y="636.73" width="297.9" height="3.6" fill="url(#b75)"/><rect x="474.8" y="639.73" width="297.9" height="3.6" fill="url(#b76)"/><rect x="474.8" y="642.73" width="297.9" height="3.6" fill="url(#b77)"/><rect x="474.8" y="645.74" width="297.9" height="3.6" fill="url(#b78)"/><rect x="474.8" y="648.74" width="297.9" height="3.6" fill="url(#b79)"/><rect x="474.8" y="651.74" width="297.9" height="3.6" fill="url(#b80)"/><rect x="474.8" y="654.75" width="297.9" height="3.6" fill="url(#b81)"/><rect x="474.8" y="657.75" width="297.9" height="3.6" fill="url(#b82)"/><rect x="474.8" y="660.75" width="297.9" height="3.6" fill="url(#b83)"/><rect x="474.8" y="663.75" width="297.9" height="3.6" fill="url(#b84)"/><rect x="474.8" y="666.76" width="297.9" height="3.6" fill="url(#b85)"/><rect x="474.8" y="669.76" width="297.9" height="3.6" fill="url(#b86)"/><rect x="474.8" y="672.76" width="297.9" height="3.6" fill="url(#b87)"/><rect x="474.8" y="675.77" width="297.9" height="3.6" fill="url(#b88)"/><rect x="474.8" y="678.77" width="297.9" height="3.6" fill="url(#b89)"/><rect x="474.8" y="681.77" width="297.9" height="3.6" fill="url(#b90)"/><rect x="474.8" y="684.78" width="297.9" height="3.6" fill="url(#b91)"/><rect x="474.8" y="687.78" width="297.9" height="3.6" fill="url(#b92)"/><rect x="474.8" y="690.78" width="297.9" height="3.6" fill="url(#b93)"/><rect x="474.8" y="693.78" width="297.9" height="3.6" fill="url(#b94)"/><rect x="474.8" y="696.79" width="297.9" height="3.6" fill="url(#b95)"/><rect x="474.8" y="699.79" width="297.9" height="3.6" fill="url(#b96)"/><rect x="474.8" y="702.79" width="297.9" height="3.6" fill="url(#b97)"/><rect x="474.8" y="705.8" width="297.9" height="3" fill="url(#b98)"/></g>
<path d="M519.74,708.8 L524.45,706.45 L526.93,705.22 L529.76,703.84 L534.38,701.62 L536.86,700.45 L540.19,698.89 L544.31,696.99 L546.79,695.86 L551.1,693.93 L554.24,692.55 L556.77,691.46 L561.69,689.36 L564.17,688.32 L568.6,686.5 L571.62,685.28 L574.8,684.02 L579.07,682.37 L581.55,681.43 L586.51,679.58 L589,678.68 L593.96,676.92 L596.44,676.06 L601.41,674.39 L603.89,673.58 L608.86,672 L611.34,671.23 L616.3,669.74 L618.79,669.02 L623.75,667.63 L627.28,666.68 L631.2,665.67 L636.16,664.44 L638.64,663.85 L643.61,662.73 L648.35,661.73 L651.06,661.18 L656.02,660.24 L660.99,659.37 L663.47,658.96 L668.44,658.2 L673.4,657.53 L678.37,656.93 L680.85,656.66 L685.81,656.18 L690.78,655.78 L695.74,655.47 L700.71,655.24 L705.67,655.11 L710.64,655.06 L715.6,655.1 L720.57,655.24 L725.53,655.47 L730.5,655.79 L735.46,656.22 L740.43,656.74 L742.91,657.04 L747.88,657.72 L752.84,658.51 L756.98,659.25 L760.29,659.89 L765.25,660.95 L768.59,661.73 L772.7,662.75 L772.7,662.75 M474.8,668.26 L477.28,666.64 L481.06,664.2 L484.73,661.85 L487.21,660.27 L489.7,658.7 L492.76,656.77 L496.73,654.29 L499.62,652.51 L502.11,650.98 L504.8,649.34 L508.91,646.86 L512.04,644.99 L514.52,643.51 L517.24,641.91 L521.49,639.43 L524.45,637.72 L526.93,636.3 L530.14,634.47 L534.38,632.09 L536.86,630.71 L539.35,629.34 L543.57,627.04 L546.79,625.3 L549.27,623.98 L552.87,622.09 L556.72,620.08 L559.21,618.8 L562.49,617.13 L566.65,615.04 L569.13,613.81 L572.48,612.18 L576.58,610.2 L579.07,609.02 L582.9,607.22 L586.51,605.56 L589,604.43 L593.85,602.27 L596.44,601.13 L599.55,599.79 L603.89,597.95 L606.37,596.92 L611.34,594.9 L613.82,593.91 L617.8,592.36 L621.27,591.03 L624.36,589.88 L628.72,588.29 L631.21,587.4 L636.16,585.69 L638.64,584.85 L643.61,583.23 L646.09,582.44 L651.06,580.91 L654.25,579.97 L658.51,578.75 L663.12,577.49 L665.95,576.75 L670.92,575.5 L673.4,574.9 L678.37,573.77 L683.33,572.7 L685.81,572.2 L690.78,571.25 L695.74,570.39 L698.23,569.98 L703.19,569.24 L708.15,568.57 L713.12,568 L717.27,567.58 L720.57,567.29 L725.53,566.93 L730.5,566.67 L735.46,566.49 L740.43,566.41 L745.39,566.43 L750.36,566.55 L755.32,566.77 L760.29,567.09 L765.25,567.52 L767.74,567.77 L772.7,568.36 L772.7,568.36 M474.8,602.39 L477.28,600.58 L479.77,598.78 L482.25,596.99 L485.26,594.84 L488.74,592.36 L492.18,589.92 L494.66,588.17 L497.14,586.43 L499.62,584.7 L502.88,582.45 L506.48,579.97 L509.56,577.87 L512.04,576.18 L514.52,574.5 L517.44,572.54 L521.16,570.06 L524.45,567.88 L526.93,566.25 L529.41,564.63 L532.5,562.63 L536.34,560.15 L539.35,558.23 L541.83,556.66 L544.31,555.1 L548.12,552.72 L551.76,550.47 L554.24,548.94 L556.72,547.43 L560.28,545.28 L564.17,542.96 L566.65,541.49 L569.13,540.03 L572.89,537.85 L576.58,535.73 L579.07,534.31 L581.58,532.9 L586.02,530.42 L589,528.78 L591.48,527.43 L595.12,525.46 L598.93,523.44 L601.41,522.13 L604.54,520.51 L608.86,518.3 L611.34,517.04 L614.32,515.55 L618.79,513.36 L621.27,512.16 L624.55,510.6 L628.72,508.64 L631.2,507.5 L635.29,505.64 L638.64,504.15 L641.13,503.06 L646.09,500.93 L648.58,499.89 L652.66,498.21 L656.02,496.86 L658.87,495.74 L663.47,493.96 L665.95,493.03 L670.92,491.22 L673.4,490.33 L678.37,488.62 L680.85,487.79 L685.81,486.18 L688.3,485.4 L693.26,483.9 L695.74,483.17 L700.71,481.78 L704.12,480.87 L708.15,479.84 L713.12,478.64 L715.6,478.07 L720.57,476.99 L725.53,475.99 L728.02,475.53 L732.98,474.66 L737.95,473.88 L741.05,473.44 L745.39,472.88 L750.36,472.32 L755.32,471.86 L760.29,471.5 L765.25,471.24 L770.22,471.07 L772.7,471.03 M474.8,535.54 L477.28,533.54 L479.76,531.54 L482.25,529.55 L484.73,527.57 L487.38,525.46 L490.51,522.99 L493.65,520.51 L496.81,518.03 L499.62,515.83 L502.11,513.9 L504.59,511.98 L507.07,510.07 L509.6,508.12 L512.84,505.64 L516.1,503.17 L519.37,500.69 L521.97,498.74 L524.45,496.88 L526.93,495.03 L529.42,493.18 L532.67,490.78 L536.04,488.3 L539.35,485.89 L541.83,484.09 L544.31,482.3 L546.79,480.52 L549.77,478.39 L553.26,475.91 L556.72,473.47 L559.21,471.74 L561.69,470.01 L564.17,468.29 L567.49,466 L571.12,463.53 L574.1,461.51 L576.58,459.84 L579.07,458.18 L582.21,456.1 L585.97,453.62 L589,451.64 L591.48,450.03 L593.96,448.44 L597.49,446.19 L601.41,443.71 L603.89,442.16 L606.37,440.61 L609.39,438.75 L613.46,436.28 L616.3,434.56 L618.79,433.07 L621.75,431.32 L625.97,428.84 L628.72,427.26 L631.2,425.83 L634.63,423.89 L638.64,421.64 L641.13,420.26 L643.61,418.9 L648.15,416.46 L651.06,414.91 L653.54,413.6 L657.6,411.5 L657.6,411.5 M474.8,467.67 L477.28,465.46 L479.76,463.26 L482.26,461.05 L485.07,458.57 L487.89,456.1 L490.71,453.62 L493.55,451.14 L496.39,448.66 L499.24,446.19 L502.1,443.71 L504.59,441.56 L507.07,439.42 L509.56,437.29 L512.04,435.17 L514.52,433.05 L517,430.94 L519.49,428.84 L522.41,426.37 L525.36,423.89 L528.32,421.41 L531.29,418.93 L534.26,416.46 L536.86,414.3 L539.35,412.26 L540.27,411.5" fill="none" stroke="#141414" stroke-width="0.8"/>
<rect x="474.8" y="411.5" width="297.9" height="297.3" fill="none" stroke="#3a3a3a" stroke-width="0.8"/>
<path d="M474.8,708.8 v7.3 M549.27,708.8 v7.3 M623.75,708.8 v7.3 M698.23,708.8 v7.3 M772.7,708.8 v7.3 M474.8,708.8 h-7.3 M474.8,649.34 h-7.3 M474.8,589.88 h-7.3 M474.8,530.42 h-7.3 M474.8,470.96 h-7.3 M474.8,411.5 h-7.3" stroke="#6a6a6a" stroke-width="1" fill="none"/>
<text x="474.8" y="731.8" text-anchor="middle" font-size="11.6" fill="#3a3a3a">2</text>
<text x="549.27" y="731.8" text-anchor="middle" font-size="11.6" fill="#3a3a3a">4</text>
<text x="623.75" y="731.8" text-anchor="middle" font-size="11.6" fill="#3a3a3a">6</text>
<text x="698.23" y="731.8" text-anchor="middle" font-size="11.6" fill="#3a3a3a">8</text>
<text x="772.7" y="731.8" text-anchor="middle" font-size="11.6" fill="#3a3a3a">10</text>
<text x="464.8" y="705.6" text-anchor="end" font-size="11.6" fill="#3a3a3a">0.25</text>
<text x="464.8" y="646.14" text-anchor="end" font-size="11.6" fill="#3a3a3a">0.5</text>
<text x="464.8" y="586.68" text-anchor="end" font-size="11.6" fill="#3a3a3a">0.75</text>
<text x="464.8" y="527.22" text-anchor="end" font-size="11.6" fill="#3a3a3a">1</text>
<text x="464.8" y="467.76" text-anchor="end" font-size="11.6" fill="#3a3a3a">1.25</text>
<text x="464.8" y="408.3" text-anchor="end" font-size="11.6" fill="#3a3a3a">1.5</text>
<text x="623.75" y="755.4" text-anchor="middle" font-size="15" fill="#333">B: Ar</text>
<text transform="translate(437.3,560.15) rotate(-90)" text-anchor="middle" font-size="15" fill="#333">C: Lr</text>
<text x="623.05" y="406.3" text-anchor="middle" font-size="12.2" fill="#333">U (m/s)</text>
<rect x="503.2" y="429.8" width="10.8" height="8.4" fill="#fff" stroke="#222" stroke-width="0.9"/>
<text x="508.6" y="436.55" text-anchor="middle" font-size="7" fill="#2a2a2a">18</text>
<rect x="559" y="461.6" width="10.8" height="8.4" fill="#fff" stroke="#222" stroke-width="0.9"/>
<text x="564.4" y="468.35" text-anchor="middle" font-size="7" fill="#2a2a2a">16</text>
<rect x="603.5" y="513" width="10.8" height="8.4" fill="#fff" stroke="#222" stroke-width="0.9"/>
<text x="608.9" y="519.75" text-anchor="middle" font-size="7" fill="#2a2a2a">14</text>
<rect x="600" y="592.7" width="10.8" height="8.4" fill="#fff" stroke="#222" stroke-width="0.9"/>
<text x="605.4" y="599.45" text-anchor="middle" font-size="7" fill="#2a2a2a">12</text>
<rect x="632.8" y="658.2" width="10.8" height="8.4" fill="#fff" stroke="#222" stroke-width="0.9"/>
<text x="638.2" y="664.95" text-anchor="middle" font-size="7" fill="#2a2a2a">10</text>
<g shape-rendering="crispEdges"><rect x="472.9" y="807.9" width="297.4" height="3.6" fill="url(#c0)"/><rect x="472.9" y="810.9" width="297.4" height="3.6" fill="url(#c1)"/><rect x="472.9" y="813.91" width="297.4" height="3.6" fill="url(#c2)"/><rect x="472.9" y="816.91" width="297.4" height="3.6" fill="url(#c3)"/><rect x="472.9" y="819.91" width="297.4" height="3.6" fill="url(#c4)"/><rect x="472.9" y="822.92" width="297.4" height="3.6" fill="url(#c5)"/><rect x="472.9" y="825.92" width="297.4" height="3.6" fill="url(#c6)"/><rect x="472.9" y="828.92" width="297.4" height="3.6" fill="url(#c7)"/><rect x="472.9" y="831.92" width="297.4" height="3.6" fill="url(#c8)"/><rect x="472.9" y="834.93" width="297.4" height="3.6" fill="url(#c9)"/><rect x="472.9" y="837.93" width="297.4" height="3.6" fill="url(#c10)"/><rect x="472.9" y="840.93" width="297.4" height="3.6" fill="url(#c11)"/><rect x="472.9" y="843.94" width="297.4" height="3.6" fill="url(#c12)"/><rect x="472.9" y="846.94" width="297.4" height="3.6" fill="url(#c13)"/><rect x="472.9" y="849.94" width="297.4" height="3.6" fill="url(#c14)"/><rect x="472.9" y="852.95" width="297.4" height="3.6" fill="url(#c15)"/><rect x="472.9" y="855.95" width="297.4" height="3.6" fill="url(#c16)"/><rect x="472.9" y="858.95" width="297.4" height="3.6" fill="url(#c17)"/><rect x="472.9" y="861.95" width="297.4" height="3.6" fill="url(#c18)"/><rect x="472.9" y="864.96" width="297.4" height="3.6" fill="url(#c19)"/><rect x="472.9" y="867.96" width="297.4" height="3.6" fill="url(#c20)"/><rect x="472.9" y="870.96" width="297.4" height="3.6" fill="url(#c21)"/><rect x="472.9" y="873.97" width="297.4" height="3.6" fill="url(#c22)"/><rect x="472.9" y="876.97" width="297.4" height="3.6" fill="url(#c23)"/><rect x="472.9" y="879.97" width="297.4" height="3.6" fill="url(#c24)"/><rect x="472.9" y="882.98" width="297.4" height="3.6" fill="url(#c25)"/><rect x="472.9" y="885.98" width="297.4" height="3.6" fill="url(#c26)"/><rect x="472.9" y="888.98" width="297.4" height="3.6" fill="url(#c27)"/><rect x="472.9" y="891.98" width="297.4" height="3.6" fill="url(#c28)"/><rect x="472.9" y="894.99" width="297.4" height="3.6" fill="url(#c29)"/><rect x="472.9" y="897.99" width="297.4" height="3.6" fill="url(#c30)"/><rect x="472.9" y="900.99" width="297.4" height="3.6" fill="url(#c31)"/><rect x="472.9" y="904" width="297.4" height="3.6" fill="url(#c32)"/><rect x="472.9" y="907" width="297.4" height="3.6" fill="url(#c33)"/><rect x="472.9" y="910" width="297.4" height="3.6" fill="url(#c34)"/><rect x="472.9" y="913.01" width="297.4" height="3.6" fill="url(#c35)"/><rect x="472.9" y="916.01" width="297.4" height="3.6" fill="url(#c36)"/><rect x="472.9" y="919.01" width="297.4" height="3.6" fill="url(#c37)"/><rect x="472.9" y="922.02" width="297.4" height="3.6" fill="url(#c38)"/><rect x="472.9" y="925.02" width="297.4" height="3.6" fill="url(#c39)"/><rect x="472.9" y="928.02" width="297.4" height="3.6" fill="url(#c40)"/><rect x="472.9" y="931.02" width="297.4" height="3.6" fill="url(#c41)"/><rect x="472.9" y="934.03" width="297.4" height="3.6" fill="url(#c42)"/><rect x="472.9" y="937.03" width="297.4" height="3.6" fill="url(#c43)"/><rect x="472.9" y="940.03" width="297.4" height="3.6" fill="url(#c44)"/><rect x="472.9" y="943.04" width="297.4" height="3.6" fill="url(#c45)"/><rect x="472.9" y="946.04" width="297.4" height="3.6" fill="url(#c46)"/><rect x="472.9" y="949.04" width="297.4" height="3.6" fill="url(#c47)"/><rect x="472.9" y="952.05" width="297.4" height="3.6" fill="url(#c48)"/><rect x="472.9" y="955.05" width="297.4" height="3.6" fill="url(#c49)"/><rect x="472.9" y="958.05" width="297.4" height="3.6" fill="url(#c50)"/><rect x="472.9" y="961.05" width="297.4" height="3.6" fill="url(#c51)"/><rect x="472.9" y="964.06" width="297.4" height="3.6" fill="url(#c52)"/><rect x="472.9" y="967.06" width="297.4" height="3.6" fill="url(#c53)"/><rect x="472.9" y="970.06" width="297.4" height="3.6" fill="url(#c54)"/><rect x="472.9" y="973.07" width="297.4" height="3.6" fill="url(#c55)"/><rect x="472.9" y="976.07" width="297.4" height="3.6" fill="url(#c56)"/><rect x="472.9" y="979.07" width="297.4" height="3.6" fill="url(#c57)"/><rect x="472.9" y="982.08" width="297.4" height="3.6" fill="url(#c58)"/><rect x="472.9" y="985.08" width="297.4" height="3.6" fill="url(#c59)"/><rect x="472.9" y="988.08" width="297.4" height="3.6" fill="url(#c60)"/><rect x="472.9" y="991.08" width="297.4" height="3.6" fill="url(#c61)"/><rect x="472.9" y="994.09" width="297.4" height="3.6" fill="url(#c62)"/><rect x="472.9" y="997.09" width="297.4" height="3.6" fill="url(#c63)"/><rect x="472.9" y="1000.09" width="297.4" height="3.6" fill="url(#c64)"/><rect x="472.9" y="1003.1" width="297.4" height="3.6" fill="url(#c65)"/><rect x="472.9" y="1006.1" width="297.4" height="3.6" fill="url(#c66)"/><rect x="472.9" y="1009.1" width="297.4" height="3.6" fill="url(#c67)"/><rect x="472.9" y="1012.11" width="297.4" height="3.6" fill="url(#c68)"/><rect x="472.9" y="1015.11" width="297.4" height="3.6" fill="url(#c69)"/><rect x="472.9" y="1018.11" width="297.4" height="3.6" fill="url(#c70)"/><rect x="472.9" y="1021.12" width="297.4" height="3.6" fill="url(#c71)"/><rect x="472.9" y="1024.12" width="297.4" height="3.6" fill="url(#c72)"/><rect x="472.9" y="1027.12" width="297.4" height="3.6" fill="url(#c73)"/><rect x="472.9" y="1030.12" width="297.4" height="3.6" fill="url(#c74)"/><rect x="472.9" y="1033.13" width="297.4" height="3.6" fill="url(#c75)"/><rect x="472.9" y="1036.13" width="297.4" height="3.6" fill="url(#c76)"/><rect x="472.9" y="1039.13" width="297.4" height="3.6" fill="url(#c77)"/><rect x="472.9" y="1042.14" width="297.4" height="3.6" fill="url(#c78)"/><rect x="472.9" y="1045.14" width="297.4" height="3.6" fill="url(#c79)"/><rect x="472.9" y="1048.14" width="297.4" height="3.6" fill="url(#c80)"/><rect x="472.9" y="1051.15" width="297.4" height="3.6" fill="url(#c81)"/><rect x="472.9" y="1054.15" width="297.4" height="3.6" fill="url(#c82)"/><rect x="472.9" y="1057.15" width="297.4" height="3.6" fill="url(#c83)"/><rect x="472.9" y="1060.15" width="297.4" height="3.6" fill="url(#c84)"/><rect x="472.9" y="1063.16" width="297.4" height="3.6" fill="url(#c85)"/><rect x="472.9" y="1066.16" width="297.4" height="3.6" fill="url(#c86)"/><rect x="472.9" y="1069.16" width="297.4" height="3.6" fill="url(#c87)"/><rect x="472.9" y="1072.17" width="297.4" height="3.6" fill="url(#c88)"/><rect x="472.9" y="1075.17" width="297.4" height="3.6" fill="url(#c89)"/><rect x="472.9" y="1078.17" width="297.4" height="3.6" fill="url(#c90)"/><rect x="472.9" y="1081.18" width="297.4" height="3.6" fill="url(#c91)"/><rect x="472.9" y="1084.18" width="297.4" height="3.6" fill="url(#c92)"/><rect x="472.9" y="1087.18" width="297.4" height="3.6" fill="url(#c93)"/><rect x="472.9" y="1090.18" width="297.4" height="3.6" fill="url(#c94)"/><rect x="472.9" y="1093.19" width="297.4" height="3.6" fill="url(#c95)"/><rect x="472.9" y="1096.19" width="297.4" height="3.6" fill="url(#c96)"/><rect x="472.9" y="1099.19" width="297.4" height="3.6" fill="url(#c97)"/><rect x="472.9" y="1102.2" width="297.4" height="3" fill="url(#c98)"/></g>
<path d="M610.27,807.9 L610.38,812.86 L610.36,817.81 L610.21,822.76 L609.9,827.72 L609.44,832.67 L609.15,835.15 L608.43,840.11 L607.52,845.06 L606.73,848.67 L605.76,852.5 L604.31,857.45 L603.47,859.93 L601.77,864.48 L600.55,867.36 L599.29,870.1 L596.87,874.79 L595.42,877.27 L593.87,879.75 L591.86,882.69 L589.38,885.95 L586.9,888.87 L584.42,891.51 L581.95,893.9 L579.47,896.07 L576.99,898.05 L574.51,899.85 L571.13,902.04 L567.08,904.34 L564.6,905.57 L561.36,907 L557.16,908.6 L554.46,909.48 L549.73,910.76 L544.77,911.78 L542.29,912.18 L537.34,912.76 L532.38,913.07 L527.42,913.14 L522.47,912.98 L517.51,912.61 L512.55,912.03 L510.07,911.66 L505.12,910.78 L500.16,909.73 L497.68,909.13 L492.73,907.81 L489.95,907 L485.29,905.52 L482.37,904.52 L477.86,902.87 L475.38,901.91 L472.9,900.91 M666.32,807.9 L667.08,812.86 L667.76,817.81 L668.37,822.76 L668.69,825.72 L669.12,830.2 L669.51,835.15 L669.82,840.11 L670.03,845.06 L670.15,850.02 L670.18,854.97 L670.1,859.93 L669.91,864.88 L669.61,869.84 L669.2,874.79 L668.69,879.58 L668.35,882.23 L667.62,887.18 L666.74,892.13 L666.21,894.83 L665.15,899.57 L663.88,904.52 L663.18,907 L661.64,911.95 L660.79,914.43 L658.94,919.39 L657.93,921.87 L656.3,925.58 L654.51,929.3 L653.23,931.77 L651.34,935.2 L648.92,939.21 L647.3,941.68 L645.58,944.16 L643.75,946.64 L641.43,949.58 L638.95,952.47 L636.47,955.15 L633.99,957.64 L631.51,959.95 L629.03,962.1 L626.56,964.11 L623.4,966.46 L619.75,968.94 L616.64,970.85 L614.16,972.27 L611.07,973.89 L606.73,975.94 L604.25,976.99 L599.33,978.85 L596.82,979.68 L591.86,981.13 L589.38,981.75 L584.42,982.82 L579.47,983.66 L576.99,983.99 L572.03,984.51 L567.08,984.83 L562.12,984.97 L557.16,984.92 L552.21,984.71 L547.25,984.34 L542.29,983.82 L539.81,983.49 L534.86,982.74 L529.9,981.85 L527.29,981.33 L522.47,980.25 L517.51,979.03 L515.03,978.36 L510.07,976.94 L507.6,976.19 L502.64,974.58 L500.16,973.74 L495.2,971.96 L492.73,971.02 L487.77,969.07 L485.29,968.04 L481.58,966.46 L477.86,964.82 L475.38,963.69 L472.9,962.53 M708.98,807.9 L710.02,812.86 L710.82,816.89 L711.46,820.29 L712.35,825.24 L713.18,830.2 L713.57,832.67 L714.3,837.63 L714.96,842.59 L715.56,847.54 L715.84,850.02 L716.33,854.97 L716.76,859.93 L717.11,864.88 L717.38,869.84 L717.58,874.79 L717.71,879.75 L717.75,884.7 L717.7,889.66 L717.57,894.61 L717.35,899.57 L717.03,904.52 L716.62,909.48 L716.1,914.43 L715.78,917.17 L715.13,921.87 L714.34,926.82 L713.43,931.77 L712.93,934.25 L711.82,939.21 L710.82,943.27 L709.91,946.64 L708.45,951.6 L707.66,954.07 L705.95,959.03 L705.02,961.5 L703.38,965.63 L701.97,968.94 L700.85,971.41 L698.44,976.37 L697.13,978.85 L695.78,981.33 L693.47,985.25 L691.26,988.76 L689.6,991.24 L687.85,993.71 L686.01,996.19 L683.56,999.3 L681.08,1002.23 L678.6,1004.99 L676.12,1007.57 L673.64,1010 L671.17,1012.28 L668.69,1014.44 L666.21,1016.47 L663.59,1018.49 L660.14,1020.97 L656.39,1023.44 L653.82,1025.01 L651.34,1026.44 L647.69,1028.4 L643.9,1030.25 L641.43,1031.37 L636.62,1033.35 L633.99,1034.33 L629.55,1035.83 L626.56,1036.74 L621.6,1038.06 L619.12,1038.65 L614.16,1039.66 L609.21,1040.49 L606.73,1040.84 L601.77,1041.4 L596.82,1041.79 L591.86,1042.03 L586.9,1042.11 L581.95,1042.05 L576.99,1041.84 L572.03,1041.5 L567.08,1041.03 L564.6,1040.75 L559.64,1040.09 L554.68,1039.3 L549.73,1038.41 L547.25,1037.91 L542.29,1036.84 L538.02,1035.83 L534.86,1035.03 L529.9,1033.69 L527.42,1032.98 L522.47,1031.48 L519.99,1030.7 L515.03,1029.04 L512.55,1028.18 L507.6,1026.38 L505.12,1025.45 L500.16,1023.51 L497.68,1022.5 L494.02,1020.97 L490.25,1019.34 L487.77,1018.24 L482.9,1016.01 L480.33,1014.8 L477.7,1013.53 L472.9,1011.16 L472.9,1011.16 M744.83,807.9 L745.52,810.69 L746.62,815.33 L747.75,820.29 L748.29,822.76 L749.34,827.72 L750.34,832.67 L750.82,835.15 L751.74,840.11 L752.6,845.06 L753.02,847.54 L753.8,852.5 L754.52,857.45 L755.2,862.4 L755.51,864.88 L756.09,869.84 L756.61,874.79 L757.07,879.75 L757.47,884.7 L757.8,889.66 L757.95,892.13 L758.18,897.09 L758.34,902.04 L758.44,907 L758.46,911.95 L758.41,916.91 L758.29,921.87 L758.08,926.82 L757.91,929.99 L757.62,934.25 L757.21,939.21 L756.7,944.16 L756.11,949.12 L755.43,954.01 L755.04,956.55 L754.19,961.5 L753.24,966.46 L752.73,968.94 L751.6,973.89 L750.47,978.44 L749.7,981.33 L748.26,986.28 L747.49,988.76 L745.84,993.71 L744.96,996.19 L743.08,1001.14 L742.08,1003.62 L740.56,1007.18 L738.8,1011.06 L737.61,1013.53 L735.6,1017.48 L733.72,1020.97 L732.31,1023.44 L730.65,1026.23 L728.17,1030.15 L726.01,1033.35 L724.25,1035.83 L722.42,1038.31 L720.49,1040.79 L718.25,1043.52 L715.78,1046.39 L713.3,1049.11 L710.82,1051.67 L708.34,1054.11 L705.86,1056.41 L703.38,1058.6 L700.91,1060.68 L697.87,1063.08 L694.53,1065.56 L690.99,1068.01 L688.51,1069.61 L686.04,1071.14 L682.85,1072.99 L678.6,1075.28 L676.12,1076.52 L673.1,1077.95 L668.69,1079.87 L666.21,1080.86 L661.25,1082.68 L658.77,1083.52 L653.82,1085.03 L651.34,1085.71 L646.38,1086.94 L642.08,1087.86 L638.95,1088.45 L633.99,1089.25 L629.03,1089.89 L624.64,1090.34 L621.6,1090.58 L616.64,1090.86 L611.69,1091 L606.73,1091.01 L601.77,1090.9 L596.82,1090.67 L592.1,1090.34 L589.38,1090.1 L584.42,1089.57 L579.47,1088.94 L574.51,1088.2 L572.03,1087.79 L567.08,1086.89 L562.12,1085.9 L559.64,1085.36 L554.68,1084.22 L549.73,1082.98 L547.25,1082.33 L542.29,1080.95 L539.81,1080.22 L534.86,1078.71 L532.38,1077.92 L527.42,1076.27 L524.94,1075.42 L519.99,1073.64 L517.51,1072.72 L512.55,1070.81 L510.07,1069.83 L505.69,1068.04 L502.64,1066.75 L499.86,1065.56 L495.2,1063.5 L492.73,1062.37 L488.93,1060.61 L485.29,1058.87 L482.81,1057.67 L478.76,1055.65 L475.38,1053.93 L472.9,1052.65 L472.9,1052.65 M505.13,1105.2 L502.64,1104.09 L499.63,1102.72 L495.2,1100.67 L492.73,1099.49 L489.17,1097.77 L485.29,1095.85 L482.81,1094.61 L479.31,1092.81 L475.38,1090.76 L472.9,1089.44 L472.9,1089.44 M770.3,1050.79 L767.82,1055.49 L766.34,1058.13 L764.91,1060.61 L762.87,1063.96 L760.39,1067.81 L758.55,1070.52 L756.79,1072.99 L754.96,1075.47 L752.95,1078.09 L750.47,1081.15 L747.99,1084.06 L745.52,1086.82 L743.04,1089.45 L740.56,1091.95 L738.08,1094.33 L735.6,1096.61 L733.12,1098.78 L730.65,1100.85 L728.17,1102.82 L725.03,1105.2 L725.03,1105.2" fill="none" stroke="#141414" stroke-width="0.8"/>
<rect x="472.9" y="807.9" width="297.4" height="297.3" fill="none" stroke="#3a3a3a" stroke-width="0.8"/>
<path d="M472.9,1105.2 v7.3 M532.38,1105.2 v7.3 M591.86,1105.2 v7.3 M651.34,1105.2 v7.3 M710.82,1105.2 v7.3 M770.3,1105.2 v7.3 M472.9,1105.2 h-7.3 M472.9,1030.88 h-7.3 M472.9,956.55 h-7.3 M472.9,882.23 h-7.3 M472.9,807.9 h-7.3" stroke="#6a6a6a" stroke-width="1" fill="none"/>
<text x="472.9" y="1128.2" text-anchor="middle" font-size="11.6" fill="#3a3a3a">0.13</text>
<text x="532.38" y="1128.2" text-anchor="middle" font-size="11.6" fill="#3a3a3a">0.136</text>
<text x="591.86" y="1128.2" text-anchor="middle" font-size="11.6" fill="#3a3a3a">0.142</text>
<text x="651.34" y="1128.2" text-anchor="middle" font-size="11.6" fill="#3a3a3a">0.148</text>
<text x="710.82" y="1128.2" text-anchor="middle" font-size="11.6" fill="#3a3a3a">0.154</text>
<text x="770.3" y="1128.2" text-anchor="middle" font-size="11.6" fill="#3a3a3a">0.16</text>
<text x="462.9" y="1102" text-anchor="end" font-size="11.6" fill="#3a3a3a">2</text>
<text x="462.9" y="1027.67" text-anchor="end" font-size="11.6" fill="#3a3a3a">4</text>
<text x="462.9" y="953.35" text-anchor="end" font-size="11.6" fill="#3a3a3a">6</text>
<text x="462.9" y="879.02" text-anchor="end" font-size="11.6" fill="#3a3a3a">8</text>
<text x="462.9" y="804.7" text-anchor="end" font-size="11.6" fill="#3a3a3a">10</text>
<text x="621.6" y="1151.8" text-anchor="middle" font-size="15" fill="#333">A: D1 (cm)</text>
<text transform="translate(435.4,956.55) rotate(-90)" text-anchor="middle" font-size="15" fill="#333">B: Ar</text>
<text x="620.9" y="802.7" text-anchor="middle" font-size="12.2" fill="#333">U (m/s)</text>
<rect x="567.8" y="894.2" width="10.8" height="8.4" fill="#fff" stroke="#222" stroke-width="0.9"/>
<text x="573.2" y="900.95" text-anchor="middle" font-size="7" fill="#2a2a2a">12</text>
<rect x="624.5" y="955.3" width="10.8" height="8.4" fill="#fff" stroke="#222" stroke-width="0.9"/>
<text x="629.9" y="962.05" text-anchor="middle" font-size="7" fill="#2a2a2a">13</text>
<rect x="664.6" y="1006.7" width="10.8" height="8.4" fill="#fff" stroke="#222" stroke-width="0.9"/>
<text x="670" y="1013.45" text-anchor="middle" font-size="7" fill="#2a2a2a">14</text>
<rect x="701.8" y="1048.2" width="10.8" height="8.4" fill="#fff" stroke="#222" stroke-width="0.9"/>
<text x="707.2" y="1054.95" text-anchor="middle" font-size="7" fill="#2a2a2a">15</text>
<rect x="746.3" y="1071.2" width="10.8" height="8.4" fill="#fff" stroke="#222" stroke-width="0.9"/>
<text x="751.7" y="1077.95" text-anchor="middle" font-size="7" fill="#2a2a2a">16</text>
<rect x="482.2" y="1088.3" width="10.8" height="8.4" fill="#fff" stroke="#222" stroke-width="0.9"/>
<text x="487.6" y="1095.05" text-anchor="middle" font-size="7" fill="#2a2a2a">16</text>
<text x="378.3" y="383.6" font-size="21.2" fill="#000">(A)</text>
<text x="377.7" y="780.2" font-size="21.2" fill="#000">(B)</text>
<text x="400.1" y="1176.8" font-size="21.2" fill="#000">(C)</text>
</svg>
</body></html>
